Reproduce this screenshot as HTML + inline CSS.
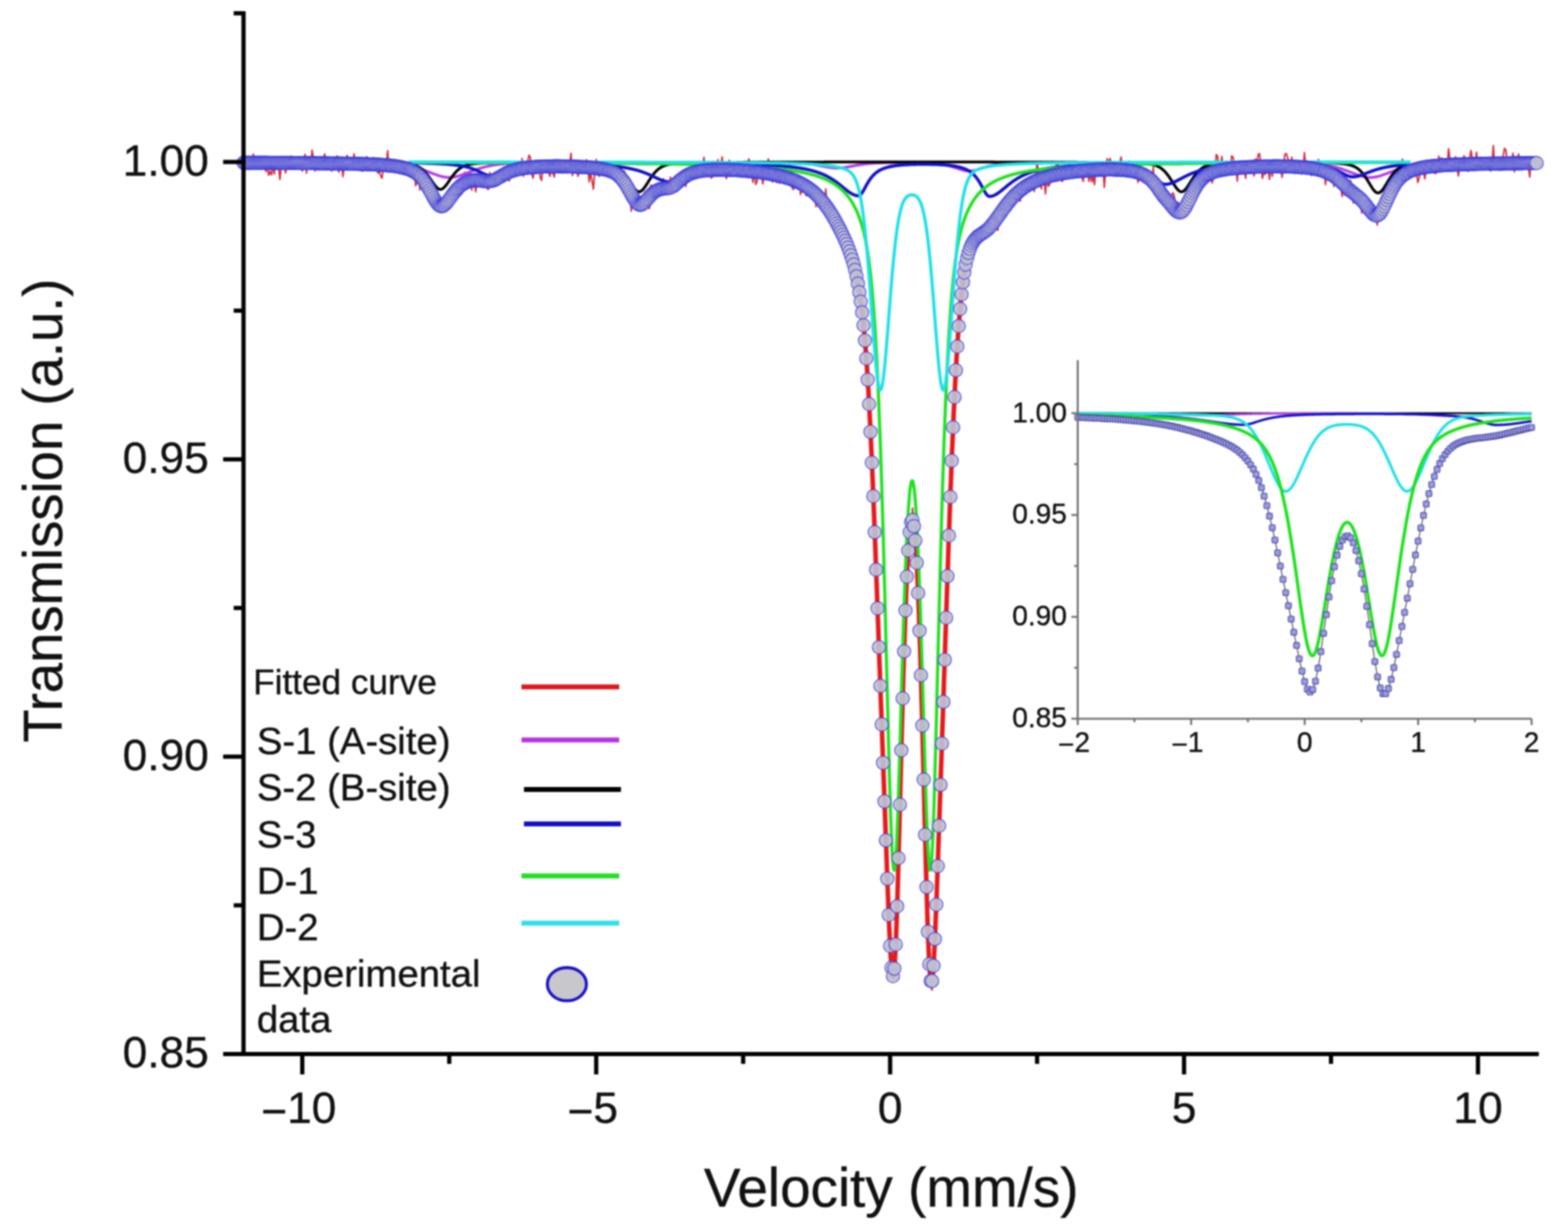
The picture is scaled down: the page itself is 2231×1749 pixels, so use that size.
<!DOCTYPE html><html><head><meta charset="utf-8"><title>Mossbauer spectrum</title><style>html,body{margin:0;padding:0;background:#fff;overflow:hidden;}svg{display:block;}#wrap{filter:blur(1px);width:2231px;height:1749px;}text{font-family:"Liberation Sans",Arial,sans-serif;fill:#111;stroke:#111;stroke-width:0.5px;}</style></head><body>
<div id="wrap">
<svg width="2231" height="1749" viewBox="0 0 2231 1749">
<rect width="100%" height="100%" fill="#fff"/>
<polyline fill="none" stroke="#d42a36" stroke-width="2.2" stroke-linejoin="round" points="346.5,231.6 348.5,228.8 350.4,234.2 352.4,239.9 354.4,235.9 356.4,240.9 358.4,231.1 360.4,219.2 362.4,236.2 364.4,237.4 366.4,227.1 368.4,232.8 370.4,230.7 372.3,240.4 374.3,232.0 376.3,225.2 378.3,244.2 380.3,236.0 382.3,249.5 384.3,243.8 386.3,248.9 388.3,234.0 390.3,247.7 392.3,229.3 394.3,230.4 396.2,233.6 398.2,255.3 400.2,236.9 402.2,232.3 404.2,230.8 406.2,246.1 408.2,236.4 410.2,241.0 412.2,239.5 414.2,222.1 416.2,239.5 418.2,232.3 420.1,223.8 422.1,237.4 424.1,233.1 426.1,231.0 428.1,231.5 430.1,243.5 432.1,231.4 434.1,219.5 436.1,246.5 438.1,224.1 440.1,231.0 442.0,238.1 444.0,213.6 446.0,225.1 448.0,243.4 450.0,231.6 452.0,226.9 454.0,234.1 456.0,226.0 458.0,233.0 460.0,226.2 462.0,219.0 464.0,238.7 465.9,230.5 467.9,236.8 469.9,231.3 471.9,243.6 473.9,237.9 475.9,234.4 477.9,224.2 479.9,222.0 481.9,245.0 483.9,240.1 485.9,229.5 487.9,251.3 489.8,237.1 491.8,233.7 493.8,221.2 495.8,226.5 497.8,236.0 499.8,236.4 501.8,235.4 503.8,218.9 505.8,237.1 507.8,236.0 509.8,230.0 511.7,234.4 513.7,235.2 515.7,243.8 517.7,233.6 519.7,237.7 521.7,222.8 523.7,227.6 525.7,234.0 527.7,227.6 529.7,237.1 531.7,224.2 533.7,231.0 535.6,228.8 537.6,246.3 539.6,243.7 541.6,250.3 543.6,253.6 545.6,237.6 547.6,243.3 549.6,233.6 551.6,214.4 553.6,243.2 555.6,241.5 557.6,234.0 559.5,231.6 561.5,238.1 563.5,238.6 565.5,230.5 567.5,232.5 569.5,247.4 571.5,238.9 573.5,238.3 575.5,248.9 577.5,237.2 579.5,248.2 581.4,231.9 583.4,239.9 585.4,241.7 587.4,249.0 589.4,245.7 591.4,264.4 593.4,257.8 595.4,245.5 597.4,270.5 599.4,244.9 601.4,271.3 603.4,250.6 605.3,268.4 607.3,256.5 609.3,265.9 611.3,285.0 613.3,262.7 615.3,264.7 617.3,282.4 619.3,287.8 621.3,289.8 623.3,293.9 625.3,282.3 627.3,298.4 629.2,293.8 631.2,299.9 633.2,296.7 635.2,300.7 637.2,274.6 639.2,285.1 641.2,271.9 643.2,278.0 645.2,281.9 647.2,275.9 649.2,275.7 651.1,268.3 653.1,271.7 655.1,267.4 657.1,275.9 659.1,269.2 661.1,245.1 663.1,265.7 665.1,268.4 667.1,254.8 669.1,244.3 671.1,270.5 673.1,258.6 675.0,262.3 677.0,272.8 679.0,249.6 681.0,256.8 683.0,256.1 685.0,264.1 687.0,253.1 689.0,262.7 691.0,259.2 693.0,268.4 695.0,269.4 697.0,245.5 698.9,262.3 700.9,254.3 702.9,256.6 704.9,259.5 706.9,259.1 708.9,247.3 710.9,254.8 712.9,252.3 714.9,249.5 716.9,237.6 718.9,241.2 720.8,242.9 722.8,250.8 724.8,257.6 726.8,235.1 728.8,234.2 730.8,250.5 732.8,236.9 734.8,234.2 736.8,233.2 738.8,231.9 740.8,244.3 742.8,225.6 744.7,251.0 746.7,231.1 748.7,234.3 750.7,230.5 752.7,220.9 754.7,224.4 756.7,248.7 758.7,253.6 760.7,230.1 762.7,247.0 764.7,237.6 766.7,229.5 768.6,252.5 770.6,256.8 772.6,234.7 774.6,236.6 776.6,239.2 778.6,236.5 780.6,244.9 782.6,250.9 784.6,238.3 786.6,245.8 788.6,252.0 790.5,232.0 792.5,237.3 794.5,233.0 796.5,246.0 798.5,242.9 800.5,246.1 802.5,245.1 804.5,235.0 806.5,244.2 808.5,233.6 810.5,233.8 812.5,218.2 814.4,250.0 816.4,228.9 818.4,238.0 820.4,237.4 822.4,250.9 824.4,241.8 826.4,230.6 828.4,238.4 830.4,237.0 832.4,240.6 834.4,227.3 836.4,238.4 838.3,258.8 840.3,245.0 842.3,257.0 844.3,269.2 846.3,244.0 848.3,226.9 850.3,239.1 852.3,250.7 854.3,248.9 856.3,229.9 858.3,239.3 860.2,240.7 862.2,242.1 864.2,241.7 866.2,235.2 868.2,238.2 870.2,242.0 872.2,254.6 874.2,255.0 876.2,253.5 878.2,238.3 880.2,261.9 882.2,253.2 884.1,254.2 886.1,268.8 888.1,243.2 890.1,248.6 892.1,269.8 894.1,261.8 896.1,269.1 898.1,300.6 900.1,277.6 902.1,283.9 904.1,285.6 906.1,298.9 908.0,293.1 910.0,293.0 912.0,280.3 914.0,287.3 916.0,289.0 918.0,272.7 920.0,289.9 922.0,286.0 924.0,297.0 926.0,263.3 928.0,267.0 929.9,277.7 931.9,266.5 933.9,270.5 935.9,268.5 937.9,272.1 939.9,271.1 941.9,268.2 943.9,254.3 945.9,263.0 947.9,268.5 949.9,273.1 951.9,273.3 953.8,252.0 955.8,261.4 957.8,264.3 959.8,266.7 961.8,272.1 963.8,260.6 965.8,250.1 967.8,260.1 969.8,256.9 971.8,255.3 973.8,250.8 975.8,265.4 977.7,251.6 979.7,256.3 981.7,239.3 983.7,253.9 985.7,240.6 987.7,231.2 989.7,244.0 991.7,249.9 993.7,242.1 995.7,243.5 997.7,252.4 999.6,238.6 1001.6,223.9 1003.6,244.8 1005.6,244.1 1007.6,251.8 1009.6,238.9 1011.6,253.4 1013.6,252.0 1015.6,229.7 1017.6,250.0 1019.6,231.5 1021.6,227.3 1023.5,239.1 1025.5,236.3 1027.5,223.3 1029.5,243.3 1031.5,247.1 1033.5,254.2 1035.5,241.2 1037.5,227.9 1039.5,232.8 1041.5,250.6 1043.5,249.9 1045.5,246.7 1047.4,239.4 1049.4,244.2 1051.4,240.4 1053.4,239.7 1055.4,245.4 1057.4,243.2 1059.4,241.0 1061.4,243.9 1063.4,238.6 1065.4,226.0 1067.4,238.1 1069.3,243.3 1071.3,259.7 1073.3,240.7 1075.3,262.6 1077.3,257.9 1079.3,237.0 1081.3,238.7 1083.3,246.9 1085.3,261.7 1087.3,249.5 1089.3,252.7 1091.3,240.8 1093.2,226.0 1095.2,245.4 1097.2,255.0 1099.2,259.0 1101.2,249.0 1103.2,250.5 1105.2,260.0 1107.2,248.7 1109.2,261.0 1111.2,240.4 1113.2,241.3 1115.2,241.7 1117.1,256.7 1119.1,248.1 1121.1,254.7 1123.1,257.8 1125.1,258.0 1127.1,267.7 1129.1,269.8 1131.1,249.7 1133.1,259.7 1135.1,256.8 1137.1,250.4 1139.0,276.9 1141.0,269.1 1143.0,261.3 1145.0,260.5 1147.0,278.7 1149.0,257.1 1151.0,266.1 1153.0,280.9 1155.0,279.8 1157.0,265.3 1159.0,270.2 1161.0,294.1 1162.9,265.8 1164.9,274.9 1166.9,270.1 1168.9,288.5 1170.9,290.1 1172.9,300.4 1174.9,268.9 1176.9,296.9 1178.9,283.4 1180.9,307.2 1182.9,302.8 1184.9,323.2 1186.8,314.6 1188.8,305.3 1190.8,329.8 1192.8,311.9 1194.8,322.6 1196.8,339.5 1198.8,338.6 1200.8,342.5 1202.8,343.2 1204.8,352.4 1206.8,360.1 1208.7,360.5 1210.7,372.9 1212.7,381.5 1214.7,376.9 1216.7,376.0 1218.7,407.4 1220.7,403.6 1222.7,421.9 1224.7,438.4 1226.7,436.8 1228.7,467.7 1230.7,470.5 1232.6,516.8 1234.6,536.7 1236.6,577.2 1238.6,621.5 1240.6,652.9 1242.6,707.6 1244.6,751.6 1246.6,811.2 1248.6,875.7 1250.6,921.9 1252.6,975.6 1254.6,1021.9 1256.5,1093.9 1258.5,1140.9 1260.5,1211.9 1262.5,1244.5 1264.5,1312.2 1266.5,1363.0 1268.5,1377.6 1270.5,1378.8 1272.5,1392.5 1274.5,1354.3 1276.5,1296.7 1278.4,1231.6 1280.4,1141.5 1282.4,1075.2 1284.4,1000.6 1286.4,921.4 1288.4,875.7 1290.4,816.5 1292.4,792.4 1294.4,768.7 1296.4,760.1 1298.4,722.8 1300.4,751.8 1302.3,766.9 1304.3,801.2 1306.3,842.4 1308.3,897.1 1310.3,943.2 1312.3,1042.1 1314.3,1123.9 1316.3,1197.3 1318.3,1274.7 1320.3,1318.9 1322.3,1364.4 1324.3,1404.9 1326.2,1408.9 1328.2,1377.7 1330.2,1323.4 1332.2,1313.7 1334.2,1227.7 1336.2,1185.2 1338.2,1107.1 1340.2,1068.1 1342.2,1001.5 1344.2,953.0 1346.2,888.2 1348.1,806.9 1350.1,754.5 1352.1,710.9 1354.1,663.7 1356.1,625.7 1358.1,568.8 1360.1,527.1 1362.1,494.0 1364.1,465.1 1366.1,450.0 1368.1,419.5 1370.1,402.1 1372.0,375.7 1374.0,359.0 1376.0,368.5 1378.0,367.0 1380.0,354.6 1382.0,354.9 1384.0,341.5 1386.0,342.8 1388.0,349.5 1390.0,332.0 1392.0,336.9 1394.0,332.1 1395.9,334.8 1397.9,328.2 1399.9,339.4 1401.9,331.4 1403.9,332.8 1405.9,323.7 1407.9,323.9 1409.9,334.3 1411.9,318.6 1413.9,329.2 1415.9,319.8 1417.8,314.1 1419.8,327.9 1421.8,304.9 1423.8,301.6 1425.8,301.6 1427.8,301.4 1429.8,298.2 1431.8,301.1 1433.8,292.0 1435.8,292.1 1437.8,283.8 1439.8,293.6 1441.7,278.0 1443.7,276.8 1445.7,277.5 1447.7,278.4 1449.7,267.4 1451.7,286.4 1453.7,265.0 1455.7,265.6 1457.7,263.8 1459.7,261.5 1461.7,269.9 1463.7,265.1 1465.6,255.6 1467.6,256.4 1469.6,257.5 1471.6,272.6 1473.6,252.6 1475.6,230.0 1477.6,246.5 1479.6,253.0 1481.6,268.9 1483.6,244.9 1485.6,254.4 1487.5,276.0 1489.5,248.3 1491.5,265.1 1493.5,262.8 1495.5,256.1 1497.5,240.8 1499.5,252.7 1501.5,246.2 1503.5,232.1 1505.5,233.1 1507.5,248.5 1509.5,249.4 1511.4,258.5 1513.4,252.9 1515.4,242.1 1517.4,242.1 1519.4,244.5 1521.4,235.9 1523.4,252.1 1525.4,245.2 1527.4,237.6 1529.4,238.7 1531.4,234.0 1533.4,240.0 1535.3,246.4 1537.3,239.9 1539.3,252.5 1541.3,258.2 1543.3,237.4 1545.3,243.1 1547.3,239.6 1549.3,258.1 1551.3,245.6 1553.3,258.7 1555.3,250.0 1557.2,262.8 1559.2,244.8 1561.2,233.3 1563.2,238.0 1565.2,247.1 1567.2,241.5 1569.2,234.3 1571.2,267.0 1573.2,242.4 1575.2,225.8 1577.2,234.9 1579.2,225.4 1581.1,230.6 1583.1,238.3 1585.1,238.4 1587.1,234.0 1589.1,246.4 1591.1,241.8 1593.1,233.1 1595.1,223.4 1597.1,243.3 1599.1,242.4 1601.1,240.3 1603.1,229.8 1605.0,242.9 1607.0,229.2 1609.0,252.2 1611.0,245.2 1613.0,245.7 1615.0,237.0 1617.0,235.1 1619.0,259.5 1621.0,254.6 1623.0,243.7 1625.0,253.8 1626.9,259.6 1628.9,239.9 1630.9,246.2 1632.9,247.5 1634.9,258.0 1636.9,245.7 1638.9,259.5 1640.9,237.7 1642.9,270.2 1644.9,272.2 1646.9,265.0 1648.9,276.3 1650.8,266.4 1652.8,273.1 1654.8,286.9 1656.8,280.1 1658.8,286.3 1660.8,276.8 1662.8,293.6 1664.8,294.2 1666.8,281.3 1668.8,274.2 1670.8,278.7 1672.8,298.8 1674.7,299.0 1676.7,287.8 1678.7,303.6 1680.7,311.0 1682.7,299.4 1684.7,293.9 1686.7,302.8 1688.7,306.8 1690.7,300.9 1692.7,277.2 1694.7,286.3 1696.6,276.5 1698.6,269.4 1700.6,262.0 1702.6,267.6 1704.6,256.8 1706.6,267.1 1708.6,259.8 1710.6,263.9 1712.6,242.0 1714.6,251.2 1716.6,256.4 1718.6,251.5 1720.5,249.3 1722.5,239.8 1724.5,260.4 1726.5,254.5 1728.5,247.7 1730.5,220.1 1732.5,222.1 1734.5,243.7 1736.5,235.6 1738.5,222.7 1740.5,243.6 1742.5,244.5 1744.4,229.5 1746.4,235.9 1748.4,234.0 1750.4,244.7 1752.4,221.8 1754.4,223.6 1756.4,234.0 1758.4,232.7 1760.4,257.8 1762.4,232.8 1764.4,240.4 1766.3,234.4 1768.3,231.9 1770.3,241.3 1772.3,253.7 1774.3,234.4 1776.3,244.7 1778.3,240.7 1780.3,243.2 1782.3,240.6 1784.3,250.3 1786.3,226.0 1788.3,234.9 1790.2,219.5 1792.2,218.7 1794.2,236.8 1796.2,253.8 1798.2,245.3 1800.2,248.1 1802.2,241.5 1804.2,236.1 1806.2,255.4 1808.2,233.6 1810.2,250.8 1812.2,234.0 1814.1,237.8 1816.1,239.6 1818.1,237.4 1820.1,241.8 1822.1,237.3 1824.1,252.4 1826.1,237.1 1828.1,219.7 1830.1,218.4 1832.1,224.6 1834.1,230.4 1836.0,239.3 1838.0,223.7 1840.0,237.7 1842.0,237.9 1844.0,240.1 1846.0,236.6 1848.0,241.6 1850.0,238.5 1852.0,248.0 1854.0,241.5 1856.0,217.0 1858.0,239.1 1859.9,240.8 1861.9,233.9 1863.9,232.5 1865.9,249.8 1867.9,241.7 1869.9,231.5 1871.9,238.0 1873.9,239.8 1875.9,226.9 1877.9,248.2 1879.9,241.7 1881.9,247.9 1883.8,229.9 1885.8,262.6 1887.8,251.5 1889.8,251.1 1891.8,241.0 1893.8,242.6 1895.8,236.4 1897.8,265.3 1899.8,245.0 1901.8,256.2 1903.8,261.2 1905.7,251.6 1907.7,267.0 1909.7,279.6 1911.7,265.6 1913.7,278.1 1915.7,272.1 1917.7,264.5 1919.7,266.9 1921.7,256.8 1923.7,275.1 1925.7,289.0 1927.7,283.3 1929.6,286.4 1931.6,290.8 1933.6,277.1 1935.6,289.0 1937.6,303.4 1939.6,280.7 1941.6,290.6 1943.6,288.7 1945.6,293.6 1947.6,291.3 1949.6,299.4 1951.6,290.7 1953.5,300.3 1955.5,302.2 1957.5,302.9 1959.5,320.3 1961.5,307.3 1963.5,306.2 1965.5,296.7 1967.5,310.1 1969.5,278.2 1971.5,288.1 1973.5,293.6 1975.4,296.2 1977.4,278.6 1979.4,262.7 1981.4,274.9 1983.4,263.9 1985.4,267.5 1987.4,253.6 1989.4,262.9 1991.4,254.3 1993.4,242.8 1995.4,226.3 1997.4,258.1 1999.3,251.6 2001.3,253.9 2003.3,237.7 2005.3,254.8 2007.3,247.7 2009.3,242.7 2011.3,250.9 2013.3,250.1 2015.3,245.0 2017.3,259.6 2019.3,253.0 2021.3,242.9 2023.2,237.3 2025.2,240.0 2027.2,254.5 2029.2,242.0 2031.2,229.9 2033.2,231.9 2035.2,237.5 2037.2,244.8 2039.2,230.5 2041.2,246.7 2043.2,246.8 2045.1,243.2 2047.1,222.1 2049.1,233.4 2051.1,224.5 2053.1,239.6 2055.1,226.3 2057.1,240.5 2059.1,236.3 2061.1,211.5 2063.1,227.4 2065.1,239.2 2067.1,235.2 2069.0,231.3 2071.0,223.0 2073.0,238.7 2075.0,250.3 2077.0,236.6 2079.0,233.8 2081.0,232.8 2083.0,221.5 2085.0,230.8 2087.0,226.1 2089.0,243.8 2091.0,225.5 2092.9,214.0 2094.9,226.2 2096.9,231.0 2098.9,231.9 2100.9,216.6 2102.9,241.9 2104.9,234.2 2106.9,228.9 2108.9,226.2 2110.9,237.1 2112.9,230.2 2114.8,235.6 2116.8,231.8 2118.8,234.1 2120.8,243.5 2122.8,233.0 2124.8,207.0 2126.8,241.8 2128.8,235.0 2130.8,226.5 2132.8,242.6 2134.8,230.9 2136.8,242.5 2138.7,222.0 2140.7,211.0 2142.7,213.7 2144.7,234.6 2146.7,225.6 2148.7,231.3 2150.7,231.5 2152.7,218.0 2154.7,244.7 2156.7,222.5 2158.7,232.8 2160.7,219.2 2162.6,230.6 2164.6,238.5 2166.6,229.7 2168.6,225.4 2170.6,231.9 2172.6,227.7 2174.6,238.1 2176.6,252.0 2178.6,223.8 2180.6,225.6 2182.6,230.7 2184.5,231.5 2186.5,222.4"/>
<polyline fill="none" stroke="#e41a1c" stroke-width="6.5" stroke-linejoin="round" points="346.5,231.6 346.9,231.6 347.3,231.6 347.7,231.6 348.1,231.6 348.6,231.6 349.0,231.6 349.4,231.6 349.8,231.6 350.2,231.6 350.6,231.6 351.1,231.6 351.5,231.6 351.9,231.6 352.3,231.6 352.7,231.6 353.2,231.6 353.6,231.6 354.0,231.6 354.4,231.6 354.8,231.6 355.2,231.6 355.7,231.6 356.1,231.6 356.5,231.6 356.9,231.6 357.3,231.6 357.8,231.6 358.2,231.6 358.6,231.6 359.0,231.6 359.4,231.6 359.8,231.6 360.3,231.6 360.7,231.6 361.1,231.6 361.5,231.7 361.9,231.7 362.4,231.7 362.8,231.7 363.2,231.7 363.6,231.7 364.0,231.7 364.4,231.7 364.9,231.7 365.3,231.7 365.7,231.7 366.1,231.7 366.5,231.7 367.0,231.7 367.4,231.7 367.8,231.7 368.2,231.7 368.6,231.7 369.0,231.7 369.5,231.7 369.9,231.7 370.3,231.7 370.7,231.7 371.1,231.7 371.6,231.7 372.0,231.7 372.4,231.7 372.8,231.7 373.2,231.7 373.6,231.7 374.1,231.7 374.5,231.7 374.9,231.7 375.3,231.7 375.7,231.7 376.2,231.7 376.6,231.7 377.0,231.7 377.4,231.7 377.8,231.7 378.2,231.7 378.7,231.7 379.1,231.7 379.5,231.7 379.9,231.7 380.3,231.7 380.8,231.7 381.2,231.7 381.6,231.7 382.0,231.8 382.4,231.8 382.8,231.8 383.3,231.8 383.7,231.8 384.1,231.8 384.5,231.8 384.9,231.8 385.4,231.8 385.8,231.8 386.2,231.8 386.6,231.8 387.0,231.8 387.4,231.8 387.9,231.8 388.3,231.8 388.7,231.8 389.1,231.8 389.5,231.8 390.0,231.8 390.4,231.8 390.8,231.8 391.2,231.8 391.6,231.8 392.0,231.8 392.5,231.8 392.9,231.8 393.3,231.8 393.7,231.8 394.1,231.8 394.6,231.8 395.0,231.8 395.4,231.8 395.8,231.8 396.2,231.8 396.6,231.8 397.1,231.8 397.5,231.8 397.9,231.8 398.3,231.8 398.7,231.8 399.2,231.8 399.6,231.9 400.0,231.9 400.4,231.9 400.8,231.9 401.2,231.9 401.7,231.9 402.1,231.9 402.5,231.9 402.9,231.9 403.3,231.9 403.8,231.9 404.2,231.9 404.6,231.9 405.0,231.9 405.4,231.9 405.8,231.9 406.3,231.9 406.7,231.9 407.1,231.9 407.5,231.9 407.9,231.9 408.4,231.9 408.8,231.9 409.2,231.9 409.6,231.9 410.0,231.9 410.4,231.9 410.9,231.9 411.3,231.9 411.7,231.9 412.1,231.9 412.5,231.9 413.0,231.9 413.4,231.9 413.8,231.9 414.2,231.9 414.6,231.9 415.0,232.0 415.5,232.0 415.9,232.0 416.3,232.0 416.7,232.0 417.1,232.0 417.6,232.0 418.0,232.0 418.4,232.0 418.8,232.0 419.2,232.0 419.6,232.0 420.1,232.0 420.5,232.0 420.9,232.0 421.3,232.0 421.7,232.0 422.2,232.0 422.6,232.0 423.0,232.0 423.4,232.0 423.8,232.0 424.2,232.0 424.7,232.0 425.1,232.0 425.5,232.0 425.9,232.0 426.3,232.0 426.8,232.0 427.2,232.0 427.6,232.0 428.0,232.1 428.4,232.1 428.8,232.1 429.3,232.1 429.7,232.1 430.1,232.1 430.5,232.1 430.9,232.1 431.4,232.1 431.8,232.1 432.2,232.1 432.6,232.1 433.0,232.1 433.4,232.1 433.9,232.1 434.3,232.1 434.7,232.1 435.1,232.1 435.5,232.1 436.0,232.1 436.4,232.1 436.8,232.1 437.2,232.1 437.6,232.1 438.0,232.1 438.5,232.1 438.9,232.1 439.3,232.1 439.7,232.2 440.1,232.2 440.6,232.2 441.0,232.2 441.4,232.2 441.8,232.2 442.2,232.2 442.6,232.2 443.1,232.2 443.5,232.2 443.9,232.2 444.3,232.2 444.7,232.2 445.2,232.2 445.6,232.2 446.0,232.2 446.4,232.2 446.8,232.2 447.2,232.2 447.7,232.2 448.1,232.2 448.5,232.2 448.9,232.2 449.3,232.2 449.8,232.3 450.2,232.3 450.6,232.3 451.0,232.3 451.4,232.3 451.8,232.3 452.3,232.3 452.7,232.3 453.1,232.3 453.5,232.3 453.9,232.3 454.4,232.3 454.8,232.3 455.2,232.3 455.6,232.3 456.0,232.3 456.4,232.3 456.9,232.3 457.3,232.3 457.7,232.3 458.1,232.3 458.5,232.3 459.0,232.4 459.4,232.4 459.8,232.4 460.2,232.4 460.6,232.4 461.0,232.4 461.5,232.4 461.9,232.4 462.3,232.4 462.7,232.4 463.1,232.4 463.6,232.4 464.0,232.4 464.4,232.4 464.8,232.4 465.2,232.4 465.6,232.4 466.1,232.4 466.5,232.4 466.9,232.5 467.3,232.5 467.7,232.5 468.2,232.5 468.6,232.5 469.0,232.5 469.4,232.5 469.8,232.5 470.2,232.5 470.7,232.5 471.1,232.5 471.5,232.5 471.9,232.5 472.3,232.5 472.8,232.5 473.2,232.5 473.6,232.5 474.0,232.5 474.4,232.6 474.8,232.6 475.3,232.6 475.7,232.6 476.1,232.6 476.5,232.6 476.9,232.6 477.4,232.6 477.8,232.6 478.2,232.6 478.6,232.6 479.0,232.6 479.4,232.6 479.9,232.6 480.3,232.6 480.7,232.6 481.1,232.7 481.5,232.7 482.0,232.7 482.4,232.7 482.8,232.7 483.2,232.7 483.6,232.7 484.0,232.7 484.5,232.7 484.9,232.7 485.3,232.7 485.7,232.7 486.1,232.7 486.6,232.7 487.0,232.8 487.4,232.8 487.8,232.8 488.2,232.8 488.6,232.8 489.1,232.8 489.5,232.8 489.9,232.8 490.3,232.8 490.7,232.8 491.2,232.8 491.6,232.8 492.0,232.8 492.4,232.9 492.8,232.9 493.2,232.9 493.7,232.9 494.1,232.9 494.5,232.9 494.9,232.9 495.3,232.9 495.8,232.9 496.2,232.9 496.6,232.9 497.0,232.9 497.4,233.0 497.8,233.0 498.3,233.0 498.7,233.0 499.1,233.0 499.5,233.0 499.9,233.0 500.4,233.0 500.8,233.0 501.2,233.0 501.6,233.0 502.0,233.1 502.4,233.1 502.9,233.1 503.3,233.1 503.7,233.1 504.1,233.1 504.5,233.1 505.0,233.1 505.4,233.1 505.8,233.1 506.2,233.2 506.6,233.2 507.0,233.2 507.5,233.2 507.9,233.2 508.3,233.2 508.7,233.2 509.1,233.2 509.6,233.2 510.0,233.3 510.4,233.3 510.8,233.3 511.2,233.3 511.6,233.3 512.1,233.3 512.5,233.3 512.9,233.3 513.3,233.3 513.7,233.4 514.2,233.4 514.6,233.4 515.0,233.4 515.4,233.4 515.8,233.4 516.2,233.4 516.7,233.4 517.1,233.5 517.5,233.5 517.9,233.5 518.3,233.5 518.8,233.5 519.2,233.5 519.6,233.5 520.0,233.6 520.4,233.6 520.8,233.6 521.3,233.6 521.7,233.6 522.1,233.6 522.5,233.6 522.9,233.7 523.4,233.7 523.8,233.7 524.2,233.7 524.6,233.7 525.0,233.7 525.4,233.7 525.9,233.8 526.3,233.8 526.7,233.8 527.1,233.8 527.5,233.8 528.0,233.8 528.4,233.9 528.8,233.9 529.2,233.9 529.6,233.9 530.0,233.9 530.5,234.0 530.9,234.0 531.3,234.0 531.7,234.0 532.1,234.0 532.6,234.0 533.0,234.1 533.4,234.1 533.8,234.1 534.2,234.1 534.7,234.1 535.1,234.2 535.5,234.2 535.9,234.2 536.3,234.2 536.7,234.3 537.2,234.3 537.6,234.3 538.0,234.3 538.4,234.3 538.8,234.4 539.3,234.4 539.7,234.4 540.1,234.4 540.5,234.5 540.9,234.5 541.3,234.5 541.8,234.5 542.2,234.6 542.6,234.6 543.0,234.6 543.4,234.7 543.9,234.7 544.3,234.7 544.7,234.7 545.1,234.8 545.5,234.8 545.9,234.8 546.4,234.9 546.8,234.9 547.2,234.9 547.6,235.0 548.0,235.0 548.5,235.0 548.9,235.1 549.3,235.1 549.7,235.1 550.1,235.2 550.5,235.2 551.0,235.2 551.4,235.3 551.8,235.3 552.2,235.4 552.6,235.4 553.1,235.4 553.5,235.5 553.9,235.5 554.3,235.6 554.7,235.6 555.1,235.6 555.6,235.7 556.0,235.7 556.4,235.8 556.8,235.8 557.2,235.9 557.7,235.9 558.1,236.0 558.5,236.0 558.9,236.1 559.3,236.1 559.7,236.2 560.2,236.2 560.6,236.3 561.0,236.4 561.4,236.4 561.8,236.5 562.3,236.5 562.7,236.6 563.1,236.6 563.5,236.7 563.9,236.8 564.3,236.8 564.8,236.9 565.2,237.0 565.6,237.0 566.0,237.1 566.4,237.2 566.9,237.3 567.3,237.3 567.7,237.4 568.1,237.5 568.5,237.6 568.9,237.6 569.4,237.7 569.8,237.8 570.2,237.9 570.6,238.0 571.0,238.1 571.5,238.1 571.9,238.2 572.3,238.3 572.7,238.4 573.1,238.5 573.5,238.6 574.0,238.7 574.4,238.8 574.8,238.9 575.2,239.0 575.6,239.1 576.1,239.3 576.5,239.4 576.9,239.5 577.3,239.6 577.7,239.7 578.1,239.8 578.6,240.0 579.0,240.1 579.4,240.2 579.8,240.4 580.2,240.5 580.7,240.6 581.1,240.8 581.5,240.9 581.9,241.1 582.3,241.2 582.7,241.4 583.2,241.6 583.6,241.7 584.0,241.9 584.4,242.1 584.8,242.3 585.3,242.4 585.7,242.6 586.1,242.8 586.5,243.0 586.9,243.2 587.3,243.4 587.8,243.7 588.2,243.9 588.6,244.1 589.0,244.3 589.4,244.6 589.9,244.8 590.3,245.1 590.7,245.4 591.1,245.6 591.5,245.9 591.9,246.2 592.4,246.5 592.8,246.8 593.2,247.1 593.6,247.4 594.0,247.7 594.5,248.1 594.9,248.4 595.3,248.8 595.7,249.1 596.1,249.5 596.5,249.9 597.0,250.3 597.4,250.7 597.8,251.1 598.2,251.5 598.6,252.0 599.1,252.4 599.5,252.9 599.9,253.3 600.3,253.8 600.7,254.3 601.1,254.8 601.6,255.3 602.0,255.9 602.4,256.4 602.8,257.0 603.2,257.5 603.7,258.1 604.1,258.7 604.5,259.3 604.9,259.9 605.3,260.5 605.7,261.2 606.2,261.8 606.6,262.5 607.0,263.2 607.4,263.8 607.8,264.5 608.3,265.2 608.7,265.9 609.1,266.7 609.5,267.4 609.9,268.1 610.3,268.9 610.8,269.6 611.2,270.4 611.6,271.2 612.0,271.9 612.4,272.7 612.9,273.5 613.3,274.3 613.7,275.1 614.1,275.9 614.5,276.7 614.9,277.4 615.4,278.2 615.8,279.0 616.2,279.8 616.6,280.6 617.0,281.3 617.5,282.1 617.9,282.8 618.3,283.6 618.7,284.3 619.1,285.0 619.5,285.7 620.0,286.4 620.4,287.0 620.8,287.6 621.2,288.2 621.6,288.8 622.1,289.4 622.5,289.9 622.9,290.4 623.3,290.8 623.7,291.3 624.1,291.7 624.6,292.0 625.0,292.3 625.4,292.6 625.8,292.9 626.2,293.1 626.7,293.2 627.1,293.3 627.5,293.4 627.9,293.5 628.3,293.5 628.7,293.4 629.2,293.4 629.6,293.3 630.0,293.1 630.4,292.9 630.8,292.7 631.3,292.5 631.7,292.2 632.1,291.9 632.5,291.5 632.9,291.2 633.3,290.8 633.8,290.4 634.2,289.9 634.6,289.5 635.0,289.0 635.4,288.5 635.9,288.0 636.3,287.5 636.7,287.0 637.1,286.5 637.5,285.9 637.9,285.4 638.4,284.8 638.8,284.2 639.2,283.6 639.6,283.1 640.0,282.5 640.5,281.9 640.9,281.3 641.3,280.7 641.7,280.2 642.1,279.6 642.5,279.0 643.0,278.4 643.4,277.8 643.8,277.3 644.2,276.7 644.6,276.2 645.1,275.6 645.5,275.1 645.9,274.5 646.3,274.0 646.7,273.4 647.1,272.9 647.6,272.4 648.0,271.9 648.4,271.4 648.8,270.9 649.2,270.4 649.7,270.0 650.1,269.5 650.5,269.0 650.9,268.6 651.3,268.2 651.7,267.7 652.2,267.3 652.6,266.9 653.0,266.5 653.4,266.1 653.8,265.7 654.3,265.4 654.7,265.0 655.1,264.6 655.5,264.3 655.9,264.0 656.3,263.6 656.8,263.3 657.2,263.0 657.6,262.7 658.0,262.4 658.4,262.1 658.9,261.8 659.3,261.6 659.7,261.3 660.1,261.1 660.5,260.8 660.9,260.6 661.4,260.3 661.8,260.1 662.2,259.9 662.6,259.7 663.0,259.5 663.5,259.3 663.9,259.1 664.3,258.9 664.7,258.8 665.1,258.6 665.5,258.5 666.0,258.3 666.4,258.2 666.8,258.0 667.2,257.9 667.6,257.8 668.1,257.6 668.5,257.5 668.9,257.4 669.3,257.3 669.7,257.2 670.1,257.1 670.6,257.0 671.0,257.0 671.4,256.9 671.8,256.8 672.2,256.8 672.7,256.7 673.1,256.6 673.5,256.6 673.9,256.6 674.3,256.5 674.7,256.5 675.2,256.5 675.6,256.4 676.0,256.4 676.4,256.4 676.8,256.4 677.3,256.4 677.7,256.4 678.1,256.4 678.5,256.4 678.9,256.4 679.3,256.5 679.8,256.5 680.2,256.5 680.6,256.5 681.0,256.6 681.4,256.6 681.9,256.7 682.3,256.7 682.7,256.7 683.1,256.8 683.5,256.9 683.9,256.9 684.4,257.0 684.8,257.0 685.2,257.1 685.6,257.1 686.0,257.2 686.5,257.3 686.9,257.3 687.3,257.4 687.7,257.5 688.1,257.5 688.5,257.6 689.0,257.6 689.4,257.7 689.8,257.8 690.2,257.8 690.6,257.9 691.1,257.9 691.5,257.9 691.9,258.0 692.3,258.0 692.7,258.0 693.1,258.0 693.6,258.1 694.0,258.1 694.4,258.1 694.8,258.1 695.2,258.0 695.7,258.0 696.1,258.0 696.5,257.9 696.9,257.9 697.3,257.8 697.7,257.8 698.2,257.7 698.6,257.6 699.0,257.5 699.4,257.4 699.8,257.3 700.3,257.2 700.7,257.1 701.1,256.9 701.5,256.8 701.9,256.7 702.3,256.5 702.8,256.3 703.2,256.2 703.6,256.0 704.0,255.8 704.4,255.6 704.9,255.4 705.3,255.2 705.7,255.0 706.1,254.8 706.5,254.5 706.9,254.3 707.4,254.1 707.8,253.8 708.2,253.6 708.6,253.4 709.0,253.1 709.5,252.9 709.9,252.6 710.3,252.4 710.7,252.1 711.1,251.9 711.5,251.6 712.0,251.4 712.4,251.1 712.8,250.9 713.2,250.7 713.6,250.4 714.1,250.2 714.5,249.9 714.9,249.7 715.3,249.4 715.7,249.2 716.1,249.0 716.6,248.7 717.0,248.5 717.4,248.3 717.8,248.0 718.2,247.8 718.7,247.6 719.1,247.4 719.5,247.2 719.9,247.0 720.3,246.8 720.7,246.5 721.2,246.3 721.6,246.1 722.0,246.0 722.4,245.8 722.8,245.6 723.3,245.4 723.7,245.2 724.1,245.0 724.5,244.8 724.9,244.7 725.3,244.5 725.8,244.3 726.2,244.2 726.6,244.0 727.0,243.9 727.4,243.7 727.9,243.6 728.3,243.4 728.7,243.3 729.1,243.1 729.5,243.0 729.9,242.8 730.4,242.7 730.8,242.6 731.2,242.4 731.6,242.3 732.0,242.2 732.5,242.1 732.9,241.9 733.3,241.8 733.7,241.7 734.1,241.6 734.5,241.5 735.0,241.4 735.4,241.3 735.8,241.2 736.2,241.1 736.6,241.0 737.1,240.9 737.5,240.8 737.9,240.7 738.3,240.6 738.7,240.5 739.1,240.4 739.6,240.3 740.0,240.3 740.4,240.2 740.8,240.1 741.2,240.0 741.7,239.9 742.1,239.9 742.5,239.8 742.9,239.7 743.3,239.6 743.8,239.6 744.2,239.5 744.6,239.4 745.0,239.4 745.4,239.3 745.8,239.2 746.3,239.2 746.7,239.1 747.1,239.1 747.5,239.0 747.9,239.0 748.4,238.9 748.8,238.8 749.2,238.8 749.6,238.7 750.0,238.7 750.4,238.6 750.9,238.6 751.3,238.5 751.7,238.5 752.1,238.4 752.5,238.4 753.0,238.4 753.4,238.3 753.8,238.3 754.2,238.2 754.6,238.2 755.0,238.2 755.5,238.1 755.9,238.1 756.3,238.0 756.7,238.0 757.1,238.0 757.6,237.9 758.0,237.9 758.4,237.9 758.8,237.8 759.2,237.8 759.6,237.8 760.1,237.7 760.5,237.7 760.9,237.7 761.3,237.6 761.7,237.6 762.2,237.6 762.6,237.6 763.0,237.5 763.4,237.5 763.8,237.5 764.2,237.5 764.7,237.4 765.1,237.4 765.5,237.4 765.9,237.4 766.3,237.3 766.8,237.3 767.2,237.3 767.6,237.3 768.0,237.3 768.4,237.2 768.8,237.2 769.3,237.2 769.7,237.2 770.1,237.2 770.5,237.2 770.9,237.1 771.4,237.1 771.8,237.1 772.2,237.1 772.6,237.1 773.0,237.1 773.4,237.0 773.9,237.0 774.3,237.0 774.7,237.0 775.1,237.0 775.5,237.0 776.0,237.0 776.4,236.9 776.8,236.9 777.2,236.9 777.6,236.9 778.0,236.9 778.5,236.9 778.9,236.9 779.3,236.9 779.7,236.9 780.1,236.9 780.6,236.9 781.0,236.8 781.4,236.8 781.8,236.8 782.2,236.8 782.6,236.8 783.1,236.8 783.5,236.8 783.9,236.8 784.3,236.8 784.7,236.8 785.2,236.8 785.6,236.8 786.0,236.8 786.4,236.8 786.8,236.8 787.2,236.8 787.7,236.8 788.1,236.8 788.5,236.7 788.9,236.7 789.3,236.7 789.8,236.7 790.2,236.7 790.6,236.7 791.0,236.7 791.4,236.7 791.8,236.7 792.3,236.7 792.7,236.7 793.1,236.7 793.5,236.7 793.9,236.7 794.4,236.7 794.8,236.7 795.2,236.7 795.6,236.7 796.0,236.7 796.4,236.7 796.9,236.7 797.3,236.8 797.7,236.8 798.1,236.8 798.5,236.8 799.0,236.8 799.4,236.8 799.8,236.8 800.2,236.8 800.6,236.8 801.0,236.8 801.5,236.8 801.9,236.8 802.3,236.8 802.7,236.8 803.1,236.8 803.6,236.8 804.0,236.8 804.4,236.8 804.8,236.8 805.2,236.8 805.6,236.9 806.1,236.9 806.5,236.9 806.9,236.9 807.3,236.9 807.7,236.9 808.2,236.9 808.6,236.9 809.0,236.9 809.4,236.9 809.8,236.9 810.2,237.0 810.7,237.0 811.1,237.0 811.5,237.0 811.9,237.0 812.3,237.0 812.8,237.0 813.2,237.0 813.6,237.0 814.0,237.1 814.4,237.1 814.8,237.1 815.3,237.1 815.7,237.1 816.1,237.1 816.5,237.1 816.9,237.2 817.4,237.2 817.8,237.2 818.2,237.2 818.6,237.2 819.0,237.2 819.4,237.3 819.9,237.3 820.3,237.3 820.7,237.3 821.1,237.3 821.5,237.3 822.0,237.4 822.4,237.4 822.8,237.4 823.2,237.4 823.6,237.4 824.0,237.4 824.5,237.5 824.9,237.5 825.3,237.5 825.7,237.5 826.1,237.6 826.6,237.6 827.0,237.6 827.4,237.6 827.8,237.6 828.2,237.7 828.6,237.7 829.1,237.7 829.5,237.7 829.9,237.8 830.3,237.8 830.7,237.8 831.2,237.8 831.6,237.9 832.0,237.9 832.4,237.9 832.8,237.9 833.2,238.0 833.7,238.0 834.1,238.0 834.5,238.1 834.9,238.1 835.3,238.1 835.8,238.1 836.2,238.2 836.6,238.2 837.0,238.2 837.4,238.3 837.8,238.3 838.3,238.3 838.7,238.4 839.1,238.4 839.5,238.4 839.9,238.5 840.4,238.5 840.8,238.6 841.2,238.6 841.6,238.6 842.0,238.7 842.4,238.7 842.9,238.7 843.3,238.8 843.7,238.8 844.1,238.9 844.5,238.9 845.0,238.9 845.4,239.0 845.8,239.0 846.2,239.1 846.6,239.1 847.0,239.2 847.5,239.2 847.9,239.3 848.3,239.3 848.7,239.4 849.1,239.4 849.6,239.5 850.0,239.5 850.4,239.6 850.8,239.6 851.2,239.7 851.6,239.7 852.1,239.8 852.5,239.9 852.9,239.9 853.3,240.0 853.7,240.0 854.2,240.1 854.6,240.2 855.0,240.2 855.4,240.3 855.8,240.4 856.2,240.4 856.7,240.5 857.1,240.6 857.5,240.6 857.9,240.7 858.3,240.8 858.8,240.9 859.2,241.0 859.6,241.0 860.0,241.1 860.4,241.2 860.8,241.3 861.3,241.4 861.7,241.5 862.1,241.6 862.5,241.7 862.9,241.8 863.4,241.9 863.8,242.0 864.2,242.1 864.6,242.2 865.0,242.3 865.4,242.4 865.9,242.5 866.3,242.7 866.7,242.8 867.1,242.9 867.5,243.1 868.0,243.2 868.4,243.4 868.8,243.5 869.2,243.7 869.6,243.8 870.0,244.0 870.5,244.1 870.9,244.3 871.3,244.5 871.7,244.7 872.1,244.9 872.6,245.1 873.0,245.3 873.4,245.5 873.8,245.7 874.2,245.9 874.6,246.2 875.1,246.4 875.5,246.7 875.9,246.9 876.3,247.2 876.7,247.5 877.2,247.8 877.6,248.1 878.0,248.4 878.4,248.7 878.8,249.0 879.2,249.3 879.7,249.7 880.1,250.0 880.5,250.4 880.9,250.8 881.3,251.2 881.8,251.6 882.2,252.0 882.6,252.4 883.0,252.8 883.4,253.3 883.8,253.8 884.3,254.2 884.7,254.7 885.1,255.2 885.5,255.7 885.9,256.3 886.4,256.8 886.8,257.4 887.2,257.9 887.6,258.5 888.0,259.1 888.4,259.7 888.9,260.3 889.3,260.9 889.7,261.6 890.1,262.2 890.5,262.9 891.0,263.6 891.4,264.2 891.8,264.9 892.2,265.6 892.6,266.4 893.0,267.1 893.5,267.8 893.9,268.6 894.3,269.3 894.7,270.1 895.1,270.8 895.6,271.6 896.0,272.4 896.4,273.1 896.8,273.9 897.2,274.7 897.6,275.5 898.1,276.3 898.5,277.0 898.9,277.8 899.3,278.6 899.7,279.3 900.2,280.1 900.6,280.8 901.0,281.6 901.4,282.3 901.8,283.0 902.2,283.7 902.7,284.3 903.1,285.0 903.5,285.6 903.9,286.2 904.3,286.8 904.8,287.3 905.2,287.9 905.6,288.4 906.0,288.8 906.4,289.2 906.8,289.6 907.3,290.0 907.7,290.3 908.1,290.6 908.5,290.8 908.9,291.0 909.4,291.2 909.8,291.3 910.2,291.4 910.6,291.4 911.0,291.5 911.4,291.4 911.9,291.4 912.3,291.2 912.7,291.1 913.1,290.9 913.5,290.7 914.0,290.5 914.4,290.2 914.8,289.9 915.2,289.6 915.6,289.3 916.0,288.9 916.5,288.5 916.9,288.1 917.3,287.7 917.7,287.3 918.1,286.8 918.6,286.4 919.0,285.9 919.4,285.4 919.8,285.0 920.2,284.5 920.6,284.0 921.1,283.5 921.5,283.0 921.9,282.5 922.3,282.0 922.7,281.5 923.2,281.0 923.6,280.6 924.0,280.1 924.4,279.6 924.8,279.1 925.2,278.7 925.7,278.2 926.1,277.8 926.5,277.4 926.9,276.9 927.3,276.5 927.8,276.1 928.2,275.7 928.6,275.4 929.0,275.0 929.4,274.6 929.8,274.3 930.3,273.9 930.7,273.6 931.1,273.3 931.5,273.0 931.9,272.7 932.4,272.4 932.8,272.2 933.2,271.9 933.6,271.7 934.0,271.4 934.4,271.2 934.9,271.0 935.3,270.8 935.7,270.6 936.1,270.4 936.5,270.2 937.0,270.1 937.4,269.9 937.8,269.8 938.2,269.6 938.6,269.5 939.0,269.4 939.5,269.3 939.9,269.2 940.3,269.1 940.7,269.0 941.1,268.9 941.6,268.8 942.0,268.7 942.4,268.7 942.8,268.6 943.2,268.5 943.6,268.5 944.1,268.4 944.5,268.3 944.9,268.3 945.3,268.2 945.7,268.2 946.2,268.1 946.6,268.1 947.0,268.0 947.4,268.0 947.8,267.9 948.2,267.9 948.7,267.8 949.1,267.8 949.5,267.7 949.9,267.6 950.3,267.6 950.8,267.5 951.2,267.5 951.6,267.4 952.0,267.3 952.4,267.2 952.9,267.2 953.3,267.1 953.7,267.0 954.1,266.8 954.5,266.7 954.9,266.5 955.4,266.4 955.8,266.2 956.2,265.9 956.6,265.7 957.0,265.5 957.5,265.2 957.9,264.9 958.3,264.6 958.7,264.3 959.1,264.0 959.5,263.7 960.0,263.4 960.4,263.0 960.8,262.7 961.2,262.3 961.6,262.0 962.1,261.6 962.5,261.2 962.9,260.8 963.3,260.5 963.7,260.1 964.1,259.7 964.6,259.3 965.0,259.0 965.4,258.6 965.8,258.2 966.2,257.8 966.7,257.5 967.1,257.1 967.5,256.7 967.9,256.4 968.3,256.0 968.7,255.6 969.2,255.3 969.6,255.0 970.0,254.6 970.4,254.3 970.8,254.0 971.3,253.6 971.7,253.3 972.1,253.0 972.5,252.7 972.9,252.4 973.3,252.1 973.8,251.8 974.2,251.6 974.6,251.3 975.0,251.0 975.4,250.8 975.9,250.5 976.3,250.3 976.7,250.0 977.1,249.8 977.5,249.5 977.9,249.3 978.4,249.1 978.8,248.9 979.2,248.7 979.6,248.5 980.0,248.3 980.5,248.1 980.9,247.9 981.3,247.7 981.7,247.5 982.1,247.3 982.5,247.1 983.0,247.0 983.4,246.8 983.8,246.7 984.2,246.5 984.6,246.3 985.1,246.2 985.5,246.1 985.9,245.9 986.3,245.8 986.7,245.6 987.1,245.5 987.6,245.4 988.0,245.3 988.4,245.1 988.8,245.0 989.2,244.9 989.7,244.8 990.1,244.7 990.5,244.6 990.9,244.5 991.3,244.4 991.7,244.3 992.2,244.2 992.6,244.1 993.0,244.0 993.4,243.9 993.8,243.8 994.3,243.8 994.7,243.7 995.1,243.6 995.5,243.5 995.9,243.4 996.3,243.4 996.8,243.3 997.2,243.2 997.6,243.2 998.0,243.1 998.4,243.0 998.9,243.0 999.3,242.9 999.7,242.9 1000.1,242.8 1000.5,242.8 1000.9,242.7 1001.4,242.7 1001.8,242.6 1002.2,242.6 1002.6,242.5 1003.0,242.5 1003.5,242.4 1003.9,242.4 1004.3,242.3 1004.7,242.3 1005.1,242.3 1005.5,242.2 1006.0,242.2 1006.4,242.1 1006.8,242.1 1007.2,242.1 1007.6,242.0 1008.1,242.0 1008.5,242.0 1008.9,242.0 1009.3,241.9 1009.7,241.9 1010.1,241.9 1010.6,241.9 1011.0,241.8 1011.4,241.8 1011.8,241.8 1012.2,241.8 1012.7,241.7 1013.1,241.7 1013.5,241.7 1013.9,241.7 1014.3,241.7 1014.7,241.7 1015.2,241.6 1015.6,241.6 1016.0,241.6 1016.4,241.6 1016.8,241.6 1017.3,241.6 1017.7,241.6 1018.1,241.6 1018.5,241.5 1018.9,241.5 1019.3,241.5 1019.8,241.5 1020.2,241.5 1020.6,241.5 1021.0,241.5 1021.4,241.5 1021.9,241.5 1022.3,241.5 1022.7,241.5 1023.1,241.5 1023.5,241.5 1023.9,241.5 1024.4,241.5 1024.8,241.5 1025.2,241.5 1025.6,241.5 1026.0,241.5 1026.5,241.5 1026.9,241.5 1027.3,241.5 1027.7,241.5 1028.1,241.5 1028.5,241.5 1029.0,241.5 1029.4,241.5 1029.8,241.5 1030.2,241.5 1030.6,241.5 1031.1,241.5 1031.5,241.5 1031.9,241.5 1032.3,241.6 1032.7,241.6 1033.1,241.6 1033.6,241.6 1034.0,241.6 1034.4,241.6 1034.8,241.6 1035.2,241.6 1035.7,241.6 1036.1,241.6 1036.5,241.7 1036.9,241.7 1037.3,241.7 1037.7,241.7 1038.2,241.7 1038.6,241.7 1039.0,241.7 1039.4,241.8 1039.8,241.8 1040.3,241.8 1040.7,241.8 1041.1,241.8 1041.5,241.8 1041.9,241.9 1042.3,241.9 1042.8,241.9 1043.2,241.9 1043.6,241.9 1044.0,242.0 1044.4,242.0 1044.9,242.0 1045.3,242.0 1045.7,242.0 1046.1,242.1 1046.5,242.1 1046.9,242.1 1047.4,242.1 1047.8,242.2 1048.2,242.2 1048.6,242.2 1049.0,242.2 1049.5,242.2 1049.9,242.3 1050.3,242.3 1050.7,242.3 1051.1,242.4 1051.5,242.4 1052.0,242.4 1052.4,242.4 1052.8,242.5 1053.2,242.5 1053.6,242.5 1054.1,242.5 1054.5,242.6 1054.9,242.6 1055.3,242.6 1055.7,242.7 1056.1,242.7 1056.6,242.7 1057.0,242.8 1057.4,242.8 1057.8,242.8 1058.2,242.8 1058.7,242.9 1059.1,242.9 1059.5,242.9 1059.9,243.0 1060.3,243.0 1060.7,243.1 1061.2,243.1 1061.6,243.1 1062.0,243.2 1062.4,243.2 1062.8,243.2 1063.3,243.3 1063.7,243.3 1064.1,243.3 1064.5,243.4 1064.9,243.4 1065.3,243.5 1065.8,243.5 1066.2,243.5 1066.6,243.6 1067.0,243.6 1067.4,243.7 1067.9,243.7 1068.3,243.7 1068.7,243.8 1069.1,243.8 1069.5,243.9 1069.9,243.9 1070.4,243.9 1070.8,244.0 1071.2,244.0 1071.6,244.1 1072.0,244.1 1072.5,244.2 1072.9,244.2 1073.3,244.3 1073.7,244.3 1074.1,244.4 1074.5,244.4 1075.0,244.5 1075.4,244.5 1075.8,244.6 1076.2,244.6 1076.6,244.7 1077.1,244.7 1077.5,244.8 1077.9,244.8 1078.3,244.9 1078.7,244.9 1079.1,245.0 1079.6,245.0 1080.0,245.1 1080.4,245.1 1080.8,245.2 1081.2,245.2 1081.7,245.3 1082.1,245.3 1082.5,245.4 1082.9,245.5 1083.3,245.5 1083.7,245.6 1084.2,245.6 1084.6,245.7 1085.0,245.7 1085.4,245.8 1085.8,245.9 1086.3,245.9 1086.7,246.0 1087.1,246.1 1087.5,246.1 1087.9,246.2 1088.3,246.2 1088.8,246.3 1089.2,246.4 1089.6,246.4 1090.0,246.5 1090.4,246.6 1090.9,246.6 1091.3,246.7 1091.7,246.8 1092.1,246.8 1092.5,246.9 1092.9,247.0 1093.4,247.0 1093.8,247.1 1094.2,247.2 1094.6,247.3 1095.0,247.3 1095.5,247.4 1095.9,247.5 1096.3,247.6 1096.7,247.6 1097.1,247.7 1097.5,247.8 1098.0,247.9 1098.4,247.9 1098.8,248.0 1099.2,248.1 1099.6,248.2 1100.1,248.3 1100.5,248.4 1100.9,248.4 1101.3,248.5 1101.7,248.6 1102.1,248.7 1102.6,248.8 1103.0,248.9 1103.4,248.9 1103.8,249.0 1104.2,249.1 1104.7,249.2 1105.1,249.3 1105.5,249.4 1105.9,249.5 1106.3,249.6 1106.7,249.7 1107.2,249.8 1107.6,249.9 1108.0,250.0 1108.4,250.1 1108.8,250.2 1109.3,250.3 1109.7,250.4 1110.1,250.5 1110.5,250.6 1110.9,250.7 1111.3,250.8 1111.8,250.9 1112.2,251.0 1112.6,251.1 1113.0,251.2 1113.4,251.3 1113.9,251.4 1114.3,251.5 1114.7,251.6 1115.1,251.8 1115.5,251.9 1115.9,252.0 1116.4,252.1 1116.8,252.2 1117.2,252.3 1117.6,252.5 1118.0,252.6 1118.5,252.7 1118.9,252.8 1119.3,253.0 1119.7,253.1 1120.1,253.2 1120.5,253.3 1121.0,253.5 1121.4,253.6 1121.8,253.7 1122.2,253.9 1122.6,254.0 1123.1,254.1 1123.5,254.3 1123.9,254.4 1124.3,254.6 1124.7,254.7 1125.1,254.9 1125.6,255.0 1126.0,255.2 1126.4,255.3 1126.8,255.5 1127.2,255.6 1127.7,255.8 1128.1,255.9 1128.5,256.1 1128.9,256.2 1129.3,256.4 1129.7,256.6 1130.2,256.7 1130.6,256.9 1131.0,257.1 1131.4,257.2 1131.8,257.4 1132.3,257.6 1132.7,257.8 1133.1,258.0 1133.5,258.1 1133.9,258.3 1134.3,258.5 1134.8,258.7 1135.2,258.9 1135.6,259.1 1136.0,259.3 1136.4,259.5 1136.9,259.7 1137.3,259.9 1137.7,260.1 1138.1,260.3 1138.5,260.5 1138.9,260.7 1139.4,260.9 1139.8,261.1 1140.2,261.4 1140.6,261.6 1141.0,261.8 1141.5,262.0 1141.9,262.3 1142.3,262.5 1142.7,262.7 1143.1,263.0 1143.5,263.2 1144.0,263.5 1144.4,263.7 1144.8,264.0 1145.2,264.2 1145.6,264.5 1146.1,264.7 1146.5,265.0 1146.9,265.3 1147.3,265.5 1147.7,265.8 1148.1,266.1 1148.6,266.4 1149.0,266.7 1149.4,267.0 1149.8,267.2 1150.2,267.5 1150.7,267.8 1151.1,268.1 1151.5,268.4 1151.9,268.8 1152.3,269.1 1152.7,269.4 1153.2,269.7 1153.6,270.0 1154.0,270.4 1154.4,270.7 1154.8,271.0 1155.3,271.4 1155.7,271.7 1156.1,272.1 1156.5,272.4 1156.9,272.8 1157.3,273.1 1157.8,273.5 1158.2,273.9 1158.6,274.2 1159.0,274.6 1159.4,275.0 1159.9,275.4 1160.3,275.8 1160.7,276.2 1161.1,276.6 1161.5,277.0 1162.0,277.4 1162.4,277.8 1162.8,278.2 1163.2,278.6 1163.6,279.1 1164.0,279.5 1164.5,279.9 1164.9,280.4 1165.3,280.8 1165.7,281.3 1166.1,281.7 1166.6,282.2 1167.0,282.7 1167.4,283.2 1167.8,283.6 1168.2,284.1 1168.6,284.6 1169.1,285.1 1169.5,285.6 1169.9,286.1 1170.3,286.6 1170.7,287.1 1171.2,287.6 1171.6,288.2 1172.0,288.7 1172.4,289.2 1172.8,289.8 1173.2,290.3 1173.7,290.9 1174.1,291.4 1174.5,292.0 1174.9,292.6 1175.3,293.1 1175.8,293.7 1176.2,294.3 1176.6,294.9 1177.0,295.5 1177.4,296.1 1177.8,296.7 1178.3,297.3 1178.7,297.9 1179.1,298.5 1179.5,299.2 1179.9,299.8 1180.4,300.4 1180.8,301.1 1181.2,301.7 1181.6,302.4 1182.0,303.0 1182.4,303.7 1182.9,304.4 1183.3,305.0 1183.7,305.7 1184.1,306.4 1184.5,307.1 1185.0,307.8 1185.4,308.5 1185.8,309.2 1186.2,309.9 1186.6,310.6 1187.0,311.3 1187.5,312.1 1187.9,312.8 1188.3,313.5 1188.7,314.3 1189.1,315.0 1189.6,315.8 1190.0,316.5 1190.4,317.3 1190.8,318.1 1191.2,318.9 1191.6,319.6 1192.1,320.4 1192.5,321.2 1192.9,322.0 1193.3,322.8 1193.7,323.6 1194.2,324.4 1194.6,325.3 1195.0,326.1 1195.4,326.9 1195.8,327.8 1196.2,328.6 1196.7,329.5 1197.1,330.3 1197.5,331.2 1197.9,332.0 1198.3,332.9 1198.8,333.8 1199.2,334.7 1199.6,335.6 1200.0,336.5 1200.4,337.4 1200.8,338.3 1201.3,339.3 1201.7,340.2 1202.1,341.1 1202.5,342.1 1202.9,343.1 1203.4,344.0 1203.8,345.0 1204.2,346.0 1204.6,347.0 1205.0,348.0 1205.4,349.1 1205.9,350.1 1206.3,351.1 1206.7,352.2 1207.1,353.3 1207.5,354.4 1208.0,355.5 1208.4,356.6 1208.8,357.7 1209.2,358.9 1209.6,360.1 1210.0,361.3 1210.5,362.5 1210.9,363.7 1211.3,365.0 1211.7,366.3 1212.1,367.6 1212.6,368.9 1213.0,370.3 1213.4,371.7 1213.8,373.1 1214.2,374.6 1214.6,376.1 1215.1,377.7 1215.5,379.3 1215.9,380.9 1216.3,382.6 1216.7,384.3 1217.2,386.1 1217.6,387.9 1218.0,389.8 1218.4,391.8 1218.8,393.8 1219.2,395.9 1219.7,398.0 1220.1,400.2 1220.5,402.6 1220.9,404.9 1221.3,407.4 1221.8,410.0 1222.2,412.5 1222.6,415.2 1223.0,417.9 1223.4,420.6 1223.8,423.4 1224.3,426.3 1224.7,429.3 1225.1,432.3 1225.5,435.5 1225.9,438.7 1226.4,442.1 1226.8,445.5 1227.2,449.1 1227.6,452.9 1228.0,456.7 1228.4,460.7 1228.9,464.9 1229.3,469.2 1229.7,473.6 1230.1,478.3 1230.5,483.1 1231.0,488.1 1231.4,493.2 1231.8,498.6 1232.2,504.1 1232.6,509.9 1233.0,515.8 1233.5,521.9 1233.9,528.3 1234.3,534.8 1234.7,541.6 1235.1,548.5 1235.6,555.7 1236.0,563.1 1236.4,570.7 1236.8,578.4 1237.2,586.4 1237.6,594.6 1238.1,603.0 1238.5,611.6 1238.9,620.4 1239.3,629.4 1239.7,638.6 1240.2,647.9 1240.6,657.5 1241.0,667.2 1241.4,677.1 1241.8,687.1 1242.2,697.3 1242.7,707.7 1243.1,718.2 1243.5,728.8 1243.9,739.6 1244.3,750.5 1244.8,761.5 1245.2,772.6 1245.6,783.8 1246.0,795.0 1246.4,806.4 1246.8,817.8 1247.3,829.3 1247.7,840.8 1248.1,852.4 1248.5,864.0 1248.9,875.6 1249.4,887.2 1249.8,898.8 1250.2,910.5 1250.6,922.1 1251.0,933.7 1251.4,945.3 1251.9,956.9 1252.3,968.4 1252.7,980.0 1253.1,991.5 1253.5,1003.0 1254.0,1014.5 1254.4,1026.0 1254.8,1037.4 1255.2,1048.9 1255.6,1060.4 1256.0,1071.8 1256.5,1083.3 1256.9,1094.8 1257.3,1106.3 1257.7,1117.9 1258.1,1129.5 1258.6,1141.0 1259.0,1152.7 1259.4,1164.3 1259.8,1175.9 1260.2,1187.5 1260.6,1199.2 1261.1,1210.7 1261.5,1222.3 1261.9,1233.8 1262.3,1245.2 1262.7,1256.4 1263.2,1267.6 1263.6,1278.5 1264.0,1289.2 1264.4,1299.6 1264.8,1309.8 1265.2,1319.5 1265.7,1328.9 1266.1,1337.8 1266.5,1346.1 1266.9,1353.9 1267.3,1361.1 1267.8,1367.5 1268.2,1373.2 1268.6,1378.2 1269.0,1382.2 1269.4,1385.4 1269.8,1387.6 1270.3,1388.9 1270.7,1389.1 1271.1,1388.3 1271.5,1386.5 1271.9,1383.6 1272.4,1379.7 1272.8,1374.7 1273.2,1368.6 1273.6,1361.6 1274.0,1353.6 1274.4,1344.6 1274.9,1334.7 1275.3,1324.0 1275.7,1312.5 1276.1,1300.2 1276.5,1287.2 1277.0,1273.7 1277.4,1259.5 1277.8,1244.9 1278.2,1229.9 1278.6,1214.5 1279.0,1198.8 1279.5,1182.8 1279.9,1166.7 1280.3,1150.5 1280.7,1134.2 1281.1,1117.9 1281.6,1101.6 1282.0,1085.4 1282.4,1069.3 1282.8,1053.3 1283.2,1037.6 1283.6,1022.0 1284.1,1006.8 1284.5,991.8 1284.9,977.1 1285.3,962.7 1285.7,948.7 1286.2,935.1 1286.6,921.8 1287.0,909.0 1287.4,896.5 1287.8,884.5 1288.2,872.9 1288.7,861.8 1289.1,851.1 1289.5,840.9 1289.9,831.1 1290.3,821.9 1290.8,813.1 1291.2,804.7 1291.6,796.9 1292.0,789.6 1292.4,782.7 1292.8,776.4 1293.3,770.5 1293.7,765.2 1294.1,760.4 1294.5,756.0 1294.9,752.2 1295.4,748.9 1295.8,746.1 1296.2,743.8 1296.6,742.0 1297.0,740.7 1297.4,740.0 1297.9,739.7 1298.3,740.0 1298.7,740.8 1299.1,742.0 1299.5,743.8 1300.0,746.1 1300.4,749.0 1300.8,752.3 1301.2,756.1 1301.6,760.5 1302.0,765.4 1302.5,770.7 1302.9,776.6 1303.3,783.0 1303.7,789.9 1304.1,797.2 1304.6,805.1 1305.0,813.5 1305.4,822.3 1305.8,831.7 1306.2,841.5 1306.6,851.8 1307.1,862.5 1307.5,873.8 1307.9,885.4 1308.3,897.5 1308.7,910.1 1309.2,923.1 1309.6,936.4 1310.0,950.2 1310.4,964.3 1310.8,978.8 1311.2,993.7 1311.7,1008.8 1312.1,1024.3 1312.5,1040.0 1312.9,1055.9 1313.3,1072.0 1313.8,1088.3 1314.2,1104.7 1314.6,1121.2 1315.0,1137.8 1315.4,1154.3 1315.8,1170.7 1316.3,1187.1 1316.7,1203.3 1317.1,1219.2 1317.5,1234.9 1317.9,1250.2 1318.4,1265.1 1318.8,1279.4 1319.2,1293.3 1319.6,1306.5 1320.0,1319.0 1320.4,1330.9 1320.9,1341.9 1321.3,1352.0 1321.7,1361.2 1322.1,1369.5 1322.5,1376.8 1323.0,1383.1 1323.4,1388.4 1323.8,1392.6 1324.2,1395.7 1324.6,1397.8 1325.0,1398.8 1325.5,1398.7 1325.9,1397.7 1326.3,1395.6 1326.7,1392.6 1327.1,1388.7 1327.6,1383.9 1328.0,1378.3 1328.4,1371.9 1328.8,1364.8 1329.2,1357.1 1329.6,1348.7 1330.1,1339.9 1330.5,1330.5 1330.9,1320.6 1331.3,1310.4 1331.7,1299.8 1332.2,1289.0 1332.6,1277.9 1333.0,1266.5 1333.4,1255.0 1333.8,1243.3 1334.2,1231.4 1334.7,1219.5 1335.1,1207.5 1335.5,1195.4 1335.9,1183.3 1336.3,1171.1 1336.8,1158.9 1337.2,1146.6 1337.6,1134.4 1338.0,1122.1 1338.4,1109.8 1338.8,1097.5 1339.3,1085.1 1339.7,1072.8 1340.1,1060.4 1340.5,1048.0 1340.9,1035.6 1341.4,1023.2 1341.8,1010.7 1342.2,998.2 1342.6,985.7 1343.0,973.1 1343.4,960.6 1343.9,948.0 1344.3,935.4 1344.7,922.8 1345.1,910.2 1345.5,897.7 1346.0,885.1 1346.4,872.5 1346.8,860.0 1347.2,847.5 1347.6,835.1 1348.0,822.7 1348.5,810.4 1348.9,798.2 1349.3,786.1 1349.7,774.1 1350.1,762.2 1350.6,750.3 1351.0,738.7 1351.4,727.1 1351.8,715.7 1352.2,704.5 1352.6,693.3 1353.1,682.4 1353.5,671.6 1353.9,661.0 1354.3,650.6 1354.7,640.4 1355.2,630.3 1355.6,620.5 1356.0,610.8 1356.4,601.3 1356.8,592.1 1357.2,583.0 1357.7,574.2 1358.1,565.5 1358.5,557.1 1358.9,548.8 1359.3,540.8 1359.8,533.0 1360.2,525.4 1360.6,518.0 1361.0,510.8 1361.4,503.8 1361.8,497.0 1362.3,490.4 1362.7,484.1 1363.1,477.9 1363.5,471.9 1363.9,466.1 1364.4,460.5 1364.8,455.1 1365.2,449.9 1365.6,444.9 1366.0,440.0 1366.4,435.3 1366.9,430.8 1367.3,426.5 1367.7,422.3 1368.1,418.3 1368.5,414.5 1369.0,410.8 1369.4,407.2 1369.8,403.8 1370.2,400.5 1370.6,397.4 1371.1,394.4 1371.5,391.5 1371.9,388.7 1372.3,386.1 1372.7,383.6 1373.1,381.2 1373.6,378.9 1374.0,376.7 1374.4,374.6 1374.8,372.5 1375.2,370.6 1375.7,368.8 1376.1,367.0 1376.5,365.4 1376.9,363.8 1377.3,362.2 1377.7,360.8 1378.2,359.4 1378.6,358.1 1379.0,356.8 1379.4,355.6 1379.8,354.4 1380.3,353.3 1380.7,352.3 1381.1,351.3 1381.5,350.3 1381.9,349.4 1382.3,348.5 1382.8,347.7 1383.2,346.9 1383.6,346.1 1384.0,345.4 1384.4,344.7 1384.9,344.0 1385.3,343.3 1385.7,342.7 1386.1,342.1 1386.5,341.6 1386.9,341.0 1387.4,340.5 1387.8,340.0 1388.2,339.5 1388.6,339.1 1389.0,338.6 1389.5,338.2 1389.9,337.8 1390.3,337.4 1390.7,337.0 1391.1,336.6 1391.5,336.3 1392.0,335.9 1392.4,335.6 1392.8,335.3 1393.2,335.0 1393.6,334.7 1394.1,334.4 1394.5,334.1 1394.9,333.8 1395.3,333.5 1395.7,333.3 1396.1,333.0 1396.6,332.7 1397.0,332.5 1397.4,332.2 1397.8,331.9 1398.2,331.7 1398.7,331.4 1399.1,331.1 1399.5,330.9 1399.9,330.6 1400.3,330.3 1400.7,330.0 1401.2,329.8 1401.6,329.5 1402.0,329.2 1402.4,328.9 1402.8,328.5 1403.3,328.2 1403.7,327.9 1404.1,327.5 1404.5,327.2 1404.9,326.8 1405.3,326.4 1405.8,326.0 1406.2,325.6 1406.6,325.2 1407.0,324.8 1407.4,324.3 1407.9,323.9 1408.3,323.4 1408.7,323.0 1409.1,322.5 1409.5,322.0 1409.9,321.5 1410.4,321.0 1410.8,320.5 1411.2,320.0 1411.6,319.5 1412.0,319.0 1412.5,318.5 1412.9,318.0 1413.3,317.4 1413.7,316.9 1414.1,316.4 1414.5,315.8 1415.0,315.3 1415.4,314.7 1415.8,314.2 1416.2,313.6 1416.6,313.0 1417.1,312.5 1417.5,311.9 1417.9,311.3 1418.3,310.7 1418.7,310.2 1419.1,309.6 1419.6,309.0 1420.0,308.4 1420.4,307.8 1420.8,307.2 1421.2,306.6 1421.7,306.1 1422.1,305.5 1422.5,304.9 1422.9,304.3 1423.3,303.7 1423.7,303.1 1424.2,302.5 1424.6,301.9 1425.0,301.3 1425.4,300.7 1425.8,300.1 1426.3,299.6 1426.7,299.0 1427.1,298.4 1427.5,297.8 1427.9,297.2 1428.3,296.7 1428.8,296.1 1429.2,295.5 1429.6,295.0 1430.0,294.4 1430.4,293.8 1430.9,293.3 1431.3,292.7 1431.7,292.2 1432.1,291.6 1432.5,291.1 1432.9,290.5 1433.4,290.0 1433.8,289.5 1434.2,288.9 1434.6,288.4 1435.0,287.9 1435.5,287.4 1435.9,286.9 1436.3,286.4 1436.7,285.9 1437.1,285.4 1437.5,284.9 1438.0,284.4 1438.4,283.9 1438.8,283.4 1439.2,283.0 1439.6,282.5 1440.1,282.0 1440.5,281.6 1440.9,281.1 1441.3,280.7 1441.7,280.2 1442.1,279.8 1442.6,279.3 1443.0,278.9 1443.4,278.5 1443.8,278.0 1444.2,277.6 1444.7,277.2 1445.1,276.8 1445.5,276.4 1445.9,276.0 1446.3,275.6 1446.7,275.2 1447.2,274.8 1447.6,274.4 1448.0,274.1 1448.4,273.7 1448.8,273.3 1449.3,272.9 1449.7,272.6 1450.1,272.2 1450.5,271.9 1450.9,271.5 1451.3,271.2 1451.8,270.8 1452.2,270.5 1452.6,270.2 1453.0,269.8 1453.4,269.5 1453.9,269.2 1454.3,268.9 1454.7,268.6 1455.1,268.3 1455.5,267.9 1455.9,267.6 1456.4,267.3 1456.8,267.0 1457.2,266.8 1457.6,266.5 1458.0,266.2 1458.5,265.9 1458.9,265.6 1459.3,265.3 1459.7,265.1 1460.1,264.8 1460.5,264.5 1461.0,264.3 1461.4,264.0 1461.8,263.7 1462.2,263.5 1462.6,263.2 1463.1,263.0 1463.5,262.8 1463.9,262.5 1464.3,262.3 1464.7,262.0 1465.1,261.8 1465.6,261.6 1466.0,261.3 1466.4,261.1 1466.8,260.9 1467.2,260.7 1467.7,260.4 1468.1,260.2 1468.5,260.0 1468.9,259.8 1469.3,259.6 1469.7,259.4 1470.2,259.2 1470.6,259.0 1471.0,258.8 1471.4,258.6 1471.8,258.4 1472.3,258.2 1472.7,258.0 1473.1,257.8 1473.5,257.6 1473.9,257.4 1474.3,257.3 1474.8,257.1 1475.2,256.9 1475.6,256.7 1476.0,256.6 1476.4,256.4 1476.9,256.2 1477.3,256.0 1477.7,255.9 1478.1,255.7 1478.5,255.6 1478.9,255.4 1479.4,255.2 1479.8,255.1 1480.2,254.9 1480.6,254.8 1481.0,254.6 1481.5,254.5 1481.9,254.3 1482.3,254.2 1482.7,254.0 1483.1,253.9 1483.5,253.7 1484.0,253.6 1484.4,253.4 1484.8,253.3 1485.2,253.2 1485.6,253.0 1486.1,252.9 1486.5,252.8 1486.9,252.6 1487.3,252.5 1487.7,252.4 1488.1,252.2 1488.6,252.1 1489.0,252.0 1489.4,251.9 1489.8,251.7 1490.2,251.6 1490.7,251.5 1491.1,251.4 1491.5,251.3 1491.9,251.1 1492.3,251.0 1492.7,250.9 1493.2,250.8 1493.6,250.7 1494.0,250.6 1494.4,250.5 1494.8,250.4 1495.3,250.2 1495.7,250.1 1496.1,250.0 1496.5,249.9 1496.9,249.8 1497.3,249.7 1497.8,249.6 1498.2,249.5 1498.6,249.4 1499.0,249.3 1499.4,249.2 1499.9,249.1 1500.3,249.0 1500.7,248.9 1501.1,248.8 1501.5,248.7 1501.9,248.7 1502.4,248.6 1502.8,248.5 1503.2,248.4 1503.6,248.3 1504.0,248.2 1504.5,248.1 1504.9,248.0 1505.3,248.0 1505.7,247.9 1506.1,247.8 1506.5,247.7 1507.0,247.6 1507.4,247.5 1507.8,247.5 1508.2,247.4 1508.6,247.3 1509.1,247.2 1509.5,247.1 1509.9,247.1 1510.3,247.0 1510.7,246.9 1511.1,246.8 1511.6,246.8 1512.0,246.7 1512.4,246.6 1512.8,246.5 1513.2,246.5 1513.7,246.4 1514.1,246.3 1514.5,246.3 1514.9,246.2 1515.3,246.1 1515.7,246.1 1516.2,246.0 1516.6,245.9 1517.0,245.9 1517.4,245.8 1517.8,245.7 1518.3,245.7 1518.7,245.6 1519.1,245.5 1519.5,245.5 1519.9,245.4 1520.3,245.4 1520.8,245.3 1521.2,245.2 1521.6,245.2 1522.0,245.1 1522.4,245.1 1522.9,245.0 1523.3,244.9 1523.7,244.9 1524.1,244.8 1524.5,244.8 1524.9,244.7 1525.4,244.7 1525.8,244.6 1526.2,244.6 1526.6,244.5 1527.0,244.5 1527.5,244.4 1527.9,244.4 1528.3,244.3 1528.7,244.2 1529.1,244.2 1529.5,244.2 1530.0,244.1 1530.4,244.1 1530.8,244.0 1531.2,244.0 1531.6,243.9 1532.1,243.9 1532.5,243.8 1532.9,243.8 1533.3,243.7 1533.7,243.7 1534.1,243.6 1534.6,243.6 1535.0,243.5 1535.4,243.5 1535.8,243.5 1536.2,243.4 1536.7,243.4 1537.1,243.3 1537.5,243.3 1537.9,243.3 1538.3,243.2 1538.7,243.2 1539.2,243.1 1539.6,243.1 1540.0,243.1 1540.4,243.0 1540.8,243.0 1541.3,242.9 1541.7,242.9 1542.1,242.9 1542.5,242.8 1542.9,242.8 1543.3,242.8 1543.8,242.7 1544.2,242.7 1544.6,242.7 1545.0,242.6 1545.4,242.6 1545.9,242.6 1546.3,242.5 1546.7,242.5 1547.1,242.5 1547.5,242.4 1547.9,242.4 1548.4,242.4 1548.8,242.3 1549.2,242.3 1549.6,242.3 1550.0,242.3 1550.5,242.2 1550.9,242.2 1551.3,242.2 1551.7,242.1 1552.1,242.1 1552.5,242.1 1553.0,242.1 1553.4,242.0 1553.8,242.0 1554.2,242.0 1554.6,242.0 1555.1,241.9 1555.5,241.9 1555.9,241.9 1556.3,241.9 1556.7,241.8 1557.1,241.8 1557.6,241.8 1558.0,241.8 1558.4,241.8 1558.8,241.7 1559.2,241.7 1559.7,241.7 1560.1,241.7 1560.5,241.7 1560.9,241.6 1561.3,241.6 1561.7,241.6 1562.2,241.6 1562.6,241.6 1563.0,241.5 1563.4,241.5 1563.8,241.5 1564.3,241.5 1564.7,241.5 1565.1,241.5 1565.5,241.5 1565.9,241.4 1566.3,241.4 1566.8,241.4 1567.2,241.4 1567.6,241.4 1568.0,241.4 1568.4,241.4 1568.9,241.3 1569.3,241.3 1569.7,241.3 1570.1,241.3 1570.5,241.3 1570.9,241.3 1571.4,241.3 1571.8,241.3 1572.2,241.3 1572.6,241.3 1573.0,241.3 1573.5,241.2 1573.9,241.2 1574.3,241.2 1574.7,241.2 1575.1,241.2 1575.5,241.2 1576.0,241.2 1576.4,241.2 1576.8,241.2 1577.2,241.2 1577.6,241.2 1578.1,241.2 1578.5,241.2 1578.9,241.2 1579.3,241.2 1579.7,241.2 1580.2,241.2 1580.6,241.2 1581.0,241.2 1581.4,241.2 1581.8,241.2 1582.2,241.2 1582.7,241.2 1583.1,241.2 1583.5,241.2 1583.9,241.2 1584.3,241.2 1584.8,241.3 1585.2,241.3 1585.6,241.3 1586.0,241.3 1586.4,241.3 1586.8,241.3 1587.3,241.3 1587.7,241.3 1588.1,241.3 1588.5,241.3 1588.9,241.4 1589.4,241.4 1589.8,241.4 1590.2,241.4 1590.6,241.4 1591.0,241.4 1591.4,241.5 1591.9,241.5 1592.3,241.5 1592.7,241.5 1593.1,241.5 1593.5,241.6 1594.0,241.6 1594.4,241.6 1594.8,241.6 1595.2,241.7 1595.6,241.7 1596.0,241.7 1596.5,241.7 1596.9,241.8 1597.3,241.8 1597.7,241.8 1598.1,241.9 1598.6,241.9 1599.0,241.9 1599.4,242.0 1599.8,242.0 1600.2,242.0 1600.6,242.1 1601.1,242.1 1601.5,242.2 1601.9,242.2 1602.3,242.3 1602.7,242.3 1603.2,242.3 1603.6,242.4 1604.0,242.4 1604.4,242.5 1604.8,242.5 1605.2,242.6 1605.7,242.7 1606.1,242.7 1606.5,242.8 1606.9,242.8 1607.3,242.9 1607.8,243.0 1608.2,243.0 1608.6,243.1 1609.0,243.2 1609.4,243.2 1609.8,243.3 1610.3,243.4 1610.7,243.4 1611.1,243.5 1611.5,243.6 1611.9,243.7 1612.4,243.8 1612.8,243.9 1613.2,243.9 1613.6,244.0 1614.0,244.1 1614.4,244.2 1614.9,244.3 1615.3,244.4 1615.7,244.5 1616.1,244.6 1616.5,244.7 1617.0,244.8 1617.4,245.0 1617.8,245.1 1618.2,245.2 1618.6,245.3 1619.0,245.4 1619.5,245.6 1619.9,245.7 1620.3,245.8 1620.7,246.0 1621.1,246.1 1621.6,246.3 1622.0,246.4 1622.4,246.6 1622.8,246.7 1623.2,246.9 1623.6,247.1 1624.1,247.2 1624.5,247.4 1624.9,247.6 1625.3,247.8 1625.7,248.0 1626.2,248.2 1626.6,248.4 1627.0,248.6 1627.4,248.8 1627.8,249.0 1628.2,249.2 1628.7,249.4 1629.1,249.7 1629.5,249.9 1629.9,250.2 1630.3,250.4 1630.8,250.7 1631.2,250.9 1631.6,251.2 1632.0,251.5 1632.4,251.8 1632.8,252.1 1633.3,252.4 1633.7,252.7 1634.1,253.0 1634.5,253.3 1634.9,253.6 1635.4,254.0 1635.8,254.3 1636.2,254.7 1636.6,255.0 1637.0,255.4 1637.4,255.8 1637.9,256.2 1638.3,256.6 1638.7,257.0 1639.1,257.4 1639.5,257.9 1640.0,258.3 1640.4,258.8 1640.8,259.2 1641.2,259.7 1641.6,260.2 1642.0,260.7 1642.5,261.2 1642.9,261.7 1643.3,262.2 1643.7,262.7 1644.1,263.3 1644.6,263.8 1645.0,264.3 1645.4,264.9 1645.8,265.5 1646.2,266.1 1646.6,266.6 1647.1,267.2 1647.5,267.8 1647.9,268.4 1648.3,269.0 1648.7,269.6 1649.2,270.2 1649.6,270.8 1650.0,271.4 1650.4,272.1 1650.8,272.7 1651.2,273.3 1651.7,273.9 1652.1,274.5 1652.5,275.1 1652.9,275.7 1653.3,276.2 1653.8,276.8 1654.2,277.4 1654.6,278.0 1655.0,278.5 1655.4,279.1 1655.8,279.6 1656.3,280.1 1656.7,280.6 1657.1,281.1 1657.5,281.6 1657.9,282.1 1658.4,282.5 1658.8,283.0 1659.2,283.5 1659.6,283.9 1660.0,284.4 1660.4,284.9 1660.9,285.4 1661.3,285.9 1661.7,286.4 1662.1,286.9 1662.5,287.4 1663.0,287.9 1663.4,288.4 1663.8,288.9 1664.2,289.4 1664.6,290.0 1665.0,290.5 1665.5,291.0 1665.9,291.5 1666.3,292.0 1666.7,292.5 1667.1,293.1 1667.6,293.6 1668.0,294.1 1668.4,294.6 1668.8,295.1 1669.2,295.6 1669.6,296.1 1670.1,296.6 1670.5,297.0 1670.9,297.5 1671.3,297.9 1671.7,298.4 1672.2,298.8 1672.6,299.2 1673.0,299.6 1673.4,300.0 1673.8,300.3 1674.2,300.7 1674.7,301.0 1675.1,301.3 1675.5,301.5 1675.9,301.7 1676.3,301.9 1676.8,302.1 1677.2,302.2 1677.6,302.3 1678.0,302.4 1678.4,302.4 1678.8,302.4 1679.3,302.4 1679.7,302.3 1680.1,302.2 1680.5,302.0 1680.9,301.8 1681.4,301.5 1681.8,301.2 1682.2,300.9 1682.6,300.5 1683.0,300.1 1683.4,299.7 1683.9,299.2 1684.3,298.7 1684.7,298.1 1685.1,297.5 1685.5,296.9 1686.0,296.3 1686.4,295.6 1686.8,294.9 1687.2,294.2 1687.6,293.4 1688.0,292.7 1688.5,291.9 1688.9,291.1 1689.3,290.3 1689.7,289.4 1690.1,288.6 1690.6,287.8 1691.0,286.9 1691.4,286.0 1691.8,285.2 1692.2,284.3 1692.6,283.4 1693.1,282.6 1693.5,281.7 1693.9,280.8 1694.3,279.9 1694.7,279.1 1695.2,278.2 1695.6,277.4 1696.0,276.5 1696.4,275.7 1696.8,274.9 1697.2,274.0 1697.7,273.2 1698.1,272.4 1698.5,271.6 1698.9,270.9 1699.3,270.1 1699.8,269.3 1700.2,268.6 1700.6,267.9 1701.0,267.1 1701.4,266.4 1701.8,265.7 1702.3,265.1 1702.7,264.4 1703.1,263.7 1703.5,263.1 1703.9,262.5 1704.4,261.9 1704.8,261.3 1705.2,260.7 1705.6,260.1 1706.0,259.5 1706.4,259.0 1706.9,258.5 1707.3,258.0 1707.7,257.5 1708.1,257.0 1708.5,256.5 1709.0,256.0 1709.4,255.6 1709.8,255.1 1710.2,254.7 1710.6,254.3 1711.0,253.9 1711.5,253.5 1711.9,253.1 1712.3,252.7 1712.7,252.4 1713.1,252.0 1713.6,251.7 1714.0,251.4 1714.4,251.0 1714.8,250.7 1715.2,250.4 1715.6,250.1 1716.1,249.9 1716.5,249.6 1716.9,249.3 1717.3,249.0 1717.7,248.8 1718.2,248.6 1718.6,248.3 1719.0,248.1 1719.4,247.9 1719.8,247.6 1720.2,247.4 1720.7,247.2 1721.1,247.0 1721.5,246.8 1721.9,246.6 1722.3,246.5 1722.8,246.3 1723.2,246.1 1723.6,245.9 1724.0,245.8 1724.4,245.6 1724.8,245.4 1725.3,245.3 1725.7,245.1 1726.1,245.0 1726.5,244.8 1726.9,244.7 1727.4,244.6 1727.8,244.4 1728.2,244.3 1728.6,244.2 1729.0,244.1 1729.4,243.9 1729.9,243.8 1730.3,243.7 1730.7,243.6 1731.1,243.5 1731.5,243.4 1732.0,243.3 1732.4,243.2 1732.8,243.1 1733.2,243.0 1733.6,242.9 1734.0,242.8 1734.5,242.7 1734.9,242.6 1735.3,242.5 1735.7,242.4 1736.1,242.3 1736.6,242.2 1737.0,242.1 1737.4,242.0 1737.8,242.0 1738.2,241.9 1738.6,241.8 1739.1,241.7 1739.5,241.6 1739.9,241.6 1740.3,241.5 1740.7,241.4 1741.2,241.3 1741.6,241.3 1742.0,241.2 1742.4,241.1 1742.8,241.1 1743.2,241.0 1743.7,240.9 1744.1,240.9 1744.5,240.8 1744.9,240.7 1745.3,240.7 1745.8,240.6 1746.2,240.5 1746.6,240.5 1747.0,240.4 1747.4,240.4 1747.8,240.3 1748.3,240.2 1748.7,240.2 1749.1,240.1 1749.5,240.1 1749.9,240.0 1750.4,240.0 1750.8,239.9 1751.2,239.9 1751.6,239.8 1752.0,239.8 1752.4,239.7 1752.9,239.7 1753.3,239.6 1753.7,239.6 1754.1,239.5 1754.5,239.5 1755.0,239.4 1755.4,239.4 1755.8,239.4 1756.2,239.3 1756.6,239.3 1757.0,239.2 1757.5,239.2 1757.9,239.1 1758.3,239.1 1758.7,239.1 1759.1,239.0 1759.6,239.0 1760.0,238.9 1760.4,238.9 1760.8,238.9 1761.2,238.8 1761.6,238.8 1762.1,238.8 1762.5,238.7 1762.9,238.7 1763.3,238.6 1763.7,238.6 1764.2,238.6 1764.6,238.5 1765.0,238.5 1765.4,238.5 1765.8,238.4 1766.2,238.4 1766.7,238.4 1767.1,238.4 1767.5,238.3 1767.9,238.3 1768.3,238.3 1768.8,238.2 1769.2,238.2 1769.6,238.2 1770.0,238.1 1770.4,238.1 1770.8,238.1 1771.3,238.1 1771.7,238.0 1772.1,238.0 1772.5,238.0 1772.9,238.0 1773.4,237.9 1773.8,237.9 1774.2,237.9 1774.6,237.9 1775.0,237.8 1775.4,237.8 1775.9,237.8 1776.3,237.8 1776.7,237.7 1777.1,237.7 1777.5,237.7 1778.0,237.7 1778.4,237.7 1778.8,237.6 1779.2,237.6 1779.6,237.6 1780.0,237.6 1780.5,237.5 1780.9,237.5 1781.3,237.5 1781.7,237.5 1782.1,237.5 1782.6,237.5 1783.0,237.4 1783.4,237.4 1783.8,237.4 1784.2,237.4 1784.6,237.4 1785.1,237.3 1785.5,237.3 1785.9,237.3 1786.3,237.3 1786.7,237.3 1787.2,237.3 1787.6,237.2 1788.0,237.2 1788.4,237.2 1788.8,237.2 1789.3,237.2 1789.7,237.2 1790.1,237.2 1790.5,237.1 1790.9,237.1 1791.3,237.1 1791.8,237.1 1792.2,237.1 1792.6,237.1 1793.0,237.1 1793.4,237.1 1793.9,237.0 1794.3,237.0 1794.7,237.0 1795.1,237.0 1795.5,237.0 1795.9,237.0 1796.4,237.0 1796.8,237.0 1797.2,237.0 1797.6,236.9 1798.0,236.9 1798.5,236.9 1798.9,236.9 1799.3,236.9 1799.7,236.9 1800.1,236.9 1800.5,236.9 1801.0,236.9 1801.4,236.9 1801.8,236.9 1802.2,236.9 1802.6,236.8 1803.1,236.8 1803.5,236.8 1803.9,236.8 1804.3,236.8 1804.7,236.8 1805.1,236.8 1805.6,236.8 1806.0,236.8 1806.4,236.8 1806.8,236.8 1807.2,236.8 1807.7,236.8 1808.1,236.8 1808.5,236.8 1808.9,236.8 1809.3,236.8 1809.7,236.8 1810.2,236.8 1810.6,236.7 1811.0,236.7 1811.4,236.7 1811.8,236.7 1812.3,236.7 1812.7,236.7 1813.1,236.7 1813.5,236.7 1813.9,236.7 1814.3,236.7 1814.8,236.7 1815.2,236.7 1815.6,236.7 1816.0,236.7 1816.4,236.7 1816.9,236.7 1817.3,236.7 1817.7,236.7 1818.1,236.7 1818.5,236.7 1818.9,236.7 1819.4,236.7 1819.8,236.7 1820.2,236.7 1820.6,236.7 1821.0,236.7 1821.5,236.7 1821.9,236.8 1822.3,236.8 1822.7,236.8 1823.1,236.8 1823.5,236.8 1824.0,236.8 1824.4,236.8 1824.8,236.8 1825.2,236.8 1825.6,236.8 1826.1,236.8 1826.5,236.8 1826.9,236.8 1827.3,236.8 1827.7,236.8 1828.1,236.8 1828.6,236.8 1829.0,236.8 1829.4,236.9 1829.8,236.9 1830.2,236.9 1830.7,236.9 1831.1,236.9 1831.5,236.9 1831.9,236.9 1832.3,236.9 1832.7,236.9 1833.2,236.9 1833.6,237.0 1834.0,237.0 1834.4,237.0 1834.8,237.0 1835.3,237.0 1835.7,237.0 1836.1,237.0 1836.5,237.0 1836.9,237.1 1837.3,237.1 1837.8,237.1 1838.2,237.1 1838.6,237.1 1839.0,237.1 1839.4,237.1 1839.9,237.2 1840.3,237.2 1840.7,237.2 1841.1,237.2 1841.5,237.2 1841.9,237.3 1842.4,237.3 1842.8,237.3 1843.2,237.3 1843.6,237.3 1844.0,237.4 1844.5,237.4 1844.9,237.4 1845.3,237.4 1845.7,237.4 1846.1,237.5 1846.5,237.5 1847.0,237.5 1847.4,237.5 1847.8,237.6 1848.2,237.6 1848.6,237.6 1849.1,237.7 1849.5,237.7 1849.9,237.7 1850.3,237.7 1850.7,237.8 1851.1,237.8 1851.6,237.8 1852.0,237.9 1852.4,237.9 1852.8,237.9 1853.2,238.0 1853.7,238.0 1854.1,238.0 1854.5,238.1 1854.9,238.1 1855.3,238.1 1855.7,238.2 1856.2,238.2 1856.6,238.3 1857.0,238.3 1857.4,238.3 1857.8,238.4 1858.3,238.4 1858.7,238.5 1859.1,238.5 1859.5,238.6 1859.9,238.6 1860.3,238.7 1860.8,238.7 1861.2,238.8 1861.6,238.8 1862.0,238.9 1862.4,238.9 1862.9,239.0 1863.3,239.0 1863.7,239.1 1864.1,239.1 1864.5,239.2 1864.9,239.3 1865.4,239.3 1865.8,239.4 1866.2,239.5 1866.6,239.5 1867.0,239.6 1867.5,239.7 1867.9,239.7 1868.3,239.8 1868.7,239.9 1869.1,239.9 1869.5,240.0 1870.0,240.1 1870.4,240.2 1870.8,240.3 1871.2,240.3 1871.6,240.4 1872.1,240.5 1872.5,240.6 1872.9,240.7 1873.3,240.8 1873.7,240.9 1874.1,241.0 1874.6,241.0 1875.0,241.1 1875.4,241.2 1875.8,241.3 1876.2,241.4 1876.7,241.6 1877.1,241.7 1877.5,241.8 1877.9,241.9 1878.3,242.0 1878.7,242.1 1879.2,242.2 1879.6,242.4 1880.0,242.5 1880.4,242.6 1880.8,242.7 1881.3,242.9 1881.7,243.0 1882.1,243.1 1882.5,243.3 1882.9,243.4 1883.3,243.6 1883.8,243.7 1884.2,243.9 1884.6,244.0 1885.0,244.2 1885.4,244.3 1885.9,244.5 1886.3,244.6 1886.7,244.8 1887.1,245.0 1887.5,245.2 1887.9,245.3 1888.4,245.5 1888.8,245.7 1889.2,245.9 1889.6,246.1 1890.0,246.3 1890.5,246.5 1890.9,246.7 1891.3,246.9 1891.7,247.1 1892.1,247.3 1892.5,247.5 1893.0,247.7 1893.4,248.0 1893.8,248.2 1894.2,248.4 1894.6,248.7 1895.1,248.9 1895.5,249.2 1895.9,249.4 1896.3,249.7 1896.7,249.9 1897.1,250.2 1897.6,250.5 1898.0,250.7 1898.4,251.0 1898.8,251.3 1899.2,251.6 1899.7,251.9 1900.1,252.2 1900.5,252.5 1900.9,252.8 1901.3,253.1 1901.7,253.4 1902.2,253.7 1902.6,254.1 1903.0,254.4 1903.4,254.7 1903.8,255.1 1904.3,255.4 1904.7,255.7 1905.1,256.1 1905.5,256.5 1905.9,256.8 1906.3,257.2 1906.8,257.5 1907.2,257.9 1907.6,258.3 1908.0,258.7 1908.4,259.1 1908.9,259.4 1909.3,259.8 1909.7,260.2 1910.1,260.6 1910.5,261.0 1910.9,261.4 1911.4,261.8 1911.8,262.2 1912.2,262.6 1912.6,263.0 1913.0,263.4 1913.5,263.9 1913.9,264.3 1914.3,264.7 1914.7,265.1 1915.1,265.5 1915.5,265.9 1916.0,266.3 1916.4,266.7 1916.8,267.1 1917.2,267.5 1917.6,267.9 1918.1,268.3 1918.5,268.7 1918.9,269.1 1919.3,269.5 1919.7,269.9 1920.1,270.2 1920.6,270.6 1921.0,271.0 1921.4,271.3 1921.8,271.7 1922.2,272.0 1922.7,272.4 1923.1,272.7 1923.5,273.1 1923.9,273.4 1924.3,273.7 1924.7,274.0 1925.2,274.4 1925.6,274.7 1926.0,275.0 1926.4,275.3 1926.8,275.6 1927.3,276.0 1927.7,276.3 1928.1,276.6 1928.5,276.9 1928.9,277.3 1929.3,277.6 1929.8,277.9 1930.2,278.3 1930.6,278.6 1931.0,278.9 1931.4,279.3 1931.9,279.6 1932.3,280.0 1932.7,280.4 1933.1,280.7 1933.5,281.1 1933.9,281.5 1934.4,281.9 1934.8,282.2 1935.2,282.6 1935.6,283.0 1936.0,283.4 1936.5,283.9 1936.9,284.3 1937.3,284.7 1937.7,285.1 1938.1,285.6 1938.5,286.0 1939.0,286.5 1939.4,287.0 1939.8,287.4 1940.2,287.9 1940.6,288.4 1941.1,288.9 1941.5,289.4 1941.9,289.9 1942.3,290.4 1942.7,290.9 1943.1,291.4 1943.6,292.0 1944.0,292.5 1944.4,293.1 1944.8,293.6 1945.2,294.1 1945.7,294.7 1946.1,295.2 1946.5,295.8 1946.9,296.3 1947.3,296.9 1947.7,297.4 1948.2,298.0 1948.6,298.5 1949.0,299.1 1949.4,299.6 1949.8,300.1 1950.3,300.7 1950.7,301.2 1951.1,301.7 1951.5,302.2 1951.9,302.6 1952.3,303.1 1952.8,303.5 1953.2,304.0 1953.6,304.3 1954.0,304.7 1954.4,305.1 1954.9,305.4 1955.3,305.7 1955.7,306.0 1956.1,306.2 1956.5,306.4 1956.9,306.6 1957.4,306.7 1957.8,306.8 1958.2,306.8 1958.6,306.8 1959.0,306.8 1959.5,306.7 1959.9,306.6 1960.3,306.5 1960.7,306.2 1961.1,306.0 1961.5,305.7 1962.0,305.4 1962.4,305.0 1962.8,304.6 1963.2,304.1 1963.6,303.6 1964.1,303.1 1964.5,302.5 1964.9,301.9 1965.3,301.2 1965.7,300.6 1966.1,299.9 1966.6,299.1 1967.0,298.4 1967.4,297.6 1967.8,296.8 1968.2,295.9 1968.7,295.1 1969.1,294.2 1969.5,293.4 1969.9,292.5 1970.3,291.6 1970.7,290.7 1971.2,289.7 1971.6,288.8 1972.0,287.9 1972.4,287.0 1972.8,286.0 1973.3,285.1 1973.7,284.2 1974.1,283.2 1974.5,282.3 1974.9,281.4 1975.3,280.5 1975.8,279.6 1976.2,278.7 1976.6,277.8 1977.0,276.9 1977.4,276.0 1977.9,275.1 1978.3,274.3 1978.7,273.4 1979.1,272.6 1979.5,271.8 1979.9,271.0 1980.4,270.2 1980.8,269.4 1981.2,268.6 1981.6,267.8 1982.0,267.1 1982.5,266.4 1982.9,265.6 1983.3,264.9 1983.7,264.2 1984.1,263.6 1984.5,262.9 1985.0,262.2 1985.4,261.6 1985.8,261.0 1986.2,260.4 1986.6,259.8 1987.1,259.2 1987.5,258.6 1987.9,258.1 1988.3,257.5 1988.7,257.0 1989.1,256.5 1989.6,256.0 1990.0,255.5 1990.4,255.0 1990.8,254.5 1991.2,254.1 1991.7,253.7 1992.1,253.2 1992.5,252.8 1992.9,252.4 1993.3,252.0 1993.7,251.6 1994.2,251.2 1994.6,250.9 1995.0,250.5 1995.4,250.2 1995.8,249.8 1996.3,249.5 1996.7,249.2 1997.1,248.9 1997.5,248.6 1997.9,248.3 1998.4,248.0 1998.8,247.7 1999.2,247.4 1999.6,247.1 2000.0,246.9 2000.4,246.6 2000.9,246.4 2001.3,246.1 2001.7,245.9 2002.1,245.7 2002.5,245.5 2003.0,245.2 2003.4,245.0 2003.8,244.8 2004.2,244.6 2004.6,244.4 2005.0,244.2 2005.5,244.0 2005.9,243.8 2006.3,243.7 2006.7,243.5 2007.1,243.3 2007.6,243.1 2008.0,243.0 2008.4,242.8 2008.8,242.7 2009.2,242.5 2009.6,242.3 2010.1,242.2 2010.5,242.1 2010.9,241.9 2011.3,241.8 2011.7,241.6 2012.2,241.5 2012.6,241.4 2013.0,241.2 2013.4,241.1 2013.8,241.0 2014.2,240.9 2014.7,240.7 2015.1,240.6 2015.5,240.5 2015.9,240.4 2016.3,240.3 2016.8,240.2 2017.2,240.1 2017.6,240.0 2018.0,239.8 2018.4,239.7 2018.8,239.6 2019.3,239.5 2019.7,239.5 2020.1,239.4 2020.5,239.3 2020.9,239.2 2021.4,239.1 2021.8,239.0 2022.2,238.9 2022.6,238.8 2023.0,238.7 2023.4,238.7 2023.9,238.6 2024.3,238.5 2024.7,238.4 2025.1,238.3 2025.5,238.3 2026.0,238.2 2026.4,238.1 2026.8,238.0 2027.2,238.0 2027.6,237.9 2028.0,237.8 2028.5,237.8 2028.9,237.7 2029.3,237.6 2029.7,237.6 2030.1,237.5 2030.6,237.4 2031.0,237.4 2031.4,237.3 2031.8,237.3 2032.2,237.2 2032.6,237.1 2033.1,237.1 2033.5,237.0 2033.9,237.0 2034.3,236.9 2034.7,236.9 2035.2,236.8 2035.6,236.8 2036.0,236.7 2036.4,236.7 2036.8,236.6 2037.2,236.6 2037.7,236.5 2038.1,236.5 2038.5,236.4 2038.9,236.4 2039.3,236.3 2039.8,236.3 2040.2,236.2 2040.6,236.2 2041.0,236.2 2041.4,236.1 2041.8,236.1 2042.3,236.0 2042.7,236.0 2043.1,236.0 2043.5,235.9 2043.9,235.9 2044.4,235.8 2044.8,235.8 2045.2,235.8 2045.6,235.7 2046.0,235.7 2046.4,235.7 2046.9,235.6 2047.3,235.6 2047.7,235.6 2048.1,235.5 2048.5,235.5 2049.0,235.5 2049.4,235.4 2049.8,235.4 2050.2,235.4 2050.6,235.3 2051.0,235.3 2051.5,235.3 2051.9,235.3 2052.3,235.2 2052.7,235.2 2053.1,235.2 2053.6,235.1 2054.0,235.1 2054.4,235.1 2054.8,235.1 2055.2,235.0 2055.6,235.0 2056.1,235.0 2056.5,235.0 2056.9,234.9 2057.3,234.9 2057.7,234.9 2058.2,234.9 2058.6,234.8 2059.0,234.8 2059.4,234.8 2059.8,234.8 2060.2,234.7 2060.7,234.7 2061.1,234.7 2061.5,234.7 2061.9,234.7 2062.3,234.6 2062.8,234.6 2063.2,234.6 2063.6,234.6 2064.0,234.5 2064.4,234.5 2064.8,234.5 2065.3,234.5 2065.7,234.5 2066.1,234.4 2066.5,234.4 2066.9,234.4 2067.4,234.4 2067.8,234.4 2068.2,234.3 2068.6,234.3 2069.0,234.3 2069.4,234.3 2069.9,234.3 2070.3,234.3 2070.7,234.2 2071.1,234.2 2071.5,234.2 2072.0,234.2 2072.4,234.2 2072.8,234.1 2073.2,234.1 2073.6,234.1 2074.0,234.1 2074.5,234.1 2074.9,234.1 2075.3,234.1 2075.7,234.0 2076.1,234.0 2076.6,234.0 2077.0,234.0 2077.4,234.0 2077.8,234.0 2078.2,233.9 2078.6,233.9 2079.1,233.9 2079.5,233.9 2079.9,233.9 2080.3,233.9 2080.7,233.9 2081.2,233.8 2081.6,233.8 2082.0,233.8 2082.4,233.8 2082.8,233.8 2083.2,233.8 2083.7,233.8 2084.1,233.7 2084.5,233.7 2084.9,233.7 2085.3,233.7 2085.8,233.7 2086.2,233.7 2086.6,233.7 2087.0,233.7 2087.4,233.6 2087.8,233.6 2088.3,233.6 2088.7,233.6 2089.1,233.6 2089.5,233.6 2089.9,233.6 2090.4,233.6 2090.8,233.5 2091.2,233.5 2091.6,233.5 2092.0,233.5 2092.4,233.5 2092.9,233.5 2093.3,233.5 2093.7,233.5 2094.1,233.4 2094.5,233.4 2095.0,233.4 2095.4,233.4 2095.8,233.4 2096.2,233.4 2096.6,233.4 2097.0,233.4 2097.5,233.4 2097.9,233.4 2098.3,233.3 2098.7,233.3 2099.1,233.3 2099.6,233.3 2100.0,233.3 2100.4,233.3 2100.8,233.3 2101.2,233.3 2101.6,233.3 2102.1,233.3 2102.5,233.2 2102.9,233.2 2103.3,233.2 2103.7,233.2 2104.2,233.2 2104.6,233.2 2105.0,233.2 2105.4,233.2 2105.8,233.2 2106.2,233.2 2106.7,233.1 2107.1,233.1 2107.5,233.1 2107.9,233.1 2108.3,233.1 2108.8,233.1 2109.2,233.1 2109.6,233.1 2110.0,233.1 2110.4,233.1 2110.8,233.1 2111.3,233.1 2111.7,233.0 2112.1,233.0 2112.5,233.0 2112.9,233.0 2113.4,233.0 2113.8,233.0 2114.2,233.0 2114.6,233.0 2115.0,233.0 2115.4,233.0 2115.9,233.0 2116.3,233.0 2116.7,232.9 2117.1,232.9 2117.5,232.9 2118.0,232.9 2118.4,232.9 2118.8,232.9 2119.2,232.9 2119.6,232.9 2120.0,232.9 2120.5,232.9 2120.9,232.9 2121.3,232.9 2121.7,232.9 2122.1,232.8 2122.6,232.8 2123.0,232.8 2123.4,232.8 2123.8,232.8 2124.2,232.8 2124.6,232.8 2125.1,232.8 2125.5,232.8 2125.9,232.8 2126.3,232.8 2126.7,232.8 2127.2,232.8 2127.6,232.8 2128.0,232.8 2128.4,232.7 2128.8,232.7 2129.2,232.7 2129.7,232.7 2130.1,232.7 2130.5,232.7 2130.9,232.7 2131.3,232.7 2131.8,232.7 2132.2,232.7 2132.6,232.7 2133.0,232.7 2133.4,232.7 2133.8,232.7 2134.3,232.7 2134.7,232.6 2135.1,232.6 2135.5,232.6 2135.9,232.6 2136.4,232.6 2136.8,232.6 2137.2,232.6 2137.6,232.6 2138.0,232.6 2138.4,232.6 2138.9,232.6 2139.3,232.6 2139.7,232.6 2140.1,232.6 2140.5,232.6 2141.0,232.6 2141.4,232.6 2141.8,232.5 2142.2,232.5 2142.6,232.5 2143.0,232.5 2143.5,232.5 2143.9,232.5 2144.3,232.5 2144.7,232.5 2145.1,232.5 2145.6,232.5 2146.0,232.5 2146.4,232.5 2146.8,232.5 2147.2,232.5 2147.6,232.5 2148.1,232.5 2148.5,232.5 2148.9,232.5 2149.3,232.5 2149.7,232.4 2150.2,232.4 2150.6,232.4 2151.0,232.4 2151.4,232.4 2151.8,232.4 2152.2,232.4 2152.7,232.4 2153.1,232.4 2153.5,232.4 2153.9,232.4 2154.3,232.4 2154.8,232.4 2155.2,232.4 2155.6,232.4 2156.0,232.4 2156.4,232.4 2156.8,232.4 2157.3,232.4 2157.7,232.4 2158.1,232.4 2158.5,232.3 2158.9,232.3 2159.4,232.3 2159.8,232.3 2160.2,232.3 2160.6,232.3 2161.0,232.3 2161.4,232.3 2161.9,232.3 2162.3,232.3 2162.7,232.3 2163.1,232.3 2163.5,232.3 2164.0,232.3 2164.4,232.3 2164.8,232.3 2165.2,232.3 2165.6,232.3 2166.0,232.3 2166.5,232.3 2166.9,232.3 2167.3,232.3 2167.7,232.3 2168.1,232.2 2168.6,232.2 2169.0,232.2 2169.4,232.2 2169.8,232.2 2170.2,232.2 2170.6,232.2 2171.1,232.2 2171.5,232.2 2171.9,232.2 2172.3,232.2 2172.7,232.2 2173.2,232.2 2173.6,232.2 2174.0,232.2 2174.4,232.2 2174.8,232.2 2175.2,232.2 2175.7,232.2 2176.1,232.2 2176.5,232.2 2176.9,232.2 2177.3,232.2 2177.8,232.2 2178.2,232.2 2178.6,232.2 2179.0,232.1 2179.4,232.1 2179.8,232.1 2180.3,232.1 2180.7,232.1 2181.1,232.1 2181.5,232.1 2181.9,232.1 2182.4,232.1 2182.8,232.1 2183.2,232.1 2183.6,232.1 2184.0,232.1 2184.4,232.1 2184.9,232.1 2185.3,232.1 2185.7,232.1 2186.1,232.1 2186.5,232.1"/>
<polyline fill="none" stroke="#b83ee6" stroke-width="4.0" stroke-linejoin="round" points="581.5,236.0 582.3,236.1 583.2,236.3 584.0,236.5 584.8,236.7 585.7,236.9 586.5,237.1 587.3,237.3 588.2,237.5 589.0,237.7 589.9,237.9 590.7,238.2 591.5,238.4 592.4,238.6 593.2,238.9 594.0,239.1 594.9,239.4 595.7,239.6 596.5,239.9 597.4,240.1 598.2,240.4 599.1,240.7 599.9,241.0 600.7,241.3 601.6,241.5 602.4,241.8 603.2,242.1 604.1,242.4 604.9,242.7 605.7,243.0 606.6,243.4 607.4,243.7 608.3,244.0 609.1,244.3 609.9,244.6 610.8,245.0 611.6,245.3 612.4,245.6 613.3,245.9 614.1,246.2 614.9,246.6 615.8,246.9 616.6,247.2 617.5,247.5 618.3,247.8 619.1,248.1 620.0,248.4 620.8,248.7 621.6,249.0 622.5,249.3 623.3,249.6 624.1,249.9 625.0,250.1 625.8,250.4 626.7,250.6 627.5,250.9 628.3,251.1 629.2,251.3 630.0,251.5 630.8,251.7 631.7,251.8 632.5,252.0 633.3,252.1 634.2,252.2 635.0,252.3 635.9,252.4 636.7,252.5 637.5,252.5 638.4,252.5 639.2,252.6 640.0,252.5 640.9,252.5 641.7,252.5 642.5,252.4 643.4,252.3 644.2,252.2 645.1,252.1 645.9,252.0 646.7,251.8 647.6,251.7 648.4,251.5 649.2,251.3 650.1,251.1 650.9,250.9 651.7,250.6 652.6,250.4 653.4,250.1 654.3,249.9 655.1,249.6 655.9,249.3 656.8,249.0 657.6,248.8 658.4,248.5 659.3,248.2 660.1,247.8 660.9,247.5 661.8,247.2 662.6,246.9 663.5,246.6 664.3,246.3 665.1,245.9 666.0,245.6 666.8,245.3 667.6,245.0 668.5,244.6 669.3,244.3 670.1,244.0 671.0,243.7 671.8,243.4 672.7,243.1 673.5,242.8 674.3,242.5 675.2,242.2 676.0,241.9 676.8,241.6 677.7,241.3 678.5,241.0 679.3,240.7 680.2,240.4 681.0,240.2 681.9,239.9 682.7,239.6 683.5,239.4 684.4,239.1 685.2,238.9 686.0,238.6 686.9,238.4 687.7,238.2 688.5,237.9 689.4,237.7 690.2,237.5 691.1,237.3 691.9,237.1 692.7,236.9 693.6,236.7 694.4,236.5 695.2,236.4 696.1,236.2 696.9,236.0 697.7,235.8 698.6,235.7 699.4,235.5 700.3,235.4 701.1,235.2 701.9,235.1 702.8,234.9 703.6,234.8 704.4,234.7 705.3,234.6 706.1,234.4 706.9,234.3 707.8,234.2 708.6,234.1 709.5,234.0 710.3,233.9 711.1,233.8 712.0,233.7 712.8,233.6 713.6,233.5 714.5,233.5 715.3,233.4 716.1,233.3 717.0,233.2 717.8,233.2 718.7,233.1 719.5,233.0 720.3,233.0 721.2,232.9 722.0,232.8 722.8,232.8 723.7,232.7 724.5,232.7 725.3,232.6 726.2,232.6 727.0,232.5 727.9,232.5 728.7,232.4 729.5,232.4 730.4,232.4 731.2,232.3 732.0,232.3 732.9,232.3 733.7,232.2 734.5,232.2 735.4,232.2 736.2,232.1 737.1,232.1 737.9,232.1 738.7,232.0 739.6,232.0 740.4,232.0 741.2,232.0 742.1,231.9 742.9,231.9 743.7,231.9 744.6,231.9 745.4,231.9 746.3,231.8 747.1,231.8 747.9,231.8 748.8,231.8 749.6,231.8 750.4,231.7 751.3,231.7 752.1,231.7 753.0,231.7 753.8,231.7 754.6,231.7 755.5,231.7 756.3,231.6 757.1,231.6 758.0,231.6 758.8,231.6 759.6,231.6 760.5,231.6 761.3,231.6 762.2,231.6 763.0,231.5 763.8,231.5 764.7,231.5 765.5,231.5 766.3,231.5 767.2,231.5 768.0,231.5 768.8,231.5 769.7,231.5 770.5,231.4 771.4,231.4 772.2,231.4 773.0,231.4 773.9,231.4 774.7,231.4 775.5,231.4 776.4,231.4 777.2,231.4 778.0,231.4 778.9,231.4 779.7,231.4 780.6,231.3 781.4,231.3 782.2,231.3 783.1,231.3 783.9,231.3 784.7,231.3 785.6,231.3 786.4,231.3 787.2,231.3 788.1,231.3 788.9,231.3 789.8,231.3 790.6,231.3 791.4,231.3 792.3,231.3 793.1,231.3 793.9,231.3 794.8,231.2 795.6,231.2 796.4,231.2 797.3,231.2 798.1,231.2 799.0,231.2 799.8,231.2 800.6,231.2 801.5,231.2 802.3,231.2 803.1,231.2 804.0,231.2 804.8,231.2 805.6,231.2 806.5,231.2 807.3,231.2 808.2,231.2 809.0,231.2 809.8,231.2 810.7,231.2 811.5,231.2 812.3,231.2 813.2,231.2 814.0,231.2 814.8,231.2 815.7,231.2 816.5,231.2 817.4,231.2 818.2,231.2 819.0,231.2 819.9,231.2 820.7,231.2 821.5,231.2 822.4,231.2 823.2,231.2 824.0,231.1 824.9,231.1 825.7,231.1 826.6,231.1 827.4,231.1 828.2,231.1 829.1,231.2 829.9,231.2 830.7,231.2 831.6,231.2 832.4,231.2 833.2,231.2 834.1,231.2 834.9,231.2 835.8,231.2 836.6,231.2 837.4,231.2 838.3,231.2 839.1,231.2 839.9,231.2 840.8,231.2 841.6,231.2 842.4,231.2 843.3,231.2 844.1,231.2 845.0,231.2 845.8,231.2 846.6,231.2 847.5,231.2 848.3,231.2 849.1,231.2 850.0,231.3 850.8,231.3 851.6,231.3 852.5,231.3 853.3,231.3 854.2,231.3 855.0,231.3 855.8,231.3 856.7,231.3 857.5,231.4 858.3,231.4 859.2,231.4 860.0,231.4 860.8,231.4 861.7,231.4 862.5,231.5 863.4,231.5 864.2,231.5 865.0,231.5 865.9,231.5 866.7,231.6 867.5,231.6 868.4,231.6 869.2,231.6 870.0,231.7 870.9,231.7 871.7,231.7 872.6,231.7 873.4,231.8 874.2,231.8 875.1,231.8 875.9,231.9 876.7,231.9 877.6,231.9 878.4,232.0 879.2,232.0 880.1,232.0 880.9,232.1 881.8,232.1 882.6,232.1 883.4,232.2 884.3,232.2 885.1,232.2 885.9,232.3 886.8,232.3 887.6,232.4 888.4,232.4 889.3,232.4 890.1,232.5 891.0,232.5 891.8,232.6 892.6,232.6 893.5,232.6 894.3,232.7 895.1,232.7 896.0,232.8 896.8,232.8 897.6,232.8 898.5,232.9 899.3,232.9 900.2,233.0 901.0,233.0 901.8,233.0 902.7,233.1 903.5,233.1 904.3,233.1 905.2,233.2 906.0,233.2 906.8,233.2 907.7,233.2 908.5,233.2 909.4,233.3 910.2,233.3 911.0,233.3 911.9,233.3 912.7,233.3 913.5,233.3 914.4,233.3 915.2,233.3 916.0,233.3 916.9,233.3 917.7,233.3 918.6,233.3 919.4,233.3 920.2,233.3 921.1,233.3 921.9,233.2 922.7,233.2 923.6,233.2 924.4,233.2 925.2,233.1 926.1,233.1 926.9,233.1 927.8,233.0 928.6,233.0 929.4,233.0 930.3,232.9 931.1,232.9 931.9,232.9 932.8,232.8 933.6,232.8 934.4,232.7 935.3,232.7 936.1,232.6 937.0,232.6 937.8,232.6 938.6,232.5 939.5,232.5 940.3,232.4 941.1,232.4 942.0,232.4 942.8,232.3 943.6,232.3 944.5,232.2 945.3,232.2 946.2,232.1 947.0,232.1 947.8,232.1 948.7,232.0 949.5,232.0 950.3,232.0 951.2,231.9 952.0,231.9 952.8,231.8 953.7,231.8 954.5,231.8 955.4,231.7 956.2,231.7 957.0,231.7 957.9,231.7 958.7,231.6 959.5,231.6 960.4,231.6 961.2,231.5 962.1,231.5 962.9,231.5 963.7,231.5 964.6,231.4 965.4,231.4 966.2,231.4 967.1,231.4 967.9,231.3 968.7,231.3 969.6,231.3 970.4,231.3 971.3,231.3 972.1,231.3 972.9,231.2 973.8,231.2 974.6,231.2 975.4,231.2 976.3,231.2 977.1,231.2 977.9,231.1 978.8,231.1 979.6,231.1 980.5,231.1 981.3,231.1 982.1,231.1 983.0,231.1 983.8,231.1 984.6,231.1 985.5,231.1 986.3,231.0 987.1,231.0 988.0,231.0 988.8,231.0 989.7,231.0 990.5,231.0 991.3,231.0 992.2,231.0 993.0,231.0 993.8,231.0 994.7,231.0 995.5,231.0 996.3,231.0 997.2,231.0 998.0,231.0 998.9,231.0 999.7,231.0 1000.5,230.9 1001.4,230.9 1002.2,230.9 1003.0,230.9 1003.9,230.9 1004.7,230.9 1005.5,230.9 1006.4,230.9 1007.2,230.9 1008.1,230.9 1008.9,230.9 1009.7,230.9 1010.6,230.9 1011.4,230.9 1012.2,230.9 1013.1,230.9 1013.9,230.9 1014.7,230.9 1015.6,230.9 1016.4,230.9 1017.3,230.9 1018.1,230.9 1018.9,230.9 1019.8,230.9 1020.6,230.9 1021.4,230.9 1022.3,230.9 1023.1,230.9 1023.9,230.9 1024.8,230.9 1025.6,230.9 1026.5,230.9 1027.3,230.9 1028.1,230.9 1029.0,230.9 1029.8,230.9 1030.6,230.9 1031.5,230.9 1032.3,230.9 1033.1,230.9 1034.0,230.9 1034.8,230.9 1035.7,230.9 1036.5,230.9 1037.3,230.9 1038.2,230.9 1039.0,230.9 1039.8,230.9 1040.7,230.9 1041.5,230.9 1042.3,230.9 1043.2,230.9 1044.0,230.9 1044.9,230.9 1045.7,230.9 1046.5,230.9 1047.4,230.9 1048.2,230.9 1049.0,230.9 1049.9,230.9 1050.7,230.9 1051.5,230.9 1052.4,230.9 1053.2,230.9 1054.1,230.9 1054.9,230.9 1055.7,230.9 1056.6,230.9 1057.4,230.9 1058.2,230.9 1059.1,230.9 1059.9,230.9 1060.7,230.9 1061.6,230.9 1062.4,230.9 1063.3,230.9 1064.1,230.9 1064.9,230.9 1065.8,230.9 1066.6,230.9 1067.4,230.9 1068.3,230.9 1069.1,230.9 1069.9,230.9 1070.8,230.9 1071.6,230.9 1072.5,230.9 1073.3,230.9 1074.1,231.0 1075.0,231.0 1075.8,231.0 1076.6,231.0 1077.5,231.0 1078.3,231.0 1079.1,231.0 1080.0,231.0 1080.8,231.0 1081.7,231.0 1082.5,231.0 1083.3,231.0 1084.2,231.0 1085.0,231.0 1085.8,231.0 1086.7,231.0 1087.5,231.0 1088.3,231.0 1089.2,231.0 1090.0,231.0 1090.9,231.0 1091.7,231.0 1092.5,231.0 1093.4,231.0 1094.2,231.0 1095.0,231.1 1095.9,231.1 1096.7,231.1 1097.5,231.1 1098.4,231.1 1099.2,231.1 1100.1,231.1 1100.9,231.1 1101.7,231.1 1102.6,231.1 1103.4,231.1 1104.2,231.1 1105.1,231.1 1105.9,231.1 1106.7,231.2 1107.6,231.2 1108.4,231.2 1109.3,231.2 1110.1,231.2 1110.9,231.2 1111.8,231.2 1112.6,231.2 1113.4,231.2 1114.3,231.3 1115.1,231.3 1115.9,231.3 1116.8,231.3 1117.6,231.3 1118.5,231.3 1119.3,231.4 1120.1,231.4 1121.0,231.4 1121.8,231.4 1122.6,231.4 1123.5,231.5 1124.3,231.5 1125.1,231.5 1126.0,231.5 1126.8,231.6 1127.7,231.6 1128.5,231.6 1129.3,231.7 1130.2,231.7 1131.0,231.7 1131.8,231.8 1132.7,231.8 1133.5,231.8 1134.3,231.9 1135.2,231.9 1136.0,232.0 1136.9,232.0 1137.7,232.1 1138.5,232.1 1139.4,232.2 1140.2,232.3 1141.0,232.3 1141.9,232.4 1142.7,232.4 1143.5,232.5 1144.4,232.6 1145.2,232.7 1146.1,232.8 1146.9,232.8 1147.7,232.9 1148.6,233.0 1149.4,233.1 1150.2,233.2 1151.1,233.3 1151.9,233.4 1152.7,233.5 1153.6,233.6 1154.4,233.7 1155.3,233.9 1156.1,234.0 1156.9,234.1 1157.8,234.2 1158.6,234.4 1159.4,234.5 1160.3,234.6 1161.1,234.8 1161.9,234.9 1162.8,235.1 1163.6,235.2 1164.5,235.4 1165.3,235.5 1166.1,235.7 1167.0,235.8 1167.8,236.0 1168.6,236.2 1169.5,236.3 1170.3,236.5 1171.2,236.6 1172.0,236.8 1172.8,237.0 1173.7,237.1 1174.5,237.3 1175.3,237.4 1176.2,237.6 1177.0,237.7 1177.8,237.9 1178.7,238.0 1179.5,238.1 1180.4,238.3 1181.2,238.4 1182.0,238.5 1182.9,238.6 1183.7,238.7 1184.5,238.8 1185.4,238.9 1186.2,239.0 1187.0,239.0 1187.9,239.1 1188.7,239.1 1189.6,239.2 1190.4,239.2 1191.2,239.2 1192.1,239.2 1192.9,239.2 1193.7,239.1 1194.6,239.1 1195.4,239.0 1196.2,239.0 1197.1,238.9 1197.9,238.8 1198.8,238.7 1199.6,238.6 1200.4,238.5 1201.3,238.4 1202.1,238.3 1202.9,238.2 1203.8,238.0 1204.6,237.9 1205.4,237.7 1206.3,237.6 1207.1,237.4 1208.0,237.3 1208.8,237.1 1209.6,237.0 1210.5,236.8 1211.3,236.7 1212.1,236.5 1213.0,236.4 1213.8,236.2 1214.6,236.0 1215.5,235.9 1216.3,235.7 1217.2,235.6 1218.0,235.4 1218.8,235.3 1219.7,235.1 1220.5,235.0 1221.3,234.8 1222.2,234.7 1223.0,234.6 1223.8,234.4 1224.7,234.3 1225.5,234.2 1226.4,234.1 1227.2,233.9 1228.0,233.8 1228.9,233.7 1229.7,233.6 1230.5,233.5 1231.4,233.4 1232.2,233.3 1233.0,233.2 1233.9,233.1 1234.7,233.0 1235.6,232.9 1236.4,232.8 1237.2,232.8 1238.1,232.7 1238.9,232.6 1239.7,232.6 1240.6,232.5 1241.4,232.4 1242.2,232.4 1243.1,232.3 1243.9,232.3 1244.8,232.2 1245.6,232.1 1246.4,232.1 1247.3,232.1 1248.1,232.0 1248.9,232.0 1249.8,231.9 1250.6,231.9 1251.4,231.9 1252.3,231.8 1253.1,231.8 1254.0,231.8 1254.8,231.7 1255.6,231.7 1256.5,231.7 1257.3,231.7 1258.1,231.6 1259.0,231.6 1259.8,231.6 1260.6,231.6 1261.5,231.6 1262.3,231.6 1263.2,231.5 1264.0,231.5 1264.8,231.5 1265.7,231.5 1266.5,231.5 1267.3,231.5 1268.2,231.5 1269.0,231.5 1269.8,231.5 1270.7,231.4 1271.5,231.4 1272.4,231.4 1273.2,231.4 1274.0,231.4 1274.9,231.4 1275.7,231.4 1276.5,231.4 1277.4,231.4 1278.2,231.4 1279.0,231.4 1279.9,231.4 1280.7,231.4 1281.6,231.4 1282.4,231.4 1283.2,231.4 1284.1,231.4 1284.9,231.4 1285.7,231.4 1286.6,231.4 1287.4,231.4 1288.2,231.4 1289.1,231.4 1289.9,231.4 1290.8,231.4 1291.6,231.4 1292.4,231.4 1293.3,231.4 1294.1,231.4 1294.9,231.4 1295.8,231.4 1296.6,231.4 1297.4,231.4 1298.3,231.4 1299.1,231.5 1300.0,231.5 1300.8,231.5 1301.6,231.5 1302.5,231.5 1303.3,231.5 1304.1,231.5 1305.0,231.5 1305.8,231.5 1306.6,231.5 1307.5,231.6 1308.3,231.6 1309.2,231.6 1310.0,231.6 1310.8,231.6 1311.7,231.6 1312.5,231.7 1313.3,231.7 1314.2,231.7 1315.0,231.7 1315.8,231.7 1316.7,231.8 1317.5,231.8 1318.4,231.8 1319.2,231.9 1320.0,231.9 1320.9,231.9 1321.7,232.0 1322.5,232.0 1323.4,232.1 1324.2,232.1 1325.0,232.1 1325.9,232.2 1326.7,232.3 1327.6,232.3 1328.4,232.4 1329.2,232.4 1330.1,232.5 1330.9,232.6 1331.7,232.7 1332.6,232.7 1333.4,232.8 1334.2,232.9 1335.1,233.0 1335.9,233.1 1336.8,233.2 1337.6,233.4 1338.4,233.5 1339.3,233.6 1340.1,233.7 1340.9,233.9 1341.8,234.0 1342.6,234.2 1343.4,234.4 1344.3,234.5 1345.1,234.7 1346.0,234.9 1346.8,235.1 1347.6,235.3 1348.5,235.5 1349.3,235.7 1350.1,235.9 1351.0,236.1 1351.8,236.3 1352.6,236.6 1353.5,236.8 1354.3,237.1 1355.2,237.3 1356.0,237.6 1356.8,237.9 1357.7,238.1 1358.5,238.4 1359.3,238.7 1360.2,238.9 1361.0,239.2 1361.8,239.5 1362.7,239.8 1363.5,240.1 1364.4,240.3 1365.2,240.6 1366.0,240.9 1366.9,241.1 1367.7,241.4 1368.5,241.6 1369.4,241.9 1370.2,242.1 1371.0,242.3 1371.9,242.5 1372.7,242.7 1373.6,242.8 1374.4,243.0 1375.2,243.1 1376.1,243.2 1376.9,243.3 1377.7,243.3 1378.6,243.4 1379.4,243.4 1380.3,243.4 1381.1,243.3 1381.9,243.3 1382.8,243.2 1383.6,243.1 1384.4,243.0 1385.3,242.8 1386.1,242.7 1386.9,242.5 1387.8,242.3 1388.6,242.1 1389.5,241.8 1390.3,241.6 1391.1,241.4 1392.0,241.1 1392.8,240.8 1393.6,240.6 1394.5,240.3 1395.3,240.0 1396.1,239.7 1397.0,239.5 1397.8,239.2 1398.7,238.9 1399.5,238.6 1400.3,238.4 1401.2,238.1 1402.0,237.8 1402.8,237.5 1403.7,237.3 1404.5,237.0 1405.3,236.8 1406.2,236.5 1407.0,236.3 1407.9,236.1 1408.7,235.8 1409.5,235.6 1410.4,235.4 1411.2,235.2 1412.0,235.0 1412.9,234.8 1413.7,234.6 1414.5,234.5 1415.4,234.3 1416.2,234.1 1417.1,234.0 1417.9,233.8 1418.7,233.7 1419.6,233.5 1420.4,233.4 1421.2,233.3 1422.1,233.2 1422.9,233.1 1423.7,232.9 1424.6,232.8 1425.4,232.7 1426.3,232.7 1427.1,232.6 1427.9,232.5 1428.8,232.4 1429.6,232.3 1430.4,232.3 1431.3,232.2 1432.1,232.1 1432.9,232.1 1433.8,232.0 1434.6,232.0 1435.5,231.9 1436.3,231.9 1437.1,231.8 1438.0,231.8 1438.8,231.8 1439.6,231.7 1440.5,231.7 1441.3,231.7 1442.1,231.6 1443.0,231.6 1443.8,231.6 1444.7,231.5 1445.5,231.5 1446.3,231.5 1447.2,231.5 1448.0,231.5 1448.8,231.4 1449.7,231.4 1450.5,231.4 1451.3,231.4 1452.2,231.4 1453.0,231.3 1453.9,231.3 1454.7,231.3 1455.5,231.3 1456.4,231.3 1457.2,231.3 1458.0,231.3 1458.9,231.3 1459.7,231.2 1460.5,231.2 1461.4,231.2 1462.2,231.2 1463.1,231.2 1463.9,231.2 1464.7,231.2 1465.6,231.2 1466.4,231.2 1467.2,231.2 1468.1,231.1 1468.9,231.1 1469.7,231.1 1470.6,231.1 1471.4,231.1 1472.3,231.1 1473.1,231.1 1473.9,231.1 1474.8,231.1 1475.6,231.1 1476.4,231.1 1477.3,231.1 1478.1,231.1 1478.9,231.1 1479.8,231.0 1480.6,231.0 1481.5,231.0 1482.3,231.0 1483.1,231.0 1484.0,231.0 1484.8,231.0 1485.6,231.0 1486.5,231.0 1487.3,231.0 1488.1,231.0 1489.0,231.0 1489.8,231.0 1490.7,231.0 1491.5,231.0 1492.3,231.0 1493.2,231.0 1494.0,231.0 1494.8,231.0 1495.7,231.0 1496.5,231.0 1497.3,231.0 1498.2,231.0 1499.0,231.0 1499.9,230.9 1500.7,230.9 1501.5,230.9 1502.4,230.9 1503.2,230.9 1504.0,230.9 1504.9,230.9 1505.7,230.9 1506.5,230.9 1507.4,230.9 1508.2,230.9 1509.1,230.9 1509.9,230.9 1510.7,230.9 1511.6,230.9 1512.4,230.9 1513.2,230.9 1514.1,230.9 1514.9,230.9 1515.7,230.9 1516.6,230.9 1517.4,230.9 1518.3,230.9 1519.1,230.9 1519.9,230.9 1520.8,230.9 1521.6,230.9 1522.4,230.9 1523.3,230.9 1524.1,230.9 1524.9,230.9 1525.8,230.9 1526.6,230.9 1527.5,230.9 1528.3,230.9 1529.1,230.9 1530.0,230.9 1530.8,230.9 1531.6,230.9 1532.5,230.9 1533.3,230.9 1534.1,230.9 1535.0,230.9 1535.8,230.9 1536.7,230.9 1537.5,230.9 1538.3,230.9 1539.2,230.9 1540.0,230.9 1540.8,230.9 1541.7,230.9 1542.5,230.9 1543.3,230.9 1544.2,230.9 1545.0,230.9 1545.9,230.9 1546.7,230.9 1547.5,230.9 1548.4,230.9 1549.2,230.9 1550.0,230.9 1550.9,230.9 1551.7,230.9 1552.5,230.9 1553.4,230.9 1554.2,230.9 1555.1,230.9 1555.9,230.9 1556.7,230.9 1557.6,230.9 1558.4,230.9 1559.2,230.9 1560.1,230.9 1560.9,230.9 1561.7,230.9 1562.6,230.9 1563.4,230.9 1564.3,230.9 1565.1,230.9 1565.9,230.9 1566.8,230.9 1567.6,230.9 1568.4,230.9 1569.3,230.9 1570.1,230.9 1570.9,230.9 1571.8,230.9 1572.6,230.9 1573.5,230.9 1574.3,230.9 1575.1,230.9 1576.0,230.9 1576.8,230.9 1577.6,230.9 1578.5,230.9 1579.3,230.9 1580.1,230.9 1581.0,230.9 1581.8,230.9 1582.7,230.9 1583.5,230.9 1584.3,230.9 1585.2,230.9 1586.0,230.9 1586.8,230.9 1587.7,230.9 1588.5,230.9 1589.4,230.9 1590.2,230.9 1591.0,230.9 1591.9,231.0 1592.7,231.0 1593.5,231.0 1594.4,231.0 1595.2,231.0 1596.0,231.0 1596.9,231.0 1597.7,231.0 1598.6,231.0 1599.4,231.0 1600.2,231.0 1601.1,231.0 1601.9,231.0 1602.7,231.0 1603.6,231.0 1604.4,231.1 1605.2,231.1 1606.1,231.1 1606.9,231.1 1607.8,231.1 1608.6,231.1 1609.4,231.1 1610.3,231.1 1611.1,231.1 1611.9,231.2 1612.8,231.2 1613.6,231.2 1614.4,231.2 1615.3,231.2 1616.1,231.2 1617.0,231.2 1617.8,231.3 1618.6,231.3 1619.5,231.3 1620.3,231.3 1621.1,231.3 1622.0,231.4 1622.8,231.4 1623.6,231.4 1624.5,231.4 1625.3,231.5 1626.2,231.5 1627.0,231.5 1627.8,231.5 1628.7,231.6 1629.5,231.6 1630.3,231.6 1631.2,231.6 1632.0,231.7 1632.8,231.7 1633.7,231.7 1634.5,231.8 1635.4,231.8 1636.2,231.8 1637.0,231.9 1637.9,231.9 1638.7,231.9 1639.5,232.0 1640.4,232.0 1641.2,232.1 1642.0,232.1 1642.9,232.1 1643.7,232.2 1644.6,232.2 1645.4,232.3 1646.2,232.3 1647.1,232.3 1647.9,232.4 1648.7,232.4 1649.6,232.5 1650.4,232.5 1651.2,232.6 1652.1,232.6 1652.9,232.6 1653.8,232.7 1654.6,232.7 1655.4,232.8 1656.3,232.8 1657.1,232.8 1657.9,232.9 1658.8,232.9 1659.6,233.0 1660.4,233.0 1661.3,233.0 1662.1,233.1 1663.0,233.1 1663.8,233.1 1664.6,233.2 1665.5,233.2 1666.3,233.2 1667.1,233.2 1668.0,233.2 1668.8,233.3 1669.6,233.3 1670.5,233.3 1671.3,233.3 1672.2,233.3 1673.0,233.3 1673.8,233.3 1674.7,233.3 1675.5,233.3 1676.3,233.3 1677.2,233.3 1678.0,233.3 1678.8,233.3 1679.7,233.3 1680.5,233.2 1681.4,233.2 1682.2,233.2 1683.0,233.2 1683.9,233.1 1684.7,233.1 1685.5,233.1 1686.4,233.1 1687.2,233.0 1688.0,233.0 1688.9,233.0 1689.7,232.9 1690.6,232.9 1691.4,232.8 1692.2,232.8 1693.1,232.8 1693.9,232.7 1694.7,232.7 1695.6,232.6 1696.4,232.6 1697.2,232.6 1698.1,232.5 1698.9,232.5 1699.8,232.4 1700.6,232.4 1701.4,232.4 1702.3,232.3 1703.1,232.3 1703.9,232.2 1704.8,232.2 1705.6,232.2 1706.4,232.1 1707.3,232.1 1708.1,232.1 1709.0,232.0 1709.8,232.0 1710.6,232.0 1711.5,231.9 1712.3,231.9 1713.1,231.9 1714.0,231.8 1714.8,231.8 1715.6,231.8 1716.5,231.7 1717.3,231.7 1718.2,231.7 1719.0,231.7 1719.8,231.6 1720.7,231.6 1721.5,231.6 1722.3,231.6 1723.2,231.5 1724.0,231.5 1724.8,231.5 1725.7,231.5 1726.5,231.5 1727.4,231.4 1728.2,231.4 1729.0,231.4 1729.9,231.4 1730.7,231.4 1731.5,231.4 1732.4,231.3 1733.2,231.3 1734.0,231.3 1734.9,231.3 1735.7,231.3 1736.6,231.3 1737.4,231.3 1738.2,231.3 1739.1,231.3 1739.9,231.2 1740.7,231.2 1741.6,231.2 1742.4,231.2 1743.2,231.2 1744.1,231.2 1744.9,231.2 1745.8,231.2 1746.6,231.2 1747.4,231.2 1748.3,231.2 1749.1,231.2 1749.9,231.2 1750.8,231.2 1751.6,231.2 1752.4,231.2 1753.3,231.2 1754.1,231.2 1755.0,231.2 1755.8,231.2 1756.6,231.2 1757.5,231.2 1758.3,231.1 1759.1,231.1 1760.0,231.1 1760.8,231.1 1761.6,231.1 1762.5,231.1 1763.3,231.1 1764.2,231.1 1765.0,231.1 1765.8,231.1 1766.7,231.1 1767.5,231.2 1768.3,231.2 1769.2,231.2 1770.0,231.2 1770.8,231.2 1771.7,231.2 1772.5,231.2 1773.4,231.2 1774.2,231.2 1775.0,231.2 1775.9,231.2 1776.7,231.2 1777.5,231.2 1778.4,231.2 1779.2,231.2 1780.0,231.2 1780.9,231.2 1781.7,231.2 1782.6,231.2 1783.4,231.2 1784.2,231.2 1785.1,231.2 1785.9,231.2 1786.7,231.2 1787.6,231.2 1788.4,231.2 1789.2,231.2 1790.1,231.2 1790.9,231.2 1791.8,231.2 1792.6,231.2 1793.4,231.2 1794.3,231.2 1795.1,231.3 1795.9,231.3 1796.8,231.3 1797.6,231.3 1798.5,231.3 1799.3,231.3 1800.1,231.3 1801.0,231.3 1801.8,231.3 1802.6,231.3 1803.5,231.3 1804.3,231.3 1805.1,231.3 1806.0,231.3 1806.8,231.3 1807.7,231.3 1808.5,231.3 1809.3,231.4 1810.2,231.4 1811.0,231.4 1811.8,231.4 1812.7,231.4 1813.5,231.4 1814.3,231.4 1815.2,231.4 1816.0,231.4 1816.9,231.4 1817.7,231.4 1818.5,231.4 1819.4,231.5 1820.2,231.5 1821.0,231.5 1821.9,231.5 1822.7,231.5 1823.5,231.5 1824.4,231.5 1825.2,231.5 1826.1,231.5 1826.9,231.5 1827.7,231.6 1828.6,231.6 1829.4,231.6 1830.2,231.6 1831.1,231.6 1831.9,231.6 1832.7,231.6 1833.6,231.7 1834.4,231.7 1835.3,231.7 1836.1,231.7 1836.9,231.7 1837.8,231.7 1838.6,231.7 1839.4,231.8 1840.3,231.8 1841.1,231.8 1841.9,231.8 1842.8,231.8 1843.6,231.9 1844.5,231.9 1845.3,231.9 1846.1,231.9 1847.0,231.9 1847.8,232.0 1848.6,232.0 1849.5,232.0 1850.3,232.0 1851.1,232.1 1852.0,232.1 1852.8,232.1 1853.7,232.2 1854.5,232.2 1855.3,232.2 1856.2,232.3 1857.0,232.3 1857.8,232.3 1858.7,232.4 1859.5,232.4 1860.3,232.4 1861.2,232.5 1862.0,232.5 1862.9,232.6 1863.7,232.6 1864.5,232.7 1865.4,232.7 1866.2,232.8 1867.0,232.8 1867.9,232.9 1868.7,233.0 1869.5,233.0 1870.4,233.1 1871.2,233.2 1872.1,233.2 1872.9,233.3 1873.7,233.4 1874.6,233.5 1875.4,233.5 1876.2,233.6 1877.1,233.7 1877.9,233.8 1878.7,233.9 1879.6,234.0 1880.4,234.1 1881.3,234.2 1882.1,234.3 1882.9,234.4 1883.8,234.6 1884.6,234.7 1885.4,234.8 1886.3,234.9 1887.1,235.1 1887.9,235.2 1888.8,235.4 1889.6,235.5 1890.5,235.7 1891.3,235.8 1892.1,236.0 1893.0,236.2 1893.8,236.3 1894.6,236.5 1895.5,236.7 1896.3,236.9 1897.1,237.1 1898.0,237.3 1898.8,237.5 1899.7,237.7 1900.5,237.9 1901.3,238.2 1902.2,238.4 1903.0,238.6 1903.8,238.9 1904.7,239.1 1905.5,239.4 1906.3,239.6 1907.2,239.9 1908.0,240.2 1908.9,240.4 1909.7,240.7 1910.5,241.0 1911.4,241.3 1912.2,241.6 1913.0,241.9 1913.9,242.1 1914.7,242.5 1915.5,242.8 1916.4,243.1 1917.2,243.4 1918.1,243.7 1918.9,244.0 1919.7,244.3 1920.6,244.6 1921.4,245.0 1922.2,245.3 1923.1,245.6 1923.9,245.9 1924.7,246.3 1925.6,246.6 1926.4,246.9 1927.3,247.2 1928.1,247.5 1928.9,247.8 1929.8,248.2 1930.6,248.5 1931.4,248.8 1932.3,249.0 1933.1,249.3 1933.9,249.6 1934.8,249.9 1935.6,250.1 1936.5,250.4 1937.3,250.6 1938.1,250.9 1939.0,251.1 1939.8,251.3 1940.6,251.5 1941.5,251.7 1942.3,251.8 1943.1,252.0 1944.0,252.1 1944.8,252.2 1945.7,252.3 1946.5,252.4 1947.3,252.5 1948.2,252.5 1949.0,252.5 1949.8,252.6 1950.7,252.5 1951.5,252.5 1952.3,252.5 1953.2,252.4 1954.0,252.3 1954.9,252.2 1955.7,252.1 1956.5,252.0 1957.4,251.8 1958.2,251.7 1959.0,251.5 1959.9,251.3 1960.7,251.1 1961.5,250.9 1962.4,250.6 1963.2,250.4 1964.1,250.1 1964.9,249.9 1965.7,249.6 1966.6,249.3 1967.4,249.0 1968.2,248.7 1969.1,248.4 1969.9,248.1 1970.7,247.8 1971.6,247.5 1972.4,247.2 1973.3,246.9 1974.1,246.6 1974.9,246.2 1975.8,245.9 1976.6,245.6 1977.4,245.3 1978.3,245.0 1979.1,244.6 1979.9,244.3 1980.8,244.0 1981.6,243.7 1982.5,243.4 1983.3,243.0 1984.1,242.7 1985.0,242.4 1985.8,242.1 1986.6,241.8 1987.5,241.5 1988.3,241.3 1989.1,241.0 1990.0,240.7 1990.8,240.4 1991.7,240.1 1992.5,239.9 1993.3,239.6 1994.2,239.4 1995.0,239.1 1995.8,238.9 1996.7,238.6 1997.5,238.4 1998.3,238.2 1999.2,237.9 2000.0,237.7 2000.9,237.5 2001.7,237.3 2002.5,237.1 2003.4,236.9 2004.2,236.7 2005.0,236.5 2005.9,236.3 2006.7,236.1"/>
<polyline fill="none" stroke="#000000" stroke-width="4.0" stroke-linejoin="round" points="581.5,233.3 582.3,233.4 583.2,233.6 584.0,233.7 584.8,233.9 585.7,234.0 586.5,234.2 587.3,234.4 588.2,234.6 589.0,234.9 589.9,235.1 590.7,235.4 591.5,235.7 592.4,236.0 593.2,236.4 594.0,236.7 594.9,237.1 595.7,237.6 596.5,238.1 597.4,238.6 598.2,239.1 599.1,239.7 599.9,240.3 600.7,241.0 601.6,241.7 602.4,242.5 603.2,243.3 604.1,244.1 604.9,245.0 605.7,245.9 606.6,246.9 607.4,247.9 608.3,249.0 609.1,250.0 609.9,251.2 610.8,252.3 611.6,253.5 612.4,254.7 613.3,255.9 614.1,257.1 614.9,258.4 615.8,259.6 616.6,260.8 617.5,262.0 618.3,263.1 619.1,264.2 620.0,265.2 620.8,266.1 621.6,267.0 622.5,267.7 623.3,268.4 624.1,268.9 625.0,269.2 625.8,269.4 626.7,269.5 627.5,269.4 628.3,269.2 629.2,268.9 630.0,268.4 630.8,267.7 631.7,267.0 632.5,266.1 633.3,265.2 634.2,264.2 635.0,263.1 635.9,262.0 636.7,260.8 637.5,259.6 638.4,258.4 639.2,257.2 640.0,255.9 640.9,254.7 641.7,253.5 642.5,252.3 643.4,251.2 644.2,250.1 645.1,249.0 645.9,247.9 646.7,246.9 647.6,245.9 648.4,245.0 649.2,244.1 650.1,243.3 650.9,242.5 651.7,241.7 652.6,241.0 653.4,240.4 654.3,239.7 655.1,239.1 655.9,238.6 656.8,238.1 657.6,237.6 658.4,237.2 659.3,236.8 660.1,236.4 660.9,236.0 661.8,235.7 662.6,235.4 663.5,235.2 664.3,234.9 665.1,234.7 666.0,234.5 666.8,234.3 667.6,234.1 668.5,233.9 669.3,233.8 670.1,233.6 671.0,233.5 671.8,233.4 672.7,233.3 673.5,233.2 674.3,233.1 675.2,233.0 676.0,232.9 676.8,232.8 677.7,232.8 678.5,232.7 679.3,232.6 680.2,232.6 681.0,232.5 681.9,232.4 682.7,232.4 683.5,232.3 684.4,232.3 685.2,232.3 686.0,232.2 686.9,232.2 687.7,232.1 688.5,232.1 689.4,232.1 690.2,232.0 691.1,232.0 691.9,232.0 692.7,231.9 693.6,231.9 694.4,231.9 695.2,231.9 696.1,231.8 696.9,231.8 697.7,231.8 698.6,231.8 699.4,231.7 700.3,231.7 701.1,231.7 701.9,231.7 702.8,231.6 703.6,231.6 704.4,231.6 705.3,231.6 706.1,231.6 706.9,231.6 707.8,231.5 708.6,231.5 709.5,231.5 710.3,231.5 711.1,231.5 712.0,231.5 712.8,231.5 713.6,231.4 714.5,231.4 715.3,231.4 716.1,231.4 717.0,231.4 717.8,231.4 718.7,231.4 719.5,231.4 720.3,231.4 721.2,231.3 722.0,231.3 722.8,231.3 723.7,231.3 724.5,231.3 725.3,231.3 726.2,231.3 727.0,231.3 727.9,231.3 728.7,231.3 729.5,231.3 730.4,231.3 731.2,231.2 732.0,231.2 732.9,231.2 733.7,231.2 734.5,231.2 735.4,231.2 736.2,231.2 737.1,231.2 737.9,231.2 738.7,231.2 739.6,231.2 740.4,231.2 741.2,231.2 742.1,231.2 742.9,231.2 743.7,231.2 744.6,231.2 745.4,231.2 746.3,231.2 747.1,231.2 747.9,231.2 748.8,231.2 749.6,231.2 750.4,231.2 751.3,231.1 752.1,231.1 753.0,231.1 753.8,231.1 754.6,231.1 755.5,231.1 756.3,231.1 757.1,231.1 758.0,231.1 758.8,231.1 759.6,231.1 760.5,231.1 761.3,231.1 762.2,231.1 763.0,231.1 763.8,231.1 764.7,231.1 765.5,231.1 766.3,231.1 767.2,231.1 768.0,231.1 768.8,231.1 769.7,231.1 770.5,231.1 771.4,231.1 772.2,231.1 773.0,231.1 773.9,231.1 774.7,231.1 775.5,231.1 776.4,231.1 777.2,231.1 778.0,231.1 778.9,231.1 779.7,231.1 780.6,231.1 781.4,231.2 782.2,231.2 783.1,231.2 783.9,231.2 784.7,231.2 785.6,231.2 786.4,231.2 787.2,231.2 788.1,231.2 788.9,231.2 789.8,231.2 790.6,231.2 791.4,231.2 792.3,231.2 793.1,231.2 793.9,231.2 794.8,231.2 795.6,231.2 796.4,231.2 797.3,231.2 798.1,231.2 799.0,231.2 799.8,231.2 800.6,231.2 801.5,231.3 802.3,231.3 803.1,231.3 804.0,231.3 804.8,231.3 805.6,231.3 806.5,231.3 807.3,231.3 808.2,231.3 809.0,231.3 809.8,231.3 810.7,231.3 811.5,231.3 812.3,231.4 813.2,231.4 814.0,231.4 814.8,231.4 815.7,231.4 816.5,231.4 817.4,231.4 818.2,231.4 819.0,231.4 819.9,231.5 820.7,231.5 821.5,231.5 822.4,231.5 823.2,231.5 824.0,231.5 824.9,231.5 825.7,231.6 826.6,231.6 827.4,231.6 828.2,231.6 829.1,231.6 829.9,231.6 830.7,231.7 831.6,231.7 832.4,231.7 833.2,231.7 834.1,231.7 834.9,231.8 835.8,231.8 836.6,231.8 837.4,231.8 838.3,231.9 839.1,231.9 839.9,231.9 840.8,231.9 841.6,232.0 842.4,232.0 843.3,232.0 844.1,232.1 845.0,232.1 845.8,232.1 846.6,232.2 847.5,232.2 848.3,232.3 849.1,232.3 850.0,232.3 850.8,232.4 851.6,232.4 852.5,232.5 853.3,232.5 854.2,232.6 855.0,232.7 855.8,232.7 856.7,232.8 857.5,232.9 858.3,232.9 859.2,233.0 860.0,233.1 860.8,233.2 861.7,233.3 862.5,233.4 863.4,233.5 864.2,233.6 865.0,233.7 865.9,233.9 866.7,234.0 867.5,234.2 868.4,234.4 869.2,234.6 870.0,234.8 870.9,235.0 871.7,235.3 872.6,235.5 873.4,235.8 874.2,236.2 875.1,236.5 875.9,236.9 876.7,237.3 877.6,237.7 878.4,238.2 879.2,238.7 880.1,239.3 880.9,239.9 881.8,240.5 882.6,241.2 883.4,241.9 884.3,242.7 885.1,243.5 885.9,244.4 886.8,245.3 887.6,246.3 888.4,247.3 889.3,248.3 890.1,249.4 891.0,250.6 891.8,251.8 892.6,253.0 893.5,254.2 894.3,255.5 895.1,256.8 896.0,258.1 896.8,259.5 897.6,260.8 898.5,262.1 899.3,263.4 900.2,264.7 901.0,265.9 901.8,267.1 902.7,268.2 903.5,269.2 904.3,270.1 905.2,271.0 906.0,271.6 906.8,272.2 907.7,272.6 908.5,272.8 909.4,272.9 910.2,272.8 911.0,272.6 911.9,272.2 912.7,271.6 913.5,271.0 914.4,270.1 915.2,269.2 916.0,268.2 916.9,267.1 917.7,265.9 918.6,264.7 919.4,263.4 920.2,262.1 921.1,260.8 921.9,259.5 922.7,258.1 923.6,256.8 924.4,255.5 925.2,254.2 926.1,253.0 926.9,251.7 927.8,250.6 928.6,249.4 929.4,248.3 930.3,247.3 931.1,246.2 931.9,245.3 932.8,244.4 933.6,243.5 934.4,242.7 935.3,241.9 936.1,241.2 937.0,240.5 937.8,239.9 938.6,239.3 939.5,238.7 940.3,238.2 941.1,237.7 942.0,237.3 942.8,236.9 943.6,236.5 944.5,236.1 945.3,235.8 946.2,235.5 947.0,235.2 947.8,235.0 948.7,234.8 949.5,234.5 950.3,234.3 951.2,234.2 952.0,234.0 952.8,233.8 953.7,233.7 954.5,233.6 955.4,233.4 956.2,233.3 957.0,233.2 957.9,233.1 958.7,233.0 959.5,233.0 960.4,232.9 961.2,232.8 962.1,232.7 962.9,232.7 963.7,232.6 964.6,232.5 965.4,232.5 966.2,232.4 967.1,232.4 967.9,232.3 968.7,232.3 969.6,232.2 970.4,232.2 971.3,232.2 972.1,232.1 972.9,232.1 973.8,232.0 974.6,232.0 975.4,232.0 976.3,231.9 977.1,231.9 977.9,231.9 978.8,231.8 979.6,231.8 980.5,231.8 981.3,231.8 982.1,231.7 983.0,231.7 983.8,231.7 984.6,231.7 985.5,231.6 986.3,231.6 987.1,231.6 988.0,231.6 988.8,231.6 989.7,231.5 990.5,231.5 991.3,231.5 992.2,231.5 993.0,231.5 993.8,231.4 994.7,231.4 995.5,231.4 996.3,231.4 997.2,231.4 998.0,231.4 998.9,231.3 999.7,231.3 1000.5,231.3 1001.4,231.3 1002.2,231.3 1003.0,231.3 1003.9,231.3 1004.7,231.3 1005.5,231.2 1006.4,231.2 1007.2,231.2 1008.1,231.2 1008.9,231.2 1009.7,231.2 1010.6,231.2 1011.4,231.2 1012.2,231.2 1013.1,231.2 1013.9,231.1 1014.7,231.1 1015.6,231.1 1016.4,231.1 1017.3,231.1 1018.1,231.1 1018.9,231.1 1019.8,231.1 1020.6,231.1 1021.4,231.1 1022.3,231.1 1023.1,231.1 1023.9,231.0 1024.8,231.0 1025.6,231.0 1026.5,231.0 1027.3,231.0 1028.1,231.0 1029.0,231.0 1029.8,231.0 1030.6,231.0 1031.5,231.0 1032.3,231.0 1033.1,231.0 1034.0,231.0 1034.8,231.0 1035.7,231.0 1036.5,231.0 1037.3,231.0 1038.2,230.9 1039.0,230.9 1039.8,230.9 1040.7,230.9 1041.5,230.9 1042.3,230.9 1043.2,230.9 1044.0,230.9 1044.9,230.9 1045.7,230.9 1046.5,230.9 1047.4,230.9 1048.2,230.9 1049.0,230.9 1049.9,230.9 1050.7,230.9 1051.5,230.9 1052.4,230.9 1053.2,230.9 1054.1,230.9 1054.9,230.9 1055.7,230.9 1056.6,230.9 1057.4,230.9 1058.2,230.8 1059.1,230.8 1059.9,230.8 1060.7,230.8 1061.6,230.8 1062.4,230.8 1063.3,230.8 1064.1,230.8 1064.9,230.8 1065.8,230.8 1066.6,230.8 1067.4,230.8 1068.3,230.8 1069.1,230.8 1069.9,230.8 1070.8,230.8 1071.6,230.8 1072.5,230.8 1073.3,230.8 1074.1,230.8 1075.0,230.8 1075.8,230.8 1076.6,230.8 1077.5,230.8 1078.3,230.8 1079.1,230.8 1080.0,230.8 1080.8,230.8 1081.7,230.8 1082.5,230.8 1083.3,230.8 1084.2,230.8 1085.0,230.8 1085.8,230.8 1086.7,230.8 1087.5,230.8 1088.3,230.8 1089.2,230.8 1090.0,230.8 1090.9,230.8 1091.7,230.8 1092.5,230.7 1093.4,230.7 1094.2,230.7 1095.0,230.7 1095.9,230.7 1096.7,230.7 1097.5,230.7 1098.4,230.7 1099.2,230.7 1100.1,230.7 1100.9,230.7 1101.7,230.7 1102.6,230.7 1103.4,230.7 1104.2,230.7 1105.1,230.7 1105.9,230.7 1106.7,230.7 1107.6,230.7 1108.4,230.7 1109.3,230.7 1110.1,230.7 1110.9,230.7 1111.8,230.7 1112.6,230.7 1113.4,230.7 1114.3,230.7 1115.1,230.7 1115.9,230.7 1116.8,230.7 1117.6,230.7 1118.5,230.7 1119.3,230.7 1120.1,230.7 1121.0,230.7 1121.8,230.7 1122.6,230.7 1123.5,230.7 1124.3,230.7 1125.1,230.7 1126.0,230.7 1126.8,230.7 1127.7,230.7 1128.5,230.7 1129.3,230.7 1130.2,230.7 1131.0,230.7 1131.8,230.7 1132.7,230.7 1133.5,230.7 1134.3,230.7 1135.2,230.7 1136.0,230.7 1136.9,230.7 1137.7,230.7 1138.5,230.7 1139.4,230.7 1140.2,230.7 1141.0,230.7 1141.9,230.7 1142.7,230.7 1143.5,230.7 1144.4,230.7 1145.2,230.7 1146.1,230.7 1146.9,230.7 1147.7,230.7 1148.6,230.7 1149.4,230.7 1150.2,230.7 1151.1,230.7 1151.9,230.7 1152.7,230.7 1153.6,230.7 1154.4,230.7 1155.3,230.7 1156.1,230.7 1156.9,230.7 1157.8,230.7 1158.6,230.7 1159.4,230.7 1160.3,230.7 1161.1,230.7 1161.9,230.7 1162.8,230.7 1163.6,230.7 1164.5,230.7 1165.3,230.7 1166.1,230.7 1167.0,230.7 1167.8,230.7 1168.6,230.7 1169.5,230.7 1170.3,230.7 1171.2,230.7 1172.0,230.7 1172.8,230.6 1173.7,230.6 1174.5,230.6 1175.3,230.6 1176.2,230.6 1177.0,230.6 1177.8,230.6 1178.7,230.6 1179.5,230.6 1180.4,230.6 1181.2,230.6 1182.0,230.6 1182.9,230.6 1183.7,230.6 1184.5,230.6 1185.4,230.6 1186.2,230.6 1187.0,230.6 1187.9,230.6 1188.7,230.6 1189.6,230.6 1190.4,230.6 1191.2,230.6 1192.1,230.6 1192.9,230.6 1193.7,230.6 1194.6,230.6 1195.4,230.6 1196.2,230.6 1197.1,230.6 1197.9,230.6 1198.8,230.6 1199.6,230.6 1200.4,230.6 1201.3,230.6 1202.1,230.6 1202.9,230.6 1203.8,230.6 1204.6,230.6 1205.4,230.6 1206.3,230.6 1207.1,230.6 1208.0,230.6 1208.8,230.6 1209.6,230.6 1210.5,230.6 1211.3,230.6 1212.1,230.6 1213.0,230.6 1213.8,230.6 1214.6,230.6 1215.5,230.6 1216.3,230.6 1217.2,230.6 1218.0,230.6 1218.8,230.6 1219.7,230.6 1220.5,230.6 1221.3,230.6 1222.2,230.6 1223.0,230.6 1223.8,230.6 1224.7,230.6 1225.5,230.6 1226.4,230.6 1227.2,230.6 1228.0,230.6 1228.9,230.6 1229.7,230.6 1230.5,230.6 1231.4,230.6 1232.2,230.6 1233.0,230.6 1233.9,230.6 1234.7,230.6 1235.6,230.6 1236.4,230.6 1237.2,230.6 1238.1,230.6 1238.9,230.6 1239.7,230.6 1240.6,230.6 1241.4,230.6 1242.2,230.6 1243.1,230.6 1243.9,230.6 1244.8,230.6 1245.6,230.6 1246.4,230.6 1247.3,230.6 1248.1,230.6 1248.9,230.6 1249.8,230.6 1250.6,230.6 1251.4,230.6 1252.3,230.6 1253.1,230.6 1254.0,230.6 1254.8,230.6 1255.6,230.6 1256.5,230.6 1257.3,230.6 1258.1,230.6 1259.0,230.6 1259.8,230.6 1260.6,230.6 1261.5,230.6 1262.3,230.6 1263.2,230.6 1264.0,230.6 1264.8,230.6 1265.7,230.6 1266.5,230.6 1267.3,230.6 1268.2,230.6 1269.0,230.6 1269.8,230.6 1270.7,230.6 1271.5,230.6 1272.4,230.6 1273.2,230.6 1274.0,230.6 1274.9,230.6 1275.7,230.6 1276.5,230.6 1277.4,230.6 1278.2,230.6 1279.0,230.6 1279.9,230.6 1280.7,230.6 1281.6,230.6 1282.4,230.6 1283.2,230.6 1284.1,230.6 1284.9,230.6 1285.7,230.6 1286.6,230.6 1287.4,230.6 1288.2,230.6 1289.1,230.6 1289.9,230.6 1290.8,230.6 1291.6,230.6 1292.4,230.6 1293.3,230.6 1294.1,230.6 1294.9,230.6 1295.8,230.6 1296.6,230.6 1297.4,230.6 1298.3,230.6 1299.1,230.6 1300.0,230.6 1300.8,230.6 1301.6,230.6 1302.5,230.6 1303.3,230.6 1304.1,230.6 1305.0,230.6 1305.8,230.6 1306.6,230.6 1307.5,230.6 1308.3,230.6 1309.2,230.6 1310.0,230.6 1310.8,230.6 1311.7,230.6 1312.5,230.6 1313.3,230.6 1314.2,230.6 1315.0,230.6 1315.8,230.6 1316.7,230.6 1317.5,230.6 1318.4,230.6 1319.2,230.6 1320.0,230.6 1320.9,230.6 1321.7,230.6 1322.5,230.6 1323.4,230.6 1324.2,230.6 1325.0,230.6 1325.9,230.6 1326.7,230.6 1327.6,230.6 1328.4,230.6 1329.2,230.6 1330.1,230.6 1330.9,230.6 1331.7,230.6 1332.6,230.6 1333.4,230.6 1334.2,230.6 1335.1,230.6 1335.9,230.6 1336.8,230.6 1337.6,230.6 1338.4,230.6 1339.3,230.6 1340.1,230.6 1340.9,230.6 1341.8,230.6 1342.6,230.6 1343.4,230.6 1344.3,230.6 1345.1,230.6 1346.0,230.6 1346.8,230.6 1347.6,230.6 1348.5,230.6 1349.3,230.6 1350.1,230.6 1351.0,230.6 1351.8,230.6 1352.6,230.6 1353.5,230.6 1354.3,230.6 1355.2,230.6 1356.0,230.6 1356.8,230.6 1357.7,230.6 1358.5,230.6 1359.3,230.6 1360.2,230.6 1361.0,230.6 1361.8,230.6 1362.7,230.6 1363.5,230.6 1364.4,230.6 1365.2,230.6 1366.0,230.6 1366.9,230.6 1367.7,230.6 1368.5,230.6 1369.4,230.6 1370.2,230.6 1371.0,230.6 1371.9,230.6 1372.7,230.6 1373.6,230.6 1374.4,230.6 1375.2,230.6 1376.1,230.6 1376.9,230.6 1377.7,230.6 1378.6,230.6 1379.4,230.6 1380.3,230.6 1381.1,230.6 1381.9,230.6 1382.8,230.6 1383.6,230.6 1384.4,230.6 1385.3,230.6 1386.1,230.6 1386.9,230.6 1387.8,230.6 1388.6,230.6 1389.5,230.6 1390.3,230.6 1391.1,230.6 1392.0,230.6 1392.8,230.6 1393.6,230.6 1394.5,230.6 1395.3,230.6 1396.1,230.6 1397.0,230.6 1397.8,230.6 1398.7,230.6 1399.5,230.6 1400.3,230.6 1401.2,230.6 1402.0,230.6 1402.8,230.6 1403.7,230.6 1404.5,230.6 1405.3,230.6 1406.2,230.6 1407.0,230.6 1407.9,230.6 1408.7,230.6 1409.5,230.6 1410.4,230.6 1411.2,230.6 1412.0,230.6 1412.9,230.6 1413.7,230.6 1414.5,230.6 1415.4,230.7 1416.2,230.7 1417.1,230.7 1417.9,230.7 1418.7,230.7 1419.6,230.7 1420.4,230.7 1421.2,230.7 1422.1,230.7 1422.9,230.7 1423.7,230.7 1424.6,230.7 1425.4,230.7 1426.3,230.7 1427.1,230.7 1427.9,230.7 1428.8,230.7 1429.6,230.7 1430.4,230.7 1431.3,230.7 1432.1,230.7 1432.9,230.7 1433.8,230.7 1434.6,230.7 1435.5,230.7 1436.3,230.7 1437.1,230.7 1438.0,230.7 1438.8,230.7 1439.6,230.7 1440.5,230.7 1441.3,230.7 1442.1,230.7 1443.0,230.7 1443.8,230.7 1444.7,230.7 1445.5,230.7 1446.3,230.7 1447.2,230.7 1448.0,230.7 1448.8,230.7 1449.7,230.7 1450.5,230.7 1451.3,230.7 1452.2,230.7 1453.0,230.7 1453.9,230.7 1454.7,230.7 1455.5,230.7 1456.4,230.7 1457.2,230.7 1458.0,230.7 1458.9,230.7 1459.7,230.7 1460.5,230.7 1461.4,230.7 1462.2,230.7 1463.1,230.7 1463.9,230.7 1464.7,230.7 1465.6,230.7 1466.4,230.7 1467.2,230.7 1468.1,230.7 1468.9,230.7 1469.7,230.7 1470.6,230.7 1471.4,230.7 1472.3,230.7 1473.1,230.7 1473.9,230.7 1474.8,230.7 1475.6,230.7 1476.4,230.7 1477.3,230.7 1478.1,230.7 1478.9,230.7 1479.8,230.7 1480.6,230.7 1481.5,230.7 1482.3,230.7 1483.1,230.7 1484.0,230.7 1484.8,230.7 1485.6,230.7 1486.5,230.7 1487.3,230.7 1488.1,230.7 1489.0,230.7 1489.8,230.7 1490.7,230.7 1491.5,230.7 1492.3,230.7 1493.2,230.7 1494.0,230.7 1494.8,230.7 1495.7,230.7 1496.5,230.7 1497.3,230.8 1498.2,230.8 1499.0,230.8 1499.9,230.8 1500.7,230.8 1501.5,230.8 1502.4,230.8 1503.2,230.8 1504.0,230.8 1504.9,230.8 1505.7,230.8 1506.5,230.8 1507.4,230.8 1508.2,230.8 1509.1,230.8 1509.9,230.8 1510.7,230.8 1511.6,230.8 1512.4,230.8 1513.2,230.8 1514.1,230.8 1514.9,230.8 1515.7,230.8 1516.6,230.8 1517.4,230.8 1518.3,230.8 1519.1,230.8 1519.9,230.8 1520.8,230.8 1521.6,230.8 1522.4,230.8 1523.3,230.8 1524.1,230.8 1524.9,230.8 1525.8,230.8 1526.6,230.8 1527.5,230.8 1528.3,230.8 1529.1,230.8 1530.0,230.8 1530.8,230.8 1531.6,230.8 1532.5,230.9 1533.3,230.9 1534.1,230.9 1535.0,230.9 1535.8,230.9 1536.7,230.9 1537.5,230.9 1538.3,230.9 1539.2,230.9 1540.0,230.9 1540.8,230.9 1541.7,230.9 1542.5,230.9 1543.3,230.9 1544.2,230.9 1545.0,230.9 1545.9,230.9 1546.7,230.9 1547.5,230.9 1548.4,230.9 1549.2,230.9 1550.0,230.9 1550.9,230.9 1551.7,230.9 1552.5,231.0 1553.4,231.0 1554.2,231.0 1555.1,231.0 1555.9,231.0 1556.7,231.0 1557.6,231.0 1558.4,231.0 1559.2,231.0 1560.1,231.0 1560.9,231.0 1561.7,231.0 1562.6,231.0 1563.4,231.0 1564.3,231.0 1565.1,231.0 1565.9,231.0 1566.8,231.1 1567.6,231.1 1568.4,231.1 1569.3,231.1 1570.1,231.1 1570.9,231.1 1571.8,231.1 1572.6,231.1 1573.5,231.1 1574.3,231.1 1575.1,231.1 1576.0,231.1 1576.8,231.2 1577.6,231.2 1578.5,231.2 1579.3,231.2 1580.1,231.2 1581.0,231.2 1581.8,231.2 1582.7,231.2 1583.5,231.2 1584.3,231.2 1585.2,231.3 1586.0,231.3 1586.8,231.3 1587.7,231.3 1588.5,231.3 1589.4,231.3 1590.2,231.3 1591.0,231.3 1591.9,231.4 1592.7,231.4 1593.5,231.4 1594.4,231.4 1595.2,231.4 1596.0,231.4 1596.9,231.5 1597.7,231.5 1598.6,231.5 1599.4,231.5 1600.2,231.5 1601.1,231.5 1601.9,231.6 1602.7,231.6 1603.6,231.6 1604.4,231.6 1605.2,231.7 1606.1,231.7 1606.9,231.7 1607.8,231.7 1608.6,231.7 1609.4,231.8 1610.3,231.8 1611.1,231.8 1611.9,231.9 1612.8,231.9 1613.6,231.9 1614.4,232.0 1615.3,232.0 1616.1,232.0 1617.0,232.1 1617.8,232.1 1618.6,232.1 1619.5,232.2 1620.3,232.2 1621.1,232.3 1622.0,232.3 1622.8,232.4 1623.6,232.4 1624.5,232.5 1625.3,232.5 1626.2,232.6 1627.0,232.6 1627.8,232.7 1628.7,232.8 1629.5,232.8 1630.3,232.9 1631.2,233.0 1632.0,233.1 1632.8,233.2 1633.7,233.3 1634.5,233.4 1635.4,233.5 1636.2,233.6 1637.0,233.8 1637.9,233.9 1638.7,234.1 1639.5,234.2 1640.4,234.4 1641.2,234.6 1642.0,234.9 1642.9,235.1 1643.7,235.4 1644.6,235.6 1645.4,235.9 1646.2,236.3 1647.1,236.6 1647.9,237.0 1648.7,237.5 1649.6,237.9 1650.4,238.4 1651.2,238.9 1652.1,239.5 1652.9,240.1 1653.8,240.8 1654.6,241.5 1655.4,242.2 1656.3,243.0 1657.1,243.9 1657.9,244.7 1658.8,245.7 1659.6,246.7 1660.4,247.7 1661.3,248.8 1662.1,249.9 1663.0,251.0 1663.8,252.2 1664.6,253.5 1665.5,254.7 1666.3,256.0 1667.1,257.3 1668.0,258.7 1668.8,260.0 1669.6,261.3 1670.5,262.6 1671.3,263.9 1672.2,265.2 1673.0,266.4 1673.8,267.6 1674.7,268.6 1675.5,269.6 1676.3,270.5 1677.2,271.3 1678.0,271.9 1678.8,272.4 1679.7,272.7 1680.5,272.9 1681.4,272.9 1682.2,272.8 1683.0,272.5 1683.9,272.0 1684.7,271.4 1685.5,270.7 1686.4,269.8 1687.2,268.8 1688.0,267.8 1688.9,266.6 1689.7,265.4 1690.6,264.2 1691.4,262.9 1692.2,261.6 1693.1,260.3 1693.9,258.9 1694.7,257.6 1695.6,256.3 1696.4,255.0 1697.2,253.7 1698.1,252.5 1698.9,251.3 1699.8,250.1 1700.6,249.0 1701.4,247.9 1702.3,246.9 1703.1,245.9 1703.9,244.9 1704.8,244.1 1705.6,243.2 1706.4,242.4 1707.3,241.7 1708.1,240.9 1709.0,240.3 1709.8,239.7 1710.6,239.1 1711.5,238.5 1712.3,238.0 1713.1,237.6 1714.0,237.2 1714.8,236.8 1715.6,236.4 1716.5,236.0 1717.3,235.7 1718.2,235.5 1719.0,235.2 1719.8,234.9 1720.7,234.7 1721.5,234.5 1722.3,234.3 1723.2,234.2 1724.0,234.0 1724.8,233.8 1725.7,233.7 1726.5,233.6 1727.4,233.5 1728.2,233.4 1729.0,233.3 1729.9,233.2 1730.7,233.1 1731.5,233.0 1732.4,232.9 1733.2,232.8 1734.0,232.8 1734.9,232.7 1735.7,232.7 1736.6,232.6 1737.4,232.5 1738.2,232.5 1739.1,232.4 1739.9,232.4 1740.7,232.3 1741.6,232.3 1742.4,232.3 1743.2,232.2 1744.1,232.2 1744.9,232.1 1745.8,232.1 1746.6,232.1 1747.4,232.0 1748.3,232.0 1749.1,232.0 1749.9,232.0 1750.8,231.9 1751.6,231.9 1752.4,231.9 1753.3,231.9 1754.1,231.8 1755.0,231.8 1755.8,231.8 1756.6,231.8 1757.5,231.7 1758.3,231.7 1759.1,231.7 1760.0,231.7 1760.8,231.7 1761.6,231.6 1762.5,231.6 1763.3,231.6 1764.2,231.6 1765.0,231.6 1765.8,231.6 1766.7,231.5 1767.5,231.5 1768.3,231.5 1769.2,231.5 1770.0,231.5 1770.8,231.5 1771.7,231.5 1772.5,231.5 1773.4,231.4 1774.2,231.4 1775.0,231.4 1775.9,231.4 1776.7,231.4 1777.5,231.4 1778.4,231.4 1779.2,231.4 1780.0,231.4 1780.9,231.4 1781.7,231.3 1782.6,231.3 1783.4,231.3 1784.2,231.3 1785.1,231.3 1785.9,231.3 1786.7,231.3 1787.6,231.3 1788.4,231.3 1789.2,231.3 1790.1,231.3 1790.9,231.3 1791.8,231.3 1792.6,231.3 1793.4,231.3 1794.3,231.3 1795.1,231.2 1795.9,231.2 1796.8,231.2 1797.6,231.2 1798.5,231.2 1799.3,231.2 1800.1,231.2 1801.0,231.2 1801.8,231.2 1802.6,231.2 1803.5,231.2 1804.3,231.2 1805.1,231.2 1806.0,231.2 1806.8,231.2 1807.7,231.2 1808.5,231.2 1809.3,231.2 1810.2,231.2 1811.0,231.2 1811.8,231.2 1812.7,231.2 1813.5,231.2 1814.3,231.2 1815.2,231.2 1816.0,231.2 1816.9,231.2 1817.7,231.2 1818.5,231.2 1819.4,231.2 1820.2,231.2 1821.0,231.2 1821.9,231.2 1822.7,231.2 1823.5,231.2 1824.4,231.2 1825.2,231.2 1826.1,231.2 1826.9,231.2 1827.7,231.2 1828.6,231.2 1829.4,231.2 1830.2,231.2 1831.1,231.2 1831.9,231.2 1832.7,231.2 1833.6,231.2 1834.4,231.2 1835.3,231.2 1836.1,231.2 1836.9,231.2 1837.8,231.2 1838.6,231.2 1839.4,231.2 1840.3,231.2 1841.1,231.2 1841.9,231.2 1842.8,231.2 1843.6,231.2 1844.5,231.2 1845.3,231.2 1846.1,231.3 1847.0,231.3 1847.8,231.3 1848.6,231.3 1849.5,231.3 1850.3,231.3 1851.1,231.3 1852.0,231.3 1852.8,231.3 1853.7,231.3 1854.5,231.3 1855.3,231.3 1856.2,231.3 1857.0,231.3 1857.8,231.3 1858.7,231.3 1859.5,231.4 1860.3,231.4 1861.2,231.4 1862.0,231.4 1862.9,231.4 1863.7,231.4 1864.5,231.4 1865.4,231.4 1866.2,231.4 1867.0,231.4 1867.9,231.5 1868.7,231.5 1869.5,231.5 1870.4,231.5 1871.2,231.5 1872.1,231.5 1872.9,231.5 1873.7,231.5 1874.6,231.6 1875.4,231.6 1876.2,231.6 1877.1,231.6 1877.9,231.6 1878.7,231.6 1879.6,231.7 1880.4,231.7 1881.3,231.7 1882.1,231.7 1882.9,231.7 1883.8,231.8 1884.6,231.8 1885.4,231.8 1886.3,231.8 1887.1,231.8 1887.9,231.9 1888.8,231.9 1889.6,231.9 1890.5,232.0 1891.3,232.0 1892.1,232.0 1893.0,232.0 1893.8,232.1 1894.6,232.1 1895.5,232.1 1896.3,232.2 1897.1,232.2 1898.0,232.3 1898.8,232.3 1899.7,232.3 1900.5,232.4 1901.3,232.4 1902.2,232.5 1903.0,232.5 1903.8,232.6 1904.7,232.6 1905.5,232.7 1906.3,232.7 1907.2,232.8 1908.0,232.9 1908.9,233.0 1909.7,233.0 1910.5,233.1 1911.4,233.2 1912.2,233.3 1913.0,233.4 1913.9,233.5 1914.7,233.6 1915.5,233.7 1916.4,233.9 1917.2,234.0 1918.1,234.2 1918.9,234.4 1919.7,234.5 1920.6,234.7 1921.4,235.0 1922.2,235.2 1923.1,235.5 1923.9,235.8 1924.7,236.1 1925.6,236.4 1926.4,236.8 1927.3,237.2 1928.1,237.6 1928.9,238.0 1929.8,238.5 1930.6,239.1 1931.4,239.6 1932.3,240.3 1933.1,240.9 1933.9,241.6 1934.8,242.4 1935.6,243.2 1936.5,244.0 1937.3,244.9 1938.1,245.9 1939.0,246.9 1939.8,247.9 1940.6,249.0 1941.5,250.2 1942.3,251.4 1943.1,252.6 1944.0,253.9 1944.8,255.2 1945.7,256.5 1946.5,257.9 1947.3,259.2 1948.2,260.6 1949.0,262.0 1949.8,263.4 1950.7,264.7 1951.5,266.1 1952.3,267.3 1953.2,268.6 1954.0,269.7 1954.9,270.8 1955.7,271.7 1956.5,272.6 1957.4,273.3 1958.2,273.9 1959.0,274.3 1959.9,274.5 1960.7,274.6 1961.5,274.5 1962.4,274.3 1963.2,273.8 1964.1,273.3 1964.9,272.6 1965.7,271.7 1966.6,270.8 1967.4,269.7 1968.2,268.6 1969.1,267.3 1969.9,266.0 1970.7,264.7 1971.6,263.4 1972.4,262.0 1973.3,260.6 1974.1,259.2 1974.9,257.8 1975.8,256.5 1976.6,255.2 1977.4,253.9 1978.3,252.6 1979.1,251.4 1979.9,250.2 1980.8,249.0 1981.6,247.9 1982.5,246.9 1983.3,245.9 1984.1,244.9 1985.0,244.0 1985.8,243.2 1986.6,242.4 1987.5,241.6 1988.3,240.9 1989.1,240.2 1990.0,239.6 1990.8,239.0 1991.7,238.5 1992.5,238.0 1993.3,237.5 1994.2,237.1 1995.0,236.7 1995.8,236.4 1996.7,236.0 1997.5,235.7 1998.3,235.4 1999.2,235.2 2000.0,234.9 2000.9,234.7 2001.7,234.5 2002.5,234.3 2003.4,234.1 2004.2,234.0 2005.0,233.8 2005.9,233.7 2006.7,233.6"/>
<polyline fill="none" stroke="#1212c8" stroke-width="4.5" stroke-linejoin="round" points="581.5,231.8 582.3,231.8 583.2,231.8 584.0,231.8 584.8,231.8 585.7,231.9 586.5,231.9 587.3,231.9 588.2,231.9 589.0,231.9 589.9,231.9 590.7,232.0 591.5,232.0 592.4,232.0 593.2,232.0 594.0,232.0 594.9,232.0 595.7,232.1 596.5,232.1 597.4,232.1 598.2,232.1 599.1,232.1 599.9,232.1 600.7,232.2 601.6,232.2 602.4,232.2 603.2,232.2 604.1,232.3 604.9,232.3 605.7,232.3 606.6,232.3 607.4,232.3 608.3,232.4 609.1,232.4 609.9,232.4 610.8,232.4 611.6,232.5 612.4,232.5 613.3,232.5 614.1,232.6 614.9,232.6 615.8,232.6 616.6,232.7 617.5,232.7 618.3,232.7 619.1,232.8 620.0,232.8 620.8,232.8 621.6,232.9 622.5,232.9 623.3,232.9 624.1,233.0 625.0,233.0 625.8,233.1 626.7,233.1 627.5,233.2 628.3,233.2 629.2,233.2 630.0,233.3 630.8,233.3 631.7,233.4 632.5,233.5 633.3,233.5 634.2,233.6 635.0,233.6 635.9,233.7 636.7,233.7 637.5,233.8 638.4,233.9 639.2,233.9 640.0,234.0 640.9,234.1 641.7,234.2 642.5,234.2 643.4,234.3 644.2,234.4 645.1,234.5 645.9,234.6 646.7,234.7 647.6,234.8 648.4,234.9 649.2,235.0 650.1,235.1 650.9,235.2 651.7,235.3 652.6,235.4 653.4,235.6 654.3,235.7 655.1,235.8 655.9,236.0 656.8,236.1 657.6,236.3 658.4,236.4 659.3,236.6 660.1,236.8 660.9,236.9 661.8,237.1 662.6,237.3 663.5,237.5 664.3,237.7 665.1,237.9 666.0,238.1 666.8,238.4 667.6,238.6 668.5,238.9 669.3,239.1 670.1,239.4 671.0,239.7 671.8,240.0 672.7,240.3 673.5,240.6 674.3,240.9 675.2,241.2 676.0,241.5 676.8,241.9 677.7,242.3 678.5,242.6 679.3,243.0 680.2,243.4 681.0,243.8 681.9,244.2 682.7,244.6 683.5,245.0 684.4,245.4 685.2,245.8 686.0,246.2 686.9,246.6 687.7,247.0 688.5,247.4 689.4,247.7 690.2,248.1 691.1,248.4 691.9,248.7 692.7,249.0 693.6,249.3 694.4,249.5 695.2,249.7 696.1,249.8 696.9,249.9 697.7,250.0 698.6,250.0 699.4,250.0 700.3,249.9 701.1,249.8 701.9,249.7 702.8,249.5 703.6,249.3 704.4,249.1 705.3,248.8 706.1,248.5 706.9,248.2 707.8,247.8 708.6,247.5 709.5,247.1 710.3,246.7 711.1,246.3 712.0,245.9 712.8,245.6 713.6,245.2 714.5,244.8 715.3,244.4 716.1,244.0 717.0,243.6 717.8,243.2 718.7,242.9 719.5,242.5 720.3,242.1 721.2,241.8 722.0,241.5 722.8,241.2 723.7,240.8 724.5,240.5 725.3,240.3 726.2,240.0 727.0,239.7 727.9,239.5 728.7,239.2 729.5,239.0 730.4,238.7 731.2,238.5 732.0,238.3 732.9,238.1 733.7,237.9 734.5,237.7 735.4,237.5 736.2,237.4 737.1,237.2 737.9,237.0 738.7,236.9 739.6,236.7 740.4,236.6 741.2,236.5 742.1,236.3 742.9,236.2 743.7,236.1 744.6,236.0 745.4,235.9 746.3,235.8 747.1,235.7 747.9,235.6 748.8,235.5 749.6,235.4 750.4,235.3 751.3,235.2 752.1,235.1 753.0,235.1 753.8,235.0 754.6,234.9 755.5,234.8 756.3,234.8 757.1,234.7 758.0,234.7 758.8,234.6 759.6,234.6 760.5,234.5 761.3,234.4 762.2,234.4 763.0,234.4 763.8,234.3 764.7,234.3 765.5,234.2 766.3,234.2 767.2,234.1 768.0,234.1 768.8,234.1 769.7,234.0 770.5,234.0 771.4,234.0 772.2,234.0 773.0,233.9 773.9,233.9 774.7,233.9 775.5,233.9 776.4,233.8 777.2,233.8 778.0,233.8 778.9,233.8 779.7,233.8 780.6,233.7 781.4,233.7 782.2,233.7 783.1,233.7 783.9,233.7 784.7,233.7 785.6,233.6 786.4,233.6 787.2,233.6 788.1,233.6 788.9,233.6 789.8,233.6 790.6,233.6 791.4,233.6 792.3,233.6 793.1,233.6 793.9,233.6 794.8,233.6 795.6,233.6 796.4,233.6 797.3,233.6 798.1,233.6 799.0,233.6 799.8,233.6 800.6,233.6 801.5,233.6 802.3,233.6 803.1,233.6 804.0,233.6 804.8,233.6 805.6,233.6 806.5,233.6 807.3,233.6 808.2,233.6 809.0,233.6 809.8,233.6 810.7,233.6 811.5,233.6 812.3,233.6 813.2,233.7 814.0,233.7 814.8,233.7 815.7,233.7 816.5,233.7 817.4,233.7 818.2,233.7 819.0,233.7 819.9,233.8 820.7,233.8 821.5,233.8 822.4,233.8 823.2,233.8 824.0,233.8 824.9,233.9 825.7,233.9 826.6,233.9 827.4,233.9 828.2,233.9 829.1,234.0 829.9,234.0 830.7,234.0 831.6,234.0 832.4,234.1 833.2,234.1 834.1,234.1 834.9,234.1 835.8,234.2 836.6,234.2 837.4,234.2 838.3,234.2 839.1,234.3 839.9,234.3 840.8,234.3 841.6,234.4 842.4,234.4 843.3,234.4 844.1,234.5 845.0,234.5 845.8,234.5 846.6,234.6 847.5,234.6 848.3,234.7 849.1,234.7 850.0,234.8 850.8,234.8 851.6,234.8 852.5,234.9 853.3,234.9 854.2,235.0 855.0,235.0 855.8,235.1 856.7,235.1 857.5,235.2 858.3,235.2 859.2,235.3 860.0,235.3 860.8,235.4 861.7,235.5 862.5,235.5 863.4,235.6 864.2,235.7 865.0,235.7 865.9,235.8 866.7,235.9 867.5,235.9 868.4,236.0 869.2,236.1 870.0,236.1 870.9,236.2 871.7,236.3 872.6,236.4 873.4,236.5 874.2,236.6 875.1,236.6 875.9,236.7 876.7,236.8 877.6,236.9 878.4,237.0 879.2,237.1 880.1,237.2 880.9,237.3 881.8,237.4 882.6,237.5 883.4,237.7 884.3,237.8 885.1,237.9 885.9,238.0 886.8,238.1 887.6,238.3 888.4,238.4 889.3,238.5 890.1,238.7 891.0,238.8 891.8,239.0 892.6,239.1 893.5,239.3 894.3,239.4 895.1,239.6 896.0,239.8 896.8,239.9 897.6,240.1 898.5,240.3 899.3,240.5 900.2,240.7 901.0,240.9 901.8,241.1 902.7,241.3 903.5,241.5 904.3,241.7 905.2,241.9 906.0,242.1 906.8,242.4 907.7,242.6 908.5,242.9 909.4,243.1 910.2,243.4 911.0,243.7 911.9,243.9 912.7,244.2 913.5,244.5 914.4,244.8 915.2,245.1 916.0,245.4 916.9,245.7 917.7,246.0 918.6,246.4 919.4,246.7 920.2,247.0 921.1,247.4 921.9,247.7 922.7,248.1 923.6,248.4 924.4,248.8 925.2,249.2 926.1,249.6 926.9,249.9 927.8,250.3 928.6,250.7 929.4,251.1 930.3,251.5 931.1,251.9 931.9,252.3 932.8,252.7 933.6,253.1 934.4,253.5 935.3,253.9 936.1,254.2 937.0,254.6 937.8,255.0 938.6,255.3 939.5,255.7 940.3,256.0 941.1,256.3 942.0,256.6 942.8,256.9 943.6,257.2 944.5,257.5 945.3,257.7 946.2,257.9 947.0,258.1 947.8,258.3 948.7,258.4 949.5,258.5 950.3,258.6 951.2,258.7 952.0,258.8 952.8,258.8 953.7,258.7 954.5,258.6 955.4,258.4 956.2,258.1 957.0,257.8 957.9,257.3 958.7,256.8 959.5,256.3 960.4,255.7 961.2,255.1 962.1,254.4 962.9,253.8 963.7,253.1 964.6,252.4 965.4,251.7 966.2,251.0 967.1,250.3 967.9,249.6 968.7,249.0 969.6,248.3 970.4,247.7 971.3,247.1 972.1,246.5 972.9,245.9 973.8,245.4 974.6,244.9 975.4,244.4 976.3,243.9 977.1,243.4 977.9,243.0 978.8,242.6 979.6,242.2 980.5,241.8 981.3,241.4 982.1,241.1 983.0,240.7 983.8,240.4 984.6,240.1 985.5,239.8 986.3,239.6 987.1,239.3 988.0,239.0 988.8,238.8 989.7,238.6 990.5,238.4 991.3,238.2 992.2,238.0 993.0,237.8 993.8,237.6 994.7,237.4 995.5,237.3 996.3,237.1 997.2,237.0 998.0,236.8 998.9,236.7 999.7,236.6 1000.5,236.5 1001.4,236.3 1002.2,236.2 1003.0,236.1 1003.9,236.0 1004.7,235.9 1005.5,235.8 1006.4,235.7 1007.2,235.7 1008.1,235.6 1008.9,235.5 1009.7,235.4 1010.6,235.4 1011.4,235.3 1012.2,235.2 1013.1,235.2 1013.9,235.1 1014.7,235.0 1015.6,235.0 1016.4,234.9 1017.3,234.9 1018.1,234.8 1018.9,234.8 1019.8,234.8 1020.6,234.7 1021.4,234.7 1022.3,234.6 1023.1,234.6 1023.9,234.6 1024.8,234.5 1025.6,234.5 1026.5,234.5 1027.3,234.4 1028.1,234.4 1029.0,234.4 1029.8,234.4 1030.6,234.4 1031.5,234.3 1032.3,234.3 1033.1,234.3 1034.0,234.3 1034.8,234.3 1035.7,234.2 1036.5,234.2 1037.3,234.2 1038.2,234.2 1039.0,234.2 1039.8,234.2 1040.7,234.2 1041.5,234.2 1042.3,234.2 1043.2,234.2 1044.0,234.1 1044.9,234.1 1045.7,234.1 1046.5,234.1 1047.4,234.1 1048.2,234.1 1049.0,234.1 1049.9,234.1 1050.7,234.1 1051.5,234.1 1052.4,234.1 1053.2,234.1 1054.1,234.1 1054.9,234.2 1055.7,234.2 1056.6,234.2 1057.4,234.2 1058.2,234.2 1059.1,234.2 1059.9,234.2 1060.7,234.2 1061.6,234.2 1062.4,234.2 1063.3,234.2 1064.1,234.2 1064.9,234.3 1065.8,234.3 1066.6,234.3 1067.4,234.3 1068.3,234.3 1069.1,234.3 1069.9,234.4 1070.8,234.4 1071.6,234.4 1072.5,234.4 1073.3,234.4 1074.1,234.5 1075.0,234.5 1075.8,234.5 1076.6,234.5 1077.5,234.5 1078.3,234.6 1079.1,234.6 1080.0,234.6 1080.8,234.6 1081.7,234.7 1082.5,234.7 1083.3,234.7 1084.2,234.8 1085.0,234.8 1085.8,234.8 1086.7,234.8 1087.5,234.9 1088.3,234.9 1089.2,234.9 1090.0,235.0 1090.9,235.0 1091.7,235.1 1092.5,235.1 1093.4,235.1 1094.2,235.2 1095.0,235.2 1095.9,235.3 1096.7,235.3 1097.5,235.3 1098.4,235.4 1099.2,235.4 1100.1,235.5 1100.9,235.5 1101.7,235.6 1102.6,235.6 1103.4,235.7 1104.2,235.7 1105.1,235.8 1105.9,235.8 1106.7,235.9 1107.6,235.9 1108.4,236.0 1109.3,236.1 1110.1,236.1 1110.9,236.2 1111.8,236.2 1112.6,236.3 1113.4,236.4 1114.3,236.4 1115.1,236.5 1115.9,236.6 1116.8,236.7 1117.6,236.7 1118.5,236.8 1119.3,236.9 1120.1,237.0 1121.0,237.1 1121.8,237.1 1122.6,237.2 1123.5,237.3 1124.3,237.4 1125.1,237.5 1126.0,237.6 1126.8,237.7 1127.7,237.8 1128.5,237.9 1129.3,238.0 1130.2,238.1 1131.0,238.2 1131.8,238.3 1132.7,238.4 1133.5,238.5 1134.3,238.6 1135.2,238.8 1136.0,238.9 1136.9,239.0 1137.7,239.1 1138.5,239.3 1139.4,239.4 1140.2,239.5 1141.0,239.7 1141.9,239.8 1142.7,240.0 1143.5,240.1 1144.4,240.3 1145.2,240.5 1146.1,240.6 1146.9,240.8 1147.7,241.0 1148.6,241.1 1149.4,241.3 1150.2,241.5 1151.1,241.7 1151.9,241.9 1152.7,242.1 1153.6,242.3 1154.4,242.5 1155.3,242.7 1156.1,243.0 1156.9,243.2 1157.8,243.4 1158.6,243.7 1159.4,243.9 1160.3,244.2 1161.1,244.4 1161.9,244.7 1162.8,245.0 1163.6,245.3 1164.5,245.6 1165.3,245.9 1166.1,246.2 1167.0,246.5 1167.8,246.8 1168.6,247.1 1169.5,247.5 1170.3,247.8 1171.2,248.2 1172.0,248.5 1172.8,248.9 1173.7,249.3 1174.5,249.7 1175.3,250.1 1176.2,250.5 1177.0,251.0 1177.8,251.4 1178.7,251.9 1179.5,252.3 1180.4,252.8 1181.2,253.3 1182.0,253.8 1182.9,254.3 1183.7,254.8 1184.5,255.3 1185.4,255.9 1186.2,256.4 1187.0,257.0 1187.9,257.6 1188.7,258.2 1189.6,258.8 1190.4,259.4 1191.2,260.0 1192.1,260.7 1192.9,261.3 1193.7,261.9 1194.6,262.6 1195.4,263.3 1196.2,263.9 1197.1,264.6 1197.9,265.3 1198.8,266.0 1199.6,266.7 1200.4,267.4 1201.3,268.0 1202.1,268.7 1202.9,269.4 1203.8,270.1 1204.6,270.7 1205.4,271.4 1206.3,272.0 1207.1,272.6 1208.0,273.2 1208.8,273.8 1209.6,274.4 1210.5,274.9 1211.3,275.4 1212.1,275.9 1213.0,276.3 1213.8,276.7 1214.6,277.1 1215.5,277.4 1216.3,277.7 1217.2,278.0 1218.0,278.2 1218.8,278.4 1219.7,278.5 1220.5,278.6 1221.3,278.6 1222.2,278.5 1223.0,278.1 1223.8,277.5 1224.7,276.8 1225.5,275.8 1226.4,274.7 1227.2,273.4 1228.0,272.1 1228.9,270.6 1229.7,269.1 1230.5,267.6 1231.4,266.1 1232.2,264.5 1233.0,263.0 1233.9,261.6 1234.7,260.1 1235.6,258.8 1236.4,257.4 1237.2,256.2 1238.1,254.9 1238.9,253.8 1239.7,252.7 1240.6,251.7 1241.4,250.7 1242.2,249.8 1243.1,248.9 1243.9,248.1 1244.8,247.3 1245.6,246.6 1246.4,245.9 1247.3,245.2 1248.1,244.6 1248.9,244.0 1249.8,243.5 1250.6,243.0 1251.4,242.5 1252.3,242.0 1253.1,241.6 1254.0,241.2 1254.8,240.8 1255.6,240.5 1256.5,240.1 1257.3,239.8 1258.1,239.5 1259.0,239.2 1259.8,238.9 1260.6,238.7 1261.5,238.4 1262.3,238.2 1263.2,237.9 1264.0,237.7 1264.8,237.5 1265.7,237.3 1266.5,237.2 1267.3,237.0 1268.2,236.8 1269.0,236.7 1269.8,236.5 1270.7,236.4 1271.5,236.2 1272.4,236.1 1273.2,236.0 1274.0,235.9 1274.9,235.7 1275.7,235.6 1276.5,235.5 1277.4,235.4 1278.2,235.3 1279.0,235.2 1279.9,235.2 1280.7,235.1 1281.6,235.0 1282.4,234.9 1283.2,234.8 1284.1,234.8 1284.9,234.7 1285.7,234.7 1286.6,234.6 1287.4,234.5 1288.2,234.5 1289.1,234.4 1289.9,234.4 1290.8,234.3 1291.6,234.3 1292.4,234.2 1293.3,234.2 1294.1,234.2 1294.9,234.1 1295.8,234.1 1296.6,234.1 1297.4,234.0 1298.3,234.0 1299.1,234.0 1300.0,234.0 1300.8,233.9 1301.6,233.9 1302.5,233.9 1303.3,233.9 1304.1,233.8 1305.0,233.8 1305.8,233.8 1306.6,233.8 1307.5,233.8 1308.3,233.8 1309.2,233.8 1310.0,233.8 1310.8,233.8 1311.7,233.8 1312.5,233.8 1313.3,233.7 1314.2,233.7 1315.0,233.7 1315.8,233.8 1316.7,233.8 1317.5,233.8 1318.4,233.8 1319.2,233.8 1320.0,233.8 1320.9,233.8 1321.7,233.8 1322.5,233.8 1323.4,233.8 1324.2,233.8 1325.0,233.9 1325.9,233.9 1326.7,233.9 1327.6,233.9 1328.4,233.9 1329.2,234.0 1330.1,234.0 1330.9,234.0 1331.7,234.1 1332.6,234.1 1333.4,234.1 1334.2,234.2 1335.1,234.2 1335.9,234.2 1336.8,234.3 1337.6,234.3 1338.4,234.4 1339.3,234.4 1340.1,234.5 1340.9,234.5 1341.8,234.6 1342.6,234.6 1343.4,234.7 1344.3,234.8 1345.1,234.8 1346.0,234.9 1346.8,235.0 1347.6,235.1 1348.5,235.1 1349.3,235.2 1350.1,235.3 1351.0,235.4 1351.8,235.5 1352.6,235.6 1353.5,235.7 1354.3,235.8 1355.2,235.9 1356.0,236.1 1356.8,236.2 1357.7,236.3 1358.5,236.5 1359.3,236.6 1360.2,236.8 1361.0,236.9 1361.8,237.1 1362.7,237.3 1363.5,237.4 1364.4,237.6 1365.2,237.9 1366.0,238.1 1366.9,238.3 1367.7,238.5 1368.5,238.8 1369.4,239.1 1370.2,239.3 1371.0,239.6 1371.9,240.0 1372.7,240.3 1373.6,240.6 1374.4,241.0 1375.2,241.4 1376.1,241.8 1376.9,242.3 1377.7,242.7 1378.6,243.2 1379.4,243.7 1380.3,244.3 1381.1,244.9 1381.9,245.5 1382.8,246.2 1383.6,246.9 1384.4,247.6 1385.3,248.4 1386.1,249.2 1386.9,250.1 1387.8,251.1 1388.6,252.1 1389.5,253.1 1390.3,254.2 1391.1,255.4 1392.0,256.6 1392.8,257.9 1393.6,259.3 1394.5,260.7 1395.3,262.1 1396.1,263.6 1397.0,265.2 1397.8,266.7 1398.7,268.3 1399.5,269.8 1400.3,271.4 1401.2,272.8 1402.0,274.2 1402.8,275.5 1403.7,276.6 1404.5,277.6 1405.3,278.4 1406.2,279.0 1407.0,279.3 1407.9,279.5 1408.7,279.4 1409.5,279.4 1410.4,279.2 1411.2,279.1 1412.0,278.9 1412.9,278.6 1413.7,278.3 1414.5,278.0 1415.4,277.6 1416.2,277.2 1417.1,276.7 1417.9,276.2 1418.7,275.7 1419.6,275.2 1420.4,274.6 1421.2,274.0 1422.1,273.4 1422.9,272.8 1423.7,272.1 1424.6,271.5 1425.4,270.8 1426.3,270.1 1427.1,269.4 1427.9,268.7 1428.8,268.0 1429.6,267.3 1430.4,266.7 1431.3,266.0 1432.1,265.3 1432.9,264.6 1433.8,263.9 1434.6,263.2 1435.5,262.5 1436.3,261.9 1437.1,261.2 1438.0,260.6 1438.8,260.0 1439.6,259.3 1440.5,258.7 1441.3,258.1 1442.1,257.5 1443.0,257.0 1443.8,256.4 1444.7,255.8 1445.5,255.3 1446.3,254.8 1447.2,254.3 1448.0,253.7 1448.8,253.3 1449.7,252.8 1450.5,252.3 1451.3,251.8 1452.2,251.4 1453.0,251.0 1453.9,250.5 1454.7,250.1 1455.5,249.7 1456.4,249.3 1457.2,248.9 1458.0,248.6 1458.9,248.2 1459.7,247.8 1460.5,247.5 1461.4,247.2 1462.2,246.8 1463.1,246.5 1463.9,246.2 1464.7,245.9 1465.6,245.6 1466.4,245.3 1467.2,245.0 1468.1,244.8 1468.9,244.5 1469.7,244.2 1470.6,244.0 1471.4,243.7 1472.3,243.5 1473.1,243.3 1473.9,243.0 1474.8,242.8 1475.6,242.6 1476.4,242.4 1477.3,242.2 1478.1,242.0 1478.9,241.8 1479.8,241.6 1480.6,241.4 1481.5,241.2 1482.3,241.1 1483.1,240.9 1484.0,240.7 1484.8,240.6 1485.6,240.4 1486.5,240.3 1487.3,240.1 1488.1,240.0 1489.0,239.8 1489.8,239.7 1490.7,239.5 1491.5,239.4 1492.3,239.3 1493.2,239.1 1494.0,239.0 1494.8,238.9 1495.7,238.8 1496.5,238.7 1497.3,238.6 1498.2,238.4 1499.0,238.3 1499.9,238.2 1500.7,238.1 1501.5,238.0 1502.4,237.9 1503.2,237.8 1504.0,237.8 1504.9,237.7 1505.7,237.6 1506.5,237.5 1507.4,237.4 1508.2,237.3 1509.1,237.2 1509.9,237.2 1510.7,237.1 1511.6,237.0 1512.4,236.9 1513.2,236.9 1514.1,236.8 1514.9,236.7 1515.7,236.7 1516.6,236.6 1517.4,236.5 1518.3,236.5 1519.1,236.4 1519.9,236.4 1520.8,236.3 1521.6,236.2 1522.4,236.2 1523.3,236.1 1524.1,236.1 1524.9,236.0 1525.8,236.0 1526.6,235.9 1527.5,235.9 1528.3,235.8 1529.1,235.8 1530.0,235.8 1530.8,235.7 1531.6,235.7 1532.5,235.6 1533.3,235.6 1534.1,235.6 1535.0,235.5 1535.8,235.5 1536.7,235.4 1537.5,235.4 1538.3,235.4 1539.2,235.3 1540.0,235.3 1540.8,235.3 1541.7,235.3 1542.5,235.2 1543.3,235.2 1544.2,235.2 1545.0,235.2 1545.9,235.1 1546.7,235.1 1547.5,235.1 1548.4,235.1 1549.2,235.0 1550.0,235.0 1550.9,235.0 1551.7,235.0 1552.5,235.0 1553.4,235.0 1554.2,234.9 1555.1,234.9 1555.9,234.9 1556.7,234.9 1557.6,234.9 1558.4,234.9 1559.2,234.9 1560.1,234.9 1560.9,234.9 1561.7,234.9 1562.6,234.9 1563.4,234.8 1564.3,234.8 1565.1,234.8 1565.9,234.8 1566.8,234.8 1567.6,234.8 1568.4,234.8 1569.3,234.8 1570.1,234.9 1570.9,234.9 1571.8,234.9 1572.6,234.9 1573.5,234.9 1574.3,234.9 1575.1,234.9 1576.0,234.9 1576.8,234.9 1577.6,234.9 1578.5,235.0 1579.3,235.0 1580.1,235.0 1581.0,235.0 1581.8,235.0 1582.7,235.1 1583.5,235.1 1584.3,235.1 1585.2,235.2 1586.0,235.2 1586.8,235.2 1587.7,235.3 1588.5,235.3 1589.4,235.3 1590.2,235.4 1591.0,235.4 1591.9,235.5 1592.7,235.5 1593.5,235.6 1594.4,235.6 1595.2,235.7 1596.0,235.7 1596.9,235.8 1597.7,235.9 1598.6,235.9 1599.4,236.0 1600.2,236.1 1601.1,236.1 1601.9,236.2 1602.7,236.3 1603.6,236.4 1604.4,236.5 1605.2,236.6 1606.1,236.7 1606.9,236.8 1607.8,236.9 1608.6,237.0 1609.4,237.2 1610.3,237.3 1611.1,237.4 1611.9,237.6 1612.8,237.7 1613.6,237.9 1614.4,238.0 1615.3,238.2 1616.1,238.4 1617.0,238.6 1617.8,238.8 1618.6,239.0 1619.5,239.2 1620.3,239.4 1621.1,239.7 1622.0,239.9 1622.8,240.2 1623.6,240.4 1624.5,240.7 1625.3,241.0 1626.2,241.4 1627.0,241.7 1627.8,242.0 1628.7,242.4 1629.5,242.8 1630.3,243.2 1631.2,243.6 1632.0,244.1 1632.8,244.6 1633.7,245.1 1634.5,245.6 1635.4,246.1 1636.2,246.7 1637.0,247.3 1637.9,247.9 1638.7,248.5 1639.5,249.2 1640.4,249.9 1641.2,250.6 1642.0,251.3 1642.9,252.0 1643.7,252.8 1644.6,253.6 1645.4,254.4 1646.2,255.1 1647.1,255.9 1647.9,256.7 1648.7,257.5 1649.6,258.2 1650.4,258.9 1651.2,259.5 1652.1,260.1 1652.9,260.7 1653.8,261.2 1654.6,261.6 1655.4,261.9 1656.3,262.1 1657.1,262.3 1657.9,262.3 1658.8,262.3 1659.6,262.2 1660.4,262.2 1661.3,262.1 1662.1,261.9 1663.0,261.8 1663.8,261.6 1664.6,261.3 1665.5,261.1 1666.3,260.8 1667.1,260.5 1668.0,260.2 1668.8,259.9 1669.6,259.6 1670.5,259.2 1671.3,258.8 1672.2,258.4 1673.0,258.0 1673.8,257.6 1674.7,257.2 1675.5,256.8 1676.3,256.3 1677.2,255.9 1678.0,255.4 1678.8,255.0 1679.7,254.6 1680.5,254.1 1681.4,253.7 1682.2,253.2 1683.0,252.8 1683.9,252.4 1684.7,251.9 1685.5,251.5 1686.4,251.1 1687.2,250.7 1688.0,250.3 1688.9,249.8 1689.7,249.5 1690.6,249.1 1691.4,248.7 1692.2,248.3 1693.1,247.9 1693.9,247.6 1694.7,247.2 1695.6,246.9 1696.4,246.5 1697.2,246.2 1698.1,245.9 1698.9,245.6 1699.8,245.3 1700.6,245.0 1701.4,244.7 1702.3,244.4 1703.1,244.1 1703.9,243.8 1704.8,243.6 1705.6,243.3 1706.4,243.1 1707.3,242.8 1708.1,242.6 1709.0,242.3 1709.8,242.1 1710.6,241.9 1711.5,241.7 1712.3,241.5 1713.1,241.3 1714.0,241.1 1714.8,240.9 1715.6,240.7 1716.5,240.5 1717.3,240.3 1718.2,240.1 1719.0,240.0 1719.8,239.8 1720.7,239.6 1721.5,239.5 1722.3,239.3 1723.2,239.2 1724.0,239.0 1724.8,238.9 1725.7,238.8 1726.5,238.6 1727.4,238.5 1728.2,238.4 1729.0,238.2 1729.9,238.1 1730.7,238.0 1731.5,237.9 1732.4,237.8 1733.2,237.7 1734.0,237.5 1734.9,237.4 1735.7,237.3 1736.6,237.2 1737.4,237.1 1738.2,237.0 1739.1,237.0 1739.9,236.9 1740.7,236.8 1741.6,236.7 1742.4,236.6 1743.2,236.5 1744.1,236.4 1744.9,236.4 1745.8,236.3 1746.6,236.2 1747.4,236.1 1748.3,236.1 1749.1,236.0 1749.9,235.9 1750.8,235.9 1751.6,235.8 1752.4,235.7 1753.3,235.7 1754.1,235.6 1755.0,235.6 1755.8,235.5 1756.6,235.4 1757.5,235.4 1758.3,235.3 1759.1,235.3 1760.0,235.2 1760.8,235.2 1761.6,235.1 1762.5,235.1 1763.3,235.0 1764.2,235.0 1765.0,234.9 1765.8,234.9 1766.7,234.9 1767.5,234.8 1768.3,234.8 1769.2,234.7 1770.0,234.7 1770.8,234.7 1771.7,234.6 1772.5,234.6 1773.4,234.5 1774.2,234.5 1775.0,234.5 1775.9,234.4 1776.7,234.4 1777.5,234.4 1778.4,234.4 1779.2,234.3 1780.0,234.3 1780.9,234.3 1781.7,234.2 1782.6,234.2 1783.4,234.2 1784.2,234.2 1785.1,234.1 1785.9,234.1 1786.7,234.1 1787.6,234.1 1788.4,234.0 1789.2,234.0 1790.1,234.0 1790.9,234.0 1791.8,234.0 1792.6,233.9 1793.4,233.9 1794.3,233.9 1795.1,233.9 1795.9,233.9 1796.8,233.9 1797.6,233.8 1798.5,233.8 1799.3,233.8 1800.1,233.8 1801.0,233.8 1801.8,233.8 1802.6,233.8 1803.5,233.7 1804.3,233.7 1805.1,233.7 1806.0,233.7 1806.8,233.7 1807.7,233.7 1808.5,233.7 1809.3,233.7 1810.2,233.7 1811.0,233.7 1811.8,233.7 1812.7,233.6 1813.5,233.6 1814.3,233.6 1815.2,233.6 1816.0,233.6 1816.9,233.6 1817.7,233.6 1818.5,233.6 1819.4,233.6 1820.2,233.6 1821.0,233.6 1821.9,233.6 1822.7,233.6 1823.5,233.6 1824.4,233.6 1825.2,233.6 1826.1,233.6 1826.9,233.6 1827.7,233.6 1828.6,233.7 1829.4,233.7 1830.2,233.7 1831.1,233.7 1831.9,233.7 1832.7,233.7 1833.6,233.7 1834.4,233.7 1835.3,233.7 1836.1,233.7 1836.9,233.8 1837.8,233.8 1838.6,233.8 1839.4,233.8 1840.3,233.8 1841.1,233.8 1841.9,233.9 1842.8,233.9 1843.6,233.9 1844.5,233.9 1845.3,233.9 1846.1,234.0 1847.0,234.0 1847.8,234.0 1848.6,234.0 1849.5,234.1 1850.3,234.1 1851.1,234.1 1852.0,234.2 1852.8,234.2 1853.7,234.2 1854.5,234.3 1855.3,234.3 1856.2,234.4 1857.0,234.4 1857.8,234.4 1858.7,234.5 1859.5,234.5 1860.3,234.6 1861.2,234.6 1862.0,234.7 1862.9,234.7 1863.7,234.8 1864.5,234.9 1865.4,234.9 1866.2,235.0 1867.0,235.1 1867.9,235.1 1868.7,235.2 1869.5,235.3 1870.4,235.4 1871.2,235.4 1872.1,235.5 1872.9,235.6 1873.7,235.7 1874.6,235.8 1875.4,235.9 1876.2,236.0 1877.1,236.1 1877.9,236.3 1878.7,236.4 1879.6,236.5 1880.4,236.6 1881.3,236.8 1882.1,236.9 1882.9,237.1 1883.8,237.2 1884.6,237.4 1885.4,237.5 1886.3,237.7 1887.1,237.9 1887.9,238.1 1888.8,238.3 1889.6,238.5 1890.5,238.7 1891.3,238.9 1892.1,239.2 1893.0,239.4 1893.8,239.7 1894.6,239.9 1895.5,240.2 1896.3,240.5 1897.1,240.8 1898.0,241.1 1898.8,241.4 1899.7,241.7 1900.5,242.0 1901.3,242.4 1902.2,242.8 1903.0,243.1 1903.8,243.5 1904.7,243.9 1905.5,244.3 1906.3,244.7 1907.2,245.1 1908.0,245.6 1908.9,246.0 1909.7,246.4 1910.5,246.9 1911.4,247.3 1912.2,247.7 1913.0,248.1 1913.9,248.6 1914.7,249.0 1915.5,249.4 1916.4,249.7 1917.2,250.1 1918.1,250.4 1918.9,250.7 1919.7,251.0 1920.6,251.2 1921.4,251.4 1922.2,251.5 1923.1,251.6 1923.9,251.7 1924.7,251.7 1925.6,251.7 1926.4,251.6 1927.3,251.6 1928.1,251.5 1928.9,251.4 1929.8,251.2 1930.6,251.1 1931.4,250.9 1932.3,250.7 1933.1,250.5 1933.9,250.2 1934.8,250.0 1935.6,249.7 1936.5,249.4 1937.3,249.1 1938.1,248.8 1939.0,248.5 1939.8,248.2 1940.6,247.9 1941.5,247.6 1942.3,247.2 1943.1,246.9 1944.0,246.6 1944.8,246.2 1945.7,245.9 1946.5,245.6 1947.3,245.2 1948.2,244.9 1949.0,244.6 1949.8,244.3 1950.7,244.0 1951.5,243.7 1952.3,243.3 1953.2,243.1 1954.0,242.8 1954.9,242.5 1955.7,242.2 1956.5,241.9 1957.4,241.7 1958.2,241.4 1959.0,241.1 1959.9,240.9 1960.7,240.7 1961.5,240.4 1962.4,240.2 1963.2,240.0 1964.1,239.7 1964.9,239.5 1965.7,239.3 1966.6,239.1 1967.4,238.9 1968.2,238.8 1969.1,238.6 1969.9,238.4 1970.7,238.2 1971.6,238.1 1972.4,237.9 1973.3,237.7 1974.1,237.6 1974.9,237.4 1975.8,237.3 1976.6,237.1 1977.4,237.0 1978.3,236.9 1979.1,236.7 1979.9,236.6 1980.8,236.5 1981.6,236.4 1982.5,236.3 1983.3,236.1 1984.1,236.0 1985.0,235.9 1985.8,235.8 1986.6,235.7 1987.5,235.6 1988.3,235.5 1989.1,235.4 1990.0,235.4 1990.8,235.3 1991.7,235.2 1992.5,235.1 1993.3,235.0 1994.2,234.9 1995.0,234.9 1995.8,234.8 1996.7,234.7 1997.5,234.6 1998.3,234.6 1999.2,234.5 2000.0,234.4 2000.9,234.4 2001.7,234.3 2002.5,234.3 2003.4,234.2 2004.2,234.1 2005.0,234.1 2005.9,234.0 2006.7,234.0"/>
<polyline fill="none" stroke="#22e022" stroke-width="4.5" stroke-linejoin="round" points="581.5,231.2 582.3,231.2 583.2,231.2 584.0,231.2 584.8,231.2 585.7,231.2 586.5,231.2 587.3,231.2 588.2,231.2 589.0,231.2 589.9,231.2 590.7,231.2 591.5,231.2 592.4,231.2 593.2,231.2 594.0,231.2 594.9,231.2 595.7,231.2 596.5,231.2 597.4,231.2 598.2,231.2 599.1,231.2 599.9,231.2 600.7,231.2 601.6,231.2 602.4,231.2 603.2,231.2 604.1,231.2 604.9,231.2 605.7,231.2 606.6,231.2 607.4,231.2 608.3,231.2 609.1,231.2 609.9,231.2 610.8,231.2 611.6,231.2 612.4,231.2 613.3,231.2 614.1,231.2 614.9,231.2 615.8,231.2 616.6,231.2 617.5,231.2 618.3,231.2 619.1,231.2 620.0,231.2 620.8,231.2 621.6,231.2 622.5,231.2 623.3,231.2 624.1,231.2 625.0,231.2 625.8,231.2 626.7,231.2 627.5,231.3 628.3,231.3 629.2,231.3 630.0,231.3 630.8,231.3 631.7,231.3 632.5,231.3 633.3,231.3 634.2,231.3 635.0,231.3 635.9,231.3 636.7,231.3 637.5,231.3 638.4,231.3 639.2,231.3 640.0,231.3 640.9,231.3 641.7,231.3 642.5,231.3 643.4,231.3 644.2,231.3 645.1,231.3 645.9,231.3 646.7,231.3 647.6,231.3 648.4,231.3 649.2,231.3 650.1,231.3 650.9,231.3 651.7,231.3 652.6,231.3 653.4,231.3 654.3,231.3 655.1,231.3 655.9,231.3 656.8,231.3 657.6,231.3 658.4,231.3 659.3,231.3 660.1,231.3 660.9,231.3 661.8,231.3 662.6,231.3 663.5,231.3 664.3,231.3 665.1,231.3 666.0,231.3 666.8,231.3 667.6,231.3 668.5,231.4 669.3,231.4 670.1,231.4 671.0,231.4 671.8,231.4 672.7,231.4 673.5,231.4 674.3,231.4 675.2,231.4 676.0,231.4 676.8,231.4 677.7,231.4 678.5,231.4 679.3,231.4 680.2,231.4 681.0,231.4 681.9,231.4 682.7,231.4 683.5,231.4 684.4,231.4 685.2,231.4 686.0,231.4 686.9,231.4 687.7,231.4 688.5,231.4 689.4,231.4 690.2,231.4 691.1,231.4 691.9,231.4 692.7,231.4 693.6,231.4 694.4,231.4 695.2,231.4 696.1,231.4 696.9,231.4 697.7,231.4 698.6,231.4 699.4,231.4 700.3,231.4 701.1,231.4 701.9,231.5 702.8,231.5 703.6,231.5 704.4,231.5 705.3,231.5 706.1,231.5 706.9,231.5 707.8,231.5 708.6,231.5 709.5,231.5 710.3,231.5 711.1,231.5 712.0,231.5 712.8,231.5 713.6,231.5 714.5,231.5 715.3,231.5 716.1,231.5 717.0,231.5 717.8,231.5 718.7,231.5 719.5,231.5 720.3,231.5 721.2,231.5 722.0,231.5 722.8,231.5 723.7,231.5 724.5,231.5 725.3,231.5 726.2,231.5 727.0,231.5 727.9,231.5 728.7,231.5 729.5,231.5 730.4,231.5 731.2,231.6 732.0,231.6 732.9,231.6 733.7,231.6 734.5,231.6 735.4,231.6 736.2,231.6 737.1,231.6 737.9,231.6 738.7,231.6 739.6,231.6 740.4,231.6 741.2,231.6 742.1,231.6 742.9,231.6 743.7,231.6 744.6,231.6 745.4,231.6 746.3,231.6 747.1,231.6 747.9,231.6 748.8,231.6 749.6,231.6 750.4,231.6 751.3,231.6 752.1,231.6 753.0,231.6 753.8,231.6 754.6,231.6 755.5,231.6 756.3,231.7 757.1,231.7 758.0,231.7 758.8,231.7 759.6,231.7 760.5,231.7 761.3,231.7 762.2,231.7 763.0,231.7 763.8,231.7 764.7,231.7 765.5,231.7 766.3,231.7 767.2,231.7 768.0,231.7 768.8,231.7 769.7,231.7 770.5,231.7 771.4,231.7 772.2,231.7 773.0,231.7 773.9,231.7 774.7,231.7 775.5,231.7 776.4,231.7 777.2,231.7 778.0,231.8 778.9,231.8 779.7,231.8 780.6,231.8 781.4,231.8 782.2,231.8 783.1,231.8 783.9,231.8 784.7,231.8 785.6,231.8 786.4,231.8 787.2,231.8 788.1,231.8 788.9,231.8 789.8,231.8 790.6,231.8 791.4,231.8 792.3,231.8 793.1,231.8 793.9,231.8 794.8,231.8 795.6,231.8 796.4,231.8 797.3,231.9 798.1,231.9 799.0,231.9 799.8,231.9 800.6,231.9 801.5,231.9 802.3,231.9 803.1,231.9 804.0,231.9 804.8,231.9 805.6,231.9 806.5,231.9 807.3,231.9 808.2,231.9 809.0,231.9 809.8,231.9 810.7,231.9 811.5,231.9 812.3,231.9 813.2,231.9 814.0,231.9 814.8,232.0 815.7,232.0 816.5,232.0 817.4,232.0 818.2,232.0 819.0,232.0 819.9,232.0 820.7,232.0 821.5,232.0 822.4,232.0 823.2,232.0 824.0,232.0 824.9,232.0 825.7,232.0 826.6,232.0 827.4,232.0 828.2,232.0 829.1,232.0 829.9,232.0 830.7,232.1 831.6,232.1 832.4,232.1 833.2,232.1 834.1,232.1 834.9,232.1 835.8,232.1 836.6,232.1 837.4,232.1 838.3,232.1 839.1,232.1 839.9,232.1 840.8,232.1 841.6,232.1 842.4,232.1 843.3,232.1 844.1,232.1 845.0,232.2 845.8,232.2 846.6,232.2 847.5,232.2 848.3,232.2 849.1,232.2 850.0,232.2 850.8,232.2 851.6,232.2 852.5,232.2 853.3,232.2 854.2,232.2 855.0,232.2 855.8,232.2 856.7,232.2 857.5,232.2 858.3,232.3 859.2,232.3 860.0,232.3 860.8,232.3 861.7,232.3 862.5,232.3 863.4,232.3 864.2,232.3 865.0,232.3 865.9,232.3 866.7,232.3 867.5,232.3 868.4,232.3 869.2,232.3 870.0,232.4 870.9,232.4 871.7,232.4 872.6,232.4 873.4,232.4 874.2,232.4 875.1,232.4 875.9,232.4 876.7,232.4 877.6,232.4 878.4,232.4 879.2,232.4 880.1,232.4 880.9,232.5 881.8,232.5 882.6,232.5 883.4,232.5 884.3,232.5 885.1,232.5 885.9,232.5 886.8,232.5 887.6,232.5 888.4,232.5 889.3,232.5 890.1,232.5 891.0,232.6 891.8,232.6 892.6,232.6 893.5,232.6 894.3,232.6 895.1,232.6 896.0,232.6 896.8,232.6 897.6,232.6 898.5,232.6 899.3,232.6 900.2,232.6 901.0,232.7 901.8,232.7 902.7,232.7 903.5,232.7 904.3,232.7 905.2,232.7 906.0,232.7 906.8,232.7 907.7,232.7 908.5,232.7 909.4,232.8 910.2,232.8 911.0,232.8 911.9,232.8 912.7,232.8 913.5,232.8 914.4,232.8 915.2,232.8 916.0,232.8 916.9,232.8 917.7,232.9 918.6,232.9 919.4,232.9 920.2,232.9 921.1,232.9 921.9,232.9 922.7,232.9 923.6,232.9 924.4,232.9 925.2,233.0 926.1,233.0 926.9,233.0 927.8,233.0 928.6,233.0 929.4,233.0 930.3,233.0 931.1,233.0 931.9,233.0 932.8,233.1 933.6,233.1 934.4,233.1 935.3,233.1 936.1,233.1 937.0,233.1 937.8,233.1 938.6,233.1 939.5,233.2 940.3,233.2 941.1,233.2 942.0,233.2 942.8,233.2 943.6,233.2 944.5,233.2 945.3,233.2 946.2,233.3 947.0,233.3 947.8,233.3 948.7,233.3 949.5,233.3 950.3,233.3 951.2,233.3 952.0,233.4 952.8,233.4 953.7,233.4 954.5,233.4 955.4,233.4 956.2,233.4 957.0,233.4 957.9,233.5 958.7,233.5 959.5,233.5 960.4,233.5 961.2,233.5 962.1,233.5 962.9,233.5 963.7,233.6 964.6,233.6 965.4,233.6 966.2,233.6 967.1,233.6 967.9,233.6 968.7,233.7 969.6,233.7 970.4,233.7 971.3,233.7 972.1,233.7 972.9,233.7 973.8,233.8 974.6,233.8 975.4,233.8 976.3,233.8 977.1,233.8 977.9,233.8 978.8,233.9 979.6,233.9 980.5,233.9 981.3,233.9 982.1,233.9 983.0,233.9 983.8,234.0 984.6,234.0 985.5,234.0 986.3,234.0 987.1,234.0 988.0,234.1 988.8,234.1 989.7,234.1 990.5,234.1 991.3,234.1 992.2,234.2 993.0,234.2 993.8,234.2 994.7,234.2 995.5,234.2 996.3,234.3 997.2,234.3 998.0,234.3 998.9,234.3 999.7,234.4 1000.5,234.4 1001.4,234.4 1002.2,234.4 1003.0,234.4 1003.9,234.5 1004.7,234.5 1005.5,234.5 1006.4,234.5 1007.2,234.6 1008.1,234.6 1008.9,234.6 1009.7,234.6 1010.6,234.7 1011.4,234.7 1012.2,234.7 1013.1,234.7 1013.9,234.8 1014.7,234.8 1015.6,234.8 1016.4,234.8 1017.3,234.9 1018.1,234.9 1018.9,234.9 1019.8,234.9 1020.6,235.0 1021.4,235.0 1022.3,235.0 1023.1,235.1 1023.9,235.1 1024.8,235.1 1025.6,235.1 1026.5,235.2 1027.3,235.2 1028.1,235.2 1029.0,235.3 1029.8,235.3 1030.6,235.3 1031.5,235.4 1032.3,235.4 1033.1,235.4 1034.0,235.4 1034.8,235.5 1035.7,235.5 1036.5,235.5 1037.3,235.6 1038.2,235.6 1039.0,235.6 1039.8,235.7 1040.7,235.7 1041.5,235.8 1042.3,235.8 1043.2,235.8 1044.0,235.9 1044.9,235.9 1045.7,235.9 1046.5,236.0 1047.4,236.0 1048.2,236.0 1049.0,236.1 1049.9,236.1 1050.7,236.2 1051.5,236.2 1052.4,236.2 1053.2,236.3 1054.1,236.3 1054.9,236.4 1055.7,236.4 1056.6,236.4 1057.4,236.5 1058.2,236.5 1059.1,236.6 1059.9,236.6 1060.7,236.7 1061.6,236.7 1062.4,236.8 1063.3,236.8 1064.1,236.8 1064.9,236.9 1065.8,236.9 1066.6,237.0 1067.4,237.0 1068.3,237.1 1069.1,237.1 1069.9,237.2 1070.8,237.2 1071.6,237.3 1072.5,237.3 1073.3,237.4 1074.1,237.5 1075.0,237.5 1075.8,237.6 1076.6,237.6 1077.5,237.7 1078.3,237.7 1079.1,237.8 1080.0,237.8 1080.8,237.9 1081.7,238.0 1082.5,238.0 1083.3,238.1 1084.2,238.1 1085.0,238.2 1085.8,238.3 1086.7,238.3 1087.5,238.4 1088.3,238.5 1089.2,238.5 1090.0,238.6 1090.9,238.7 1091.7,238.7 1092.5,238.8 1093.4,238.9 1094.2,238.9 1095.0,239.0 1095.9,239.1 1096.7,239.2 1097.5,239.2 1098.4,239.3 1099.2,239.4 1100.1,239.5 1100.9,239.6 1101.7,239.6 1102.6,239.7 1103.4,239.8 1104.2,239.9 1105.1,240.0 1105.9,240.1 1106.7,240.1 1107.6,240.2 1108.4,240.3 1109.3,240.4 1110.1,240.5 1110.9,240.6 1111.8,240.7 1112.6,240.8 1113.4,240.9 1114.3,241.0 1115.1,241.1 1115.9,241.2 1116.8,241.3 1117.6,241.4 1118.5,241.5 1119.3,241.6 1120.1,241.7 1121.0,241.8 1121.8,242.0 1122.6,242.1 1123.5,242.2 1124.3,242.3 1125.1,242.4 1126.0,242.6 1126.8,242.7 1127.7,242.8 1128.5,242.9 1129.3,243.1 1130.2,243.2 1131.0,243.3 1131.8,243.5 1132.7,243.6 1133.5,243.8 1134.3,243.9 1135.2,244.1 1136.0,244.2 1136.9,244.4 1137.7,244.5 1138.5,244.7 1139.4,244.8 1140.2,245.0 1141.0,245.2 1141.9,245.3 1142.7,245.5 1143.5,245.7 1144.4,245.8 1145.2,246.0 1146.1,246.2 1146.9,246.4 1147.7,246.6 1148.6,246.8 1149.4,247.0 1150.2,247.2 1151.1,247.4 1151.9,247.6 1152.7,247.8 1153.6,248.0 1154.4,248.3 1155.3,248.5 1156.1,248.7 1156.9,248.9 1157.8,249.2 1158.6,249.4 1159.4,249.7 1160.3,249.9 1161.1,250.2 1161.9,250.5 1162.8,250.7 1163.6,251.0 1164.5,251.3 1165.3,251.6 1166.1,251.9 1167.0,252.2 1167.8,252.5 1168.6,252.8 1169.5,253.1 1170.3,253.4 1171.2,253.8 1172.0,254.1 1172.8,254.5 1173.7,254.8 1174.5,255.2 1175.3,255.6 1176.2,255.9 1177.0,256.3 1177.8,256.7 1178.7,257.2 1179.5,257.6 1180.4,258.0 1181.2,258.5 1182.0,258.9 1182.9,259.4 1183.7,259.9 1184.5,260.3 1185.4,260.8 1186.2,261.4 1187.0,261.9 1187.9,262.4 1188.7,263.0 1189.6,263.6 1190.4,264.1 1191.2,264.8 1192.1,265.4 1192.9,266.0 1193.7,266.7 1194.6,267.3 1195.4,268.0 1196.2,268.8 1197.1,269.5 1197.9,270.2 1198.8,271.0 1199.6,271.8 1200.4,272.7 1201.3,273.5 1202.1,274.4 1202.9,275.3 1203.8,276.3 1204.6,277.2 1205.4,278.2 1206.3,279.3 1207.1,280.3 1208.0,281.4 1208.8,282.6 1209.6,283.8 1210.5,285.0 1211.3,286.3 1212.1,287.6 1213.0,289.0 1213.8,290.4 1214.6,291.9 1215.5,293.4 1216.3,295.0 1217.2,296.7 1218.0,298.4 1218.8,300.2 1219.7,302.1 1220.5,304.0 1221.3,306.1 1222.2,308.3 1223.0,310.5 1223.8,312.9 1224.7,315.4 1225.5,318.0 1226.4,320.8 1227.2,323.7 1228.0,326.8 1228.9,330.1 1229.7,333.6 1230.5,337.3 1231.4,341.2 1232.2,345.5 1233.0,350.0 1233.9,354.8 1234.7,360.0 1235.6,365.5 1236.4,371.5 1237.2,377.9 1238.1,384.8 1238.9,392.3 1239.7,400.3 1240.6,409.0 1241.4,418.3 1242.2,428.3 1243.1,439.2 1243.9,450.8 1244.8,463.3 1245.6,476.8 1246.4,491.2 1247.3,506.7 1248.1,523.2 1248.9,540.9 1249.8,559.7 1250.6,579.8 1251.4,601.0 1252.3,623.5 1253.1,647.3 1254.0,672.4 1254.8,698.6 1255.6,726.2 1256.5,754.9 1257.3,784.7 1258.1,815.6 1259.0,847.4 1259.8,880.0 1260.6,913.1 1261.5,946.7 1262.3,980.3 1263.2,1013.6 1264.0,1046.4 1264.8,1078.1 1265.7,1108.3 1266.5,1136.5 1267.3,1162.3 1268.2,1185.0 1269.0,1204.1 1269.8,1219.4 1270.7,1230.3 1271.5,1236.7 1272.4,1238.5 1273.2,1235.5 1274.0,1228.1 1274.9,1216.3 1275.7,1200.7 1276.5,1181.6 1277.4,1159.5 1278.2,1135.1 1279.0,1108.7 1279.9,1081.0 1280.7,1052.3 1281.6,1023.2 1282.4,994.0 1283.2,965.2 1284.1,936.8 1284.9,909.4 1285.7,882.9 1286.6,857.7 1287.4,833.9 1288.2,811.6 1289.1,790.9 1289.9,771.8 1290.8,754.5 1291.6,739.1 1292.4,725.5 1293.3,713.7 1294.1,703.9 1294.9,696.0 1295.8,690.1 1296.6,686.2 1297.4,684.2 1298.3,684.2 1299.1,686.2 1300.0,690.1 1300.8,696.0 1301.6,703.9 1302.5,713.7 1303.3,725.5 1304.1,739.1 1305.0,754.5 1305.8,771.8 1306.6,790.9 1307.5,811.6 1308.3,833.9 1309.2,857.7 1310.0,882.9 1310.8,909.4 1311.7,936.8 1312.5,965.2 1313.3,994.0 1314.2,1023.2 1315.0,1052.3 1315.8,1081.0 1316.7,1108.7 1317.5,1135.1 1318.4,1159.5 1319.2,1181.6 1320.0,1200.7 1320.9,1216.3 1321.7,1228.1 1322.5,1235.5 1323.4,1238.5 1324.2,1236.7 1325.0,1230.3 1325.9,1219.4 1326.7,1204.1 1327.6,1185.0 1328.4,1162.3 1329.2,1136.5 1330.1,1108.3 1330.9,1078.1 1331.7,1046.4 1332.6,1013.6 1333.4,980.3 1334.2,946.7 1335.1,913.1 1335.9,880.0 1336.8,847.4 1337.6,815.6 1338.4,784.7 1339.3,754.9 1340.1,726.2 1340.9,698.6 1341.8,672.4 1342.6,647.3 1343.4,623.5 1344.3,601.0 1345.1,579.8 1346.0,559.7 1346.8,540.9 1347.6,523.2 1348.5,506.7 1349.3,491.2 1350.1,476.8 1351.0,463.3 1351.8,450.8 1352.6,439.2 1353.5,428.3 1354.3,418.3 1355.2,409.0 1356.0,400.3 1356.8,392.3 1357.7,384.8 1358.5,377.9 1359.3,371.5 1360.2,365.5 1361.0,360.0 1361.8,354.8 1362.7,350.0 1363.5,345.5 1364.4,341.2 1365.2,337.3 1366.0,333.6 1366.9,330.1 1367.7,326.8 1368.5,323.7 1369.4,320.8 1370.2,318.0 1371.0,315.4 1371.9,312.9 1372.7,310.5 1373.6,308.3 1374.4,306.1 1375.2,304.0 1376.1,302.1 1376.9,300.2 1377.7,298.4 1378.6,296.7 1379.4,295.0 1380.3,293.4 1381.1,291.9 1381.9,290.4 1382.8,289.0 1383.6,287.6 1384.4,286.3 1385.3,285.0 1386.1,283.8 1386.9,282.6 1387.8,281.4 1388.6,280.3 1389.5,279.3 1390.3,278.2 1391.1,277.2 1392.0,276.3 1392.8,275.3 1393.6,274.4 1394.5,273.5 1395.3,272.7 1396.1,271.8 1397.0,271.0 1397.8,270.2 1398.7,269.5 1399.5,268.8 1400.3,268.0 1401.2,267.3 1402.0,266.7 1402.8,266.0 1403.7,265.4 1404.5,264.8 1405.3,264.1 1406.2,263.6 1407.0,263.0 1407.9,262.4 1408.7,261.9 1409.5,261.4 1410.4,260.8 1411.2,260.3 1412.0,259.9 1412.9,259.4 1413.7,258.9 1414.5,258.5 1415.4,258.0 1416.2,257.6 1417.1,257.2 1417.9,256.7 1418.7,256.3 1419.6,255.9 1420.4,255.6 1421.2,255.2 1422.1,254.8 1422.9,254.5 1423.7,254.1 1424.6,253.8 1425.4,253.4 1426.3,253.1 1427.1,252.8 1427.9,252.5 1428.8,252.2 1429.6,251.9 1430.4,251.6 1431.3,251.3 1432.1,251.0 1432.9,250.7 1433.8,250.5 1434.6,250.2 1435.5,249.9 1436.3,249.7 1437.1,249.4 1438.0,249.2 1438.8,248.9 1439.6,248.7 1440.5,248.5 1441.3,248.3 1442.1,248.0 1443.0,247.8 1443.8,247.6 1444.7,247.4 1445.5,247.2 1446.3,247.0 1447.2,246.8 1448.0,246.6 1448.8,246.4 1449.7,246.2 1450.5,246.0 1451.3,245.8 1452.2,245.7 1453.0,245.5 1453.9,245.3 1454.7,245.2 1455.5,245.0 1456.4,244.8 1457.2,244.7 1458.0,244.5 1458.9,244.4 1459.7,244.2 1460.5,244.1 1461.4,243.9 1462.2,243.8 1463.1,243.6 1463.9,243.5 1464.7,243.3 1465.6,243.2 1466.4,243.1 1467.2,242.9 1468.1,242.8 1468.9,242.7 1469.7,242.6 1470.6,242.4 1471.4,242.3 1472.3,242.2 1473.1,242.1 1473.9,242.0 1474.8,241.8 1475.6,241.7 1476.4,241.6 1477.3,241.5 1478.1,241.4 1478.9,241.3 1479.8,241.2 1480.6,241.1 1481.5,241.0 1482.3,240.9 1483.1,240.8 1484.0,240.7 1484.8,240.6 1485.6,240.5 1486.5,240.4 1487.3,240.3 1488.1,240.2 1489.0,240.1 1489.8,240.1 1490.7,240.0 1491.5,239.9 1492.3,239.8 1493.2,239.7 1494.0,239.6 1494.8,239.6 1495.7,239.5 1496.5,239.4 1497.3,239.3 1498.2,239.2 1499.0,239.2 1499.9,239.1 1500.7,239.0 1501.5,238.9 1502.4,238.9 1503.2,238.8 1504.0,238.7 1504.9,238.7 1505.7,238.6 1506.5,238.5 1507.4,238.5 1508.2,238.4 1509.1,238.3 1509.9,238.3 1510.7,238.2 1511.6,238.1 1512.4,238.1 1513.2,238.0 1514.1,238.0 1514.9,237.9 1515.7,237.8 1516.6,237.8 1517.4,237.7 1518.3,237.7 1519.1,237.6 1519.9,237.6 1520.8,237.5 1521.6,237.5 1522.4,237.4 1523.3,237.3 1524.1,237.3 1524.9,237.2 1525.8,237.2 1526.6,237.1 1527.5,237.1 1528.3,237.0 1529.1,237.0 1530.0,236.9 1530.8,236.9 1531.6,236.8 1532.5,236.8 1533.3,236.8 1534.1,236.7 1535.0,236.7 1535.8,236.6 1536.7,236.6 1537.5,236.5 1538.3,236.5 1539.2,236.4 1540.0,236.4 1540.8,236.4 1541.7,236.3 1542.5,236.3 1543.3,236.2 1544.2,236.2 1545.0,236.2 1545.9,236.1 1546.7,236.1 1547.5,236.0 1548.4,236.0 1549.2,236.0 1550.0,235.9 1550.9,235.9 1551.7,235.9 1552.5,235.8 1553.4,235.8 1554.2,235.8 1555.1,235.7 1555.9,235.7 1556.7,235.6 1557.6,235.6 1558.4,235.6 1559.2,235.5 1560.1,235.5 1560.9,235.5 1561.7,235.4 1562.6,235.4 1563.4,235.4 1564.3,235.4 1565.1,235.3 1565.9,235.3 1566.8,235.3 1567.6,235.2 1568.4,235.2 1569.3,235.2 1570.1,235.1 1570.9,235.1 1571.8,235.1 1572.6,235.1 1573.5,235.0 1574.3,235.0 1575.1,235.0 1576.0,234.9 1576.8,234.9 1577.6,234.9 1578.5,234.9 1579.3,234.8 1580.1,234.8 1581.0,234.8 1581.8,234.8 1582.7,234.7 1583.5,234.7 1584.3,234.7 1585.2,234.7 1586.0,234.6 1586.8,234.6 1587.7,234.6 1588.5,234.6 1589.4,234.5 1590.2,234.5 1591.0,234.5 1591.9,234.5 1592.7,234.4 1593.5,234.4 1594.4,234.4 1595.2,234.4 1596.0,234.4 1596.9,234.3 1597.7,234.3 1598.6,234.3 1599.4,234.3 1600.2,234.2 1601.1,234.2 1601.9,234.2 1602.7,234.2 1603.6,234.2 1604.4,234.1 1605.2,234.1 1606.1,234.1 1606.9,234.1 1607.8,234.1 1608.6,234.0 1609.4,234.0 1610.3,234.0 1611.1,234.0 1611.9,234.0 1612.8,233.9 1613.6,233.9 1614.4,233.9 1615.3,233.9 1616.1,233.9 1617.0,233.9 1617.8,233.8 1618.6,233.8 1619.5,233.8 1620.3,233.8 1621.1,233.8 1622.0,233.8 1622.8,233.7 1623.6,233.7 1624.5,233.7 1625.3,233.7 1626.2,233.7 1627.0,233.7 1627.8,233.6 1628.7,233.6 1629.5,233.6 1630.3,233.6 1631.2,233.6 1632.0,233.6 1632.8,233.5 1633.7,233.5 1634.5,233.5 1635.4,233.5 1636.2,233.5 1637.0,233.5 1637.9,233.5 1638.7,233.4 1639.5,233.4 1640.4,233.4 1641.2,233.4 1642.0,233.4 1642.9,233.4 1643.7,233.4 1644.6,233.3 1645.4,233.3 1646.2,233.3 1647.1,233.3 1647.9,233.3 1648.7,233.3 1649.6,233.3 1650.4,233.2 1651.2,233.2 1652.1,233.2 1652.9,233.2 1653.8,233.2 1654.6,233.2 1655.4,233.2 1656.3,233.2 1657.1,233.1 1657.9,233.1 1658.8,233.1 1659.6,233.1 1660.4,233.1 1661.3,233.1 1662.1,233.1 1663.0,233.1 1663.8,233.0 1664.6,233.0 1665.5,233.0 1666.3,233.0 1667.1,233.0 1668.0,233.0 1668.8,233.0 1669.6,233.0 1670.5,233.0 1671.3,232.9 1672.2,232.9 1673.0,232.9 1673.8,232.9 1674.7,232.9 1675.5,232.9 1676.3,232.9 1677.2,232.9 1678.0,232.9 1678.8,232.8 1679.7,232.8 1680.5,232.8 1681.4,232.8 1682.2,232.8 1683.0,232.8 1683.9,232.8 1684.7,232.8 1685.5,232.8 1686.4,232.8 1687.2,232.7 1688.0,232.7 1688.9,232.7 1689.7,232.7 1690.6,232.7 1691.4,232.7 1692.2,232.7 1693.1,232.7 1693.9,232.7 1694.7,232.7 1695.6,232.6 1696.4,232.6 1697.2,232.6 1698.1,232.6 1698.9,232.6 1699.8,232.6 1700.6,232.6 1701.4,232.6 1702.3,232.6 1703.1,232.6 1703.9,232.6 1704.8,232.6 1705.6,232.5 1706.4,232.5 1707.3,232.5 1708.1,232.5 1709.0,232.5 1709.8,232.5 1710.6,232.5 1711.5,232.5 1712.3,232.5 1713.1,232.5 1714.0,232.5 1714.8,232.5 1715.6,232.4 1716.5,232.4 1717.3,232.4 1718.2,232.4 1719.0,232.4 1719.8,232.4 1720.7,232.4 1721.5,232.4 1722.3,232.4 1723.2,232.4 1724.0,232.4 1724.8,232.4 1725.7,232.4 1726.5,232.3 1727.4,232.3 1728.2,232.3 1729.0,232.3 1729.9,232.3 1730.7,232.3 1731.5,232.3 1732.4,232.3 1733.2,232.3 1734.0,232.3 1734.9,232.3 1735.7,232.3 1736.6,232.3 1737.4,232.3 1738.2,232.2 1739.1,232.2 1739.9,232.2 1740.7,232.2 1741.6,232.2 1742.4,232.2 1743.2,232.2 1744.1,232.2 1744.9,232.2 1745.8,232.2 1746.6,232.2 1747.4,232.2 1748.3,232.2 1749.1,232.2 1749.9,232.2 1750.8,232.2 1751.6,232.1 1752.4,232.1 1753.3,232.1 1754.1,232.1 1755.0,232.1 1755.8,232.1 1756.6,232.1 1757.5,232.1 1758.3,232.1 1759.1,232.1 1760.0,232.1 1760.8,232.1 1761.6,232.1 1762.5,232.1 1763.3,232.1 1764.2,232.1 1765.0,232.1 1765.8,232.0 1766.7,232.0 1767.5,232.0 1768.3,232.0 1769.2,232.0 1770.0,232.0 1770.8,232.0 1771.7,232.0 1772.5,232.0 1773.4,232.0 1774.2,232.0 1775.0,232.0 1775.9,232.0 1776.7,232.0 1777.5,232.0 1778.4,232.0 1779.2,232.0 1780.0,232.0 1780.9,232.0 1781.7,231.9 1782.6,231.9 1783.4,231.9 1784.2,231.9 1785.1,231.9 1785.9,231.9 1786.7,231.9 1787.6,231.9 1788.4,231.9 1789.2,231.9 1790.1,231.9 1790.9,231.9 1791.8,231.9 1792.6,231.9 1793.4,231.9 1794.3,231.9 1795.1,231.9 1795.9,231.9 1796.8,231.9 1797.6,231.9 1798.5,231.9 1799.3,231.8 1800.1,231.8 1801.0,231.8 1801.8,231.8 1802.6,231.8 1803.5,231.8 1804.3,231.8 1805.1,231.8 1806.0,231.8 1806.8,231.8 1807.7,231.8 1808.5,231.8 1809.3,231.8 1810.2,231.8 1811.0,231.8 1811.8,231.8 1812.7,231.8 1813.5,231.8 1814.3,231.8 1815.2,231.8 1816.0,231.8 1816.9,231.8 1817.7,231.8 1818.5,231.7 1819.4,231.7 1820.2,231.7 1821.0,231.7 1821.9,231.7 1822.7,231.7 1823.5,231.7 1824.4,231.7 1825.2,231.7 1826.1,231.7 1826.9,231.7 1827.7,231.7 1828.6,231.7 1829.4,231.7 1830.2,231.7 1831.1,231.7 1831.9,231.7 1832.7,231.7 1833.6,231.7 1834.4,231.7 1835.3,231.7 1836.1,231.7 1836.9,231.7 1837.8,231.7 1838.6,231.7 1839.4,231.7 1840.3,231.6 1841.1,231.6 1841.9,231.6 1842.8,231.6 1843.6,231.6 1844.5,231.6 1845.3,231.6 1846.1,231.6 1847.0,231.6 1847.8,231.6 1848.6,231.6 1849.5,231.6 1850.3,231.6 1851.1,231.6 1852.0,231.6 1852.8,231.6 1853.7,231.6 1854.5,231.6 1855.3,231.6 1856.2,231.6 1857.0,231.6 1857.8,231.6 1858.7,231.6 1859.5,231.6 1860.3,231.6 1861.2,231.6 1862.0,231.6 1862.9,231.6 1863.7,231.6 1864.5,231.6 1865.4,231.5 1866.2,231.5 1867.0,231.5 1867.9,231.5 1868.7,231.5 1869.5,231.5 1870.4,231.5 1871.2,231.5 1872.1,231.5 1872.9,231.5 1873.7,231.5 1874.6,231.5 1875.4,231.5 1876.2,231.5 1877.1,231.5 1877.9,231.5 1878.7,231.5 1879.6,231.5 1880.4,231.5 1881.3,231.5 1882.1,231.5 1882.9,231.5 1883.8,231.5 1884.6,231.5 1885.4,231.5 1886.3,231.5 1887.1,231.5 1887.9,231.5 1888.8,231.5 1889.6,231.5 1890.5,231.5 1891.3,231.5 1892.1,231.5 1893.0,231.5 1893.8,231.5 1894.6,231.4 1895.5,231.4 1896.3,231.4 1897.1,231.4 1898.0,231.4 1898.8,231.4 1899.7,231.4 1900.5,231.4 1901.3,231.4 1902.2,231.4 1903.0,231.4 1903.8,231.4 1904.7,231.4 1905.5,231.4 1906.3,231.4 1907.2,231.4 1908.0,231.4 1908.9,231.4 1909.7,231.4 1910.5,231.4 1911.4,231.4 1912.2,231.4 1913.0,231.4 1913.9,231.4 1914.7,231.4 1915.5,231.4 1916.4,231.4 1917.2,231.4 1918.1,231.4 1918.9,231.4 1919.7,231.4 1920.6,231.4 1921.4,231.4 1922.2,231.4 1923.1,231.4 1923.9,231.4 1924.7,231.4 1925.6,231.4 1926.4,231.4 1927.3,231.4 1928.1,231.3 1928.9,231.3 1929.8,231.3 1930.6,231.3 1931.4,231.3 1932.3,231.3 1933.1,231.3 1933.9,231.3 1934.8,231.3 1935.6,231.3 1936.5,231.3 1937.3,231.3 1938.1,231.3 1939.0,231.3 1939.8,231.3 1940.6,231.3 1941.5,231.3 1942.3,231.3 1943.1,231.3 1944.0,231.3 1944.8,231.3 1945.7,231.3 1946.5,231.3 1947.3,231.3 1948.2,231.3 1949.0,231.3 1949.8,231.3 1950.7,231.3 1951.5,231.3 1952.3,231.3 1953.2,231.3 1954.0,231.3 1954.9,231.3 1955.7,231.3 1956.5,231.3 1957.4,231.3 1958.2,231.3 1959.0,231.3 1959.9,231.3 1960.7,231.3 1961.5,231.3 1962.4,231.3 1963.2,231.3 1964.1,231.3 1964.9,231.3 1965.7,231.3 1966.6,231.3 1967.4,231.3 1968.2,231.3 1969.1,231.2 1969.9,231.2 1970.7,231.2 1971.6,231.2 1972.4,231.2 1973.3,231.2 1974.1,231.2 1974.9,231.2 1975.8,231.2 1976.6,231.2 1977.4,231.2 1978.3,231.2 1979.1,231.2 1979.9,231.2 1980.8,231.2 1981.6,231.2 1982.5,231.2 1983.3,231.2 1984.1,231.2 1985.0,231.2 1985.8,231.2 1986.6,231.2 1987.5,231.2 1988.3,231.2 1989.1,231.2 1990.0,231.2 1990.8,231.2 1991.7,231.2 1992.5,231.2 1993.3,231.2 1994.2,231.2 1995.0,231.2 1995.8,231.2 1996.7,231.2 1997.5,231.2 1998.3,231.2 1999.2,231.2 2000.0,231.2 2000.9,231.2 2001.7,231.2 2002.5,231.2 2003.4,231.2 2004.2,231.2 2005.0,231.2 2005.9,231.2 2006.7,231.2"/>
<polyline fill="none" stroke="#22e0e6" stroke-width="4.5" stroke-linejoin="round" points="581.5,230.6 582.3,230.6 583.2,230.6 584.0,230.6 584.8,230.6 585.7,230.6 586.5,230.6 587.3,230.6 588.2,230.6 589.0,230.6 589.9,230.6 590.7,230.6 591.5,230.6 592.4,230.6 593.2,230.6 594.0,230.6 594.9,230.6 595.7,230.6 596.5,230.6 597.4,230.6 598.2,230.6 599.1,230.6 599.9,230.6 600.7,230.6 601.6,230.6 602.4,230.6 603.2,230.6 604.1,230.6 604.9,230.6 605.7,230.6 606.6,230.6 607.4,230.6 608.3,230.6 609.1,230.6 609.9,230.6 610.8,230.6 611.6,230.6 612.4,230.6 613.3,230.6 614.1,230.6 614.9,230.6 615.8,230.6 616.6,230.6 617.5,230.6 618.3,230.6 619.1,230.6 620.0,230.6 620.8,230.6 621.6,230.6 622.5,230.6 623.3,230.6 624.1,230.6 625.0,230.6 625.8,230.6 626.7,230.6 627.5,230.6 628.3,230.6 629.2,230.6 630.0,230.6 630.8,230.6 631.7,230.6 632.5,230.6 633.3,230.6 634.2,230.6 635.0,230.6 635.9,230.6 636.7,230.6 637.5,230.6 638.4,230.6 639.2,230.6 640.0,230.6 640.9,230.6 641.7,230.6 642.5,230.6 643.4,230.6 644.2,230.6 645.1,230.6 645.9,230.6 646.7,230.6 647.6,230.6 648.4,230.6 649.2,230.6 650.1,230.6 650.9,230.6 651.7,230.6 652.6,230.6 653.4,230.6 654.3,230.6 655.1,230.6 655.9,230.6 656.8,230.6 657.6,230.6 658.4,230.6 659.3,230.6 660.1,230.6 660.9,230.6 661.8,230.6 662.6,230.6 663.5,230.6 664.3,230.6 665.1,230.6 666.0,230.6 666.8,230.6 667.6,230.6 668.5,230.6 669.3,230.6 670.1,230.6 671.0,230.6 671.8,230.6 672.7,230.6 673.5,230.6 674.3,230.6 675.2,230.6 676.0,230.6 676.8,230.6 677.7,230.6 678.5,230.6 679.3,230.6 680.2,230.6 681.0,230.6 681.9,230.6 682.7,230.6 683.5,230.6 684.4,230.6 685.2,230.6 686.0,230.6 686.9,230.6 687.7,230.6 688.5,230.6 689.4,230.6 690.2,230.6 691.1,230.6 691.9,230.6 692.7,230.6 693.6,230.6 694.4,230.6 695.2,230.6 696.1,230.6 696.9,230.6 697.7,230.6 698.6,230.6 699.4,230.6 700.3,230.6 701.1,230.6 701.9,230.6 702.8,230.6 703.6,230.6 704.4,230.6 705.3,230.6 706.1,230.6 706.9,230.6 707.8,230.6 708.6,230.6 709.5,230.6 710.3,230.6 711.1,230.6 712.0,230.6 712.8,230.6 713.6,230.6 714.5,230.6 715.3,230.6 716.1,230.6 717.0,230.6 717.8,230.6 718.7,230.6 719.5,230.6 720.3,230.6 721.2,230.6 722.0,230.6 722.8,230.6 723.7,230.6 724.5,230.6 725.3,230.7 726.2,230.7 727.0,230.7 727.9,230.7 728.7,230.7 729.5,230.7 730.4,230.7 731.2,230.7 732.0,230.7 732.9,230.7 733.7,230.7 734.5,230.7 735.4,230.7 736.2,230.7 737.1,230.7 737.9,230.7 738.7,230.7 739.6,230.7 740.4,230.7 741.2,230.7 742.1,230.7 742.9,230.7 743.7,230.7 744.6,230.7 745.4,230.7 746.3,230.7 747.1,230.7 747.9,230.7 748.8,230.7 749.6,230.7 750.4,230.7 751.3,230.7 752.1,230.7 753.0,230.7 753.8,230.7 754.6,230.7 755.5,230.7 756.3,230.7 757.1,230.7 758.0,230.7 758.8,230.7 759.6,230.7 760.5,230.7 761.3,230.7 762.2,230.7 763.0,230.7 763.8,230.7 764.7,230.7 765.5,230.7 766.3,230.7 767.2,230.7 768.0,230.7 768.8,230.7 769.7,230.7 770.5,230.7 771.4,230.7 772.2,230.7 773.0,230.7 773.9,230.7 774.7,230.7 775.5,230.7 776.4,230.7 777.2,230.7 778.0,230.7 778.9,230.7 779.7,230.7 780.6,230.7 781.4,230.7 782.2,230.7 783.1,230.7 783.9,230.7 784.7,230.7 785.6,230.7 786.4,230.7 787.2,230.7 788.1,230.7 788.9,230.7 789.8,230.7 790.6,230.7 791.4,230.7 792.3,230.7 793.1,230.7 793.9,230.7 794.8,230.7 795.6,230.7 796.4,230.7 797.3,230.7 798.1,230.7 799.0,230.7 799.8,230.7 800.6,230.7 801.5,230.7 802.3,230.7 803.1,230.7 804.0,230.7 804.8,230.7 805.6,230.7 806.5,230.7 807.3,230.7 808.2,230.7 809.0,230.7 809.8,230.7 810.7,230.7 811.5,230.7 812.3,230.7 813.2,230.7 814.0,230.7 814.8,230.7 815.7,230.7 816.5,230.7 817.4,230.7 818.2,230.7 819.0,230.7 819.9,230.7 820.7,230.7 821.5,230.7 822.4,230.7 823.2,230.7 824.0,230.7 824.9,230.7 825.7,230.7 826.6,230.7 827.4,230.7 828.2,230.7 829.1,230.7 829.9,230.7 830.7,230.7 831.6,230.7 832.4,230.7 833.2,230.7 834.1,230.7 834.9,230.7 835.8,230.7 836.6,230.7 837.4,230.7 838.3,230.7 839.1,230.7 839.9,230.7 840.8,230.7 841.6,230.7 842.4,230.7 843.3,230.7 844.1,230.7 845.0,230.7 845.8,230.7 846.6,230.7 847.5,230.7 848.3,230.7 849.1,230.7 850.0,230.7 850.8,230.7 851.6,230.8 852.5,230.8 853.3,230.8 854.2,230.8 855.0,230.8 855.8,230.8 856.7,230.8 857.5,230.8 858.3,230.8 859.2,230.8 860.0,230.8 860.8,230.8 861.7,230.8 862.5,230.8 863.4,230.8 864.2,230.8 865.0,230.8 865.9,230.8 866.7,230.8 867.5,230.8 868.4,230.8 869.2,230.8 870.0,230.8 870.9,230.8 871.7,230.8 872.6,230.8 873.4,230.8 874.2,230.8 875.1,230.8 875.9,230.8 876.7,230.8 877.6,230.8 878.4,230.8 879.2,230.8 880.1,230.8 880.9,230.8 881.8,230.8 882.6,230.8 883.4,230.8 884.3,230.8 885.1,230.8 885.9,230.8 886.8,230.8 887.6,230.8 888.4,230.8 889.3,230.8 890.1,230.8 891.0,230.8 891.8,230.8 892.6,230.8 893.5,230.8 894.3,230.8 895.1,230.8 896.0,230.8 896.8,230.8 897.6,230.8 898.5,230.8 899.3,230.8 900.2,230.8 901.0,230.8 901.8,230.8 902.7,230.8 903.5,230.8 904.3,230.8 905.2,230.8 906.0,230.8 906.8,230.8 907.7,230.8 908.5,230.8 909.4,230.8 910.2,230.8 911.0,230.8 911.9,230.8 912.7,230.8 913.5,230.8 914.4,230.8 915.2,230.8 916.0,230.8 916.9,230.8 917.7,230.8 918.6,230.9 919.4,230.9 920.2,230.9 921.1,230.9 921.9,230.9 922.7,230.9 923.6,230.9 924.4,230.9 925.2,230.9 926.1,230.9 926.9,230.9 927.8,230.9 928.6,230.9 929.4,230.9 930.3,230.9 931.1,230.9 931.9,230.9 932.8,230.9 933.6,230.9 934.4,230.9 935.3,230.9 936.1,230.9 937.0,230.9 937.8,230.9 938.6,230.9 939.5,230.9 940.3,230.9 941.1,230.9 942.0,230.9 942.8,230.9 943.6,230.9 944.5,230.9 945.3,230.9 946.2,230.9 947.0,230.9 947.8,230.9 948.7,230.9 949.5,230.9 950.3,230.9 951.2,230.9 952.0,230.9 952.8,230.9 953.7,230.9 954.5,230.9 955.4,230.9 956.2,230.9 957.0,230.9 957.9,230.9 958.7,230.9 959.5,230.9 960.4,230.9 961.2,231.0 962.1,231.0 962.9,231.0 963.7,231.0 964.6,231.0 965.4,231.0 966.2,231.0 967.1,231.0 967.9,231.0 968.7,231.0 969.6,231.0 970.4,231.0 971.3,231.0 972.1,231.0 972.9,231.0 973.8,231.0 974.6,231.0 975.4,231.0 976.3,231.0 977.1,231.0 977.9,231.0 978.8,231.0 979.6,231.0 980.5,231.0 981.3,231.0 982.1,231.0 983.0,231.0 983.8,231.0 984.6,231.0 985.5,231.0 986.3,231.0 987.1,231.0 988.0,231.0 988.8,231.0 989.7,231.0 990.5,231.0 991.3,231.0 992.2,231.1 993.0,231.1 993.8,231.1 994.7,231.1 995.5,231.1 996.3,231.1 997.2,231.1 998.0,231.1 998.9,231.1 999.7,231.1 1000.5,231.1 1001.4,231.1 1002.2,231.1 1003.0,231.1 1003.9,231.1 1004.7,231.1 1005.5,231.1 1006.4,231.1 1007.2,231.1 1008.1,231.1 1008.9,231.1 1009.7,231.1 1010.6,231.1 1011.4,231.1 1012.2,231.1 1013.1,231.1 1013.9,231.1 1014.7,231.2 1015.6,231.2 1016.4,231.2 1017.3,231.2 1018.1,231.2 1018.9,231.2 1019.8,231.2 1020.6,231.2 1021.4,231.2 1022.3,231.2 1023.1,231.2 1023.9,231.2 1024.8,231.2 1025.6,231.2 1026.5,231.2 1027.3,231.2 1028.1,231.2 1029.0,231.2 1029.8,231.2 1030.6,231.2 1031.5,231.2 1032.3,231.2 1033.1,231.3 1034.0,231.3 1034.8,231.3 1035.7,231.3 1036.5,231.3 1037.3,231.3 1038.2,231.3 1039.0,231.3 1039.8,231.3 1040.7,231.3 1041.5,231.3 1042.3,231.3 1043.2,231.3 1044.0,231.3 1044.9,231.3 1045.7,231.3 1046.5,231.3 1047.4,231.3 1048.2,231.4 1049.0,231.4 1049.9,231.4 1050.7,231.4 1051.5,231.4 1052.4,231.4 1053.2,231.4 1054.1,231.4 1054.9,231.4 1055.7,231.4 1056.6,231.4 1057.4,231.4 1058.2,231.4 1059.1,231.4 1059.9,231.5 1060.7,231.5 1061.6,231.5 1062.4,231.5 1063.3,231.5 1064.1,231.5 1064.9,231.5 1065.8,231.5 1066.6,231.5 1067.4,231.5 1068.3,231.5 1069.1,231.5 1069.9,231.5 1070.8,231.6 1071.6,231.6 1072.5,231.6 1073.3,231.6 1074.1,231.6 1075.0,231.6 1075.8,231.6 1076.6,231.6 1077.5,231.6 1078.3,231.6 1079.1,231.6 1080.0,231.7 1080.8,231.7 1081.7,231.7 1082.5,231.7 1083.3,231.7 1084.2,231.7 1085.0,231.7 1085.8,231.7 1086.7,231.7 1087.5,231.8 1088.3,231.8 1089.2,231.8 1090.0,231.8 1090.9,231.8 1091.7,231.8 1092.5,231.8 1093.4,231.8 1094.2,231.8 1095.0,231.9 1095.9,231.9 1096.7,231.9 1097.5,231.9 1098.4,231.9 1099.2,231.9 1100.1,231.9 1100.9,232.0 1101.7,232.0 1102.6,232.0 1103.4,232.0 1104.2,232.0 1105.1,232.0 1105.9,232.0 1106.7,232.1 1107.6,232.1 1108.4,232.1 1109.3,232.1 1110.1,232.1 1110.9,232.1 1111.8,232.2 1112.6,232.2 1113.4,232.2 1114.3,232.2 1115.1,232.2 1115.9,232.2 1116.8,232.3 1117.6,232.3 1118.5,232.3 1119.3,232.3 1120.1,232.3 1121.0,232.4 1121.8,232.4 1122.6,232.4 1123.5,232.4 1124.3,232.5 1125.1,232.5 1126.0,232.5 1126.8,232.5 1127.7,232.5 1128.5,232.6 1129.3,232.6 1130.2,232.6 1131.0,232.7 1131.8,232.7 1132.7,232.7 1133.5,232.7 1134.3,232.8 1135.2,232.8 1136.0,232.8 1136.9,232.8 1137.7,232.9 1138.5,232.9 1139.4,232.9 1140.2,233.0 1141.0,233.0 1141.9,233.0 1142.7,233.1 1143.5,233.1 1144.4,233.1 1145.2,233.2 1146.1,233.2 1146.9,233.3 1147.7,233.3 1148.6,233.3 1149.4,233.4 1150.2,233.4 1151.1,233.5 1151.9,233.5 1152.7,233.5 1153.6,233.6 1154.4,233.6 1155.3,233.7 1156.1,233.7 1156.9,233.8 1157.8,233.8 1158.6,233.9 1159.4,233.9 1160.3,234.0 1161.1,234.0 1161.9,234.1 1162.8,234.2 1163.6,234.2 1164.5,234.3 1165.3,234.3 1166.1,234.4 1167.0,234.5 1167.8,234.5 1168.6,234.6 1169.5,234.7 1170.3,234.8 1171.2,234.8 1172.0,234.9 1172.8,235.0 1173.7,235.1 1174.5,235.2 1175.3,235.3 1176.2,235.4 1177.0,235.4 1177.8,235.5 1178.7,235.6 1179.5,235.7 1180.4,235.8 1181.2,236.0 1182.0,236.1 1182.9,236.2 1183.7,236.3 1184.5,236.4 1185.4,236.6 1186.2,236.7 1187.0,236.8 1187.9,237.0 1188.7,237.1 1189.6,237.3 1190.4,237.4 1191.2,237.6 1192.1,237.8 1192.9,237.9 1193.7,238.1 1194.6,238.3 1195.4,238.5 1196.2,238.7 1197.1,239.0 1197.9,239.2 1198.8,239.5 1199.6,239.7 1200.4,240.0 1201.3,240.3 1202.1,240.6 1202.9,240.9 1203.8,241.3 1204.6,241.7 1205.4,242.1 1206.3,242.6 1207.1,243.1 1208.0,243.6 1208.8,244.2 1209.6,244.9 1210.5,245.6 1211.3,246.5 1212.1,247.4 1213.0,248.4 1213.8,249.5 1214.6,250.8 1215.5,252.2 1216.3,253.7 1217.2,255.5 1218.0,257.4 1218.8,259.6 1219.7,262.0 1220.5,264.7 1221.3,267.6 1222.2,270.9 1223.0,274.5 1223.8,278.5 1224.7,282.8 1225.5,287.5 1226.4,292.7 1227.2,298.3 1228.0,304.4 1228.9,310.9 1229.7,317.9 1230.5,325.3 1231.4,333.3 1232.2,341.7 1233.0,350.6 1233.9,360.0 1234.7,369.7 1235.6,379.9 1236.4,390.4 1237.2,401.2 1238.1,412.3 1238.9,423.6 1239.7,435.1 1240.6,446.5 1241.4,458.0 1242.2,469.3 1243.1,480.4 1243.9,491.2 1244.8,501.5 1245.6,511.2 1246.4,520.3 1247.3,528.6 1248.1,535.9 1248.9,542.2 1249.8,547.3 1250.6,551.2 1251.4,553.8 1252.3,555.0 1253.1,554.8 1254.0,553.3 1254.8,550.5 1255.6,546.4 1256.5,541.1 1257.3,534.7 1258.1,527.4 1259.0,519.2 1259.8,510.3 1260.6,500.7 1261.5,490.7 1262.3,480.3 1263.2,469.7 1264.0,458.9 1264.8,448.0 1265.7,437.2 1266.5,426.5 1267.3,416.0 1268.2,405.7 1269.0,395.7 1269.8,386.1 1270.7,376.9 1271.5,368.1 1272.4,359.7 1273.2,351.8 1274.0,344.4 1274.9,337.4 1275.7,331.0 1276.5,325.0 1277.4,319.5 1278.2,314.5 1279.0,309.9 1279.9,305.7 1280.7,301.9 1281.6,298.5 1282.4,295.5 1283.2,292.8 1284.1,290.4 1284.9,288.3 1285.7,286.5 1286.6,284.9 1287.4,283.5 1288.2,282.3 1289.1,281.2 1289.9,280.4 1290.8,279.6 1291.6,279.0 1292.4,278.5 1293.3,278.1 1294.1,277.8 1294.9,277.6 1295.8,277.4 1296.6,277.3 1297.4,277.3 1298.3,277.3 1299.1,277.5 1300.0,277.6 1300.8,277.9 1301.6,278.2 1302.5,278.7 1303.3,279.2 1304.1,279.8 1305.0,280.6 1305.8,281.5 1306.6,282.6 1307.5,283.8 1308.3,285.3 1309.2,286.9 1310.0,288.9 1310.8,291.0 1311.7,293.5 1312.5,296.3 1313.3,299.4 1314.2,302.9 1315.0,306.8 1315.8,311.1 1316.7,315.9 1317.5,321.1 1318.4,326.7 1319.2,332.8 1320.0,339.4 1320.9,346.5 1321.7,354.1 1322.5,362.1 1323.4,370.6 1324.2,379.5 1325.0,388.9 1325.9,398.6 1326.7,408.7 1327.6,419.1 1328.4,429.7 1329.2,440.4 1330.1,451.3 1330.9,462.1 1331.7,472.9 1332.6,483.4 1333.4,493.7 1334.2,503.6 1335.1,513.0 1335.9,521.7 1336.8,529.7 1337.6,536.7 1338.4,542.8 1339.3,547.7 1340.1,551.5 1340.9,553.9 1341.8,555.0 1342.6,554.7 1343.4,553.1 1344.3,550.1 1345.1,545.9 1346.0,540.4 1346.8,533.8 1347.6,526.2 1348.5,517.7 1349.3,508.4 1350.1,498.4 1351.0,488.0 1351.8,477.1 1352.6,465.9 1353.5,454.5 1354.3,443.1 1355.2,431.6 1356.0,420.2 1356.8,409.0 1357.7,398.0 1358.5,387.2 1359.3,376.8 1360.2,366.8 1361.0,357.1 1361.8,347.9 1362.7,339.1 1363.5,330.9 1364.4,323.0 1365.2,315.7 1366.0,308.9 1366.9,302.5 1367.7,296.6 1368.5,291.1 1369.4,286.1 1370.2,281.5 1371.0,277.2 1371.9,273.4 1372.7,269.9 1373.6,266.7 1374.4,263.8 1375.2,261.3 1376.1,258.9 1376.9,256.8 1377.7,254.9 1378.6,253.2 1379.4,251.7 1380.3,250.4 1381.1,249.2 1381.9,248.1 1382.8,247.1 1383.6,246.2 1384.4,245.4 1385.3,244.7 1386.1,244.0 1386.9,243.5 1387.8,242.9 1388.6,242.4 1389.5,242.0 1390.3,241.6 1391.1,241.2 1392.0,240.8 1392.8,240.5 1393.6,240.2 1394.5,239.9 1395.3,239.6 1396.1,239.4 1397.0,239.1 1397.8,238.9 1398.7,238.7 1399.5,238.5 1400.3,238.3 1401.2,238.1 1402.0,237.9 1402.8,237.7 1403.7,237.5 1404.5,237.4 1405.3,237.2 1406.2,237.1 1407.0,236.9 1407.9,236.8 1408.7,236.7 1409.5,236.5 1410.4,236.4 1411.2,236.3 1412.0,236.2 1412.9,236.0 1413.7,235.9 1414.5,235.8 1415.4,235.7 1416.2,235.6 1417.1,235.5 1417.9,235.4 1418.7,235.3 1419.6,235.2 1420.4,235.1 1421.2,235.1 1422.1,235.0 1422.9,234.9 1423.7,234.8 1424.6,234.7 1425.4,234.7 1426.3,234.6 1427.1,234.5 1427.9,234.5 1428.8,234.4 1429.6,234.3 1430.4,234.3 1431.3,234.2 1432.1,234.1 1432.9,234.1 1433.8,234.0 1434.6,234.0 1435.5,233.9 1436.3,233.9 1437.1,233.8 1438.0,233.8 1438.8,233.7 1439.6,233.7 1440.5,233.6 1441.3,233.6 1442.1,233.5 1443.0,233.5 1443.8,233.4 1444.7,233.4 1445.5,233.4 1446.3,233.3 1447.2,233.3 1448.0,233.2 1448.8,233.2 1449.7,233.2 1450.5,233.1 1451.3,233.1 1452.2,233.1 1453.0,233.0 1453.9,233.0 1454.7,233.0 1455.5,232.9 1456.4,232.9 1457.2,232.9 1458.0,232.8 1458.9,232.8 1459.7,232.8 1460.5,232.8 1461.4,232.7 1462.2,232.7 1463.1,232.7 1463.9,232.6 1464.7,232.6 1465.6,232.6 1466.4,232.6 1467.2,232.5 1468.1,232.5 1468.9,232.5 1469.7,232.5 1470.6,232.4 1471.4,232.4 1472.3,232.4 1473.1,232.4 1473.9,232.4 1474.8,232.3 1475.6,232.3 1476.4,232.3 1477.3,232.3 1478.1,232.3 1478.9,232.2 1479.8,232.2 1480.6,232.2 1481.5,232.2 1482.3,232.2 1483.1,232.2 1484.0,232.1 1484.8,232.1 1485.6,232.1 1486.5,232.1 1487.3,232.1 1488.1,232.1 1489.0,232.0 1489.8,232.0 1490.7,232.0 1491.5,232.0 1492.3,232.0 1493.2,232.0 1494.0,232.0 1494.8,231.9 1495.7,231.9 1496.5,231.9 1497.3,231.9 1498.2,231.9 1499.0,231.9 1499.9,231.9 1500.7,231.8 1501.5,231.8 1502.4,231.8 1503.2,231.8 1504.0,231.8 1504.9,231.8 1505.7,231.8 1506.5,231.8 1507.4,231.7 1508.2,231.7 1509.1,231.7 1509.9,231.7 1510.7,231.7 1511.6,231.7 1512.4,231.7 1513.2,231.7 1514.1,231.7 1514.9,231.7 1515.7,231.6 1516.6,231.6 1517.4,231.6 1518.3,231.6 1519.1,231.6 1519.9,231.6 1520.8,231.6 1521.6,231.6 1522.4,231.6 1523.3,231.6 1524.1,231.6 1524.9,231.5 1525.8,231.5 1526.6,231.5 1527.5,231.5 1528.3,231.5 1529.1,231.5 1530.0,231.5 1530.8,231.5 1531.6,231.5 1532.5,231.5 1533.3,231.5 1534.1,231.5 1535.0,231.4 1535.8,231.4 1536.7,231.4 1537.5,231.4 1538.3,231.4 1539.2,231.4 1540.0,231.4 1540.8,231.4 1541.7,231.4 1542.5,231.4 1543.3,231.4 1544.2,231.4 1545.0,231.4 1545.9,231.4 1546.7,231.4 1547.5,231.3 1548.4,231.3 1549.2,231.3 1550.0,231.3 1550.9,231.3 1551.7,231.3 1552.5,231.3 1553.4,231.3 1554.2,231.3 1555.1,231.3 1555.9,231.3 1556.7,231.3 1557.6,231.3 1558.4,231.3 1559.2,231.3 1560.1,231.3 1560.9,231.3 1561.7,231.3 1562.6,231.2 1563.4,231.2 1564.3,231.2 1565.1,231.2 1565.9,231.2 1566.8,231.2 1567.6,231.2 1568.4,231.2 1569.3,231.2 1570.1,231.2 1570.9,231.2 1571.8,231.2 1572.6,231.2 1573.5,231.2 1574.3,231.2 1575.1,231.2 1576.0,231.2 1576.8,231.2 1577.6,231.2 1578.5,231.2 1579.3,231.2 1580.1,231.1 1581.0,231.1 1581.8,231.1 1582.7,231.1 1583.5,231.1 1584.3,231.1 1585.2,231.1 1586.0,231.1 1586.8,231.1 1587.7,231.1 1588.5,231.1 1589.4,231.1 1590.2,231.1 1591.0,231.1 1591.9,231.1 1592.7,231.1 1593.5,231.1 1594.4,231.1 1595.2,231.1 1596.0,231.1 1596.9,231.1 1597.7,231.1 1598.6,231.1 1599.4,231.1 1600.2,231.1 1601.1,231.1 1601.9,231.1 1602.7,231.1 1603.6,231.0 1604.4,231.0 1605.2,231.0 1606.1,231.0 1606.9,231.0 1607.8,231.0 1608.6,231.0 1609.4,231.0 1610.3,231.0 1611.1,231.0 1611.9,231.0 1612.8,231.0 1613.6,231.0 1614.4,231.0 1615.3,231.0 1616.1,231.0 1617.0,231.0 1617.8,231.0 1618.6,231.0 1619.5,231.0 1620.3,231.0 1621.1,231.0 1622.0,231.0 1622.8,231.0 1623.6,231.0 1624.5,231.0 1625.3,231.0 1626.2,231.0 1627.0,231.0 1627.8,231.0 1628.7,231.0 1629.5,231.0 1630.3,231.0 1631.2,231.0 1632.0,231.0 1632.8,231.0 1633.7,230.9 1634.5,230.9 1635.4,230.9 1636.2,230.9 1637.0,230.9 1637.9,230.9 1638.7,230.9 1639.5,230.9 1640.4,230.9 1641.2,230.9 1642.0,230.9 1642.9,230.9 1643.7,230.9 1644.6,230.9 1645.4,230.9 1646.2,230.9 1647.1,230.9 1647.9,230.9 1648.7,230.9 1649.6,230.9 1650.4,230.9 1651.2,230.9 1652.1,230.9 1652.9,230.9 1653.8,230.9 1654.6,230.9 1655.4,230.9 1656.3,230.9 1657.1,230.9 1657.9,230.9 1658.8,230.9 1659.6,230.9 1660.4,230.9 1661.3,230.9 1662.1,230.9 1663.0,230.9 1663.8,230.9 1664.6,230.9 1665.5,230.9 1666.3,230.9 1667.1,230.9 1668.0,230.9 1668.8,230.9 1669.6,230.9 1670.5,230.9 1671.3,230.9 1672.2,230.9 1673.0,230.9 1673.8,230.9 1674.7,230.9 1675.5,230.9 1676.3,230.9 1677.2,230.8 1678.0,230.8 1678.8,230.8 1679.7,230.8 1680.5,230.8 1681.4,230.8 1682.2,230.8 1683.0,230.8 1683.9,230.8 1684.7,230.8 1685.5,230.8 1686.4,230.8 1687.2,230.8 1688.0,230.8 1688.9,230.8 1689.7,230.8 1690.6,230.8 1691.4,230.8 1692.2,230.8 1693.1,230.8 1693.9,230.8 1694.7,230.8 1695.6,230.8 1696.4,230.8 1697.2,230.8 1698.1,230.8 1698.9,230.8 1699.8,230.8 1700.6,230.8 1701.4,230.8 1702.3,230.8 1703.1,230.8 1703.9,230.8 1704.8,230.8 1705.6,230.8 1706.4,230.8 1707.3,230.8 1708.1,230.8 1709.0,230.8 1709.8,230.8 1710.6,230.8 1711.5,230.8 1712.3,230.8 1713.1,230.8 1714.0,230.8 1714.8,230.8 1715.6,230.8 1716.5,230.8 1717.3,230.8 1718.2,230.8 1719.0,230.8 1719.8,230.8 1720.7,230.8 1721.5,230.8 1722.3,230.8 1723.2,230.8 1724.0,230.8 1724.8,230.8 1725.7,230.8 1726.5,230.8 1727.4,230.8 1728.2,230.8 1729.0,230.8 1729.9,230.8 1730.7,230.8 1731.5,230.8 1732.4,230.8 1733.2,230.8 1734.0,230.8 1734.9,230.8 1735.7,230.8 1736.6,230.8 1737.4,230.8 1738.2,230.8 1739.1,230.8 1739.9,230.8 1740.7,230.8 1741.6,230.8 1742.4,230.8 1743.2,230.8 1744.1,230.7 1744.9,230.7 1745.8,230.7 1746.6,230.7 1747.4,230.7 1748.3,230.7 1749.1,230.7 1749.9,230.7 1750.8,230.7 1751.6,230.7 1752.4,230.7 1753.3,230.7 1754.1,230.7 1755.0,230.7 1755.8,230.7 1756.6,230.7 1757.5,230.7 1758.3,230.7 1759.1,230.7 1760.0,230.7 1760.8,230.7 1761.6,230.7 1762.5,230.7 1763.3,230.7 1764.2,230.7 1765.0,230.7 1765.8,230.7 1766.7,230.7 1767.5,230.7 1768.3,230.7 1769.2,230.7 1770.0,230.7 1770.8,230.7 1771.7,230.7 1772.5,230.7 1773.4,230.7 1774.2,230.7 1775.0,230.7 1775.9,230.7 1776.7,230.7 1777.5,230.7 1778.4,230.7 1779.2,230.7 1780.0,230.7 1780.9,230.7 1781.7,230.7 1782.6,230.7 1783.4,230.7 1784.2,230.7 1785.1,230.7 1785.9,230.7 1786.7,230.7 1787.6,230.7 1788.4,230.7 1789.2,230.7 1790.1,230.7 1790.9,230.7 1791.8,230.7 1792.6,230.7 1793.4,230.7 1794.3,230.7 1795.1,230.7 1795.9,230.7 1796.8,230.7 1797.6,230.7 1798.5,230.7 1799.3,230.7 1800.1,230.7 1801.0,230.7 1801.8,230.7 1802.6,230.7 1803.5,230.7 1804.3,230.7 1805.1,230.7 1806.0,230.7 1806.8,230.7 1807.7,230.7 1808.5,230.7 1809.3,230.7 1810.2,230.7 1811.0,230.7 1811.8,230.7 1812.7,230.7 1813.5,230.7 1814.3,230.7 1815.2,230.7 1816.0,230.7 1816.9,230.7 1817.7,230.7 1818.5,230.7 1819.4,230.7 1820.2,230.7 1821.0,230.7 1821.9,230.7 1822.7,230.7 1823.5,230.7 1824.4,230.7 1825.2,230.7 1826.1,230.7 1826.9,230.7 1827.7,230.7 1828.6,230.7 1829.4,230.7 1830.2,230.7 1831.1,230.7 1831.9,230.7 1832.7,230.7 1833.6,230.7 1834.4,230.7 1835.3,230.7 1836.1,230.7 1836.9,230.7 1837.8,230.7 1838.6,230.7 1839.4,230.7 1840.3,230.7 1841.1,230.7 1841.9,230.7 1842.8,230.7 1843.6,230.7 1844.5,230.7 1845.3,230.7 1846.1,230.7 1847.0,230.7 1847.8,230.7 1848.6,230.7 1849.5,230.7 1850.3,230.7 1851.1,230.7 1852.0,230.7 1852.8,230.7 1853.7,230.7 1854.5,230.7 1855.3,230.7 1856.2,230.7 1857.0,230.7 1857.8,230.7 1858.7,230.7 1859.5,230.7 1860.3,230.7 1861.2,230.7 1862.0,230.7 1862.9,230.7 1863.7,230.7 1864.5,230.7 1865.4,230.7 1866.2,230.7 1867.0,230.7 1867.9,230.7 1868.7,230.7 1869.5,230.7 1870.4,230.6 1871.2,230.6 1872.1,230.6 1872.9,230.6 1873.7,230.6 1874.6,230.6 1875.4,230.6 1876.2,230.6 1877.1,230.6 1877.9,230.6 1878.7,230.6 1879.6,230.6 1880.4,230.6 1881.3,230.6 1882.1,230.6 1882.9,230.6 1883.8,230.6 1884.6,230.6 1885.4,230.6 1886.3,230.6 1887.1,230.6 1887.9,230.6 1888.8,230.6 1889.6,230.6 1890.5,230.6 1891.3,230.6 1892.1,230.6 1893.0,230.6 1893.8,230.6 1894.6,230.6 1895.5,230.6 1896.3,230.6 1897.1,230.6 1898.0,230.6 1898.8,230.6 1899.7,230.6 1900.5,230.6 1901.3,230.6 1902.2,230.6 1903.0,230.6 1903.8,230.6 1904.7,230.6 1905.5,230.6 1906.3,230.6 1907.2,230.6 1908.0,230.6 1908.9,230.6 1909.7,230.6 1910.5,230.6 1911.4,230.6 1912.2,230.6 1913.0,230.6 1913.9,230.6 1914.7,230.6 1915.5,230.6 1916.4,230.6 1917.2,230.6 1918.1,230.6 1918.9,230.6 1919.7,230.6 1920.6,230.6 1921.4,230.6 1922.2,230.6 1923.1,230.6 1923.9,230.6 1924.7,230.6 1925.6,230.6 1926.4,230.6 1927.3,230.6 1928.1,230.6 1928.9,230.6 1929.8,230.6 1930.6,230.6 1931.4,230.6 1932.3,230.6 1933.1,230.6 1933.9,230.6 1934.8,230.6 1935.6,230.6 1936.5,230.6 1937.3,230.6 1938.1,230.6 1939.0,230.6 1939.8,230.6 1940.6,230.6 1941.5,230.6 1942.3,230.6 1943.1,230.6 1944.0,230.6 1944.8,230.6 1945.7,230.6 1946.5,230.6 1947.3,230.6 1948.2,230.6 1949.0,230.6 1949.8,230.6 1950.7,230.6 1951.5,230.6 1952.3,230.6 1953.2,230.6 1954.0,230.6 1954.9,230.6 1955.7,230.6 1956.5,230.6 1957.4,230.6 1958.2,230.6 1959.0,230.6 1959.9,230.6 1960.7,230.6 1961.5,230.6 1962.4,230.6 1963.2,230.6 1964.1,230.6 1964.9,230.6 1965.7,230.6 1966.6,230.6 1967.4,230.6 1968.2,230.6 1969.1,230.6 1969.9,230.6 1970.7,230.6 1971.6,230.6 1972.4,230.6 1973.3,230.6 1974.1,230.6 1974.9,230.6 1975.8,230.6 1976.6,230.6 1977.4,230.6 1978.3,230.6 1979.1,230.6 1979.9,230.6 1980.8,230.6 1981.6,230.6 1982.5,230.6 1983.3,230.6 1984.1,230.6 1985.0,230.6 1985.8,230.6 1986.6,230.6 1987.5,230.6 1988.3,230.6 1989.1,230.6 1990.0,230.6 1990.8,230.6 1991.7,230.6 1992.5,230.6 1993.3,230.6 1994.2,230.6 1995.0,230.6 1995.8,230.6 1996.7,230.6 1997.5,230.6 1998.3,230.6 1999.2,230.6 2000.0,230.6 2000.9,230.6 2001.7,230.6 2002.5,230.6 2003.4,230.6 2004.2,230.6 2005.0,230.6 2005.9,230.6 2006.7,230.6"/>
<g fill="#bfbfd0" stroke="#3434e0" stroke-width="1.20" fill-opacity="0.92" stroke-opacity="0.90">
<circle cx="346.5" cy="231.6" r="9.5"/>
<circle cx="348.5" cy="231.6" r="9.5"/>
<circle cx="350.4" cy="231.6" r="9.5"/>
<circle cx="352.4" cy="231.6" r="9.5"/>
<circle cx="354.4" cy="231.6" r="9.5"/>
<circle cx="356.4" cy="231.6" r="9.5"/>
<circle cx="358.4" cy="231.6" r="9.5"/>
<circle cx="360.4" cy="231.6" r="9.5"/>
<circle cx="362.4" cy="231.7" r="9.5"/>
<circle cx="364.4" cy="231.7" r="9.5"/>
<circle cx="366.4" cy="231.7" r="9.5"/>
<circle cx="368.4" cy="231.7" r="9.5"/>
<circle cx="370.4" cy="231.7" r="9.5"/>
<circle cx="372.3" cy="231.7" r="9.5"/>
<circle cx="374.3" cy="231.7" r="9.5"/>
<circle cx="376.3" cy="231.7" r="9.5"/>
<circle cx="378.3" cy="231.7" r="9.5"/>
<circle cx="380.3" cy="231.7" r="9.5"/>
<circle cx="382.3" cy="231.8" r="9.5"/>
<circle cx="384.3" cy="231.8" r="9.5"/>
<circle cx="386.3" cy="231.8" r="9.5"/>
<circle cx="388.3" cy="231.8" r="9.5"/>
<circle cx="390.3" cy="231.8" r="9.5"/>
<circle cx="392.3" cy="231.8" r="9.5"/>
<circle cx="394.3" cy="231.8" r="9.5"/>
<circle cx="396.2" cy="231.8" r="9.5"/>
<circle cx="398.2" cy="231.8" r="9.5"/>
<circle cx="400.2" cy="231.9" r="9.5"/>
<circle cx="402.2" cy="231.9" r="9.5"/>
<circle cx="404.2" cy="231.9" r="9.5"/>
<circle cx="406.2" cy="231.9" r="9.5"/>
<circle cx="408.2" cy="231.9" r="9.5"/>
<circle cx="410.2" cy="231.9" r="9.5"/>
<circle cx="412.2" cy="231.9" r="9.5"/>
<circle cx="414.2" cy="231.9" r="9.5"/>
<circle cx="416.2" cy="232.0" r="9.5"/>
<circle cx="418.2" cy="232.0" r="9.5"/>
<circle cx="420.1" cy="232.0" r="9.5"/>
<circle cx="422.1" cy="232.0" r="9.5"/>
<circle cx="424.1" cy="232.0" r="9.5"/>
<circle cx="426.1" cy="232.0" r="9.5"/>
<circle cx="428.1" cy="232.1" r="9.5"/>
<circle cx="430.1" cy="232.1" r="9.5"/>
<circle cx="432.1" cy="232.1" r="9.5"/>
<circle cx="434.1" cy="232.1" r="9.5"/>
<circle cx="436.1" cy="232.1" r="9.5"/>
<circle cx="438.1" cy="232.1" r="9.5"/>
<circle cx="440.1" cy="232.2" r="9.5"/>
<circle cx="442.0" cy="232.2" r="9.5"/>
<circle cx="444.0" cy="232.2" r="9.5"/>
<circle cx="446.0" cy="232.2" r="9.5"/>
<circle cx="448.0" cy="232.2" r="9.5"/>
<circle cx="450.0" cy="232.3" r="9.5"/>
<circle cx="452.0" cy="232.3" r="9.5"/>
<circle cx="454.0" cy="232.3" r="9.5"/>
<circle cx="456.0" cy="232.3" r="9.5"/>
<circle cx="458.0" cy="232.3" r="9.5"/>
<circle cx="460.0" cy="232.4" r="9.5"/>
<circle cx="462.0" cy="232.4" r="9.5"/>
<circle cx="464.0" cy="232.4" r="9.5"/>
<circle cx="465.9" cy="232.4" r="9.5"/>
<circle cx="467.9" cy="232.5" r="9.5"/>
<circle cx="469.9" cy="232.5" r="9.5"/>
<circle cx="471.9" cy="232.5" r="9.5"/>
<circle cx="473.9" cy="232.5" r="9.5"/>
<circle cx="475.9" cy="232.6" r="9.5"/>
<circle cx="477.9" cy="232.6" r="9.5"/>
<circle cx="479.9" cy="232.6" r="9.5"/>
<circle cx="481.9" cy="232.7" r="9.5"/>
<circle cx="483.9" cy="232.7" r="9.5"/>
<circle cx="485.9" cy="232.7" r="9.5"/>
<circle cx="487.9" cy="232.8" r="9.5"/>
<circle cx="489.8" cy="232.8" r="9.5"/>
<circle cx="491.8" cy="232.8" r="9.5"/>
<circle cx="493.8" cy="232.9" r="9.5"/>
<circle cx="495.8" cy="232.9" r="9.5"/>
<circle cx="497.8" cy="233.0" r="9.5"/>
<circle cx="499.8" cy="233.0" r="9.5"/>
<circle cx="501.8" cy="233.1" r="9.5"/>
<circle cx="503.8" cy="233.1" r="9.5"/>
<circle cx="505.8" cy="233.1" r="9.5"/>
<circle cx="507.8" cy="233.2" r="9.5"/>
<circle cx="509.8" cy="233.2" r="9.5"/>
<circle cx="511.7" cy="233.3" r="9.5"/>
<circle cx="513.7" cy="233.4" r="9.5"/>
<circle cx="515.7" cy="233.4" r="9.5"/>
<circle cx="517.7" cy="233.5" r="9.5"/>
<circle cx="519.7" cy="233.5" r="9.5"/>
<circle cx="521.7" cy="233.6" r="9.5"/>
<circle cx="523.7" cy="233.7" r="9.5"/>
<circle cx="525.7" cy="233.8" r="9.5"/>
<circle cx="527.7" cy="233.8" r="9.5"/>
<circle cx="529.7" cy="233.9" r="9.5"/>
<circle cx="531.7" cy="234.0" r="9.5"/>
<circle cx="533.7" cy="234.1" r="9.5"/>
<circle cx="535.6" cy="234.2" r="9.5"/>
<circle cx="537.6" cy="234.3" r="9.5"/>
<circle cx="539.6" cy="234.4" r="9.5"/>
<circle cx="541.6" cy="234.5" r="9.5"/>
<circle cx="543.6" cy="234.7" r="9.5"/>
<circle cx="545.6" cy="234.8" r="9.5"/>
<circle cx="547.6" cy="235.0" r="9.5"/>
<circle cx="549.6" cy="235.1" r="9.5"/>
<circle cx="551.6" cy="235.3" r="9.5"/>
<circle cx="553.6" cy="235.5" r="9.5"/>
<circle cx="555.6" cy="235.7" r="9.5"/>
<circle cx="557.6" cy="235.9" r="9.5"/>
<circle cx="559.5" cy="236.2" r="9.5"/>
<circle cx="561.5" cy="236.4" r="9.5"/>
<circle cx="563.5" cy="236.7" r="9.5"/>
<circle cx="565.5" cy="237.0" r="9.5"/>
<circle cx="567.5" cy="237.4" r="9.5"/>
<circle cx="569.5" cy="237.7" r="9.5"/>
<circle cx="571.5" cy="238.2" r="9.5"/>
<circle cx="573.5" cy="238.6" r="9.5"/>
<circle cx="575.5" cy="239.1" r="9.5"/>
<circle cx="577.5" cy="239.6" r="9.5"/>
<circle cx="579.5" cy="240.2" r="9.5"/>
<circle cx="581.4" cy="240.9" r="9.5"/>
<circle cx="583.4" cy="241.7" r="9.5"/>
<circle cx="585.4" cy="242.5" r="9.5"/>
<circle cx="587.4" cy="243.5" r="9.5"/>
<circle cx="589.4" cy="244.6" r="9.5"/>
<circle cx="591.4" cy="245.8" r="9.5"/>
<circle cx="593.4" cy="247.2" r="9.5"/>
<circle cx="595.4" cy="248.8" r="9.5"/>
<circle cx="597.4" cy="250.7" r="9.5"/>
<circle cx="599.4" cy="252.7" r="9.5"/>
<circle cx="601.4" cy="255.1" r="9.5"/>
<circle cx="603.4" cy="257.7" r="9.5"/>
<circle cx="605.3" cy="260.6" r="9.5"/>
<circle cx="607.3" cy="263.7" r="9.5"/>
<circle cx="609.3" cy="267.1" r="9.5"/>
<circle cx="611.3" cy="270.7" r="9.5"/>
<circle cx="613.3" cy="274.4" r="9.5"/>
<circle cx="615.3" cy="278.1" r="9.5"/>
<circle cx="617.3" cy="281.8" r="9.5"/>
<circle cx="619.3" cy="285.3" r="9.5"/>
<circle cx="621.3" cy="288.3" r="9.5"/>
<circle cx="623.3" cy="290.8" r="9.5"/>
<circle cx="625.3" cy="292.5" r="9.5"/>
<circle cx="627.3" cy="293.4" r="9.5"/>
<circle cx="629.2" cy="293.3" r="9.5"/>
<circle cx="631.2" cy="292.5" r="9.5"/>
<circle cx="633.2" cy="290.9" r="9.5"/>
<circle cx="635.2" cy="288.8" r="9.5"/>
<circle cx="637.2" cy="286.3" r="9.5"/>
<circle cx="639.2" cy="283.6" r="9.5"/>
<circle cx="641.2" cy="280.9" r="9.5"/>
<circle cx="643.2" cy="278.1" r="9.5"/>
<circle cx="645.2" cy="275.4" r="9.5"/>
<circle cx="647.2" cy="272.9" r="9.5"/>
<circle cx="649.2" cy="270.5" r="9.5"/>
<circle cx="651.1" cy="268.3" r="9.5"/>
<circle cx="653.1" cy="266.4" r="9.5"/>
<circle cx="655.1" cy="264.6" r="9.5"/>
<circle cx="657.1" cy="263.0" r="9.5"/>
<circle cx="659.1" cy="261.7" r="9.5"/>
<circle cx="661.1" cy="260.5" r="9.5"/>
<circle cx="663.1" cy="259.5" r="9.5"/>
<circle cx="665.1" cy="258.6" r="9.5"/>
<circle cx="667.1" cy="257.9" r="9.5"/>
<circle cx="669.1" cy="257.4" r="9.5"/>
<circle cx="671.1" cy="256.9" r="9.5"/>
<circle cx="673.1" cy="256.6" r="9.5"/>
<circle cx="675.0" cy="256.5" r="9.5"/>
<circle cx="677.0" cy="256.4" r="9.5"/>
<circle cx="679.0" cy="256.4" r="9.5"/>
<circle cx="681.0" cy="256.6" r="9.5"/>
<circle cx="683.0" cy="256.8" r="9.5"/>
<circle cx="685.0" cy="257.1" r="9.5"/>
<circle cx="687.0" cy="257.4" r="9.5"/>
<circle cx="689.0" cy="257.6" r="9.5"/>
<circle cx="691.0" cy="257.9" r="9.5"/>
<circle cx="693.0" cy="258.0" r="9.5"/>
<circle cx="695.0" cy="258.1" r="9.5"/>
<circle cx="697.0" cy="257.9" r="9.5"/>
<circle cx="698.9" cy="257.5" r="9.5"/>
<circle cx="700.9" cy="257.0" r="9.5"/>
<circle cx="702.9" cy="256.3" r="9.5"/>
<circle cx="704.9" cy="255.4" r="9.5"/>
<circle cx="706.9" cy="254.3" r="9.5"/>
<circle cx="708.9" cy="253.2" r="9.5"/>
<circle cx="710.9" cy="252.0" r="9.5"/>
<circle cx="712.9" cy="250.9" r="9.5"/>
<circle cx="714.9" cy="249.7" r="9.5"/>
<circle cx="716.9" cy="248.6" r="9.5"/>
<circle cx="718.9" cy="247.5" r="9.5"/>
<circle cx="720.8" cy="246.5" r="9.5"/>
<circle cx="722.8" cy="245.6" r="9.5"/>
<circle cx="724.8" cy="244.7" r="9.5"/>
<circle cx="726.8" cy="243.9" r="9.5"/>
<circle cx="728.8" cy="243.2" r="9.5"/>
<circle cx="730.8" cy="242.6" r="9.5"/>
<circle cx="732.8" cy="242.0" r="9.5"/>
<circle cx="734.8" cy="241.4" r="9.5"/>
<circle cx="736.8" cy="240.9" r="9.5"/>
<circle cx="738.8" cy="240.5" r="9.5"/>
<circle cx="740.8" cy="240.1" r="9.5"/>
<circle cx="742.8" cy="239.7" r="9.5"/>
<circle cx="744.7" cy="239.4" r="9.5"/>
<circle cx="746.7" cy="239.1" r="9.5"/>
<circle cx="748.7" cy="238.8" r="9.5"/>
<circle cx="750.7" cy="238.6" r="9.5"/>
<circle cx="752.7" cy="238.4" r="9.5"/>
<circle cx="754.7" cy="238.2" r="9.5"/>
<circle cx="756.7" cy="238.0" r="9.5"/>
<circle cx="758.7" cy="237.8" r="9.5"/>
<circle cx="760.7" cy="237.7" r="9.5"/>
<circle cx="762.7" cy="237.6" r="9.5"/>
<circle cx="764.7" cy="237.4" r="9.5"/>
<circle cx="766.7" cy="237.3" r="9.5"/>
<circle cx="768.6" cy="237.2" r="9.5"/>
<circle cx="770.6" cy="237.1" r="9.5"/>
<circle cx="772.6" cy="237.1" r="9.5"/>
<circle cx="774.6" cy="237.0" r="9.5"/>
<circle cx="776.6" cy="236.9" r="9.5"/>
<circle cx="778.6" cy="236.9" r="9.5"/>
<circle cx="780.6" cy="236.9" r="9.5"/>
<circle cx="782.6" cy="236.8" r="9.5"/>
<circle cx="784.6" cy="236.8" r="9.5"/>
<circle cx="786.6" cy="236.8" r="9.5"/>
<circle cx="788.6" cy="236.7" r="9.5"/>
<circle cx="790.5" cy="236.7" r="9.5"/>
<circle cx="792.5" cy="236.7" r="9.5"/>
<circle cx="794.5" cy="236.7" r="9.5"/>
<circle cx="796.5" cy="236.7" r="9.5"/>
<circle cx="798.5" cy="236.8" r="9.5"/>
<circle cx="800.5" cy="236.8" r="9.5"/>
<circle cx="802.5" cy="236.8" r="9.5"/>
<circle cx="804.5" cy="236.8" r="9.5"/>
<circle cx="806.5" cy="236.9" r="9.5"/>
<circle cx="808.5" cy="236.9" r="9.5"/>
<circle cx="810.5" cy="237.0" r="9.5"/>
<circle cx="812.5" cy="237.0" r="9.5"/>
<circle cx="814.4" cy="237.1" r="9.5"/>
<circle cx="816.4" cy="237.1" r="9.5"/>
<circle cx="818.4" cy="237.2" r="9.5"/>
<circle cx="820.4" cy="237.3" r="9.5"/>
<circle cx="822.4" cy="237.4" r="9.5"/>
<circle cx="824.4" cy="237.5" r="9.5"/>
<circle cx="826.4" cy="237.6" r="9.5"/>
<circle cx="828.4" cy="237.7" r="9.5"/>
<circle cx="830.4" cy="237.8" r="9.5"/>
<circle cx="832.4" cy="237.9" r="9.5"/>
<circle cx="834.4" cy="238.0" r="9.5"/>
<circle cx="836.4" cy="238.2" r="9.5"/>
<circle cx="838.3" cy="238.3" r="9.5"/>
<circle cx="840.3" cy="238.5" r="9.5"/>
<circle cx="842.3" cy="238.7" r="9.5"/>
<circle cx="844.3" cy="238.9" r="9.5"/>
<circle cx="846.3" cy="239.1" r="9.5"/>
<circle cx="848.3" cy="239.3" r="9.5"/>
<circle cx="850.3" cy="239.6" r="9.5"/>
<circle cx="852.3" cy="239.8" r="9.5"/>
<circle cx="854.3" cy="240.1" r="9.5"/>
<circle cx="856.3" cy="240.4" r="9.5"/>
<circle cx="858.3" cy="240.8" r="9.5"/>
<circle cx="860.2" cy="241.2" r="9.5"/>
<circle cx="862.2" cy="241.6" r="9.5"/>
<circle cx="864.2" cy="242.1" r="9.5"/>
<circle cx="866.2" cy="242.7" r="9.5"/>
<circle cx="868.2" cy="243.3" r="9.5"/>
<circle cx="870.2" cy="244.0" r="9.5"/>
<circle cx="872.2" cy="244.9" r="9.5"/>
<circle cx="874.2" cy="245.9" r="9.5"/>
<circle cx="876.2" cy="247.1" r="9.5"/>
<circle cx="878.2" cy="248.5" r="9.5"/>
<circle cx="880.2" cy="250.1" r="9.5"/>
<circle cx="882.2" cy="252.0" r="9.5"/>
<circle cx="884.1" cy="254.1" r="9.5"/>
<circle cx="886.1" cy="256.5" r="9.5"/>
<circle cx="888.1" cy="259.2" r="9.5"/>
<circle cx="890.1" cy="262.2" r="9.5"/>
<circle cx="892.1" cy="265.5" r="9.5"/>
<circle cx="894.1" cy="269.0" r="9.5"/>
<circle cx="896.1" cy="272.6" r="9.5"/>
<circle cx="898.1" cy="276.3" r="9.5"/>
<circle cx="900.1" cy="279.9" r="9.5"/>
<circle cx="902.1" cy="283.4" r="9.5"/>
<circle cx="904.1" cy="286.4" r="9.5"/>
<circle cx="906.1" cy="288.9" r="9.5"/>
<circle cx="908.0" cy="290.6" r="9.5"/>
<circle cx="910.0" cy="291.4" r="9.5"/>
<circle cx="912.0" cy="291.3" r="9.5"/>
<circle cx="914.0" cy="290.5" r="9.5"/>
<circle cx="916.0" cy="288.9" r="9.5"/>
<circle cx="918.0" cy="287.0" r="9.5"/>
<circle cx="920.0" cy="284.7" r="9.5"/>
<circle cx="922.0" cy="282.4" r="9.5"/>
<circle cx="924.0" cy="280.1" r="9.5"/>
<circle cx="926.0" cy="277.9" r="9.5"/>
<circle cx="928.0" cy="275.9" r="9.5"/>
<circle cx="929.9" cy="274.2" r="9.5"/>
<circle cx="931.9" cy="272.7" r="9.5"/>
<circle cx="933.9" cy="271.5" r="9.5"/>
<circle cx="935.9" cy="270.5" r="9.5"/>
<circle cx="937.9" cy="269.7" r="9.5"/>
<circle cx="939.9" cy="269.2" r="9.5"/>
<circle cx="941.9" cy="268.7" r="9.5"/>
<circle cx="943.9" cy="268.4" r="9.5"/>
<circle cx="945.9" cy="268.2" r="9.5"/>
<circle cx="947.9" cy="267.9" r="9.5"/>
<circle cx="949.9" cy="267.7" r="9.5"/>
<circle cx="951.9" cy="267.3" r="9.5"/>
<circle cx="953.8" cy="266.9" r="9.5"/>
<circle cx="955.8" cy="266.1" r="9.5"/>
<circle cx="957.8" cy="265.0" r="9.5"/>
<circle cx="959.8" cy="263.5" r="9.5"/>
<circle cx="961.8" cy="261.8" r="9.5"/>
<circle cx="963.8" cy="260.0" r="9.5"/>
<circle cx="965.8" cy="258.2" r="9.5"/>
<circle cx="967.8" cy="256.5" r="9.5"/>
<circle cx="969.8" cy="254.8" r="9.5"/>
<circle cx="971.8" cy="253.3" r="9.5"/>
<circle cx="973.8" cy="251.8" r="9.5"/>
<circle cx="975.8" cy="250.6" r="9.5"/>
<circle cx="977.7" cy="249.4" r="9.5"/>
<circle cx="979.7" cy="248.4" r="9.5"/>
<circle cx="981.7" cy="247.5" r="9.5"/>
<circle cx="983.7" cy="246.7" r="9.5"/>
<circle cx="985.7" cy="246.0" r="9.5"/>
<circle cx="987.7" cy="245.3" r="9.5"/>
<circle cx="989.7" cy="244.8" r="9.5"/>
<circle cx="991.7" cy="244.3" r="9.5"/>
<circle cx="993.7" cy="243.9" r="9.5"/>
<circle cx="995.7" cy="243.5" r="9.5"/>
<circle cx="997.7" cy="243.2" r="9.5"/>
<circle cx="999.6" cy="242.9" r="9.5"/>
<circle cx="1001.6" cy="242.6" r="9.5"/>
<circle cx="1003.6" cy="242.4" r="9.5"/>
<circle cx="1005.6" cy="242.2" r="9.5"/>
<circle cx="1007.6" cy="242.1" r="9.5"/>
<circle cx="1009.6" cy="241.9" r="9.5"/>
<circle cx="1011.6" cy="241.8" r="9.5"/>
<circle cx="1013.6" cy="241.7" r="9.5"/>
<circle cx="1015.6" cy="241.6" r="9.5"/>
<circle cx="1017.6" cy="241.6" r="9.5"/>
<circle cx="1019.6" cy="241.5" r="9.5"/>
<circle cx="1021.6" cy="241.5" r="9.5"/>
<circle cx="1023.5" cy="241.5" r="9.5"/>
<circle cx="1025.5" cy="241.5" r="9.5"/>
<circle cx="1027.5" cy="241.5" r="9.5"/>
<circle cx="1029.5" cy="241.5" r="9.5"/>
<circle cx="1031.5" cy="241.5" r="9.5"/>
<circle cx="1033.5" cy="241.6" r="9.5"/>
<circle cx="1035.5" cy="241.6" r="9.5"/>
<circle cx="1037.5" cy="241.7" r="9.5"/>
<circle cx="1039.5" cy="241.8" r="9.5"/>
<circle cx="1041.5" cy="241.8" r="9.5"/>
<circle cx="1043.5" cy="241.9" r="9.5"/>
<circle cx="1045.5" cy="242.0" r="9.5"/>
<circle cx="1047.4" cy="242.1" r="9.5"/>
<circle cx="1049.4" cy="242.2" r="9.5"/>
<circle cx="1051.4" cy="242.4" r="9.5"/>
<circle cx="1053.4" cy="242.5" r="9.5"/>
<circle cx="1055.4" cy="242.6" r="9.5"/>
<circle cx="1057.4" cy="242.8" r="9.5"/>
<circle cx="1059.4" cy="242.9" r="9.5"/>
<circle cx="1061.4" cy="243.1" r="9.5"/>
<circle cx="1063.4" cy="243.3" r="9.5"/>
<circle cx="1065.4" cy="243.5" r="9.5"/>
<circle cx="1067.4" cy="243.6" r="9.5"/>
<circle cx="1069.3" cy="243.8" r="9.5"/>
<circle cx="1071.3" cy="244.1" r="9.5"/>
<circle cx="1073.3" cy="244.3" r="9.5"/>
<circle cx="1075.3" cy="244.5" r="9.5"/>
<circle cx="1077.3" cy="244.7" r="9.5"/>
<circle cx="1079.3" cy="245.0" r="9.5"/>
<circle cx="1081.3" cy="245.2" r="9.5"/>
<circle cx="1083.3" cy="245.5" r="9.5"/>
<circle cx="1085.3" cy="245.8" r="9.5"/>
<circle cx="1087.3" cy="246.1" r="9.5"/>
<circle cx="1089.3" cy="246.4" r="9.5"/>
<circle cx="1091.3" cy="246.7" r="9.5"/>
<circle cx="1093.2" cy="247.0" r="9.5"/>
<circle cx="1095.2" cy="247.4" r="9.5"/>
<circle cx="1097.2" cy="247.7" r="9.5"/>
<circle cx="1099.2" cy="248.1" r="9.5"/>
<circle cx="1101.2" cy="248.5" r="9.5"/>
<circle cx="1103.2" cy="248.9" r="9.5"/>
<circle cx="1105.2" cy="249.3" r="9.5"/>
<circle cx="1107.2" cy="249.8" r="9.5"/>
<circle cx="1109.2" cy="250.2" r="9.5"/>
<circle cx="1111.2" cy="250.7" r="9.5"/>
<circle cx="1113.2" cy="251.2" r="9.5"/>
<circle cx="1115.2" cy="251.8" r="9.5"/>
<circle cx="1117.1" cy="252.3" r="9.5"/>
<circle cx="1119.1" cy="252.9" r="9.5"/>
<circle cx="1121.1" cy="253.5" r="9.5"/>
<circle cx="1123.1" cy="254.2" r="9.5"/>
<circle cx="1125.1" cy="254.8" r="9.5"/>
<circle cx="1127.1" cy="255.6" r="9.5"/>
<circle cx="1129.1" cy="256.3" r="9.5"/>
<circle cx="1131.1" cy="257.1" r="9.5"/>
<circle cx="1133.1" cy="257.9" r="9.5"/>
<circle cx="1135.1" cy="258.8" r="9.5"/>
<circle cx="1137.1" cy="259.8" r="9.5"/>
<circle cx="1139.0" cy="260.8" r="9.5"/>
<circle cx="1141.0" cy="261.8" r="9.5"/>
<circle cx="1143.0" cy="262.9" r="9.5"/>
<circle cx="1145.0" cy="264.1" r="9.5"/>
<circle cx="1147.0" cy="265.4" r="9.5"/>
<circle cx="1149.0" cy="266.7" r="9.5"/>
<circle cx="1151.0" cy="268.1" r="9.5"/>
<circle cx="1153.0" cy="269.6" r="9.5"/>
<circle cx="1155.0" cy="271.1" r="9.5"/>
<circle cx="1157.0" cy="272.8" r="9.5"/>
<circle cx="1159.0" cy="274.6" r="9.5"/>
<circle cx="1161.0" cy="276.4" r="9.5"/>
<circle cx="1162.9" cy="278.4" r="9.5"/>
<circle cx="1164.9" cy="280.5" r="9.5"/>
<circle cx="1166.9" cy="282.6" r="9.5"/>
<circle cx="1168.9" cy="284.9" r="9.5"/>
<circle cx="1170.9" cy="287.3" r="9.5"/>
<circle cx="1172.9" cy="289.9" r="9.5"/>
<circle cx="1174.9" cy="292.5" r="9.5"/>
<circle cx="1176.9" cy="295.3" r="9.5"/>
<circle cx="1178.9" cy="298.2" r="9.5"/>
<circle cx="1180.9" cy="301.2" r="9.5"/>
<circle cx="1182.9" cy="304.4" r="9.5"/>
<circle cx="1184.9" cy="307.6" r="9.5"/>
<circle cx="1186.8" cy="311.0" r="9.5"/>
<circle cx="1188.8" cy="314.5" r="9.5"/>
<circle cx="1190.8" cy="318.1" r="9.5"/>
<circle cx="1192.8" cy="321.9" r="9.5"/>
<circle cx="1194.8" cy="325.7" r="9.5"/>
<circle cx="1196.8" cy="329.7" r="9.5"/>
<circle cx="1198.8" cy="333.9" r="9.5"/>
<circle cx="1200.8" cy="338.2" r="9.5"/>
<circle cx="1202.8" cy="342.7" r="9.5"/>
<circle cx="1204.8" cy="347.4" r="9.5"/>
<circle cx="1206.8" cy="352.4" r="9.5"/>
<circle cx="1208.7" cy="357.6" r="9.5"/>
<circle cx="1210.7" cy="363.3" r="9.5"/>
<circle cx="1212.7" cy="369.5" r="9.5"/>
<circle cx="1214.7" cy="376.4" r="9.5"/>
<circle cx="1216.7" cy="384.2" r="9.5"/>
<circle cx="1218.7" cy="393.2" r="9.5"/>
<circle cx="1220.7" cy="403.7" r="9.5"/>
<circle cx="1222.7" cy="415.8" r="9.5"/>
<circle cx="1224.7" cy="429.3" r="9.5"/>
<circle cx="1226.7" cy="444.7" r="9.5"/>
<circle cx="1228.7" cy="462.9" r="9.5"/>
<circle cx="1230.7" cy="484.5" r="9.5"/>
<circle cx="1232.6" cy="510.1" r="9.5"/>
<circle cx="1234.6" cy="540.3" r="9.5"/>
<circle cx="1236.6" cy="575.1" r="9.5"/>
<circle cx="1238.6" cy="614.5" r="9.5"/>
<circle cx="1240.6" cy="658.4" r="9.5"/>
<circle cx="1242.6" cy="706.2" r="9.5"/>
<circle cx="1244.6" cy="757.3" r="9.5"/>
<circle cx="1246.6" cy="810.7" r="9.5"/>
<circle cx="1248.6" cy="865.6" r="9.5"/>
<circle cx="1250.6" cy="921.0" r="9.5"/>
<circle cx="1252.6" cy="976.1" r="9.5"/>
<circle cx="1254.6" cy="1030.9" r="9.5"/>
<circle cx="1256.5" cy="1085.5" r="9.5"/>
<circle cx="1258.5" cy="1140.5" r="9.5"/>
<circle cx="1260.5" cy="1195.8" r="9.5"/>
<circle cx="1262.5" cy="1250.5" r="9.5"/>
<circle cx="1264.5" cy="1302.1" r="9.5"/>
<circle cx="1266.5" cy="1346.1" r="9.5"/>
<circle cx="1268.5" cy="1377.1" r="9.5"/>
<circle cx="1270.5" cy="1389.1" r="9.5"/>
<circle cx="1272.5" cy="1378.3" r="9.5"/>
<circle cx="1274.5" cy="1344.1" r="9.5"/>
<circle cx="1276.5" cy="1289.7" r="9.5"/>
<circle cx="1278.4" cy="1221.1" r="9.5"/>
<circle cx="1280.4" cy="1145.1" r="9.5"/>
<circle cx="1282.4" cy="1067.7" r="9.5"/>
<circle cx="1284.4" cy="993.9" r="9.5"/>
<circle cx="1286.4" cy="926.8" r="9.5"/>
<circle cx="1288.4" cy="868.6" r="9.5"/>
<circle cx="1290.4" cy="820.6" r="9.5"/>
<circle cx="1292.4" cy="783.4" r="9.5"/>
<circle cx="1294.4" cy="757.4" r="9.5"/>
<circle cx="1296.4" cy="743.0" r="9.5"/>
<circle cx="1298.4" cy="740.1" r="9.5"/>
<circle cx="1300.4" cy="748.8" r="9.5"/>
<circle cx="1302.3" cy="769.1" r="9.5"/>
<circle cx="1304.3" cy="800.9" r="9.5"/>
<circle cx="1306.3" cy="843.9" r="9.5"/>
<circle cx="1308.3" cy="897.5" r="9.5"/>
<circle cx="1310.3" cy="960.9" r="9.5"/>
<circle cx="1312.3" cy="1032.4" r="9.5"/>
<circle cx="1314.3" cy="1109.4" r="9.5"/>
<circle cx="1316.3" cy="1187.9" r="9.5"/>
<circle cx="1318.3" cy="1262.3" r="9.5"/>
<circle cx="1320.3" cy="1325.9" r="9.5"/>
<circle cx="1322.3" cy="1372.1" r="9.5"/>
<circle cx="1324.3" cy="1395.9" r="9.5"/>
<circle cx="1326.2" cy="1396.0" r="9.5"/>
<circle cx="1328.2" cy="1374.4" r="9.5"/>
<circle cx="1330.2" cy="1336.3" r="9.5"/>
<circle cx="1332.2" cy="1287.4" r="9.5"/>
<circle cx="1334.2" cy="1232.6" r="9.5"/>
<circle cx="1336.2" cy="1175.2" r="9.5"/>
<circle cx="1338.2" cy="1116.8" r="9.5"/>
<circle cx="1340.2" cy="1058.1" r="9.5"/>
<circle cx="1342.2" cy="998.8" r="9.5"/>
<circle cx="1344.2" cy="939.0" r="9.5"/>
<circle cx="1346.2" cy="879.1" r="9.5"/>
<circle cx="1348.1" cy="819.8" r="9.5"/>
<circle cx="1350.1" cy="762.2" r="9.5"/>
<circle cx="1352.1" cy="707.1" r="9.5"/>
<circle cx="1354.1" cy="655.6" r="9.5"/>
<circle cx="1356.1" cy="608.1" r="9.5"/>
<circle cx="1358.1" cy="565.1" r="9.5"/>
<circle cx="1360.1" cy="526.8" r="9.5"/>
<circle cx="1362.1" cy="493.2" r="9.5"/>
<circle cx="1364.1" cy="464.2" r="9.5"/>
<circle cx="1366.1" cy="439.6" r="9.5"/>
<circle cx="1368.1" cy="418.9" r="9.5"/>
<circle cx="1370.1" cy="401.7" r="9.5"/>
<circle cx="1372.0" cy="387.7" r="9.5"/>
<circle cx="1374.0" cy="376.4" r="9.5"/>
<circle cx="1376.0" cy="367.2" r="9.5"/>
<circle cx="1378.0" cy="359.8" r="9.5"/>
<circle cx="1380.0" cy="354.0" r="9.5"/>
<circle cx="1382.0" cy="349.2" r="9.5"/>
<circle cx="1384.0" cy="345.4" r="9.5"/>
<circle cx="1386.0" cy="342.3" r="9.5"/>
<circle cx="1388.0" cy="339.8" r="9.5"/>
<circle cx="1390.0" cy="337.7" r="9.5"/>
<circle cx="1392.0" cy="335.9" r="9.5"/>
<circle cx="1394.0" cy="334.5" r="9.5"/>
<circle cx="1395.9" cy="333.1" r="9.5"/>
<circle cx="1397.9" cy="331.9" r="9.5"/>
<circle cx="1399.9" cy="330.6" r="9.5"/>
<circle cx="1401.9" cy="329.2" r="9.5"/>
<circle cx="1403.9" cy="327.7" r="9.5"/>
<circle cx="1405.9" cy="325.9" r="9.5"/>
<circle cx="1407.9" cy="323.8" r="9.5"/>
<circle cx="1409.9" cy="321.6" r="9.5"/>
<circle cx="1411.9" cy="319.2" r="9.5"/>
<circle cx="1413.9" cy="316.7" r="9.5"/>
<circle cx="1415.9" cy="314.1" r="9.5"/>
<circle cx="1417.8" cy="311.4" r="9.5"/>
<circle cx="1419.8" cy="308.6" r="9.5"/>
<circle cx="1421.8" cy="305.8" r="9.5"/>
<circle cx="1423.8" cy="303.0" r="9.5"/>
<circle cx="1425.8" cy="300.2" r="9.5"/>
<circle cx="1427.8" cy="297.4" r="9.5"/>
<circle cx="1429.8" cy="294.7" r="9.5"/>
<circle cx="1431.8" cy="292.0" r="9.5"/>
<circle cx="1433.8" cy="289.5" r="9.5"/>
<circle cx="1435.8" cy="287.0" r="9.5"/>
<circle cx="1437.8" cy="284.6" r="9.5"/>
<circle cx="1439.8" cy="282.3" r="9.5"/>
<circle cx="1441.7" cy="280.2" r="9.5"/>
<circle cx="1443.7" cy="278.1" r="9.5"/>
<circle cx="1445.7" cy="276.2" r="9.5"/>
<circle cx="1447.7" cy="274.3" r="9.5"/>
<circle cx="1449.7" cy="272.6" r="9.5"/>
<circle cx="1451.7" cy="270.9" r="9.5"/>
<circle cx="1453.7" cy="269.3" r="9.5"/>
<circle cx="1455.7" cy="267.8" r="9.5"/>
<circle cx="1457.7" cy="266.4" r="9.5"/>
<circle cx="1459.7" cy="265.1" r="9.5"/>
<circle cx="1461.7" cy="263.8" r="9.5"/>
<circle cx="1463.7" cy="262.6" r="9.5"/>
<circle cx="1465.6" cy="261.5" r="9.5"/>
<circle cx="1467.6" cy="260.5" r="9.5"/>
<circle cx="1469.6" cy="259.4" r="9.5"/>
<circle cx="1471.6" cy="258.5" r="9.5"/>
<circle cx="1473.6" cy="257.6" r="9.5"/>
<circle cx="1475.6" cy="256.7" r="9.5"/>
<circle cx="1477.6" cy="255.9" r="9.5"/>
<circle cx="1479.6" cy="255.1" r="9.5"/>
<circle cx="1481.6" cy="254.4" r="9.5"/>
<circle cx="1483.6" cy="253.7" r="9.5"/>
<circle cx="1485.6" cy="253.1" r="9.5"/>
<circle cx="1487.5" cy="252.4" r="9.5"/>
<circle cx="1489.5" cy="251.8" r="9.5"/>
<circle cx="1491.5" cy="251.2" r="9.5"/>
<circle cx="1493.5" cy="250.7" r="9.5"/>
<circle cx="1495.5" cy="250.2" r="9.5"/>
<circle cx="1497.5" cy="249.7" r="9.5"/>
<circle cx="1499.5" cy="249.2" r="9.5"/>
<circle cx="1501.5" cy="248.8" r="9.5"/>
<circle cx="1503.5" cy="248.3" r="9.5"/>
<circle cx="1505.5" cy="247.9" r="9.5"/>
<circle cx="1507.5" cy="247.5" r="9.5"/>
<circle cx="1509.5" cy="247.1" r="9.5"/>
<circle cx="1511.4" cy="246.8" r="9.5"/>
<circle cx="1513.4" cy="246.4" r="9.5"/>
<circle cx="1515.4" cy="246.1" r="9.5"/>
<circle cx="1517.4" cy="245.8" r="9.5"/>
<circle cx="1519.4" cy="245.5" r="9.5"/>
<circle cx="1521.4" cy="245.2" r="9.5"/>
<circle cx="1523.4" cy="244.9" r="9.5"/>
<circle cx="1525.4" cy="244.7" r="9.5"/>
<circle cx="1527.4" cy="244.4" r="9.5"/>
<circle cx="1529.4" cy="244.2" r="9.5"/>
<circle cx="1531.4" cy="243.9" r="9.5"/>
<circle cx="1533.4" cy="243.7" r="9.5"/>
<circle cx="1535.3" cy="243.5" r="9.5"/>
<circle cx="1537.3" cy="243.3" r="9.5"/>
<circle cx="1539.3" cy="243.1" r="9.5"/>
<circle cx="1541.3" cy="242.9" r="9.5"/>
<circle cx="1543.3" cy="242.8" r="9.5"/>
<circle cx="1545.3" cy="242.6" r="9.5"/>
<circle cx="1547.3" cy="242.5" r="9.5"/>
<circle cx="1549.3" cy="242.3" r="9.5"/>
<circle cx="1551.3" cy="242.2" r="9.5"/>
<circle cx="1553.3" cy="242.0" r="9.5"/>
<circle cx="1555.3" cy="241.9" r="9.5"/>
<circle cx="1557.2" cy="241.8" r="9.5"/>
<circle cx="1559.2" cy="241.7" r="9.5"/>
<circle cx="1561.2" cy="241.6" r="9.5"/>
<circle cx="1563.2" cy="241.5" r="9.5"/>
<circle cx="1565.2" cy="241.5" r="9.5"/>
<circle cx="1567.2" cy="241.4" r="9.5"/>
<circle cx="1569.2" cy="241.3" r="9.5"/>
<circle cx="1571.2" cy="241.3" r="9.5"/>
<circle cx="1573.2" cy="241.3" r="9.5"/>
<circle cx="1575.2" cy="241.2" r="9.5"/>
<circle cx="1577.2" cy="241.2" r="9.5"/>
<circle cx="1579.2" cy="241.2" r="9.5"/>
<circle cx="1581.1" cy="241.2" r="9.5"/>
<circle cx="1583.1" cy="241.2" r="9.5"/>
<circle cx="1585.1" cy="241.3" r="9.5"/>
<circle cx="1587.1" cy="241.3" r="9.5"/>
<circle cx="1589.1" cy="241.4" r="9.5"/>
<circle cx="1591.1" cy="241.4" r="9.5"/>
<circle cx="1593.1" cy="241.5" r="9.5"/>
<circle cx="1595.1" cy="241.6" r="9.5"/>
<circle cx="1597.1" cy="241.8" r="9.5"/>
<circle cx="1599.1" cy="241.9" r="9.5"/>
<circle cx="1601.1" cy="242.1" r="9.5"/>
<circle cx="1603.1" cy="242.3" r="9.5"/>
<circle cx="1605.0" cy="242.6" r="9.5"/>
<circle cx="1607.0" cy="242.8" r="9.5"/>
<circle cx="1609.0" cy="243.2" r="9.5"/>
<circle cx="1611.0" cy="243.5" r="9.5"/>
<circle cx="1613.0" cy="243.9" r="9.5"/>
<circle cx="1615.0" cy="244.4" r="9.5"/>
<circle cx="1617.0" cy="244.9" r="9.5"/>
<circle cx="1619.0" cy="245.4" r="9.5"/>
<circle cx="1621.0" cy="246.1" r="9.5"/>
<circle cx="1623.0" cy="246.8" r="9.5"/>
<circle cx="1625.0" cy="247.6" r="9.5"/>
<circle cx="1626.9" cy="248.5" r="9.5"/>
<circle cx="1628.9" cy="249.6" r="9.5"/>
<circle cx="1630.9" cy="250.8" r="9.5"/>
<circle cx="1632.9" cy="252.1" r="9.5"/>
<circle cx="1634.9" cy="253.6" r="9.5"/>
<circle cx="1636.9" cy="255.3" r="9.5"/>
<circle cx="1638.9" cy="257.2" r="9.5"/>
<circle cx="1640.9" cy="259.3" r="9.5"/>
<circle cx="1642.9" cy="261.7" r="9.5"/>
<circle cx="1644.9" cy="264.2" r="9.5"/>
<circle cx="1646.9" cy="266.9" r="9.5"/>
<circle cx="1648.9" cy="269.8" r="9.5"/>
<circle cx="1650.8" cy="272.7" r="9.5"/>
<circle cx="1652.8" cy="275.6" r="9.5"/>
<circle cx="1654.8" cy="278.3" r="9.5"/>
<circle cx="1656.8" cy="280.8" r="9.5"/>
<circle cx="1658.8" cy="283.0" r="9.5"/>
<circle cx="1660.8" cy="285.3" r="9.5"/>
<circle cx="1662.8" cy="287.7" r="9.5"/>
<circle cx="1664.8" cy="290.2" r="9.5"/>
<circle cx="1666.8" cy="292.6" r="9.5"/>
<circle cx="1668.8" cy="295.0" r="9.5"/>
<circle cx="1670.8" cy="297.3" r="9.5"/>
<circle cx="1672.8" cy="299.4" r="9.5"/>
<circle cx="1674.7" cy="301.0" r="9.5"/>
<circle cx="1676.7" cy="302.1" r="9.5"/>
<circle cx="1678.7" cy="302.4" r="9.5"/>
<circle cx="1680.7" cy="301.9" r="9.5"/>
<circle cx="1682.7" cy="300.5" r="9.5"/>
<circle cx="1684.7" cy="298.1" r="9.5"/>
<circle cx="1686.7" cy="295.1" r="9.5"/>
<circle cx="1688.7" cy="291.5" r="9.5"/>
<circle cx="1690.7" cy="287.5" r="9.5"/>
<circle cx="1692.7" cy="283.4" r="9.5"/>
<circle cx="1694.7" cy="279.2" r="9.5"/>
<circle cx="1696.6" cy="275.2" r="9.5"/>
<circle cx="1698.6" cy="271.4" r="9.5"/>
<circle cx="1700.6" cy="267.8" r="9.5"/>
<circle cx="1702.6" cy="264.5" r="9.5"/>
<circle cx="1704.6" cy="261.5" r="9.5"/>
<circle cx="1706.6" cy="258.8" r="9.5"/>
<circle cx="1708.6" cy="256.4" r="9.5"/>
<circle cx="1710.6" cy="254.3" r="9.5"/>
<circle cx="1712.6" cy="252.5" r="9.5"/>
<circle cx="1714.6" cy="250.9" r="9.5"/>
<circle cx="1716.6" cy="249.5" r="9.5"/>
<circle cx="1718.6" cy="248.3" r="9.5"/>
<circle cx="1720.5" cy="247.3" r="9.5"/>
<circle cx="1722.5" cy="246.4" r="9.5"/>
<circle cx="1724.5" cy="245.6" r="9.5"/>
<circle cx="1726.5" cy="244.8" r="9.5"/>
<circle cx="1728.5" cy="244.2" r="9.5"/>
<circle cx="1730.5" cy="243.6" r="9.5"/>
<circle cx="1732.5" cy="243.1" r="9.5"/>
<circle cx="1734.5" cy="242.7" r="9.5"/>
<circle cx="1736.5" cy="242.2" r="9.5"/>
<circle cx="1738.5" cy="241.8" r="9.5"/>
<circle cx="1740.5" cy="241.5" r="9.5"/>
<circle cx="1742.5" cy="241.1" r="9.5"/>
<circle cx="1744.4" cy="240.8" r="9.5"/>
<circle cx="1746.4" cy="240.5" r="9.5"/>
<circle cx="1748.4" cy="240.2" r="9.5"/>
<circle cx="1750.4" cy="240.0" r="9.5"/>
<circle cx="1752.4" cy="239.7" r="9.5"/>
<circle cx="1754.4" cy="239.5" r="9.5"/>
<circle cx="1756.4" cy="239.3" r="9.5"/>
<circle cx="1758.4" cy="239.1" r="9.5"/>
<circle cx="1760.4" cy="238.9" r="9.5"/>
<circle cx="1762.4" cy="238.7" r="9.5"/>
<circle cx="1764.4" cy="238.6" r="9.5"/>
<circle cx="1766.3" cy="238.4" r="9.5"/>
<circle cx="1768.3" cy="238.3" r="9.5"/>
<circle cx="1770.3" cy="238.1" r="9.5"/>
<circle cx="1772.3" cy="238.0" r="9.5"/>
<circle cx="1774.3" cy="237.9" r="9.5"/>
<circle cx="1776.3" cy="237.8" r="9.5"/>
<circle cx="1778.3" cy="237.7" r="9.5"/>
<circle cx="1780.3" cy="237.6" r="9.5"/>
<circle cx="1782.3" cy="237.5" r="9.5"/>
<circle cx="1784.3" cy="237.4" r="9.5"/>
<circle cx="1786.3" cy="237.3" r="9.5"/>
<circle cx="1788.3" cy="237.2" r="9.5"/>
<circle cx="1790.2" cy="237.2" r="9.5"/>
<circle cx="1792.2" cy="237.1" r="9.5"/>
<circle cx="1794.2" cy="237.0" r="9.5"/>
<circle cx="1796.2" cy="237.0" r="9.5"/>
<circle cx="1798.2" cy="236.9" r="9.5"/>
<circle cx="1800.2" cy="236.9" r="9.5"/>
<circle cx="1802.2" cy="236.9" r="9.5"/>
<circle cx="1804.2" cy="236.8" r="9.5"/>
<circle cx="1806.2" cy="236.8" r="9.5"/>
<circle cx="1808.2" cy="236.8" r="9.5"/>
<circle cx="1810.2" cy="236.8" r="9.5"/>
<circle cx="1812.2" cy="236.7" r="9.5"/>
<circle cx="1814.1" cy="236.7" r="9.5"/>
<circle cx="1816.1" cy="236.7" r="9.5"/>
<circle cx="1818.1" cy="236.7" r="9.5"/>
<circle cx="1820.1" cy="236.7" r="9.5"/>
<circle cx="1822.1" cy="236.8" r="9.5"/>
<circle cx="1824.1" cy="236.8" r="9.5"/>
<circle cx="1826.1" cy="236.8" r="9.5"/>
<circle cx="1828.1" cy="236.8" r="9.5"/>
<circle cx="1830.1" cy="236.9" r="9.5"/>
<circle cx="1832.1" cy="236.9" r="9.5"/>
<circle cx="1834.1" cy="237.0" r="9.5"/>
<circle cx="1836.0" cy="237.0" r="9.5"/>
<circle cx="1838.0" cy="237.1" r="9.5"/>
<circle cx="1840.0" cy="237.2" r="9.5"/>
<circle cx="1842.0" cy="237.3" r="9.5"/>
<circle cx="1844.0" cy="237.4" r="9.5"/>
<circle cx="1846.0" cy="237.5" r="9.5"/>
<circle cx="1848.0" cy="237.6" r="9.5"/>
<circle cx="1850.0" cy="237.7" r="9.5"/>
<circle cx="1852.0" cy="237.9" r="9.5"/>
<circle cx="1854.0" cy="238.0" r="9.5"/>
<circle cx="1856.0" cy="238.2" r="9.5"/>
<circle cx="1858.0" cy="238.4" r="9.5"/>
<circle cx="1859.9" cy="238.6" r="9.5"/>
<circle cx="1861.9" cy="238.9" r="9.5"/>
<circle cx="1863.9" cy="239.1" r="9.5"/>
<circle cx="1865.9" cy="239.4" r="9.5"/>
<circle cx="1867.9" cy="239.7" r="9.5"/>
<circle cx="1869.9" cy="240.1" r="9.5"/>
<circle cx="1871.9" cy="240.5" r="9.5"/>
<circle cx="1873.9" cy="240.9" r="9.5"/>
<circle cx="1875.9" cy="241.4" r="9.5"/>
<circle cx="1877.9" cy="241.9" r="9.5"/>
<circle cx="1879.9" cy="242.4" r="9.5"/>
<circle cx="1881.9" cy="243.1" r="9.5"/>
<circle cx="1883.8" cy="243.7" r="9.5"/>
<circle cx="1885.8" cy="244.5" r="9.5"/>
<circle cx="1887.8" cy="245.3" r="9.5"/>
<circle cx="1889.8" cy="246.2" r="9.5"/>
<circle cx="1891.8" cy="247.1" r="9.5"/>
<circle cx="1893.8" cy="248.2" r="9.5"/>
<circle cx="1895.8" cy="249.4" r="9.5"/>
<circle cx="1897.8" cy="250.6" r="9.5"/>
<circle cx="1899.8" cy="252.0" r="9.5"/>
<circle cx="1901.8" cy="253.4" r="9.5"/>
<circle cx="1903.8" cy="255.0" r="9.5"/>
<circle cx="1905.7" cy="256.7" r="9.5"/>
<circle cx="1907.7" cy="258.4" r="9.5"/>
<circle cx="1909.7" cy="260.3" r="9.5"/>
<circle cx="1911.7" cy="262.2" r="9.5"/>
<circle cx="1913.7" cy="264.1" r="9.5"/>
<circle cx="1915.7" cy="266.1" r="9.5"/>
<circle cx="1917.7" cy="268.0" r="9.5"/>
<circle cx="1919.7" cy="269.8" r="9.5"/>
<circle cx="1921.7" cy="271.6" r="9.5"/>
<circle cx="1923.7" cy="273.2" r="9.5"/>
<circle cx="1925.7" cy="274.7" r="9.5"/>
<circle cx="1927.7" cy="276.3" r="9.5"/>
<circle cx="1929.6" cy="277.8" r="9.5"/>
<circle cx="1931.6" cy="279.5" r="9.5"/>
<circle cx="1933.6" cy="281.2" r="9.5"/>
<circle cx="1935.6" cy="283.0" r="9.5"/>
<circle cx="1937.6" cy="285.0" r="9.5"/>
<circle cx="1939.6" cy="287.2" r="9.5"/>
<circle cx="1941.6" cy="289.5" r="9.5"/>
<circle cx="1943.6" cy="292.0" r="9.5"/>
<circle cx="1945.6" cy="294.6" r="9.5"/>
<circle cx="1947.6" cy="297.2" r="9.5"/>
<circle cx="1949.6" cy="299.8" r="9.5"/>
<circle cx="1951.6" cy="302.2" r="9.5"/>
<circle cx="1953.5" cy="304.3" r="9.5"/>
<circle cx="1955.5" cy="305.9" r="9.5"/>
<circle cx="1957.5" cy="306.7" r="9.5"/>
<circle cx="1959.5" cy="306.7" r="9.5"/>
<circle cx="1961.5" cy="305.7" r="9.5"/>
<circle cx="1963.5" cy="303.8" r="9.5"/>
<circle cx="1965.5" cy="301.0" r="9.5"/>
<circle cx="1967.5" cy="297.4" r="9.5"/>
<circle cx="1969.5" cy="293.4" r="9.5"/>
<circle cx="1971.5" cy="289.1" r="9.5"/>
<circle cx="1973.5" cy="284.7" r="9.5"/>
<circle cx="1975.4" cy="280.3" r="9.5"/>
<circle cx="1977.4" cy="276.0" r="9.5"/>
<circle cx="1979.4" cy="272.0" r="9.5"/>
<circle cx="1981.4" cy="268.2" r="9.5"/>
<circle cx="1983.4" cy="264.7" r="9.5"/>
<circle cx="1985.4" cy="261.6" r="9.5"/>
<circle cx="1987.4" cy="258.7" r="9.5"/>
<circle cx="1989.4" cy="256.2" r="9.5"/>
<circle cx="1991.4" cy="253.9" r="9.5"/>
<circle cx="1993.4" cy="252.0" r="9.5"/>
<circle cx="1995.4" cy="250.2" r="9.5"/>
<circle cx="1997.4" cy="248.7" r="9.5"/>
<circle cx="1999.3" cy="247.3" r="9.5"/>
<circle cx="2001.3" cy="246.1" r="9.5"/>
<circle cx="2003.3" cy="245.0" r="9.5"/>
<circle cx="2005.3" cy="244.1" r="9.5"/>
<circle cx="2007.3" cy="243.2" r="9.5"/>
<circle cx="2009.3" cy="242.5" r="9.5"/>
<circle cx="2011.3" cy="241.8" r="9.5"/>
<circle cx="2013.3" cy="241.1" r="9.5"/>
<circle cx="2015.3" cy="240.6" r="9.5"/>
<circle cx="2017.3" cy="240.0" r="9.5"/>
<circle cx="2019.3" cy="239.5" r="9.5"/>
<circle cx="2021.3" cy="239.1" r="9.5"/>
<circle cx="2023.2" cy="238.7" r="9.5"/>
<circle cx="2025.2" cy="238.3" r="9.5"/>
<circle cx="2027.2" cy="238.0" r="9.5"/>
<circle cx="2029.2" cy="237.6" r="9.5"/>
<circle cx="2031.2" cy="237.3" r="9.5"/>
<circle cx="2033.2" cy="237.1" r="9.5"/>
<circle cx="2035.2" cy="236.8" r="9.5"/>
<circle cx="2037.2" cy="236.6" r="9.5"/>
<circle cx="2039.2" cy="236.4" r="9.5"/>
<circle cx="2041.2" cy="236.1" r="9.5"/>
<circle cx="2043.2" cy="236.0" r="9.5"/>
<circle cx="2045.1" cy="235.8" r="9.5"/>
<circle cx="2047.1" cy="235.6" r="9.5"/>
<circle cx="2049.1" cy="235.5" r="9.5"/>
<circle cx="2051.1" cy="235.3" r="9.5"/>
<circle cx="2053.1" cy="235.2" r="9.5"/>
<circle cx="2055.1" cy="235.0" r="9.5"/>
<circle cx="2057.1" cy="234.9" r="9.5"/>
<circle cx="2059.1" cy="234.8" r="9.5"/>
<circle cx="2061.1" cy="234.7" r="9.5"/>
<circle cx="2063.1" cy="234.6" r="9.5"/>
<circle cx="2065.1" cy="234.5" r="9.5"/>
<circle cx="2067.1" cy="234.4" r="9.5"/>
<circle cx="2069.0" cy="234.3" r="9.5"/>
<circle cx="2071.0" cy="234.2" r="9.5"/>
<circle cx="2073.0" cy="234.1" r="9.5"/>
<circle cx="2075.0" cy="234.1" r="9.5"/>
<circle cx="2077.0" cy="234.0" r="9.5"/>
<circle cx="2079.0" cy="233.9" r="9.5"/>
<circle cx="2081.0" cy="233.8" r="9.5"/>
<circle cx="2083.0" cy="233.8" r="9.5"/>
<circle cx="2085.0" cy="233.7" r="9.5"/>
<circle cx="2087.0" cy="233.7" r="9.5"/>
<circle cx="2089.0" cy="233.6" r="9.5"/>
<circle cx="2091.0" cy="233.5" r="9.5"/>
<circle cx="2092.9" cy="233.5" r="9.5"/>
<circle cx="2094.9" cy="233.4" r="9.5"/>
<circle cx="2096.9" cy="233.4" r="9.5"/>
<circle cx="2098.9" cy="233.3" r="9.5"/>
<circle cx="2100.9" cy="233.3" r="9.5"/>
<circle cx="2102.9" cy="233.2" r="9.5"/>
<circle cx="2104.9" cy="233.2" r="9.5"/>
<circle cx="2106.9" cy="233.1" r="9.5"/>
<circle cx="2108.9" cy="233.1" r="9.5"/>
<circle cx="2110.9" cy="233.1" r="9.5"/>
<circle cx="2112.9" cy="233.0" r="9.5"/>
<circle cx="2114.8" cy="233.0" r="9.5"/>
<circle cx="2116.8" cy="232.9" r="9.5"/>
<circle cx="2118.8" cy="232.9" r="9.5"/>
<circle cx="2120.8" cy="232.9" r="9.5"/>
<circle cx="2122.8" cy="232.8" r="9.5"/>
<circle cx="2124.8" cy="232.8" r="9.5"/>
<circle cx="2126.8" cy="232.8" r="9.5"/>
<circle cx="2128.8" cy="232.7" r="9.5"/>
<circle cx="2130.8" cy="232.7" r="9.5"/>
<circle cx="2132.8" cy="232.7" r="9.5"/>
<circle cx="2134.8" cy="232.6" r="9.5"/>
<circle cx="2136.8" cy="232.6" r="9.5"/>
<circle cx="2138.7" cy="232.6" r="9.5"/>
<circle cx="2140.7" cy="232.6" r="9.5"/>
<circle cx="2142.7" cy="232.5" r="9.5"/>
<circle cx="2144.7" cy="232.5" r="9.5"/>
<circle cx="2146.7" cy="232.5" r="9.5"/>
<circle cx="2148.7" cy="232.5" r="9.5"/>
<circle cx="2150.7" cy="232.4" r="9.5"/>
<circle cx="2152.7" cy="232.4" r="9.5"/>
<circle cx="2154.7" cy="232.4" r="9.5"/>
<circle cx="2156.7" cy="232.4" r="9.5"/>
<circle cx="2158.7" cy="232.3" r="9.5"/>
<circle cx="2160.7" cy="232.3" r="9.5"/>
<circle cx="2162.6" cy="232.3" r="9.5"/>
<circle cx="2164.6" cy="232.3" r="9.5"/>
<circle cx="2166.6" cy="232.3" r="9.5"/>
<circle cx="2168.6" cy="232.2" r="9.5"/>
<circle cx="2170.6" cy="232.2" r="9.5"/>
<circle cx="2172.6" cy="232.2" r="9.5"/>
<circle cx="2174.6" cy="232.2" r="9.5"/>
<circle cx="2176.6" cy="232.2" r="9.5"/>
<circle cx="2178.6" cy="232.2" r="9.5"/>
<circle cx="2180.6" cy="232.1" r="9.5"/>
<circle cx="2182.6" cy="232.1" r="9.5"/>
<circle cx="2184.5" cy="232.1" r="9.5"/>
<circle cx="2186.5" cy="232.1" r="9.5"/>
</g>
<g stroke="#000" stroke-width="6.0" fill="none" stroke-linecap="square">
<path d="M346.5,18.9 V1500.0 H2186.5"/>
</g>
<g stroke="#000" stroke-width="6.0" fill="none">
<path d="M317.5,230.5 H346.5"/>
<path d="M317.5,653.7 H346.5"/>
<path d="M317.5,1076.8 H346.5"/>
<path d="M317.5,1500.0 H346.5"/>
<path d="M332.5,18.9 H346.5"/>
<path d="M332.5,442.1 H346.5"/>
<path d="M332.5,865.2 H346.5"/>
<path d="M332.5,1288.4 H346.5"/>
<path d="M430.1,1500.0 V1529.0"/>
<path d="M848.3,1500.0 V1529.0"/>
<path d="M1266.5,1500.0 V1529.0"/>
<path d="M1684.7,1500.0 V1529.0"/>
<path d="M2102.9,1500.0 V1529.0"/>
<path d="M639.2,1500.0 V1514.0"/>
<path d="M1057.4,1500.0 V1514.0"/>
<path d="M1475.6,1500.0 V1514.0"/>
<path d="M1893.8,1500.0 V1514.0"/>
</g>
<text x="297.0" y="249.5" font-size="63.0" text-anchor="end">1.00</text>
<text x="297.0" y="672.7" font-size="63.0" text-anchor="end">0.95</text>
<text x="297.0" y="1095.8" font-size="63.0" text-anchor="end">0.90</text>
<text x="297.0" y="1519.0" font-size="63.0" text-anchor="end">0.85</text>
<text x="425.1" y="1598.0" font-size="63.0" text-anchor="middle"><tspan dy="5.0">−</tspan><tspan dy="-5.0">10</tspan></text>
<text x="843.3" y="1598.0" font-size="63.0" text-anchor="middle"><tspan dy="5.0">−</tspan><tspan dy="-5.0">5</tspan></text>
<text x="1266.5" y="1598.0" font-size="63.0" text-anchor="middle">0</text>
<text x="1684.7" y="1598.0" font-size="63.0" text-anchor="middle">5</text>
<text x="2102.9" y="1598.0" font-size="63.0" text-anchor="middle">10</text>
<text x="1268.0" y="1717.0" font-size="78.0" text-anchor="middle">Velocity (mm/s)</text>
<text transform="translate(87.5,726.5) rotate(-90)" font-size="77.5" text-anchor="middle">Transmission (a.u.)</text>
<text x="360.3" y="987.8" font-size="50.0">Fitted curve</text>
<text x="365.5" y="1072.6" font-size="54.5">S-1 (A-site)</text>
<text x="365.5" y="1139.3" font-size="54.5">S-2 (B-site)</text>
<text x="365.5" y="1205.5" font-size="54.5">S-3</text>
<text x="365.5" y="1271.5" font-size="54.5">D-1</text>
<text x="365.5" y="1338.0" font-size="54.5">D-2</text>
<text x="365.5" y="1404.4" font-size="54.5">Experimental</text>
<text x="365.5" y="1468.7" font-size="54.5">data</text>
<path d="M742.0,977.5 H881.0" stroke="#e0181c" stroke-width="7.0"/>
<path d="M742.0,1052.9 H881.0" stroke="#b535e0" stroke-width="7.0"/>
<path d="M745.5,1123.5 H883.5" stroke="#000000" stroke-width="7.0"/>
<path d="M745.5,1172.6 H883.5" stroke="#1010c8" stroke-width="7.0"/>
<path d="M742.0,1246.4 H881.0" stroke="#22e022" stroke-width="7.0"/>
<path d="M742.0,1313.7 H881.0" stroke="#30e0e6" stroke-width="7.0"/>
<ellipse cx="806.6" cy="1400.6" rx="27.8" ry="23.6" fill="#c8c8cc" stroke="#1a14c8" stroke-width="4.3"/>
<polyline fill="none" stroke="#000000" stroke-width="2.5" points="1533.4,588.1 1534.2,588.1 1535.0,588.1 1535.8,588.1 1536.6,588.1 1537.4,588.1 1538.2,588.1 1539.1,588.1 1539.9,588.1 1540.7,588.1 1541.5,588.1 1542.3,588.1 1543.1,588.1 1543.9,588.1 1544.7,588.1 1545.5,588.1 1546.3,588.1 1547.1,588.1 1547.9,588.1 1548.7,588.1 1549.5,588.1 1550.4,588.1 1551.2,588.1 1552.0,588.1 1552.8,588.1 1553.6,588.1 1554.4,588.1 1555.2,588.1 1556.0,588.1 1556.8,588.1 1557.6,588.1 1558.4,588.1 1559.2,588.1 1560.0,588.1 1560.8,588.1 1561.7,588.1 1562.5,588.1 1563.3,588.1 1564.1,588.1 1564.9,588.1 1565.7,588.1 1566.5,588.1 1567.3,588.1 1568.1,588.1 1568.9,588.1 1569.7,588.1 1570.5,588.1 1571.3,588.1 1572.1,588.1 1573.0,588.1 1573.8,588.1 1574.6,588.1 1575.4,588.1 1576.2,588.1 1577.0,588.1 1577.8,588.1 1578.6,588.1 1579.4,588.1 1580.2,588.1 1581.0,588.1 1581.8,588.1 1582.6,588.1 1583.4,588.1 1584.3,588.1 1585.1,588.1 1585.9,588.1 1586.7,588.1 1587.5,588.1 1588.3,588.1 1589.1,588.1 1589.9,588.1 1590.7,588.1 1591.5,588.1 1592.3,588.1 1593.1,588.1 1593.9,588.1 1594.8,588.1 1595.6,588.1 1596.4,588.1 1597.2,588.1 1598.0,588.1 1598.8,588.1 1599.6,588.1 1600.4,588.1 1601.2,588.1 1602.0,588.1 1602.8,588.1 1603.6,588.1 1604.4,588.1 1605.2,588.1 1606.1,588.1 1606.9,588.1 1607.7,588.1 1608.5,588.1 1609.3,588.1 1610.1,588.1 1610.9,588.1 1611.7,588.1 1612.5,588.1 1613.3,588.1 1614.1,588.1 1614.9,588.1 1615.7,588.1 1616.5,588.1 1617.4,588.1 1618.2,588.1 1619.0,588.1 1619.8,588.1 1620.6,588.1 1621.4,588.1 1622.2,588.1 1623.0,588.1 1623.8,588.1 1624.6,588.1 1625.4,588.1 1626.2,588.1 1627.0,588.1 1627.8,588.1 1628.7,588.1 1629.5,588.1 1630.3,588.1 1631.1,588.1 1631.9,588.1 1632.7,588.1 1633.5,588.1 1634.3,588.1 1635.1,588.1 1635.9,588.1 1636.7,588.1 1637.5,588.1 1638.3,588.1 1639.1,588.1 1640.0,588.1 1640.8,588.1 1641.6,588.1 1642.4,588.1 1643.2,588.1 1644.0,588.1 1644.8,588.1 1645.6,588.1 1646.4,588.1 1647.2,588.1 1648.0,588.1 1648.8,588.1 1649.6,588.1 1650.5,588.1 1651.3,588.1 1652.1,588.1 1652.9,588.1 1653.7,588.1 1654.5,588.1 1655.3,588.1 1656.1,588.1 1656.9,588.1 1657.7,588.1 1658.5,588.1 1659.3,588.1 1660.1,588.1 1660.9,588.1 1661.8,588.1 1662.6,588.1 1663.4,588.1 1664.2,588.1 1665.0,588.1 1665.8,588.1 1666.6,588.1 1667.4,588.1 1668.2,588.1 1669.0,588.1 1669.8,588.1 1670.6,588.1 1671.4,588.1 1672.2,588.1 1673.1,588.1 1673.9,588.1 1674.7,588.1 1675.5,588.1 1676.3,588.1 1677.1,588.1 1677.9,588.1 1678.7,588.1 1679.5,588.1 1680.3,588.1 1681.1,588.1 1681.9,588.1 1682.7,588.1 1683.5,588.1 1684.4,588.1 1685.2,588.1 1686.0,588.1 1686.8,588.1 1687.6,588.0 1688.4,588.0 1689.2,588.0 1690.0,588.0 1690.8,588.0 1691.6,588.0 1692.4,588.0 1693.2,588.0 1694.0,588.0 1694.8,588.0 1695.7,588.0 1696.5,588.0 1697.3,588.0 1698.1,588.0 1698.9,588.0 1699.7,588.0 1700.5,588.0 1701.3,588.0 1702.1,588.0 1702.9,588.0 1703.7,588.0 1704.5,588.0 1705.3,588.0 1706.2,588.0 1707.0,588.0 1707.8,588.0 1708.6,588.0 1709.4,588.0 1710.2,588.0 1711.0,588.0 1711.8,588.0 1712.6,588.0 1713.4,588.0 1714.2,588.0 1715.0,588.0 1715.8,588.0 1716.6,588.0 1717.5,588.0 1718.3,588.0 1719.1,588.0 1719.9,588.0 1720.7,588.0 1721.5,588.0 1722.3,588.0 1723.1,588.0 1723.9,588.0 1724.7,588.0 1725.5,588.0 1726.3,588.0 1727.1,588.0 1727.9,588.0 1728.8,588.0 1729.6,588.0 1730.4,588.0 1731.2,588.0 1732.0,588.0 1732.8,588.0 1733.6,588.0 1734.4,588.0 1735.2,588.0 1736.0,588.0 1736.8,588.0 1737.6,588.0 1738.4,588.0 1739.2,588.0 1740.1,588.0 1740.9,588.0 1741.7,588.0 1742.5,588.0 1743.3,588.0 1744.1,588.0 1744.9,588.0 1745.7,588.0 1746.5,588.0 1747.3,588.0 1748.1,588.0 1748.9,588.0 1749.7,588.0 1750.6,588.0 1751.4,588.0 1752.2,588.0 1753.0,588.0 1753.8,588.0 1754.6,588.0 1755.4,588.0 1756.2,588.0 1757.0,588.0 1757.8,588.0 1758.6,588.0 1759.4,588.0 1760.2,588.0 1761.0,588.0 1761.9,588.0 1762.7,588.0 1763.5,588.0 1764.3,588.0 1765.1,588.0 1765.9,588.0 1766.7,588.0 1767.5,588.0 1768.3,588.0 1769.1,588.0 1769.9,588.0 1770.7,588.0 1771.5,588.0 1772.3,588.0 1773.2,588.0 1774.0,588.0 1774.8,588.0 1775.6,588.0 1776.4,588.0 1777.2,588.0 1778.0,588.0 1778.8,588.0 1779.6,588.0 1780.4,588.0 1781.2,588.0 1782.0,588.0 1782.8,588.0 1783.6,588.0 1784.5,588.0 1785.3,588.0 1786.1,588.0 1786.9,588.0 1787.7,588.0 1788.5,588.0 1789.3,588.0 1790.1,588.0 1790.9,588.0 1791.7,588.0 1792.5,588.0 1793.3,588.0 1794.1,588.0 1794.9,588.0 1795.8,588.0 1796.6,588.0 1797.4,588.0 1798.2,588.0 1799.0,588.0 1799.8,588.0 1800.6,588.0 1801.4,588.0 1802.2,588.0 1803.0,588.0 1803.8,588.0 1804.6,588.0 1805.4,588.0 1806.3,588.0 1807.1,588.0 1807.9,588.0 1808.7,588.0 1809.5,588.0 1810.3,588.0 1811.1,588.0 1811.9,588.0 1812.7,588.0 1813.5,588.0 1814.3,588.0 1815.1,588.0 1815.9,588.0 1816.7,588.0 1817.6,588.0 1818.4,588.0 1819.2,588.0 1820.0,588.0 1820.8,588.0 1821.6,588.0 1822.4,588.0 1823.2,588.0 1824.0,588.0 1824.8,588.0 1825.6,588.0 1826.4,588.0 1827.2,588.0 1828.0,588.0 1828.9,588.0 1829.7,588.0 1830.5,588.0 1831.3,588.0 1832.1,588.0 1832.9,588.0 1833.7,588.0 1834.5,588.0 1835.3,588.0 1836.1,588.0 1836.9,588.0 1837.7,588.0 1838.5,588.0 1839.3,588.0 1840.2,588.0 1841.0,588.0 1841.8,588.0 1842.6,588.0 1843.4,588.0 1844.2,588.0 1845.0,588.0 1845.8,588.0 1846.6,588.0 1847.4,588.0 1848.2,588.0 1849.0,588.0 1849.8,588.0 1850.6,588.0 1851.5,588.0 1852.3,588.0 1853.1,588.0 1853.9,588.0 1854.7,588.0 1855.5,588.0 1856.3,588.0 1857.1,588.0 1857.9,588.0 1858.7,588.0 1859.5,588.0 1860.3,588.0 1861.1,588.0 1862.0,588.0 1862.8,588.0 1863.6,588.0 1864.4,588.0 1865.2,588.0 1866.0,588.0 1866.8,588.0 1867.6,588.0 1868.4,588.0 1869.2,588.0 1870.0,588.0 1870.8,588.0 1871.6,588.0 1872.4,588.0 1873.3,588.0 1874.1,588.0 1874.9,588.0 1875.7,588.0 1876.5,588.0 1877.3,588.0 1878.1,588.0 1878.9,588.0 1879.7,588.0 1880.5,588.0 1881.3,588.0 1882.1,588.0 1882.9,588.0 1883.7,588.0 1884.6,588.0 1885.4,588.0 1886.2,588.0 1887.0,588.0 1887.8,588.0 1888.6,588.0 1889.4,588.0 1890.2,588.0 1891.0,588.0 1891.8,588.0 1892.6,588.0 1893.4,588.0 1894.2,588.0 1895.0,588.0 1895.9,588.0 1896.7,588.0 1897.5,588.0 1898.3,588.0 1899.1,588.0 1899.9,588.0 1900.7,588.0 1901.5,588.0 1902.3,588.0 1903.1,588.0 1903.9,588.0 1904.7,588.0 1905.5,588.0 1906.3,588.0 1907.2,588.0 1908.0,588.0 1908.8,588.0 1909.6,588.0 1910.4,588.0 1911.2,588.0 1912.0,588.0 1912.8,588.0 1913.6,588.0 1914.4,588.0 1915.2,588.0 1916.0,588.0 1916.8,588.0 1917.7,588.0 1918.5,588.0 1919.3,588.0 1920.1,588.0 1920.9,588.0 1921.7,588.0 1922.5,588.0 1923.3,588.0 1924.1,588.0 1924.9,588.0 1925.7,588.0 1926.5,588.0 1927.3,588.0 1928.1,588.0 1929.0,588.0 1929.8,588.0 1930.6,588.0 1931.4,588.0 1932.2,588.0 1933.0,588.0 1933.8,588.0 1934.6,588.0 1935.4,588.0 1936.2,588.0 1937.0,588.0 1937.8,588.0 1938.6,588.0 1939.4,588.0 1940.3,588.0 1941.1,588.0 1941.9,588.0 1942.7,588.0 1943.5,588.0 1944.3,588.0 1945.1,588.0 1945.9,588.0 1946.7,588.0 1947.5,588.0 1948.3,588.0 1949.1,588.0 1949.9,588.0 1950.7,588.0 1951.6,588.0 1952.4,588.0 1953.2,588.0 1954.0,588.0 1954.8,588.0 1955.6,588.0 1956.4,588.0 1957.2,588.0 1958.0,588.0 1958.8,588.0 1959.6,588.0 1960.4,588.0 1961.2,588.0 1962.0,588.0 1962.9,588.0 1963.7,588.0 1964.5,588.0 1965.3,588.0 1966.1,588.0 1966.9,588.0 1967.7,588.0 1968.5,588.0 1969.3,588.0 1970.1,588.0 1970.9,588.0 1971.7,588.0 1972.5,588.0 1973.4,588.0 1974.2,588.0 1975.0,588.0 1975.8,588.0 1976.6,588.0 1977.4,588.0 1978.2,588.0 1979.0,588.0 1979.8,588.0 1980.6,588.0 1981.4,588.0 1982.2,588.0 1983.0,588.0 1983.8,588.0 1984.7,588.0 1985.5,588.0 1986.3,588.0 1987.1,588.0 1987.9,588.0 1988.7,588.0 1989.5,588.0 1990.3,588.0 1991.1,588.0 1991.9,588.0 1992.7,588.0 1993.5,588.0 1994.3,588.0 1995.1,588.0 1996.0,588.0 1996.8,588.0 1997.6,588.0 1998.4,588.0 1999.2,588.0 2000.0,588.0 2000.8,588.0 2001.6,588.0 2002.4,588.0 2003.2,588.0 2004.0,588.0 2004.8,588.0 2005.6,588.0 2006.4,588.0 2007.3,588.0 2008.1,588.0 2008.9,588.0 2009.7,588.0 2010.5,588.0 2011.3,588.0 2012.1,588.0 2012.9,588.0 2013.7,588.0 2014.5,588.0 2015.3,588.0 2016.1,588.0 2016.9,588.0 2017.7,588.0 2018.6,588.0 2019.4,588.0 2020.2,588.0 2021.0,588.0 2021.8,588.0 2022.6,588.0 2023.4,588.0 2024.2,588.0 2025.0,588.0 2025.8,588.0 2026.6,588.0 2027.4,588.0 2028.2,588.0 2029.1,588.0 2029.9,588.0 2030.7,588.0 2031.5,588.0 2032.3,588.0 2033.1,588.0 2033.9,588.0 2034.7,588.0 2035.5,588.0 2036.3,588.0 2037.1,588.0 2037.9,588.0 2038.7,588.0 2039.5,588.0 2040.4,588.0 2041.2,588.0 2042.0,588.0 2042.8,588.0 2043.6,588.0 2044.4,588.0 2045.2,588.0 2046.0,588.0 2046.8,588.0 2047.6,588.0 2048.4,588.0 2049.2,588.0 2050.0,588.0 2050.8,588.0 2051.7,588.0 2052.5,588.0 2053.3,588.0 2054.1,588.0 2054.9,588.0 2055.7,588.0 2056.5,588.0 2057.3,588.0 2058.1,588.0 2058.9,588.0 2059.7,588.0 2060.5,588.0 2061.3,588.0 2062.1,588.0 2063.0,588.0 2063.8,588.0 2064.6,588.0 2065.4,588.0 2066.2,588.0 2067.0,588.0 2067.8,588.0 2068.6,588.0 2069.4,588.0 2070.2,588.0 2071.0,588.0 2071.8,588.0 2072.6,588.0 2073.5,588.0 2074.3,588.0 2075.1,588.0 2075.9,588.0 2076.7,588.0 2077.5,588.0 2078.3,588.0 2079.1,588.0 2079.9,588.0 2080.7,588.0 2081.5,588.0 2082.3,588.0 2083.1,588.0 2083.9,588.0 2084.8,588.0 2085.6,588.0 2086.4,588.0 2087.2,588.0 2088.0,588.0 2088.8,588.0 2089.6,588.0 2090.4,588.0 2091.2,588.0 2092.0,588.0 2092.8,588.0 2093.6,588.0 2094.4,588.0 2095.2,588.0 2096.1,588.0 2096.9,588.0 2097.7,588.0 2098.5,588.0 2099.3,588.0 2100.1,588.0 2100.9,588.0 2101.7,588.0 2102.5,588.0 2103.3,588.0 2104.1,588.0 2104.9,588.0 2105.7,588.0 2106.5,588.0 2107.4,588.0 2108.2,588.0 2109.0,588.0 2109.8,588.0 2110.6,588.0 2111.4,588.0 2112.2,588.0 2113.0,588.0 2113.8,588.0 2114.6,588.0 2115.4,588.0 2116.2,588.0 2117.0,588.0 2117.8,588.0 2118.7,588.0 2119.5,588.0 2120.3,588.0 2121.1,588.0 2121.9,588.0 2122.7,588.0 2123.5,588.0 2124.3,588.0 2125.1,588.0 2125.9,588.0 2126.7,588.0 2127.5,588.0 2128.3,588.0 2129.2,588.0 2130.0,588.0 2130.8,588.0 2131.6,588.1 2132.4,588.1 2133.2,588.1 2134.0,588.1 2134.8,588.1 2135.6,588.1 2136.4,588.1 2137.2,588.1 2138.0,588.1 2138.8,588.1 2139.6,588.1 2140.5,588.1 2141.3,588.1 2142.1,588.1 2142.9,588.1 2143.7,588.1 2144.5,588.1 2145.3,588.1 2146.1,588.1 2146.9,588.1 2147.7,588.1 2148.5,588.1 2149.3,588.1 2150.1,588.1 2150.9,588.1 2151.8,588.1 2152.6,588.1 2153.4,588.1 2154.2,588.1 2155.0,588.1 2155.8,588.1 2156.6,588.1 2157.4,588.1 2158.2,588.1 2159.0,588.1 2159.8,588.1 2160.6,588.1 2161.4,588.1 2162.2,588.1 2163.1,588.1 2163.9,588.1 2164.7,588.1 2165.5,588.1 2166.3,588.1 2167.1,588.1 2167.9,588.1 2168.7,588.1 2169.5,588.1 2170.3,588.1 2171.1,588.1 2171.9,588.1 2172.7,588.1 2173.5,588.1 2174.4,588.1 2175.2,588.1 2176.0,588.1 2176.8,588.1 2177.6,588.1 2178.4,588.1 2179.2,588.1"/>
<polyline fill="none" stroke="#b83ee6" stroke-width="3.0" points="1533.4,588.2 1534.2,588.2 1535.0,588.2 1535.8,588.2 1536.6,588.2 1537.4,588.2 1538.2,588.2 1539.1,588.2 1539.9,588.2 1540.7,588.2 1541.5,588.2 1542.3,588.2 1543.1,588.2 1543.9,588.2 1544.7,588.2 1545.5,588.2 1546.3,588.2 1547.1,588.2 1547.9,588.2 1548.7,588.2 1549.5,588.2 1550.4,588.2 1551.2,588.2 1552.0,588.2 1552.8,588.2 1553.6,588.2 1554.4,588.2 1555.2,588.2 1556.0,588.2 1556.8,588.2 1557.6,588.2 1558.4,588.2 1559.2,588.3 1560.0,588.3 1560.8,588.3 1561.7,588.3 1562.5,588.3 1563.3,588.3 1564.1,588.3 1564.9,588.3 1565.7,588.3 1566.5,588.3 1567.3,588.3 1568.1,588.3 1568.9,588.3 1569.7,588.3 1570.5,588.3 1571.3,588.3 1572.1,588.3 1573.0,588.3 1573.8,588.3 1574.6,588.3 1575.4,588.3 1576.2,588.3 1577.0,588.3 1577.8,588.3 1578.6,588.3 1579.4,588.3 1580.2,588.3 1581.0,588.3 1581.8,588.3 1582.6,588.3 1583.4,588.3 1584.3,588.3 1585.1,588.4 1585.9,588.4 1586.7,588.4 1587.5,588.4 1588.3,588.4 1589.1,588.4 1589.9,588.4 1590.7,588.4 1591.5,588.4 1592.3,588.4 1593.1,588.4 1593.9,588.4 1594.8,588.4 1595.6,588.4 1596.4,588.4 1597.2,588.4 1598.0,588.4 1598.8,588.5 1599.6,588.5 1600.4,588.5 1601.2,588.5 1602.0,588.5 1602.8,588.5 1603.6,588.5 1604.4,588.5 1605.2,588.5 1606.1,588.5 1606.9,588.5 1607.7,588.5 1608.5,588.5 1609.3,588.6 1610.1,588.6 1610.9,588.6 1611.7,588.6 1612.5,588.6 1613.3,588.6 1614.1,588.6 1614.9,588.6 1615.7,588.6 1616.5,588.7 1617.4,588.7 1618.2,588.7 1619.0,588.7 1619.8,588.7 1620.6,588.7 1621.4,588.7 1622.2,588.7 1623.0,588.8 1623.8,588.8 1624.6,588.8 1625.4,588.8 1626.2,588.8 1627.0,588.8 1627.8,588.8 1628.7,588.9 1629.5,588.9 1630.3,588.9 1631.1,588.9 1631.9,588.9 1632.7,588.9 1633.5,589.0 1634.3,589.0 1635.1,589.0 1635.9,589.0 1636.7,589.0 1637.5,589.1 1638.3,589.1 1639.1,589.1 1640.0,589.1 1640.8,589.1 1641.6,589.2 1642.4,589.2 1643.2,589.2 1644.0,589.2 1644.8,589.2 1645.6,589.3 1646.4,589.3 1647.2,589.3 1648.0,589.3 1648.8,589.3 1649.6,589.4 1650.5,589.4 1651.3,589.4 1652.1,589.4 1652.9,589.5 1653.7,589.5 1654.5,589.5 1655.3,589.5 1656.1,589.6 1656.9,589.6 1657.7,589.6 1658.5,589.6 1659.3,589.7 1660.1,589.7 1660.9,589.7 1661.8,589.7 1662.6,589.8 1663.4,589.8 1664.2,589.8 1665.0,589.9 1665.8,589.9 1666.6,589.9 1667.4,589.9 1668.2,590.0 1669.0,590.0 1669.8,590.0 1670.6,590.0 1671.4,590.1 1672.2,590.1 1673.1,590.1 1673.9,590.2 1674.7,590.2 1675.5,590.2 1676.3,590.2 1677.1,590.3 1677.9,590.3 1678.7,590.3 1679.5,590.3 1680.3,590.4 1681.1,590.4 1681.9,590.4 1682.7,590.4 1683.5,590.5 1684.4,590.5 1685.2,590.5 1686.0,590.5 1686.8,590.6 1687.6,590.6 1688.4,590.6 1689.2,590.6 1690.0,590.7 1690.8,590.7 1691.6,590.7 1692.4,590.7 1693.2,590.7 1694.0,590.8 1694.8,590.8 1695.7,590.8 1696.5,590.8 1697.3,590.8 1698.1,590.8 1698.9,590.9 1699.7,590.9 1700.5,590.9 1701.3,590.9 1702.1,590.9 1702.9,590.9 1703.7,590.9 1704.5,590.9 1705.3,590.9 1706.2,591.0 1707.0,591.0 1707.8,591.0 1708.6,591.0 1709.4,591.0 1710.2,591.0 1711.0,591.0 1711.8,591.0 1712.6,591.0 1713.4,591.0 1714.2,591.0 1715.0,591.0 1715.8,591.0 1716.6,590.9 1717.5,590.9 1718.3,590.9 1719.1,590.9 1719.9,590.9 1720.7,590.9 1721.5,590.9 1722.3,590.9 1723.1,590.9 1723.9,590.9 1724.7,590.8 1725.5,590.8 1726.3,590.8 1727.1,590.8 1727.9,590.8 1728.8,590.7 1729.6,590.7 1730.4,590.7 1731.2,590.7 1732.0,590.7 1732.8,590.6 1733.6,590.6 1734.4,590.6 1735.2,590.6 1736.0,590.6 1736.8,590.5 1737.6,590.5 1738.4,590.5 1739.2,590.5 1740.1,590.4 1740.9,590.4 1741.7,590.4 1742.5,590.4 1743.3,590.3 1744.1,590.3 1744.9,590.3 1745.7,590.2 1746.5,590.2 1747.3,590.2 1748.1,590.2 1748.9,590.1 1749.7,590.1 1750.6,590.1 1751.4,590.1 1752.2,590.0 1753.0,590.0 1753.8,590.0 1754.6,590.0 1755.4,589.9 1756.2,589.9 1757.0,589.9 1757.8,589.8 1758.6,589.8 1759.4,589.8 1760.2,589.8 1761.0,589.7 1761.9,589.7 1762.7,589.7 1763.5,589.7 1764.3,589.6 1765.1,589.6 1765.9,589.6 1766.7,589.6 1767.5,589.5 1768.3,589.5 1769.1,589.5 1769.9,589.5 1770.7,589.4 1771.5,589.4 1772.3,589.4 1773.2,589.4 1774.0,589.3 1774.8,589.3 1775.6,589.3 1776.4,589.3 1777.2,589.3 1778.0,589.2 1778.8,589.2 1779.6,589.2 1780.4,589.2 1781.2,589.2 1782.0,589.1 1782.8,589.1 1783.6,589.1 1784.5,589.1 1785.3,589.1 1786.1,589.0 1786.9,589.0 1787.7,589.0 1788.5,589.0 1789.3,589.0 1790.1,589.0 1790.9,588.9 1791.7,588.9 1792.5,588.9 1793.3,588.9 1794.1,588.9 1794.9,588.9 1795.8,588.8 1796.6,588.8 1797.4,588.8 1798.2,588.8 1799.0,588.8 1799.8,588.8 1800.6,588.8 1801.4,588.8 1802.2,588.7 1803.0,588.7 1803.8,588.7 1804.6,588.7 1805.4,588.7 1806.3,588.7 1807.1,588.7 1807.9,588.7 1808.7,588.6 1809.5,588.6 1810.3,588.6 1811.1,588.6 1811.9,588.6 1812.7,588.6 1813.5,588.6 1814.3,588.6 1815.1,588.6 1815.9,588.6 1816.7,588.6 1817.6,588.5 1818.4,588.5 1819.2,588.5 1820.0,588.5 1820.8,588.5 1821.6,588.5 1822.4,588.5 1823.2,588.5 1824.0,588.5 1824.8,588.5 1825.6,588.5 1826.4,588.5 1827.2,588.5 1828.0,588.5 1828.9,588.5 1829.7,588.5 1830.5,588.4 1831.3,588.4 1832.1,588.4 1832.9,588.4 1833.7,588.4 1834.5,588.4 1835.3,588.4 1836.1,588.4 1836.9,588.4 1837.7,588.4 1838.5,588.4 1839.3,588.4 1840.2,588.4 1841.0,588.4 1841.8,588.4 1842.6,588.4 1843.4,588.4 1844.2,588.4 1845.0,588.4 1845.8,588.4 1846.6,588.4 1847.4,588.4 1848.2,588.4 1849.0,588.4 1849.8,588.4 1850.6,588.4 1851.5,588.4 1852.3,588.3 1853.1,588.3 1853.9,588.3 1854.7,588.3 1855.5,588.3 1856.3,588.3 1857.1,588.3 1857.9,588.3 1858.7,588.3 1859.5,588.3 1860.3,588.3 1861.1,588.3 1862.0,588.3 1862.8,588.3 1863.6,588.3 1864.4,588.3 1865.2,588.3 1866.0,588.3 1866.8,588.3 1867.6,588.3 1868.4,588.3 1869.2,588.3 1870.0,588.3 1870.8,588.3 1871.6,588.3 1872.4,588.3 1873.3,588.3 1874.1,588.3 1874.9,588.3 1875.7,588.3 1876.5,588.3 1877.3,588.3 1878.1,588.3 1878.9,588.3 1879.7,588.3 1880.5,588.3 1881.3,588.3 1882.1,588.3 1882.9,588.3 1883.7,588.3 1884.6,588.3 1885.4,588.3 1886.2,588.3 1887.0,588.3 1887.8,588.3 1888.6,588.3 1889.4,588.3 1890.2,588.3 1891.0,588.3 1891.8,588.3 1892.6,588.3 1893.4,588.3 1894.2,588.3 1895.0,588.3 1895.9,588.3 1896.7,588.3 1897.5,588.3 1898.3,588.3 1899.1,588.3 1899.9,588.3 1900.7,588.3 1901.5,588.3 1902.3,588.3 1903.1,588.3 1903.9,588.3 1904.7,588.3 1905.5,588.3 1906.3,588.3 1907.2,588.3 1908.0,588.3 1908.8,588.3 1909.6,588.3 1910.4,588.3 1911.2,588.3 1912.0,588.3 1912.8,588.3 1913.6,588.3 1914.4,588.3 1915.2,588.3 1916.0,588.3 1916.8,588.3 1917.7,588.3 1918.5,588.3 1919.3,588.3 1920.1,588.3 1920.9,588.3 1921.7,588.3 1922.5,588.3 1923.3,588.3 1924.1,588.3 1924.9,588.3 1925.7,588.3 1926.5,588.3 1927.3,588.3 1928.1,588.3 1929.0,588.3 1929.8,588.3 1930.6,588.3 1931.4,588.4 1932.2,588.4 1933.0,588.4 1933.8,588.4 1934.6,588.4 1935.4,588.4 1936.2,588.4 1937.0,588.4 1937.8,588.4 1938.6,588.4 1939.4,588.4 1940.3,588.4 1941.1,588.4 1941.9,588.4 1942.7,588.4 1943.5,588.4 1944.3,588.4 1945.1,588.4 1945.9,588.4 1946.7,588.4 1947.5,588.4 1948.3,588.4 1949.1,588.4 1949.9,588.4 1950.7,588.4 1951.6,588.4 1952.4,588.4 1953.2,588.4 1954.0,588.4 1954.8,588.4 1955.6,588.4 1956.4,588.5 1957.2,588.5 1958.0,588.5 1958.8,588.5 1959.6,588.5 1960.4,588.5 1961.2,588.5 1962.0,588.5 1962.9,588.5 1963.7,588.5 1964.5,588.5 1965.3,588.5 1966.1,588.5 1966.9,588.5 1967.7,588.5 1968.5,588.6 1969.3,588.6 1970.1,588.6 1970.9,588.6 1971.7,588.6 1972.5,588.6 1973.4,588.6 1974.2,588.6 1975.0,588.6 1975.8,588.6 1976.6,588.7 1977.4,588.7 1978.2,588.7 1979.0,588.7 1979.8,588.7 1980.6,588.7 1981.4,588.7 1982.2,588.7 1983.0,588.8 1983.8,588.8 1984.7,588.8 1985.5,588.8 1986.3,588.8 1987.1,588.8 1987.9,588.8 1988.7,588.9 1989.5,588.9 1990.3,588.9 1991.1,588.9 1991.9,588.9 1992.7,589.0 1993.5,589.0 1994.3,589.0 1995.1,589.0 1996.0,589.0 1996.8,589.1 1997.6,589.1 1998.4,589.1 1999.2,589.1 2000.0,589.2 2000.8,589.2 2001.6,589.2 2002.4,589.2 2003.2,589.3 2004.0,589.3 2004.8,589.3 2005.6,589.3 2006.4,589.4 2007.3,589.4 2008.1,589.4 2008.9,589.5 2009.7,589.5 2010.5,589.5 2011.3,589.6 2012.1,589.6 2012.9,589.6 2013.7,589.7 2014.5,589.7 2015.3,589.7 2016.1,589.8 2016.9,589.8 2017.7,589.8 2018.6,589.9 2019.4,589.9 2020.2,590.0 2021.0,590.0 2021.8,590.0 2022.6,590.1 2023.4,590.1 2024.2,590.2 2025.0,590.2 2025.8,590.3 2026.6,590.3 2027.4,590.3 2028.2,590.4 2029.1,590.4 2029.9,590.5 2030.7,590.5 2031.5,590.6 2032.3,590.6 2033.1,590.7 2033.9,590.7 2034.7,590.7 2035.5,590.8 2036.3,590.8 2037.1,590.9 2037.9,590.9 2038.7,591.0 2039.5,591.0 2040.4,591.1 2041.2,591.1 2042.0,591.2 2042.8,591.2 2043.6,591.3 2044.4,591.3 2045.2,591.4 2046.0,591.4 2046.8,591.5 2047.6,591.5 2048.4,591.6 2049.2,591.6 2050.0,591.6 2050.8,591.7 2051.7,591.7 2052.5,591.8 2053.3,591.8 2054.1,591.9 2054.9,591.9 2055.7,591.9 2056.5,592.0 2057.3,592.0 2058.1,592.0 2058.9,592.1 2059.7,592.1 2060.5,592.1 2061.3,592.2 2062.1,592.2 2063.0,592.2 2063.8,592.3 2064.6,592.3 2065.4,592.3 2066.2,592.3 2067.0,592.3 2067.8,592.4 2068.6,592.4 2069.4,592.4 2070.2,592.4 2071.0,592.4 2071.8,592.4 2072.6,592.4 2073.5,592.4 2074.3,592.4 2075.1,592.4 2075.9,592.4 2076.7,592.4 2077.5,592.4 2078.3,592.4 2079.1,592.4 2079.9,592.4 2080.7,592.4 2081.5,592.3 2082.3,592.3 2083.1,592.3 2083.9,592.3 2084.8,592.2 2085.6,592.2 2086.4,592.2 2087.2,592.2 2088.0,592.1 2088.8,592.1 2089.6,592.1 2090.4,592.0 2091.2,592.0 2092.0,592.0 2092.8,591.9 2093.6,591.9 2094.4,591.8 2095.2,591.8 2096.1,591.8 2096.9,591.7 2097.7,591.7 2098.5,591.6 2099.3,591.6 2100.1,591.5 2100.9,591.5 2101.7,591.5 2102.5,591.4 2103.3,591.4 2104.1,591.3 2104.9,591.3 2105.7,591.2 2106.5,591.2 2107.4,591.1 2108.2,591.1 2109.0,591.0 2109.8,591.0 2110.6,590.9 2111.4,590.9 2112.2,590.8 2113.0,590.8 2113.8,590.7 2114.6,590.7 2115.4,590.6 2116.2,590.6 2117.0,590.5 2117.8,590.5 2118.7,590.5 2119.5,590.4 2120.3,590.4 2121.1,590.3 2121.9,590.3 2122.7,590.2 2123.5,590.2 2124.3,590.2 2125.1,590.1 2125.9,590.1 2126.7,590.0 2127.5,590.0 2128.3,589.9 2129.2,589.9 2130.0,589.9 2130.8,589.8 2131.6,589.8 2132.4,589.8 2133.2,589.7 2134.0,589.7 2134.8,589.6 2135.6,589.6 2136.4,589.6 2137.2,589.5 2138.0,589.5 2138.8,589.5 2139.6,589.4 2140.5,589.4 2141.3,589.4 2142.1,589.4 2142.9,589.3 2143.7,589.3 2144.5,589.3 2145.3,589.2 2146.1,589.2 2146.9,589.2 2147.7,589.2 2148.5,589.1 2149.3,589.1 2150.1,589.1 2150.9,589.1 2151.8,589.0 2152.6,589.0 2153.4,589.0 2154.2,589.0 2155.0,589.0 2155.8,588.9 2156.6,588.9 2157.4,588.9 2158.2,588.9 2159.0,588.9 2159.8,588.8 2160.6,588.8 2161.4,588.8 2162.2,588.8 2163.1,588.8 2163.9,588.8 2164.7,588.7 2165.5,588.7 2166.3,588.7 2167.1,588.7 2167.9,588.7 2168.7,588.7 2169.5,588.7 2170.3,588.6 2171.1,588.6 2171.9,588.6 2172.7,588.6 2173.5,588.6 2174.4,588.6 2175.2,588.6 2176.0,588.6 2176.8,588.6 2177.6,588.5 2178.4,588.5 2179.2,588.5"/>
<polyline fill="none" stroke="#1212c8" stroke-width="3.5" points="1533.4,589.7 1534.2,589.7 1535.0,589.7 1535.8,589.7 1536.6,589.7 1537.4,589.7 1538.2,589.7 1539.1,589.7 1539.9,589.8 1540.7,589.8 1541.5,589.8 1542.3,589.8 1543.1,589.8 1543.9,589.8 1544.7,589.8 1545.5,589.8 1546.3,589.8 1547.1,589.8 1547.9,589.8 1548.7,589.9 1549.5,589.9 1550.4,589.9 1551.2,589.9 1552.0,589.9 1552.8,589.9 1553.6,589.9 1554.4,589.9 1555.2,589.9 1556.0,589.9 1556.8,590.0 1557.6,590.0 1558.4,590.0 1559.2,590.0 1560.0,590.0 1560.8,590.0 1561.7,590.0 1562.5,590.0 1563.3,590.0 1564.1,590.1 1564.9,590.1 1565.7,590.1 1566.5,590.1 1567.3,590.1 1568.1,590.1 1568.9,590.1 1569.7,590.1 1570.5,590.2 1571.3,590.2 1572.1,590.2 1573.0,590.2 1573.8,590.2 1574.6,590.2 1575.4,590.2 1576.2,590.3 1577.0,590.3 1577.8,590.3 1578.6,590.3 1579.4,590.3 1580.2,590.3 1581.0,590.3 1581.8,590.4 1582.6,590.4 1583.4,590.4 1584.3,590.4 1585.1,590.4 1585.9,590.4 1586.7,590.5 1587.5,590.5 1588.3,590.5 1589.1,590.5 1589.9,590.5 1590.7,590.5 1591.5,590.6 1592.3,590.6 1593.1,590.6 1593.9,590.6 1594.8,590.6 1595.6,590.7 1596.4,590.7 1597.2,590.7 1598.0,590.7 1598.8,590.7 1599.6,590.7 1600.4,590.8 1601.2,590.8 1602.0,590.8 1602.8,590.8 1603.6,590.8 1604.4,590.9 1605.2,590.9 1606.1,590.9 1606.9,590.9 1607.7,591.0 1608.5,591.0 1609.3,591.0 1610.1,591.0 1610.9,591.1 1611.7,591.1 1612.5,591.1 1613.3,591.1 1614.1,591.1 1614.9,591.2 1615.7,591.2 1616.5,591.2 1617.4,591.2 1618.2,591.3 1619.0,591.3 1619.8,591.3 1620.6,591.4 1621.4,591.4 1622.2,591.4 1623.0,591.4 1623.8,591.5 1624.6,591.5 1625.4,591.5 1626.2,591.6 1627.0,591.6 1627.8,591.6 1628.7,591.6 1629.5,591.7 1630.3,591.7 1631.1,591.7 1631.9,591.8 1632.7,591.8 1633.5,591.8 1634.3,591.9 1635.1,591.9 1635.9,591.9 1636.7,592.0 1637.5,592.0 1638.3,592.0 1639.1,592.1 1640.0,592.1 1640.8,592.2 1641.6,592.2 1642.4,592.2 1643.2,592.3 1644.0,592.3 1644.8,592.3 1645.6,592.4 1646.4,592.4 1647.2,592.5 1648.0,592.5 1648.8,592.6 1649.6,592.6 1650.5,592.6 1651.3,592.7 1652.1,592.7 1652.9,592.8 1653.7,592.8 1654.5,592.9 1655.3,592.9 1656.1,593.0 1656.9,593.0 1657.7,593.1 1658.5,593.1 1659.3,593.2 1660.1,593.2 1660.9,593.3 1661.8,593.3 1662.6,593.4 1663.4,593.4 1664.2,593.5 1665.0,593.5 1665.8,593.6 1666.6,593.6 1667.4,593.7 1668.2,593.8 1669.0,593.8 1669.8,593.9 1670.6,593.9 1671.4,594.0 1672.2,594.1 1673.1,594.1 1673.9,594.2 1674.7,594.2 1675.5,594.3 1676.3,594.4 1677.1,594.4 1677.9,594.5 1678.7,594.6 1679.5,594.6 1680.3,594.7 1681.1,594.8 1681.9,594.9 1682.7,594.9 1683.5,595.0 1684.4,595.1 1685.2,595.2 1686.0,595.2 1686.8,595.3 1687.6,595.4 1688.4,595.5 1689.2,595.6 1690.0,595.6 1690.8,595.7 1691.6,595.8 1692.4,595.9 1693.2,596.0 1694.0,596.1 1694.8,596.2 1695.7,596.2 1696.5,596.3 1697.3,596.4 1698.1,596.5 1698.9,596.6 1699.7,596.7 1700.5,596.8 1701.3,596.9 1702.1,597.0 1702.9,597.1 1703.7,597.2 1704.5,597.3 1705.3,597.4 1706.2,597.5 1707.0,597.6 1707.8,597.7 1708.6,597.8 1709.4,597.9 1710.2,598.0 1711.0,598.1 1711.8,598.2 1712.6,598.3 1713.4,598.4 1714.2,598.5 1715.0,598.7 1715.8,598.8 1716.6,598.9 1717.5,599.0 1718.3,599.1 1719.1,599.2 1719.9,599.3 1720.7,599.5 1721.5,599.6 1722.3,599.7 1723.1,599.8 1723.9,599.9 1724.7,600.0 1725.5,600.2 1726.3,600.3 1727.1,600.4 1727.9,600.5 1728.8,600.6 1729.6,600.7 1730.4,600.9 1731.2,601.0 1732.0,601.1 1732.8,601.2 1733.6,601.3 1734.4,601.4 1735.2,601.6 1736.0,601.7 1736.8,601.8 1737.6,601.9 1738.4,602.0 1739.2,602.1 1740.1,602.2 1740.9,602.3 1741.7,602.4 1742.5,602.5 1743.3,602.6 1744.1,602.7 1744.9,602.8 1745.7,602.9 1746.5,603.0 1747.3,603.1 1748.1,603.2 1748.9,603.3 1749.7,603.4 1750.6,603.5 1751.4,603.5 1752.2,603.6 1753.0,603.7 1753.8,603.8 1754.6,603.8 1755.4,603.9 1756.2,604.0 1757.0,604.0 1757.8,604.1 1758.6,604.1 1759.4,604.2 1760.2,604.2 1761.0,604.3 1761.9,604.3 1762.7,604.3 1763.5,604.4 1764.3,604.4 1765.1,604.4 1765.9,604.4 1766.7,604.4 1767.5,604.5 1768.3,604.5 1769.1,604.5 1769.9,604.5 1770.7,604.4 1771.5,604.4 1772.3,604.3 1773.2,604.2 1774.0,604.1 1774.8,604.0 1775.6,603.8 1776.4,603.7 1777.2,603.5 1778.0,603.3 1778.8,603.1 1779.6,602.9 1780.4,602.7 1781.2,602.5 1782.0,602.2 1782.8,602.0 1783.6,601.7 1784.5,601.5 1785.3,601.2 1786.1,601.0 1786.9,600.7 1787.7,600.4 1788.5,600.2 1789.3,599.9 1790.1,599.7 1790.9,599.4 1791.7,599.1 1792.5,598.9 1793.3,598.6 1794.1,598.4 1794.9,598.2 1795.8,597.9 1796.6,597.7 1797.4,597.4 1798.2,597.2 1799.0,597.0 1799.8,596.8 1800.6,596.6 1801.4,596.4 1802.2,596.2 1803.0,596.0 1803.8,595.8 1804.6,595.6 1805.4,595.4 1806.3,595.3 1807.1,595.1 1807.9,594.9 1808.7,594.8 1809.5,594.6 1810.3,594.4 1811.1,594.3 1811.9,594.2 1812.7,594.0 1813.5,593.9 1814.3,593.8 1815.1,593.6 1815.9,593.5 1816.7,593.4 1817.6,593.3 1818.4,593.2 1819.2,593.0 1820.0,592.9 1820.8,592.8 1821.6,592.7 1822.4,592.6 1823.2,592.5 1824.0,592.5 1824.8,592.4 1825.6,592.3 1826.4,592.2 1827.2,592.1 1828.0,592.0 1828.9,592.0 1829.7,591.9 1830.5,591.8 1831.3,591.7 1832.1,591.7 1832.9,591.6 1833.7,591.5 1834.5,591.5 1835.3,591.4 1836.1,591.4 1836.9,591.3 1837.7,591.2 1838.5,591.2 1839.3,591.1 1840.2,591.1 1841.0,591.0 1841.8,591.0 1842.6,590.9 1843.4,590.9 1844.2,590.8 1845.0,590.8 1845.8,590.8 1846.6,590.7 1847.4,590.7 1848.2,590.6 1849.0,590.6 1849.8,590.6 1850.6,590.5 1851.5,590.5 1852.3,590.4 1853.1,590.4 1853.9,590.4 1854.7,590.3 1855.5,590.3 1856.3,590.3 1857.1,590.2 1857.9,590.2 1858.7,590.2 1859.5,590.2 1860.3,590.1 1861.1,590.1 1862.0,590.1 1862.8,590.1 1863.6,590.0 1864.4,590.0 1865.2,590.0 1866.0,590.0 1866.8,589.9 1867.6,589.9 1868.4,589.9 1869.2,589.9 1870.0,589.9 1870.8,589.8 1871.6,589.8 1872.4,589.8 1873.3,589.8 1874.1,589.8 1874.9,589.7 1875.7,589.7 1876.5,589.7 1877.3,589.7 1878.1,589.7 1878.9,589.7 1879.7,589.6 1880.5,589.6 1881.3,589.6 1882.1,589.6 1882.9,589.6 1883.7,589.6 1884.6,589.6 1885.4,589.5 1886.2,589.5 1887.0,589.5 1887.8,589.5 1888.6,589.5 1889.4,589.5 1890.2,589.5 1891.0,589.5 1891.8,589.4 1892.6,589.4 1893.4,589.4 1894.2,589.4 1895.0,589.4 1895.9,589.4 1896.7,589.4 1897.5,589.4 1898.3,589.4 1899.1,589.4 1899.9,589.3 1900.7,589.3 1901.5,589.3 1902.3,589.3 1903.1,589.3 1903.9,589.3 1904.7,589.3 1905.5,589.3 1906.3,589.3 1907.2,589.3 1908.0,589.3 1908.8,589.3 1909.6,589.3 1910.4,589.2 1911.2,589.2 1912.0,589.2 1912.8,589.2 1913.6,589.2 1914.4,589.2 1915.2,589.2 1916.0,589.2 1916.8,589.2 1917.7,589.2 1918.5,589.2 1919.3,589.2 1920.1,589.2 1920.9,589.2 1921.7,589.2 1922.5,589.2 1923.3,589.2 1924.1,589.2 1924.9,589.2 1925.7,589.2 1926.5,589.2 1927.3,589.2 1928.1,589.1 1929.0,589.1 1929.8,589.1 1930.6,589.1 1931.4,589.1 1932.2,589.1 1933.0,589.1 1933.8,589.1 1934.6,589.1 1935.4,589.1 1936.2,589.1 1937.0,589.1 1937.8,589.1 1938.6,589.1 1939.4,589.1 1940.3,589.1 1941.1,589.1 1941.9,589.1 1942.7,589.1 1943.5,589.1 1944.3,589.1 1945.1,589.1 1945.9,589.1 1946.7,589.1 1947.5,589.1 1948.3,589.1 1949.1,589.1 1949.9,589.1 1950.7,589.1 1951.6,589.1 1952.4,589.1 1953.2,589.1 1954.0,589.1 1954.8,589.1 1955.6,589.1 1956.4,589.1 1957.2,589.1 1958.0,589.1 1958.8,589.1 1959.6,589.1 1960.4,589.1 1961.2,589.1 1962.0,589.1 1962.9,589.1 1963.7,589.1 1964.5,589.1 1965.3,589.1 1966.1,589.1 1966.9,589.1 1967.7,589.1 1968.5,589.1 1969.3,589.2 1970.1,589.2 1970.9,589.2 1971.7,589.2 1972.5,589.2 1973.4,589.2 1974.2,589.2 1975.0,589.2 1975.8,589.2 1976.6,589.2 1977.4,589.2 1978.2,589.2 1979.0,589.2 1979.8,589.2 1980.6,589.2 1981.4,589.2 1982.2,589.2 1983.0,589.2 1983.8,589.2 1984.7,589.2 1985.5,589.2 1986.3,589.2 1987.1,589.3 1987.9,589.3 1988.7,589.3 1989.5,589.3 1990.3,589.3 1991.1,589.3 1991.9,589.3 1992.7,589.3 1993.5,589.3 1994.3,589.3 1995.1,589.3 1996.0,589.3 1996.8,589.3 1997.6,589.4 1998.4,589.4 1999.2,589.4 2000.0,589.4 2000.8,589.4 2001.6,589.4 2002.4,589.4 2003.2,589.4 2004.0,589.4 2004.8,589.4 2005.6,589.4 2006.4,589.5 2007.3,589.5 2008.1,589.5 2008.9,589.5 2009.7,589.5 2010.5,589.5 2011.3,589.5 2012.1,589.5 2012.9,589.6 2013.7,589.6 2014.5,589.6 2015.3,589.6 2016.1,589.6 2016.9,589.6 2017.7,589.6 2018.6,589.7 2019.4,589.7 2020.2,589.7 2021.0,589.7 2021.8,589.7 2022.6,589.7 2023.4,589.8 2024.2,589.8 2025.0,589.8 2025.8,589.8 2026.6,589.8 2027.4,589.9 2028.2,589.9 2029.1,589.9 2029.9,589.9 2030.7,589.9 2031.5,590.0 2032.3,590.0 2033.1,590.0 2033.9,590.0 2034.7,590.1 2035.5,590.1 2036.3,590.1 2037.1,590.1 2037.9,590.2 2038.7,590.2 2039.5,590.2 2040.4,590.3 2041.2,590.3 2042.0,590.3 2042.8,590.3 2043.6,590.4 2044.4,590.4 2045.2,590.4 2046.0,590.5 2046.8,590.5 2047.6,590.6 2048.4,590.6 2049.2,590.6 2050.0,590.7 2050.8,590.7 2051.7,590.8 2052.5,590.8 2053.3,590.8 2054.1,590.9 2054.9,590.9 2055.7,591.0 2056.5,591.0 2057.3,591.1 2058.1,591.1 2058.9,591.2 2059.7,591.2 2060.5,591.3 2061.3,591.4 2062.1,591.4 2063.0,591.5 2063.8,591.5 2064.6,591.6 2065.4,591.7 2066.2,591.7 2067.0,591.8 2067.8,591.9 2068.6,591.9 2069.4,592.0 2070.2,592.1 2071.0,592.2 2071.8,592.3 2072.6,592.4 2073.5,592.4 2074.3,592.5 2075.1,592.6 2075.9,592.7 2076.7,592.8 2077.5,592.9 2078.3,593.0 2079.1,593.1 2079.9,593.2 2080.7,593.4 2081.5,593.5 2082.3,593.6 2083.1,593.7 2083.9,593.9 2084.8,594.0 2085.6,594.1 2086.4,594.3 2087.2,594.4 2088.0,594.6 2088.8,594.7 2089.6,594.9 2090.4,595.0 2091.2,595.2 2092.0,595.4 2092.8,595.6 2093.6,595.7 2094.4,595.9 2095.2,596.1 2096.1,596.3 2096.9,596.5 2097.7,596.7 2098.5,596.9 2099.3,597.2 2100.1,597.4 2100.9,597.6 2101.7,597.9 2102.5,598.1 2103.3,598.3 2104.1,598.6 2104.9,598.8 2105.7,599.1 2106.5,599.3 2107.4,599.6 2108.2,599.9 2109.0,600.1 2109.8,600.4 2110.6,600.7 2111.4,600.9 2112.2,601.2 2113.0,601.5 2113.8,601.7 2114.6,602.0 2115.4,602.2 2116.2,602.5 2117.0,602.7 2117.8,603.0 2118.7,603.2 2119.5,603.4 2120.3,603.6 2121.1,603.8 2121.9,604.0 2122.7,604.1 2123.5,604.3 2124.3,604.4 2125.1,604.5 2125.9,604.6 2126.7,604.7 2127.5,604.7 2128.3,604.8 2129.2,604.8 2130.0,604.8 2130.8,604.8 2131.6,604.7 2132.4,604.7 2133.2,604.7 2134.0,604.7 2134.8,604.7 2135.6,604.6 2136.4,604.6 2137.2,604.6 2138.0,604.5 2138.8,604.5 2139.6,604.4 2140.5,604.4 2141.3,604.3 2142.1,604.3 2142.9,604.2 2143.7,604.1 2144.5,604.1 2145.3,604.0 2146.1,603.9 2146.9,603.8 2147.7,603.7 2148.5,603.7 2149.3,603.6 2150.1,603.5 2150.9,603.4 2151.8,603.3 2152.6,603.2 2153.4,603.1 2154.2,603.0 2155.0,602.9 2155.8,602.8 2156.6,602.7 2157.4,602.6 2158.2,602.5 2159.0,602.4 2159.8,602.3 2160.6,602.1 2161.4,602.0 2162.2,601.9 2163.1,601.8 2163.9,601.7 2164.7,601.6 2165.5,601.5 2166.3,601.3 2167.1,601.2 2167.9,601.1 2168.7,601.0 2169.5,600.9 2170.3,600.7 2171.1,600.6 2171.9,600.5 2172.7,600.4 2173.5,600.3 2174.4,600.1 2175.2,600.0 2176.0,599.9 2176.8,599.8 2177.6,599.7 2178.4,599.6 2179.2,599.4"/>
<polyline fill="none" stroke="#22e0e6" stroke-width="4.0" points="1533.4,588.5 1534.2,588.5 1535.0,588.5 1535.8,588.5 1536.6,588.5 1537.4,588.5 1538.2,588.5 1539.1,588.5 1539.9,588.5 1540.7,588.5 1541.5,588.5 1542.3,588.5 1543.1,588.5 1543.9,588.5 1544.7,588.5 1545.5,588.5 1546.3,588.5 1547.1,588.5 1547.9,588.5 1548.7,588.5 1549.5,588.5 1550.4,588.5 1551.2,588.5 1552.0,588.5 1552.8,588.6 1553.6,588.6 1554.4,588.6 1555.2,588.6 1556.0,588.6 1556.8,588.6 1557.6,588.6 1558.4,588.6 1559.2,588.6 1560.0,588.6 1560.8,588.6 1561.7,588.6 1562.5,588.6 1563.3,588.6 1564.1,588.6 1564.9,588.6 1565.7,588.6 1566.5,588.6 1567.3,588.6 1568.1,588.6 1568.9,588.6 1569.7,588.6 1570.5,588.6 1571.3,588.6 1572.1,588.6 1573.0,588.6 1573.8,588.6 1574.6,588.6 1575.4,588.6 1576.2,588.6 1577.0,588.6 1577.8,588.7 1578.6,588.7 1579.4,588.7 1580.2,588.7 1581.0,588.7 1581.8,588.7 1582.6,588.7 1583.4,588.7 1584.3,588.7 1585.1,588.7 1585.9,588.7 1586.7,588.7 1587.5,588.7 1588.3,588.7 1589.1,588.7 1589.9,588.7 1590.7,588.7 1591.5,588.7 1592.3,588.7 1593.1,588.7 1593.9,588.7 1594.8,588.7 1595.6,588.7 1596.4,588.7 1597.2,588.8 1598.0,588.8 1598.8,588.8 1599.6,588.8 1600.4,588.8 1601.2,588.8 1602.0,588.8 1602.8,588.8 1603.6,588.8 1604.4,588.8 1605.2,588.8 1606.1,588.8 1606.9,588.8 1607.7,588.8 1608.5,588.8 1609.3,588.8 1610.1,588.8 1610.9,588.8 1611.7,588.8 1612.5,588.8 1613.3,588.9 1614.1,588.9 1614.9,588.9 1615.7,588.9 1616.5,588.9 1617.4,588.9 1618.2,588.9 1619.0,588.9 1619.8,588.9 1620.6,588.9 1621.4,588.9 1622.2,588.9 1623.0,588.9 1623.8,588.9 1624.6,588.9 1625.4,588.9 1626.2,588.9 1627.0,589.0 1627.8,589.0 1628.7,589.0 1629.5,589.0 1630.3,589.0 1631.1,589.0 1631.9,589.0 1632.7,589.0 1633.5,589.0 1634.3,589.0 1635.1,589.0 1635.9,589.0 1636.7,589.0 1637.5,589.0 1638.3,589.1 1639.1,589.1 1640.0,589.1 1640.8,589.1 1641.6,589.1 1642.4,589.1 1643.2,589.1 1644.0,589.1 1644.8,589.1 1645.6,589.1 1646.4,589.1 1647.2,589.1 1648.0,589.2 1648.8,589.2 1649.6,589.2 1650.5,589.2 1651.3,589.2 1652.1,589.2 1652.9,589.2 1653.7,589.2 1654.5,589.2 1655.3,589.2 1656.1,589.3 1656.9,589.3 1657.7,589.3 1658.5,589.3 1659.3,589.3 1660.1,589.3 1660.9,589.3 1661.8,589.3 1662.6,589.3 1663.4,589.4 1664.2,589.4 1665.0,589.4 1665.8,589.4 1666.6,589.4 1667.4,589.4 1668.2,589.4 1669.0,589.4 1669.8,589.4 1670.6,589.5 1671.4,589.5 1672.2,589.5 1673.1,589.5 1673.9,589.5 1674.7,589.5 1675.5,589.5 1676.3,589.6 1677.1,589.6 1677.9,589.6 1678.7,589.6 1679.5,589.6 1680.3,589.6 1681.1,589.6 1681.9,589.7 1682.7,589.7 1683.5,589.7 1684.4,589.7 1685.2,589.7 1686.0,589.7 1686.8,589.8 1687.6,589.8 1688.4,589.8 1689.2,589.8 1690.0,589.8 1690.8,589.9 1691.6,589.9 1692.4,589.9 1693.2,589.9 1694.0,589.9 1694.8,589.9 1695.7,590.0 1696.5,590.0 1697.3,590.0 1698.1,590.0 1698.9,590.1 1699.7,590.1 1700.5,590.1 1701.3,590.1 1702.1,590.1 1702.9,590.2 1703.7,590.2 1704.5,590.2 1705.3,590.2 1706.2,590.3 1707.0,590.3 1707.8,590.3 1708.6,590.3 1709.4,590.4 1710.2,590.4 1711.0,590.4 1711.8,590.5 1712.6,590.5 1713.4,590.5 1714.2,590.6 1715.0,590.6 1715.8,590.6 1716.6,590.6 1717.5,590.7 1718.3,590.7 1719.1,590.8 1719.9,590.8 1720.7,590.8 1721.5,590.9 1722.3,590.9 1723.1,590.9 1723.9,591.0 1724.7,591.0 1725.5,591.1 1726.3,591.1 1727.1,591.2 1727.9,591.2 1728.8,591.3 1729.6,591.3 1730.4,591.4 1731.2,591.4 1732.0,591.5 1732.8,591.5 1733.6,591.6 1734.4,591.6 1735.2,591.7 1736.0,591.8 1736.8,591.8 1737.6,591.9 1738.4,592.0 1739.2,592.1 1740.1,592.1 1740.9,592.2 1741.7,592.3 1742.5,592.4 1743.3,592.5 1744.1,592.6 1744.9,592.7 1745.7,592.8 1746.5,592.9 1747.3,593.1 1748.1,593.2 1748.9,593.3 1749.7,593.5 1750.6,593.6 1751.4,593.8 1752.2,593.9 1753.0,594.1 1753.8,594.3 1754.6,594.5 1755.4,594.7 1756.2,594.9 1757.0,595.2 1757.8,595.4 1758.6,595.7 1759.4,596.0 1760.2,596.3 1761.0,596.6 1761.9,596.9 1762.7,597.2 1763.5,597.6 1764.3,598.0 1765.1,598.4 1765.9,598.8 1766.7,599.2 1767.5,599.7 1768.3,600.2 1769.1,600.7 1769.9,601.3 1770.7,601.8 1771.5,602.4 1772.3,603.1 1773.2,603.7 1774.0,604.4 1774.8,605.2 1775.6,605.9 1776.4,606.7 1777.2,607.5 1778.0,608.4 1778.8,609.3 1779.6,610.2 1780.4,611.2 1781.2,612.2 1782.0,613.3 1782.8,614.4 1783.6,615.5 1784.5,616.7 1785.3,617.9 1786.1,619.2 1786.9,620.5 1787.7,621.8 1788.5,623.2 1789.3,624.6 1790.1,626.1 1790.9,627.6 1791.7,629.1 1792.5,630.7 1793.3,632.3 1794.1,634.0 1794.9,635.7 1795.8,637.4 1796.6,639.2 1797.4,641.0 1798.2,642.8 1799.0,644.6 1799.8,646.5 1800.6,648.4 1801.4,650.3 1802.2,652.2 1803.0,654.1 1803.8,656.1 1804.6,658.1 1805.4,660.0 1806.3,662.0 1807.1,664.0 1807.9,665.9 1808.7,667.9 1809.5,669.8 1810.3,671.7 1811.1,673.6 1811.9,675.5 1812.7,677.3 1813.5,679.1 1814.3,680.8 1815.1,682.5 1815.9,684.2 1816.7,685.7 1817.6,687.3 1818.4,688.7 1819.2,690.1 1820.0,691.4 1820.8,692.6 1821.6,693.7 1822.4,694.8 1823.2,695.7 1824.0,696.5 1824.8,697.2 1825.6,697.8 1826.4,698.3 1827.2,698.7 1828.0,699.0 1828.9,699.1 1829.7,699.2 1830.5,699.1 1831.3,698.9 1832.1,698.6 1832.9,698.1 1833.7,697.6 1834.5,697.0 1835.3,696.2 1836.1,695.3 1836.9,694.4 1837.7,693.3 1838.5,692.2 1839.3,691.0 1840.2,689.7 1841.0,688.3 1841.8,686.9 1842.6,685.4 1843.4,683.8 1844.2,682.2 1845.0,680.6 1845.8,678.9 1846.6,677.1 1847.4,675.4 1848.2,673.6 1849.0,671.8 1849.8,669.9 1850.6,668.1 1851.5,666.2 1852.3,664.4 1853.1,662.5 1853.9,660.7 1854.7,658.8 1855.5,657.0 1856.3,655.1 1857.1,653.3 1857.9,651.5 1858.7,649.8 1859.5,648.0 1860.3,646.3 1861.1,644.6 1862.0,642.9 1862.8,641.3 1863.6,639.7 1864.4,638.1 1865.2,636.6 1866.0,635.1 1866.8,633.7 1867.6,632.3 1868.4,630.9 1869.2,629.5 1870.0,628.3 1870.8,627.0 1871.6,625.8 1872.4,624.6 1873.3,623.5 1874.1,622.4 1874.9,621.4 1875.7,620.4 1876.5,619.4 1877.3,618.5 1878.1,617.6 1878.9,616.8 1879.7,616.0 1880.5,615.2 1881.3,614.4 1882.1,613.8 1882.9,613.1 1883.7,612.5 1884.6,611.9 1885.4,611.3 1886.2,610.8 1887.0,610.3 1887.8,609.8 1888.6,609.3 1889.4,608.9 1890.2,608.5 1891.0,608.1 1891.8,607.8 1892.6,607.5 1893.4,607.2 1894.2,606.9 1895.0,606.6 1895.9,606.4 1896.7,606.1 1897.5,605.9 1898.3,605.7 1899.1,605.5 1899.9,605.4 1900.7,605.2 1901.5,605.1 1902.3,605.0 1903.1,604.8 1903.9,604.7 1904.7,604.6 1905.5,604.5 1906.3,604.5 1907.2,604.4 1908.0,604.3 1908.8,604.3 1909.6,604.2 1910.4,604.2 1911.2,604.1 1912.0,604.1 1912.8,604.1 1913.6,604.1 1914.4,604.0 1915.2,604.0 1916.0,604.0 1916.8,604.0 1917.7,604.0 1918.5,604.1 1919.3,604.1 1920.1,604.1 1920.9,604.1 1921.7,604.2 1922.5,604.2 1923.3,604.3 1924.1,604.3 1924.9,604.4 1925.7,604.5 1926.5,604.6 1927.3,604.7 1928.1,604.8 1929.0,604.9 1929.8,605.0 1930.6,605.2 1931.4,605.3 1932.2,605.5 1933.0,605.6 1933.8,605.8 1934.6,606.0 1935.4,606.3 1936.2,606.5 1937.0,606.8 1937.8,607.0 1938.6,607.3 1939.4,607.6 1940.3,608.0 1941.1,608.4 1941.9,608.7 1942.7,609.1 1943.5,609.6 1944.3,610.0 1945.1,610.5 1945.9,611.1 1946.7,611.6 1947.5,612.2 1948.3,612.8 1949.1,613.5 1949.9,614.1 1950.7,614.9 1951.6,615.6 1952.4,616.4 1953.2,617.2 1954.0,618.1 1954.8,619.0 1955.6,620.0 1956.4,620.9 1957.2,622.0 1958.0,623.0 1958.8,624.2 1959.6,625.3 1960.4,626.5 1961.2,627.7 1962.0,629.0 1962.9,630.3 1963.7,631.7 1964.5,633.1 1965.3,634.5 1966.1,636.0 1966.9,637.5 1967.7,639.1 1968.5,640.6 1969.3,642.3 1970.1,643.9 1970.9,645.6 1971.7,647.3 1972.5,649.0 1973.4,650.8 1974.2,652.6 1975.0,654.4 1975.8,656.2 1976.6,658.1 1977.4,659.9 1978.2,661.8 1979.0,663.6 1979.8,665.5 1980.6,667.3 1981.4,669.2 1982.2,671.0 1983.0,672.8 1983.8,674.6 1984.7,676.4 1985.5,678.2 1986.3,679.9 1987.1,681.5 1987.9,683.2 1988.7,684.8 1989.5,686.3 1990.3,687.7 1991.1,689.1 1991.9,690.5 1992.7,691.7 1993.5,692.9 1994.3,694.0 1995.1,695.0 1996.0,695.9 1996.8,696.7 1997.6,697.3 1998.4,697.9 1999.2,698.4 2000.0,698.8 2000.8,699.0 2001.6,699.1 2002.4,699.2 2003.2,699.1 2004.0,698.8 2004.8,698.5 2005.6,698.0 2006.4,697.5 2007.3,696.8 2008.1,696.0 2008.9,695.1 2009.7,694.1 2010.5,693.1 2011.3,691.9 2012.1,690.6 2012.9,689.3 2013.7,687.9 2014.5,686.4 2015.3,684.8 2016.1,683.2 2016.9,681.5 2017.7,679.8 2018.6,678.0 2019.4,676.2 2020.2,674.3 2021.0,672.5 2021.8,670.6 2022.6,668.6 2023.4,666.7 2024.2,664.7 2025.0,662.8 2025.8,660.8 2026.6,658.8 2027.4,656.9 2028.2,654.9 2029.1,653.0 2029.9,651.0 2030.7,649.1 2031.5,647.2 2032.3,645.4 2033.1,643.5 2033.9,641.7 2034.7,639.9 2035.5,638.1 2036.3,636.4 2037.1,634.7 2037.9,633.0 2038.7,631.4 2039.5,629.8 2040.4,628.2 2041.2,626.7 2042.0,625.2 2042.8,623.8 2043.6,622.4 2044.4,621.0 2045.2,619.7 2046.0,618.4 2046.8,617.2 2047.6,616.0 2048.4,614.8 2049.2,613.7 2050.0,612.7 2050.8,611.6 2051.7,610.6 2052.5,609.7 2053.3,608.8 2054.1,607.9 2054.9,607.0 2055.7,606.2 2056.5,605.5 2057.3,604.7 2058.1,604.0 2058.9,603.3 2059.7,602.7 2060.5,602.1 2061.3,601.5 2062.1,600.9 2063.0,600.4 2063.8,599.9 2064.6,599.4 2065.4,599.0 2066.2,598.5 2067.0,598.1 2067.8,597.7 2068.6,597.4 2069.4,597.0 2070.2,596.7 2071.0,596.4 2071.8,596.1 2072.6,595.8 2073.5,595.5 2074.3,595.3 2075.1,595.0 2075.9,594.8 2076.7,594.6 2077.5,594.4 2078.3,594.2 2079.1,594.0 2079.9,593.8 2080.7,593.7 2081.5,593.5 2082.3,593.4 2083.1,593.2 2083.9,593.1 2084.8,593.0 2085.6,592.9 2086.4,592.7 2087.2,592.6 2088.0,592.5 2088.8,592.4 2089.6,592.3 2090.4,592.3 2091.2,592.2 2092.0,592.1 2092.8,592.0 2093.6,591.9 2094.4,591.9 2095.2,591.8 2096.1,591.7 2096.9,591.7 2097.7,591.6 2098.5,591.5 2099.3,591.5 2100.1,591.4 2100.9,591.4 2101.7,591.3 2102.5,591.3 2103.3,591.2 2104.1,591.2 2104.9,591.1 2105.7,591.1 2106.5,591.0 2107.4,591.0 2108.2,591.0 2109.0,590.9 2109.8,590.9 2110.6,590.8 2111.4,590.8 2112.2,590.8 2113.0,590.7 2113.8,590.7 2114.6,590.7 2115.4,590.6 2116.2,590.6 2117.0,590.6 2117.8,590.5 2118.7,590.5 2119.5,590.5 2120.3,590.4 2121.1,590.4 2121.9,590.4 2122.7,590.4 2123.5,590.3 2124.3,590.3 2125.1,590.3 2125.9,590.3 2126.7,590.2 2127.5,590.2 2128.3,590.2 2129.2,590.2 2130.0,590.1 2130.8,590.1 2131.6,590.1 2132.4,590.1 2133.2,590.0 2134.0,590.0 2134.8,590.0 2135.6,590.0 2136.4,590.0 2137.2,589.9 2138.0,589.9 2138.8,589.9 2139.6,589.9 2140.5,589.9 2141.3,589.8 2142.1,589.8 2142.9,589.8 2143.7,589.8 2144.5,589.8 2145.3,589.8 2146.1,589.7 2146.9,589.7 2147.7,589.7 2148.5,589.7 2149.3,589.7 2150.1,589.7 2150.9,589.6 2151.8,589.6 2152.6,589.6 2153.4,589.6 2154.2,589.6 2155.0,589.6 2155.8,589.5 2156.6,589.5 2157.4,589.5 2158.2,589.5 2159.0,589.5 2159.8,589.5 2160.6,589.5 2161.4,589.5 2162.2,589.4 2163.1,589.4 2163.9,589.4 2164.7,589.4 2165.5,589.4 2166.3,589.4 2167.1,589.4 2167.9,589.4 2168.7,589.3 2169.5,589.3 2170.3,589.3 2171.1,589.3 2171.9,589.3 2172.7,589.3 2173.5,589.3 2174.4,589.3 2175.2,589.3 2176.0,589.2 2176.8,589.2 2177.6,589.2 2178.4,589.2 2179.2,589.2"/>
<polyline fill="none" stroke="#22e022" stroke-width="4.6" points="1533.4,591.0 1534.2,591.1 1535.0,591.1 1535.8,591.1 1536.6,591.1 1537.4,591.1 1538.2,591.1 1539.1,591.1 1539.9,591.2 1540.7,591.2 1541.5,591.2 1542.3,591.2 1543.1,591.2 1543.9,591.2 1544.7,591.2 1545.5,591.3 1546.3,591.3 1547.1,591.3 1547.9,591.3 1548.7,591.3 1549.5,591.3 1550.4,591.4 1551.2,591.4 1552.0,591.4 1552.8,591.4 1553.6,591.4 1554.4,591.4 1555.2,591.4 1556.0,591.5 1556.8,591.5 1557.6,591.5 1558.4,591.5 1559.2,591.5 1560.0,591.5 1560.8,591.6 1561.7,591.6 1562.5,591.6 1563.3,591.6 1564.1,591.6 1564.9,591.6 1565.7,591.7 1566.5,591.7 1567.3,591.7 1568.1,591.7 1568.9,591.7 1569.7,591.8 1570.5,591.8 1571.3,591.8 1572.1,591.8 1573.0,591.8 1573.8,591.8 1574.6,591.9 1575.4,591.9 1576.2,591.9 1577.0,591.9 1577.8,591.9 1578.6,592.0 1579.4,592.0 1580.2,592.0 1581.0,592.0 1581.8,592.0 1582.6,592.1 1583.4,592.1 1584.3,592.1 1585.1,592.1 1585.9,592.2 1586.7,592.2 1587.5,592.2 1588.3,592.2 1589.1,592.2 1589.9,592.3 1590.7,592.3 1591.5,592.3 1592.3,592.3 1593.1,592.4 1593.9,592.4 1594.8,592.4 1595.6,592.4 1596.4,592.4 1597.2,592.5 1598.0,592.5 1598.8,592.5 1599.6,592.5 1600.4,592.6 1601.2,592.6 1602.0,592.6 1602.8,592.6 1603.6,592.7 1604.4,592.7 1605.2,592.7 1606.1,592.7 1606.9,592.8 1607.7,592.8 1608.5,592.8 1609.3,592.9 1610.1,592.9 1610.9,592.9 1611.7,592.9 1612.5,593.0 1613.3,593.0 1614.1,593.0 1614.9,593.0 1615.7,593.1 1616.5,593.1 1617.4,593.1 1618.2,593.2 1619.0,593.2 1619.8,593.2 1620.6,593.3 1621.4,593.3 1622.2,593.3 1623.0,593.4 1623.8,593.4 1624.6,593.4 1625.4,593.4 1626.2,593.5 1627.0,593.5 1627.8,593.5 1628.7,593.6 1629.5,593.6 1630.3,593.6 1631.1,593.7 1631.9,593.7 1632.7,593.8 1633.5,593.8 1634.3,593.8 1635.1,593.9 1635.9,593.9 1636.7,593.9 1637.5,594.0 1638.3,594.0 1639.1,594.0 1640.0,594.1 1640.8,594.1 1641.6,594.2 1642.4,594.2 1643.2,594.2 1644.0,594.3 1644.8,594.3 1645.6,594.4 1646.4,594.4 1647.2,594.4 1648.0,594.5 1648.8,594.5 1649.6,594.6 1650.5,594.6 1651.3,594.7 1652.1,594.7 1652.9,594.7 1653.7,594.8 1654.5,594.8 1655.3,594.9 1656.1,594.9 1656.9,595.0 1657.7,595.0 1658.5,595.1 1659.3,595.1 1660.1,595.2 1660.9,595.2 1661.8,595.3 1662.6,595.3 1663.4,595.4 1664.2,595.4 1665.0,595.5 1665.8,595.5 1666.6,595.6 1667.4,595.6 1668.2,595.7 1669.0,595.7 1669.8,595.8 1670.6,595.9 1671.4,595.9 1672.2,596.0 1673.1,596.0 1673.9,596.1 1674.7,596.1 1675.5,596.2 1676.3,596.3 1677.1,596.3 1677.9,596.4 1678.7,596.5 1679.5,596.5 1680.3,596.6 1681.1,596.7 1681.9,596.7 1682.7,596.8 1683.5,596.9 1684.4,596.9 1685.2,597.0 1686.0,597.1 1686.8,597.1 1687.6,597.2 1688.4,597.3 1689.2,597.3 1690.0,597.4 1690.8,597.5 1691.6,597.6 1692.4,597.7 1693.2,597.7 1694.0,597.8 1694.8,597.9 1695.7,598.0 1696.5,598.1 1697.3,598.1 1698.1,598.2 1698.9,598.3 1699.7,598.4 1700.5,598.5 1701.3,598.6 1702.1,598.7 1702.9,598.8 1703.7,598.8 1704.5,598.9 1705.3,599.0 1706.2,599.1 1707.0,599.2 1707.8,599.3 1708.6,599.4 1709.4,599.5 1710.2,599.6 1711.0,599.7 1711.8,599.8 1712.6,599.9 1713.4,600.1 1714.2,600.2 1715.0,600.3 1715.8,600.4 1716.6,600.5 1717.5,600.6 1718.3,600.7 1719.1,600.9 1719.9,601.0 1720.7,601.1 1721.5,601.2 1722.3,601.4 1723.1,601.5 1723.9,601.6 1724.7,601.7 1725.5,601.9 1726.3,602.0 1727.1,602.2 1727.9,602.3 1728.8,602.4 1729.6,602.6 1730.4,602.7 1731.2,602.9 1732.0,603.0 1732.8,603.2 1733.6,603.4 1734.4,603.5 1735.2,603.7 1736.0,603.8 1736.8,604.0 1737.6,604.2 1738.4,604.3 1739.2,604.5 1740.1,604.7 1740.9,604.9 1741.7,605.1 1742.5,605.3 1743.3,605.4 1744.1,605.6 1744.9,605.8 1745.7,606.0 1746.5,606.2 1747.3,606.5 1748.1,606.7 1748.9,606.9 1749.7,607.1 1750.6,607.3 1751.4,607.6 1752.2,607.8 1753.0,608.0 1753.8,608.3 1754.6,608.5 1755.4,608.8 1756.2,609.0 1757.0,609.3 1757.8,609.5 1758.6,609.8 1759.4,610.1 1760.2,610.4 1761.0,610.7 1761.9,611.0 1762.7,611.3 1763.5,611.6 1764.3,611.9 1765.1,612.2 1765.9,612.5 1766.7,612.9 1767.5,613.2 1768.3,613.5 1769.1,613.9 1769.9,614.3 1770.7,614.6 1771.5,615.0 1772.3,615.4 1773.2,615.8 1774.0,616.2 1774.8,616.6 1775.6,617.1 1776.4,617.5 1777.2,618.0 1778.0,618.4 1778.8,618.9 1779.6,619.4 1780.4,619.9 1781.2,620.4 1782.0,621.0 1782.8,621.5 1783.6,622.1 1784.5,622.7 1785.3,623.3 1786.1,623.9 1786.9,624.6 1787.7,625.2 1788.5,625.9 1789.3,626.6 1790.1,627.4 1790.9,628.1 1791.7,628.9 1792.5,629.7 1793.3,630.6 1794.1,631.4 1794.9,632.3 1795.8,633.3 1796.6,634.2 1797.4,635.3 1798.2,636.3 1799.0,637.4 1799.8,638.5 1800.6,639.7 1801.4,640.9 1802.2,642.1 1803.0,643.4 1803.8,644.8 1804.6,646.2 1805.4,647.6 1806.3,649.1 1807.1,650.7 1807.9,652.3 1808.7,654.0 1809.5,655.8 1810.3,657.6 1811.1,659.5 1811.9,661.4 1812.7,663.5 1813.5,665.6 1814.3,667.7 1815.1,670.0 1815.9,672.4 1816.7,674.8 1817.6,677.3 1818.4,679.9 1819.2,682.6 1820.0,685.4 1820.8,688.3 1821.6,691.2 1822.4,694.3 1823.2,697.5 1824.0,700.8 1824.8,704.1 1825.6,707.6 1826.4,711.2 1827.2,714.9 1828.0,718.7 1828.9,722.6 1829.7,726.6 1830.5,730.8 1831.3,735.0 1832.1,739.3 1832.9,743.8 1833.7,748.3 1834.5,753.0 1835.3,757.8 1836.1,762.6 1836.9,767.6 1837.7,772.7 1838.5,777.8 1839.3,783.1 1840.2,788.4 1841.0,793.8 1841.8,799.3 1842.6,804.9 1843.4,810.5 1844.2,816.1 1845.0,821.8 1845.8,827.5 1846.6,833.3 1847.4,839.1 1848.2,844.8 1849.0,850.5 1849.8,856.2 1850.6,861.9 1851.5,867.4 1852.3,872.9 1853.1,878.3 1853.9,883.6 1854.7,888.7 1855.5,893.6 1856.3,898.3 1857.1,902.9 1857.9,907.1 1858.7,911.2 1859.5,914.9 1860.3,918.4 1861.1,921.5 1862.0,924.3 1862.8,926.7 1863.6,928.8 1864.4,930.5 1865.2,931.8 1866.0,932.7 1866.8,933.1 1867.6,933.2 1868.4,932.9 1869.2,932.2 1870.0,931.1 1870.8,929.7 1871.6,927.8 1872.4,925.7 1873.3,923.1 1874.1,920.3 1874.9,917.2 1875.7,913.8 1876.5,910.1 1877.3,906.2 1878.1,902.1 1878.9,897.8 1879.7,893.4 1880.5,888.8 1881.3,884.1 1882.1,879.3 1882.9,874.4 1883.7,869.5 1884.6,864.5 1885.4,859.5 1886.2,854.5 1887.0,849.5 1887.8,844.6 1888.6,839.6 1889.4,834.8 1890.2,829.9 1891.0,825.2 1891.8,820.5 1892.6,815.9 1893.4,811.5 1894.2,807.1 1895.0,802.8 1895.9,798.7 1896.7,794.7 1897.5,790.8 1898.3,787.0 1899.1,783.4 1899.9,779.9 1900.7,776.6 1901.5,773.4 1902.3,770.4 1903.1,767.5 1903.9,764.8 1904.7,762.2 1905.5,759.8 1906.3,757.5 1907.2,755.4 1908.0,753.5 1908.8,751.7 1909.6,750.1 1910.4,748.7 1911.2,747.5 1912.0,746.4 1912.8,745.4 1913.6,744.7 1914.4,744.1 1915.2,743.6 1916.0,743.4 1916.8,743.3 1917.7,743.4 1918.5,743.6 1919.3,744.1 1920.1,744.7 1920.9,745.4 1921.7,746.4 1922.5,747.5 1923.3,748.7 1924.1,750.1 1924.9,751.7 1925.7,753.5 1926.5,755.4 1927.3,757.5 1928.1,759.8 1929.0,762.2 1929.8,764.8 1930.6,767.5 1931.4,770.4 1932.2,773.4 1933.0,776.6 1933.8,779.9 1934.6,783.4 1935.4,787.0 1936.2,790.8 1937.0,794.7 1937.8,798.7 1938.6,802.8 1939.4,807.1 1940.3,811.5 1941.1,815.9 1941.9,820.5 1942.7,825.2 1943.5,829.9 1944.3,834.8 1945.1,839.6 1945.9,844.6 1946.7,849.5 1947.5,854.5 1948.3,859.5 1949.1,864.5 1949.9,869.5 1950.7,874.4 1951.6,879.3 1952.4,884.1 1953.2,888.8 1954.0,893.4 1954.8,897.8 1955.6,902.1 1956.4,906.2 1957.2,910.1 1958.0,913.8 1958.8,917.2 1959.6,920.3 1960.4,923.1 1961.2,925.7 1962.0,927.8 1962.9,929.7 1963.7,931.1 1964.5,932.2 1965.3,932.9 1966.1,933.2 1966.9,933.1 1967.7,932.7 1968.5,931.8 1969.3,930.5 1970.1,928.8 1970.9,926.7 1971.7,924.3 1972.5,921.5 1973.4,918.4 1974.2,914.9 1975.0,911.2 1975.8,907.1 1976.6,902.9 1977.4,898.3 1978.2,893.6 1979.0,888.7 1979.8,883.6 1980.6,878.3 1981.4,872.9 1982.2,867.4 1983.0,861.9 1983.8,856.2 1984.7,850.5 1985.5,844.8 1986.3,839.1 1987.1,833.3 1987.9,827.5 1988.7,821.8 1989.5,816.1 1990.3,810.5 1991.1,804.9 1991.9,799.3 1992.7,793.8 1993.5,788.4 1994.3,783.1 1995.1,777.8 1996.0,772.7 1996.8,767.6 1997.6,762.6 1998.4,757.8 1999.2,753.0 2000.0,748.3 2000.8,743.8 2001.6,739.3 2002.4,735.0 2003.2,730.8 2004.0,726.6 2004.8,722.6 2005.6,718.7 2006.4,714.9 2007.3,711.2 2008.1,707.6 2008.9,704.1 2009.7,700.8 2010.5,697.5 2011.3,694.3 2012.1,691.2 2012.9,688.3 2013.7,685.4 2014.5,682.6 2015.3,679.9 2016.1,677.3 2016.9,674.8 2017.7,672.4 2018.6,670.0 2019.4,667.7 2020.2,665.6 2021.0,663.5 2021.8,661.4 2022.6,659.5 2023.4,657.6 2024.2,655.8 2025.0,654.0 2025.8,652.3 2026.6,650.7 2027.4,649.1 2028.2,647.6 2029.1,646.2 2029.9,644.8 2030.7,643.4 2031.5,642.1 2032.3,640.9 2033.1,639.7 2033.9,638.5 2034.7,637.4 2035.5,636.3 2036.3,635.3 2037.1,634.2 2037.9,633.3 2038.7,632.3 2039.5,631.4 2040.4,630.6 2041.2,629.7 2042.0,628.9 2042.8,628.1 2043.6,627.4 2044.4,626.6 2045.2,625.9 2046.0,625.2 2046.8,624.6 2047.6,623.9 2048.4,623.3 2049.2,622.7 2050.0,622.1 2050.8,621.5 2051.7,621.0 2052.5,620.4 2053.3,619.9 2054.1,619.4 2054.9,618.9 2055.7,618.4 2056.5,618.0 2057.3,617.5 2058.1,617.1 2058.9,616.6 2059.7,616.2 2060.5,615.8 2061.3,615.4 2062.1,615.0 2063.0,614.6 2063.8,614.3 2064.6,613.9 2065.4,613.5 2066.2,613.2 2067.0,612.9 2067.8,612.5 2068.6,612.2 2069.4,611.9 2070.2,611.6 2071.0,611.3 2071.8,611.0 2072.6,610.7 2073.5,610.4 2074.3,610.1 2075.1,609.8 2075.9,609.5 2076.7,609.3 2077.5,609.0 2078.3,608.8 2079.1,608.5 2079.9,608.3 2080.7,608.0 2081.5,607.8 2082.3,607.6 2083.1,607.3 2083.9,607.1 2084.8,606.9 2085.6,606.7 2086.4,606.5 2087.2,606.2 2088.0,606.0 2088.8,605.8 2089.6,605.6 2090.4,605.4 2091.2,605.3 2092.0,605.1 2092.8,604.9 2093.6,604.7 2094.4,604.5 2095.2,604.3 2096.1,604.2 2096.9,604.0 2097.7,603.8 2098.5,603.7 2099.3,603.5 2100.1,603.4 2100.9,603.2 2101.7,603.0 2102.5,602.9 2103.3,602.7 2104.1,602.6 2104.9,602.4 2105.7,602.3 2106.5,602.2 2107.4,602.0 2108.2,601.9 2109.0,601.7 2109.8,601.6 2110.6,601.5 2111.4,601.4 2112.2,601.2 2113.0,601.1 2113.8,601.0 2114.6,600.9 2115.4,600.7 2116.2,600.6 2117.0,600.5 2117.8,600.4 2118.7,600.3 2119.5,600.2 2120.3,600.1 2121.1,599.9 2121.9,599.8 2122.7,599.7 2123.5,599.6 2124.3,599.5 2125.1,599.4 2125.9,599.3 2126.7,599.2 2127.5,599.1 2128.3,599.0 2129.2,598.9 2130.0,598.8 2130.8,598.8 2131.6,598.7 2132.4,598.6 2133.2,598.5 2134.0,598.4 2134.8,598.3 2135.6,598.2 2136.4,598.1 2137.2,598.1 2138.0,598.0 2138.8,597.9 2139.6,597.8 2140.5,597.7 2141.3,597.7 2142.1,597.6 2142.9,597.5 2143.7,597.4 2144.5,597.3 2145.3,597.3 2146.1,597.2 2146.9,597.1 2147.7,597.1 2148.5,597.0 2149.3,596.9 2150.1,596.9 2150.9,596.8 2151.8,596.7 2152.6,596.7 2153.4,596.6 2154.2,596.5 2155.0,596.5 2155.8,596.4 2156.6,596.3 2157.4,596.3 2158.2,596.2 2159.0,596.1 2159.8,596.1 2160.6,596.0 2161.4,596.0 2162.2,595.9 2163.1,595.9 2163.9,595.8 2164.7,595.7 2165.5,595.7 2166.3,595.6 2167.1,595.6 2167.9,595.5 2168.7,595.5 2169.5,595.4 2170.3,595.4 2171.1,595.3 2171.9,595.3 2172.7,595.2 2173.5,595.2 2174.4,595.1 2175.2,595.1 2176.0,595.0 2176.8,595.0 2177.6,594.9 2178.4,594.9 2179.2,594.8"/>
<polyline fill="none" stroke="#555" stroke-width="1.5" points="1533.4,594.0 1537.2,594.2 1541.1,594.3 1544.9,594.4 1548.8,594.6 1552.6,594.8 1556.5,594.9 1560.3,595.1 1564.2,595.3 1568.0,595.5 1571.8,595.7 1575.7,595.9 1579.5,596.1 1583.4,596.3 1587.2,596.6 1591.1,596.8 1594.9,597.1 1598.7,597.4 1602.6,597.7 1606.4,598.0 1610.3,598.4 1614.1,598.7 1618.0,599.1 1621.8,599.5 1625.7,599.9 1629.5,600.4 1633.3,600.9 1637.2,601.4 1641.0,601.9 1644.9,602.5 1648.7,603.1 1652.6,603.7 1656.4,604.4 1660.3,605.1 1664.1,605.9 1667.9,606.6 1671.8,607.5 1675.6,608.3 1679.5,609.2 1683.3,610.2 1687.2,611.2 1691.0,612.2 1694.8,613.3 1698.7,614.4 1702.5,615.6 1706.4,616.8 1710.2,618.0 1714.1,619.3 1717.9,620.6 1721.8,622.0 1725.6,623.4 1729.4,624.9 1733.3,626.4 1737.1,628.0 1741.0,629.7 1744.8,631.5 1748.7,633.5 1752.5,635.6 1756.4,638.0 1760.2,640.6 1764.0,643.7 1767.9,647.3 1771.7,651.5 1775.6,656.1 1779.4,661.4 1783.3,667.6 1787.1,675.0 1791.0,683.8 1794.8,694.1 1798.6,706.0 1802.5,719.5 1806.3,734.6 1810.2,750.9 1814.0,768.4 1817.9,786.7 1821.7,805.5 1825.5,824.5 1829.4,843.4 1833.2,862.1 1837.1,880.9 1840.9,899.7 1844.8,918.6 1848.6,937.4 1852.5,955.0 1856.3,970.1 1860.1,980.7 1864.0,984.8 1867.8,981.2 1871.7,969.4 1875.5,950.8 1879.4,927.3 1883.2,901.2 1887.1,874.8 1890.9,849.5 1894.7,826.5 1898.6,806.6 1902.4,790.1 1906.3,777.4 1910.1,768.5 1914.0,763.5 1917.8,762.5 1921.6,765.5 1925.5,772.5 1929.3,783.4 1933.2,798.1 1937.0,816.5 1940.9,838.2 1944.7,862.7 1948.6,889.0 1952.4,915.9 1956.2,941.4 1960.1,963.2 1963.9,979.0 1967.8,987.2 1971.6,987.2 1975.5,979.8 1979.3,966.8 1983.2,950.0 1987.0,931.2 1990.8,911.6 1994.7,891.6 1998.5,871.5 2002.4,851.2 2006.2,830.7 2010.1,810.2 2013.9,789.8 2017.8,770.1 2021.6,751.2 2025.4,733.6 2029.3,717.3 2033.1,702.6 2037.0,689.5 2040.8,678.0 2044.7,668.1 2048.5,659.6 2052.3,652.5 2056.2,646.7 2060.0,641.9 2063.9,638.0 2067.7,634.8 2071.6,632.3 2075.4,630.3 2079.3,628.7 2083.1,627.4 2086.9,626.3 2090.8,625.4 2094.6,624.7 2098.5,624.1 2102.3,623.6 2106.2,623.2 2110.0,622.7 2113.9,622.3 2117.7,621.8 2121.5,621.3 2125.4,620.7 2129.2,620.0 2133.1,619.2 2136.9,618.4 2140.8,617.5 2144.6,616.6 2148.4,615.7 2152.3,614.8 2156.1,613.8 2160.0,612.8 2163.8,611.9 2167.7,610.9 2171.5,610.0 2175.4,609.1 2179.2,608.2"/>
<g fill="#9a9ae2" stroke="#3c3c96" stroke-width="1.10">
<rect x="1529.2" y="589.8" width="8.4" height="8.4" rx="2.0"/>
<rect x="1533.0" y="590.0" width="8.4" height="8.4" rx="2.0"/>
<rect x="1536.9" y="590.1" width="8.4" height="8.4" rx="2.0"/>
<rect x="1540.7" y="590.2" width="8.4" height="8.4" rx="2.0"/>
<rect x="1544.6" y="590.4" width="8.4" height="8.4" rx="2.0"/>
<rect x="1548.4" y="590.6" width="8.4" height="8.4" rx="2.0"/>
<rect x="1552.3" y="590.7" width="8.4" height="8.4" rx="2.0"/>
<rect x="1556.1" y="590.9" width="8.4" height="8.4" rx="2.0"/>
<rect x="1560.0" y="591.1" width="8.4" height="8.4" rx="2.0"/>
<rect x="1563.8" y="591.3" width="8.4" height="8.4" rx="2.0"/>
<rect x="1567.6" y="591.5" width="8.4" height="8.4" rx="2.0"/>
<rect x="1571.5" y="591.7" width="8.4" height="8.4" rx="2.0"/>
<rect x="1575.3" y="591.9" width="8.4" height="8.4" rx="2.0"/>
<rect x="1579.2" y="592.1" width="8.4" height="8.4" rx="2.0"/>
<rect x="1583.0" y="592.4" width="8.4" height="8.4" rx="2.0"/>
<rect x="1586.9" y="592.6" width="8.4" height="8.4" rx="2.0"/>
<rect x="1590.7" y="592.9" width="8.4" height="8.4" rx="2.0"/>
<rect x="1594.5" y="593.2" width="8.4" height="8.4" rx="2.0"/>
<rect x="1598.4" y="593.5" width="8.4" height="8.4" rx="2.0"/>
<rect x="1602.2" y="593.8" width="8.4" height="8.4" rx="2.0"/>
<rect x="1606.1" y="594.2" width="8.4" height="8.4" rx="2.0"/>
<rect x="1609.9" y="594.5" width="8.4" height="8.4" rx="2.0"/>
<rect x="1613.8" y="594.9" width="8.4" height="8.4" rx="2.0"/>
<rect x="1617.6" y="595.3" width="8.4" height="8.4" rx="2.0"/>
<rect x="1621.5" y="595.7" width="8.4" height="8.4" rx="2.0"/>
<rect x="1625.3" y="596.2" width="8.4" height="8.4" rx="2.0"/>
<rect x="1629.1" y="596.7" width="8.4" height="8.4" rx="2.0"/>
<rect x="1633.0" y="597.2" width="8.4" height="8.4" rx="2.0"/>
<rect x="1636.8" y="597.7" width="8.4" height="8.4" rx="2.0"/>
<rect x="1640.7" y="598.3" width="8.4" height="8.4" rx="2.0"/>
<rect x="1644.5" y="598.9" width="8.4" height="8.4" rx="2.0"/>
<rect x="1648.4" y="599.5" width="8.4" height="8.4" rx="2.0"/>
<rect x="1652.2" y="600.2" width="8.4" height="8.4" rx="2.0"/>
<rect x="1656.1" y="600.9" width="8.4" height="8.4" rx="2.0"/>
<rect x="1659.9" y="601.7" width="8.4" height="8.4" rx="2.0"/>
<rect x="1663.7" y="602.4" width="8.4" height="8.4" rx="2.0"/>
<rect x="1667.6" y="603.3" width="8.4" height="8.4" rx="2.0"/>
<rect x="1671.4" y="604.1" width="8.4" height="8.4" rx="2.0"/>
<rect x="1675.3" y="605.0" width="8.4" height="8.4" rx="2.0"/>
<rect x="1679.1" y="606.0" width="8.4" height="8.4" rx="2.0"/>
<rect x="1683.0" y="607.0" width="8.4" height="8.4" rx="2.0"/>
<rect x="1686.8" y="608.0" width="8.4" height="8.4" rx="2.0"/>
<rect x="1690.6" y="609.1" width="8.4" height="8.4" rx="2.0"/>
<rect x="1694.5" y="610.2" width="8.4" height="8.4" rx="2.0"/>
<rect x="1698.3" y="611.4" width="8.4" height="8.4" rx="2.0"/>
<rect x="1702.2" y="612.6" width="8.4" height="8.4" rx="2.0"/>
<rect x="1706.0" y="613.8" width="8.4" height="8.4" rx="2.0"/>
<rect x="1709.9" y="615.1" width="8.4" height="8.4" rx="2.0"/>
<rect x="1713.7" y="616.4" width="8.4" height="8.4" rx="2.0"/>
<rect x="1717.6" y="617.8" width="8.4" height="8.4" rx="2.0"/>
<rect x="1721.4" y="619.2" width="8.4" height="8.4" rx="2.0"/>
<rect x="1725.2" y="620.7" width="8.4" height="8.4" rx="2.0"/>
<rect x="1729.1" y="622.2" width="8.4" height="8.4" rx="2.0"/>
<rect x="1732.9" y="623.8" width="8.4" height="8.4" rx="2.0"/>
<rect x="1736.8" y="625.5" width="8.4" height="8.4" rx="2.0"/>
<rect x="1740.6" y="627.3" width="8.4" height="8.4" rx="2.0"/>
<rect x="1744.5" y="629.3" width="8.4" height="8.4" rx="2.0"/>
<rect x="1748.3" y="631.4" width="8.4" height="8.4" rx="2.0"/>
<rect x="1752.2" y="633.8" width="8.4" height="8.4" rx="2.0"/>
<rect x="1756.0" y="636.4" width="8.4" height="8.4" rx="2.0"/>
<rect x="1759.8" y="639.5" width="8.4" height="8.4" rx="2.0"/>
<rect x="1763.7" y="643.1" width="8.4" height="8.4" rx="2.0"/>
<rect x="1767.5" y="647.3" width="8.4" height="8.4" rx="2.0"/>
<rect x="1771.4" y="651.9" width="8.4" height="8.4" rx="2.0"/>
<rect x="1775.2" y="657.2" width="8.4" height="8.4" rx="2.0"/>
<rect x="1779.1" y="663.4" width="8.4" height="8.4" rx="2.0"/>
<rect x="1782.9" y="670.8" width="8.4" height="8.4" rx="2.0"/>
<rect x="1786.8" y="679.6" width="8.4" height="8.4" rx="2.0"/>
<rect x="1790.6" y="689.9" width="8.4" height="8.4" rx="2.0"/>
<rect x="1794.4" y="701.8" width="8.4" height="8.4" rx="2.0"/>
<rect x="1798.3" y="715.3" width="8.4" height="8.4" rx="2.0"/>
<rect x="1802.1" y="730.4" width="8.4" height="8.4" rx="2.0"/>
<rect x="1806.0" y="746.7" width="8.4" height="8.4" rx="2.0"/>
<rect x="1809.8" y="764.2" width="8.4" height="8.4" rx="2.0"/>
<rect x="1813.7" y="782.5" width="8.4" height="8.4" rx="2.0"/>
<rect x="1817.5" y="801.3" width="8.4" height="8.4" rx="2.0"/>
<rect x="1821.3" y="820.3" width="8.4" height="8.4" rx="2.0"/>
<rect x="1825.2" y="839.2" width="8.4" height="8.4" rx="2.0"/>
<rect x="1829.0" y="857.9" width="8.4" height="8.4" rx="2.0"/>
<rect x="1832.9" y="876.7" width="8.4" height="8.4" rx="2.0"/>
<rect x="1836.7" y="895.5" width="8.4" height="8.4" rx="2.0"/>
<rect x="1840.6" y="914.4" width="8.4" height="8.4" rx="2.0"/>
<rect x="1844.4" y="933.2" width="8.4" height="8.4" rx="2.0"/>
<rect x="1848.3" y="950.8" width="8.4" height="8.4" rx="2.0"/>
<rect x="1852.1" y="965.9" width="8.4" height="8.4" rx="2.0"/>
<rect x="1855.9" y="976.5" width="8.4" height="8.4" rx="2.0"/>
<rect x="1859.8" y="980.6" width="8.4" height="8.4" rx="2.0"/>
<rect x="1863.6" y="977.0" width="8.4" height="8.4" rx="2.0"/>
<rect x="1867.5" y="965.2" width="8.4" height="8.4" rx="2.0"/>
<rect x="1871.3" y="946.6" width="8.4" height="8.4" rx="2.0"/>
<rect x="1875.2" y="923.1" width="8.4" height="8.4" rx="2.0"/>
<rect x="1879.0" y="897.0" width="8.4" height="8.4" rx="2.0"/>
<rect x="1882.9" y="870.6" width="8.4" height="8.4" rx="2.0"/>
<rect x="1886.7" y="845.3" width="8.4" height="8.4" rx="2.0"/>
<rect x="1890.5" y="822.3" width="8.4" height="8.4" rx="2.0"/>
<rect x="1894.4" y="802.4" width="8.4" height="8.4" rx="2.0"/>
<rect x="1898.2" y="785.9" width="8.4" height="8.4" rx="2.0"/>
<rect x="1902.1" y="773.2" width="8.4" height="8.4" rx="2.0"/>
<rect x="1905.9" y="764.3" width="8.4" height="8.4" rx="2.0"/>
<rect x="1909.8" y="759.3" width="8.4" height="8.4" rx="2.0"/>
<rect x="1913.6" y="758.3" width="8.4" height="8.4" rx="2.0"/>
<rect x="1917.4" y="761.3" width="8.4" height="8.4" rx="2.0"/>
<rect x="1921.3" y="768.3" width="8.4" height="8.4" rx="2.0"/>
<rect x="1925.1" y="779.2" width="8.4" height="8.4" rx="2.0"/>
<rect x="1929.0" y="793.9" width="8.4" height="8.4" rx="2.0"/>
<rect x="1932.8" y="812.3" width="8.4" height="8.4" rx="2.0"/>
<rect x="1936.7" y="834.0" width="8.4" height="8.4" rx="2.0"/>
<rect x="1940.5" y="858.5" width="8.4" height="8.4" rx="2.0"/>
<rect x="1944.4" y="884.8" width="8.4" height="8.4" rx="2.0"/>
<rect x="1948.2" y="911.7" width="8.4" height="8.4" rx="2.0"/>
<rect x="1952.0" y="937.2" width="8.4" height="8.4" rx="2.0"/>
<rect x="1955.9" y="959.0" width="8.4" height="8.4" rx="2.0"/>
<rect x="1959.7" y="974.8" width="8.4" height="8.4" rx="2.0"/>
<rect x="1963.6" y="983.0" width="8.4" height="8.4" rx="2.0"/>
<rect x="1967.4" y="983.0" width="8.4" height="8.4" rx="2.0"/>
<rect x="1971.3" y="975.6" width="8.4" height="8.4" rx="2.0"/>
<rect x="1975.1" y="962.6" width="8.4" height="8.4" rx="2.0"/>
<rect x="1979.0" y="945.8" width="8.4" height="8.4" rx="2.0"/>
<rect x="1982.8" y="927.0" width="8.4" height="8.4" rx="2.0"/>
<rect x="1986.6" y="907.4" width="8.4" height="8.4" rx="2.0"/>
<rect x="1990.5" y="887.4" width="8.4" height="8.4" rx="2.0"/>
<rect x="1994.3" y="867.3" width="8.4" height="8.4" rx="2.0"/>
<rect x="1998.2" y="847.0" width="8.4" height="8.4" rx="2.0"/>
<rect x="2002.0" y="826.5" width="8.4" height="8.4" rx="2.0"/>
<rect x="2005.9" y="806.0" width="8.4" height="8.4" rx="2.0"/>
<rect x="2009.7" y="785.6" width="8.4" height="8.4" rx="2.0"/>
<rect x="2013.5" y="765.9" width="8.4" height="8.4" rx="2.0"/>
<rect x="2017.4" y="747.0" width="8.4" height="8.4" rx="2.0"/>
<rect x="2021.2" y="729.4" width="8.4" height="8.4" rx="2.0"/>
<rect x="2025.1" y="713.1" width="8.4" height="8.4" rx="2.0"/>
<rect x="2028.9" y="698.4" width="8.4" height="8.4" rx="2.0"/>
<rect x="2032.8" y="685.3" width="8.4" height="8.4" rx="2.0"/>
<rect x="2036.6" y="673.8" width="8.4" height="8.4" rx="2.0"/>
<rect x="2040.5" y="663.9" width="8.4" height="8.4" rx="2.0"/>
<rect x="2044.3" y="655.4" width="8.4" height="8.4" rx="2.0"/>
<rect x="2048.1" y="648.3" width="8.4" height="8.4" rx="2.0"/>
<rect x="2052.0" y="642.5" width="8.4" height="8.4" rx="2.0"/>
<rect x="2055.8" y="637.7" width="8.4" height="8.4" rx="2.0"/>
<rect x="2059.7" y="633.8" width="8.4" height="8.4" rx="2.0"/>
<rect x="2063.5" y="630.6" width="8.4" height="8.4" rx="2.0"/>
<rect x="2067.4" y="628.1" width="8.4" height="8.4" rx="2.0"/>
<rect x="2071.2" y="626.1" width="8.4" height="8.4" rx="2.0"/>
<rect x="2075.1" y="624.5" width="8.4" height="8.4" rx="2.0"/>
<rect x="2078.9" y="623.2" width="8.4" height="8.4" rx="2.0"/>
<rect x="2082.7" y="622.1" width="8.4" height="8.4" rx="2.0"/>
<rect x="2086.6" y="621.2" width="8.4" height="8.4" rx="2.0"/>
<rect x="2090.4" y="620.5" width="8.4" height="8.4" rx="2.0"/>
<rect x="2094.3" y="619.9" width="8.4" height="8.4" rx="2.0"/>
<rect x="2098.1" y="619.4" width="8.4" height="8.4" rx="2.0"/>
<rect x="2102.0" y="619.0" width="8.4" height="8.4" rx="2.0"/>
<rect x="2105.8" y="618.5" width="8.4" height="8.4" rx="2.0"/>
<rect x="2109.7" y="618.1" width="8.4" height="8.4" rx="2.0"/>
<rect x="2113.5" y="617.6" width="8.4" height="8.4" rx="2.0"/>
<rect x="2117.3" y="617.1" width="8.4" height="8.4" rx="2.0"/>
<rect x="2121.2" y="616.5" width="8.4" height="8.4" rx="2.0"/>
<rect x="2125.0" y="615.8" width="8.4" height="8.4" rx="2.0"/>
<rect x="2128.9" y="615.0" width="8.4" height="8.4" rx="2.0"/>
<rect x="2132.7" y="614.2" width="8.4" height="8.4" rx="2.0"/>
<rect x="2136.6" y="613.3" width="8.4" height="8.4" rx="2.0"/>
<rect x="2140.4" y="612.4" width="8.4" height="8.4" rx="2.0"/>
<rect x="2144.2" y="611.5" width="8.4" height="8.4" rx="2.0"/>
<rect x="2148.1" y="610.6" width="8.4" height="8.4" rx="2.0"/>
<rect x="2151.9" y="609.6" width="8.4" height="8.4" rx="2.0"/>
<rect x="2155.8" y="608.6" width="8.4" height="8.4" rx="2.0"/>
<rect x="2159.6" y="607.7" width="8.4" height="8.4" rx="2.0"/>
<rect x="2163.5" y="606.7" width="8.4" height="8.4" rx="2.0"/>
<rect x="2167.3" y="605.8" width="8.4" height="8.4" rx="2.0"/>
<rect x="2171.2" y="604.9" width="8.4" height="8.4" rx="2.0"/>
<rect x="2175.0" y="604.0" width="8.4" height="8.4" rx="2.0"/>
</g>
<g stroke="#707070" stroke-width="2.8" fill="none">
<path d="M1533.4,512.6 V1022.8 H2179.2"/>
<path d="M1524.4,588.0 H1533.4"/>
<path d="M1524.4,732.9 H1533.4"/>
<path d="M1524.4,877.9 H1533.4"/>
<path d="M1524.4,1022.8 H1533.4"/>
<path d="M1528.4,660.5 H1533.4"/>
<path d="M1528.4,805.4 H1533.4"/>
<path d="M1528.4,950.3 H1533.4"/>
<path d="M1533.4,1022.8 V1031.8"/>
<path d="M1694.8,1022.8 V1031.8"/>
<path d="M1856.3,1022.8 V1031.8"/>
<path d="M2017.8,1022.8 V1031.8"/>
<path d="M2179.2,1022.8 V1031.8"/>
<path d="M1614.1,1022.8 V1027.8"/>
<path d="M1775.6,1022.8 V1027.8"/>
<path d="M1937.0,1022.8 V1027.8"/>
<path d="M2098.5,1022.8 V1027.8"/>
</g>
<text x="1518.0" y="600.5" font-size="40.0" text-anchor="end">1.00</text>
<text x="1518.0" y="745.4" font-size="40.0" text-anchor="end">0.95</text>
<text x="1518.0" y="890.4" font-size="40.0" text-anchor="end">0.90</text>
<text x="1518.0" y="1035.3" font-size="40.0" text-anchor="end">0.85</text>
<text x="1528.1" y="1069.5" font-size="40.0" text-anchor="middle"><tspan dy="3.0">−</tspan><tspan dy="-3.0">2</tspan></text>
<text x="1689.5" y="1069.5" font-size="40.0" text-anchor="middle"><tspan dy="3.0">−</tspan><tspan dy="-3.0">1</tspan></text>
<text x="1856.3" y="1069.5" font-size="40.0" text-anchor="middle">0</text>
<text x="2017.8" y="1069.5" font-size="40.0" text-anchor="middle">1</text>
<text x="2179.2" y="1069.5" font-size="40.0" text-anchor="middle">2</text>
</svg></div></body></html>
